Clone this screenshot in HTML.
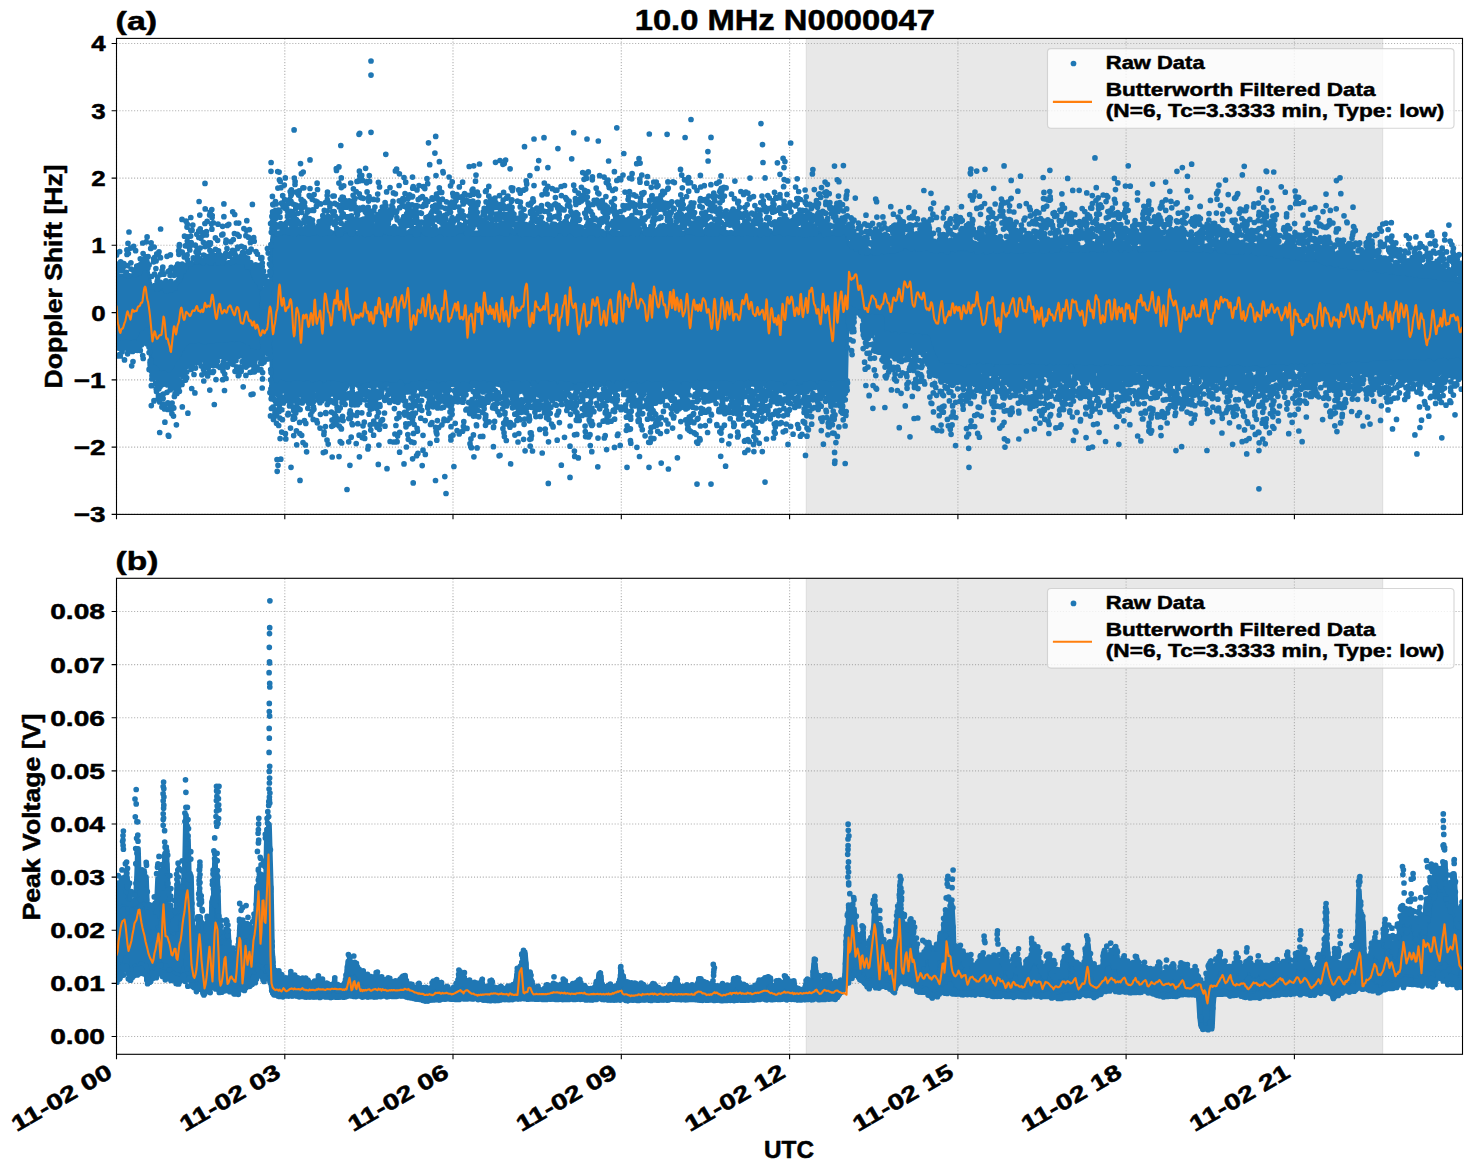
<!DOCTYPE html>
<html><head><meta charset="utf-8"><title>10.0 MHz N0000047</title>
<style>html,body{margin:0;padding:0;background:#fff}svg{display:block}svg text{font-family:"Liberation Sans",sans-serif;font-weight:700}</style></head>
<body>
<svg width="1472" height="1172" viewBox="0 0 1472 1172" font-weight="bold" fill="#000">
<rect width="1472" height="1172" fill="#fff"/>
<defs><clipPath id="c1"><rect x="116.5" y="38.4" width="1346" height="476"/></clipPath><clipPath id="c2"><rect x="116.5" y="578.3" width="1346" height="476"/></clipPath></defs>
<rect x="806.3" y="38.4" width="576.4" height="476" fill="#e8e8e8"/>
<path d="M806.3 38.4V514.4M1382.7 38.4V514.4" stroke="#dcdcdc" stroke-width="1" fill="none"/>
<path d="M116.5 514.4V38.4M284.8 514.4V38.4M453 514.4V38.4M621.3 514.4V38.4M789.6 514.4V38.4M957.9 514.4V38.4M1126.1 514.4V38.4M1294.4 514.4V38.4M116.5 514.4H1462.5M116.5 447.1H1462.5M116.5 379.9H1462.5M116.5 312.6H1462.5M116.5 245.3H1462.5M116.5 178.1H1462.5M116.5 110.8H1462.5M116.5 43.5H1462.5" stroke="#b0b0b0" stroke-width="1.1" stroke-dasharray="1.1 1.83" fill="none"/>
<g clip-path="url(#c1)">
<path d="M113.5 274.9L114.5 274.9L115.5 274.9L116.5 274.9L117.5 274.9L118.5 274.9L119.5 274.9L120.5 274.9L121.5 274.9L122.5 274.9L123.5 274.9L124.5 274.9L125.5 274.9L126.5 274.9L127.5 274.9L128.5 274.9L129.5 274.9L130.5 274.9L131.5 274.9L132.5 274.9L133.5 274.9L134.5 274.9L135.5 274.9L136.5 274.9L137.5 274.9L138.5 273.9L139.5 272.4L140.5 270.9L141.5 269.4L142.5 268.1L143.5 267.8L144.5 267.6L145.5 267.3L146.5 267L147.5 267.5L148.5 272.4L149.5 277.3L150.5 282.1L151.5 286L152.5 286.4L153.5 286.8L154.5 287.1L155.5 287.5L156.5 287.9L157.5 288.3L158.5 288.7L159.5 288.9L160.5 289.1L161.5 289.3L162.5 289.4L163.5 289.6L164.5 289.8L165.5 290L166.5 290.2L167.5 290.4L168.5 290.6L169.5 290.8L170.5 291L171.5 291.2L172.5 291.4L173.5 289.8L174.5 288.1L175.5 286.4L176.5 284.7L177.5 283L178.5 281.3L179.5 279.6L180.5 278L181.5 276.3L182.5 274.6L183.5 273L184.5 271.3L185.5 269.7L186.5 268L187.5 266.3L188.5 264.7L189.5 263.1L190.5 263.1L191.5 263L192.5 263L193.5 263L194.5 262.9L195.5 262.9L196.5 262.9L197.5 262.8L198.5 262.8L199.5 262.7L200.5 262.7L201.5 262.7L202.5 262.6L203.5 262.6L204.5 262.6L205.5 262.5L206.5 262.5L207.5 262.4L208.5 262.4L209.5 262.4L210.5 262.3L211.5 262.3L212.5 262.3L213.5 262.2L214.5 262.2L215.5 262.1L216.5 262.1L217.5 262.1L218.5 262L219.5 262L220.5 261.9L221.5 261.9L222.5 261.9L223.5 261.8L224.5 261.8L225.5 261.8L226.5 261.7L227.5 261.7L228.5 261.6L229.5 261.6L230.5 261.6L231.5 261.5L232.5 261.5L233.5 261.5L234.5 261.4L235.5 261.4L236.5 261.3L237.5 261.3L238.5 261.3L239.5 261.2L240.5 261.2L241.5 261.2L242.5 261.1L243.5 262L244.5 263.1L245.5 264.3L246.5 265.4L247.5 266.5L248.5 267.7L249.5 268.8L250.5 269.9L251.5 271.1L252.5 272.2L253.5 273.3L254.5 275L255.5 277.2L256.5 279.3L257.5 281.5L258.5 283.6L259.5 285.7L260.5 286.7L261.5 286.1L262.5 307.4L263.5 306.8L264.5 306.2L265.5 305.6L266.5 305L267.5 304.4L268.5 303.8L269.5 297.5L270.5 283.9L271.5 239.6L272.5 231.9L273.5 231.9L274.5 231.9L275.5 231.9L276.5 231.9L277.5 231.9L278.5 231.9L279.5 231.9L280.5 231.9L281.5 231.9L282.5 231.9L283.5 231.9L284.5 231.9L285.5 231.9L286.5 231.9L287.5 231.9L288.5 231.9L289.5 231.9L290.5 231.9L291.5 231.9L292.5 231.9L293.5 231.9L294.5 231.9L295.5 231.9L296.5 231.9L297.5 231.9L298.5 231.9L299.5 231.9L300.5 231.9L301.5 231.9L302.5 231.9L303.5 231.9L304.5 231.9L305.5 231.9L306.5 231.9L307.5 231.9L308.5 231.9L309.5 231.9L310.5 231.9L311.5 231.9L312.5 231.9L313.5 231.9L314.5 231.9L315.5 231.9L316.5 231.9L317.5 231.9L318.5 231.9L319.5 231.9L320.5 231.9L321.5 231.9L322.5 231.9L323.5 231.9L324.5 231.9L325.5 231.9L326.5 231.9L327.5 231.9L328.5 231.9L329.5 231.9L330.5 231.9L331.5 231.9L332.5 231.9L333.5 231.9L334.5 231.9L335.5 231.9L336.5 231.9L337.5 231.9L338.5 231.9L339.5 231.9L340.5 231.9L341.5 231.9L342.5 231.9L343.5 231.9L344.5 231.9L345.5 231.9L346.5 231.9L347.5 231.9L348.5 231.9L349.5 231.9L350.5 231.9L351.5 231.9L352.5 231.9L353.5 231.9L354.5 231.9L355.5 231.9L356.5 231.9L357.5 231.9L358.5 231.9L359.5 231.9L360.5 231.9L361.5 231.9L362.5 231.9L363.5 231.9L364.5 231.9L365.5 231.9L366.5 231.9L367.5 231.9L368.5 231.9L369.5 231.9L370.5 231.9L371.5 231.9L372.5 231.9L373.5 231.9L374.5 231.9L375.5 231.9L376.5 231.9L377.5 231.9L378.5 231.9L379.5 231.9L380.5 231.9L381.5 231.9L382.5 231.9L383.5 231.9L384.5 231.9L385.5 231.9L386.5 231.9L387.5 231.9L388.5 231.9L389.5 231.9L390.5 231.9L391.5 231.9L392.5 231.9L393.5 231.9L394.5 231.9L395.5 231.9L396.5 231.9L397.5 231.9L398.5 231.9L399.5 231.9L400.5 231.9L401.5 231.9L402.5 231.9L403.5 231.9L404.5 231.9L405.5 231.9L406.5 231.9L407.5 231.9L408.5 231.9L409.5 231.9L410.5 231.9L411.5 231.9L412.5 231.9L413.5 231.9L414.5 231.9L415.5 231.9L416.5 231.9L417.5 231.9L418.5 231.9L419.5 231.9L420.5 231.9L421.5 231.9L422.5 231.9L423.5 231.9L424.5 231.9L425.5 231.9L426.5 231.9L427.5 231.9L428.5 231.9L429.5 231.9L430.5 231.9L431.5 231.9L432.5 231.9L433.5 231.9L434.5 231.9L435.5 231.9L436.5 231.9L437.5 231.9L438.5 231.9L439.5 231.9L440.5 231.9L441.5 231.9L442.5 231.9L443.5 231.9L444.5 231.9L445.5 231.9L446.5 231.9L447.5 231.9L448.5 231.9L449.5 231.9L450.5 231.9L451.5 231.9L452.5 231.9L453.5 231.9L454.5 231.9L455.5 231.9L456.5 231.9L457.5 231.9L458.5 231.9L459.5 231.9L460.5 231.9L461.5 231.9L462.5 231.9L463.5 231.9L464.5 231.9L465.5 231.9L466.5 231.9L467.5 231.9L468.5 231.9L469.5 231.9L470.5 231.9L471.5 231.9L472.5 231.9L473.5 231.9L474.5 231.9L475.5 231.9L476.5 231.9L477.5 231.9L478.5 231.9L479.5 231.9L480.5 231.9L481.5 231.9L482.5 231.9L483.5 231.9L484.5 231.9L485.5 231.9L486.5 231.9L487.5 231.9L488.5 231.9L489.5 231.9L490.5 231.9L491.5 231.9L492.5 231.9L493.5 231.9L494.5 231.9L495.5 231.9L496.5 231.9L497.5 231.9L498.5 231.9L499.5 231.9L500.5 231.9L501.5 231.9L502.5 231.9L503.5 231.9L504.5 231.9L505.5 231.9L506.5 231.9L507.5 231.9L508.5 231.9L509.5 231.9L510.5 231.9L511.5 231.9L512.5 231.9L513.5 231.9L514.5 231.9L515.5 231.9L516.5 231.9L517.5 231.9L518.5 231.9L519.5 231.9L520.5 231.9L521.5 231.9L522.5 231.9L523.5 231.9L524.5 231.9L525.5 231.9L526.5 231.9L527.5 231.9L528.5 231.9L529.5 231.9L530.5 231.9L531.5 231.9L532.5 231.9L533.5 231.9L534.5 231.9L535.5 231.9L536.5 231.9L537.5 231.9L538.5 231.9L539.5 231.9L540.5 231.9L541.5 231.9L542.5 231.9L543.5 231.9L544.5 231.9L545.5 231.9L546.5 231.9L547.5 231.9L548.5 231.9L549.5 231.9L550.5 231.9L551.5 231.9L552.5 231.9L553.5 231.9L554.5 231.9L555.5 231.9L556.5 231.9L557.5 231.9L558.5 231.9L559.5 231.9L560.5 231.9L561.5 231.9L562.5 231.9L563.5 231.9L564.5 231.9L565.5 231.9L566.5 231.9L567.5 231.9L568.5 231.9L569.5 231.9L570.5 231.9L571.5 231.9L572.5 231.9L573.5 231.9L574.5 231.9L575.5 231.9L576.5 231.9L577.5 231.9L578.5 231.9L579.5 231.9L580.5 231.9L581.5 231.9L582.5 231.9L583.5 231.9L584.5 231.9L585.5 231.9L586.5 231.9L587.5 231.9L588.5 231.9L589.5 231.9L590.5 231.9L591.5 231.9L592.5 231.9L593.5 231.9L594.5 231.9L595.5 231.9L596.5 231.9L597.5 231.9L598.5 231.9L599.5 231.9L600.5 231.9L601.5 231.9L602.5 231.9L603.5 231.9L604.5 231.9L605.5 231.9L606.5 231.9L607.5 231.9L608.5 231.9L609.5 231.9L610.5 231.9L611.5 231.9L612.5 231.9L613.5 231.9L614.5 231.9L615.5 231.9L616.5 231.9L617.5 231.9L618.5 231.9L619.5 231.9L620.5 231.9L621.5 231.9L622.5 231.9L623.5 231.9L624.5 231.9L625.5 231.9L626.5 231.9L627.5 231.9L628.5 231.9L629.5 231.9L630.5 231.9L631.5 231.9L632.5 231.9L633.5 231.9L634.5 231.9L635.5 231.9L636.5 231.9L637.5 231.9L638.5 231.9L639.5 231.9L640.5 231.9L641.5 231.9L642.5 231.9L643.5 231.9L644.5 231.9L645.5 231.9L646.5 231.9L647.5 231.9L648.5 231.9L649.5 231.9L650.5 231.9L651.5 231.9L652.5 231.9L653.5 231.9L654.5 231.9L655.5 231.9L656.5 231.9L657.5 231.9L658.5 231.9L659.5 231.9L660.5 231.9L661.5 231.9L662.5 231.9L663.5 231.9L664.5 231.9L665.5 231.9L666.5 231.9L667.5 231.9L668.5 231.9L669.5 231.9L670.5 231.9L671.5 231.9L672.5 231.9L673.5 231.9L674.5 231.9L675.5 231.9L676.5 231.9L677.5 231.9L678.5 231.9L679.5 231.9L680.5 231.9L681.5 231.9L682.5 231.9L683.5 231.9L684.5 231.9L685.5 231.9L686.5 231.9L687.5 231.9L688.5 231.9L689.5 231.9L690.5 231.9L691.5 231.9L692.5 231.9L693.5 231.9L694.5 231.9L695.5 231.9L696.5 231.9L697.5 231.9L698.5 231.9L699.5 231.9L700.5 231.9L701.5 231.9L702.5 231.9L703.5 231.9L704.5 231.9L705.5 231.9L706.5 231.9L707.5 231.9L708.5 231.9L709.5 231.9L710.5 231.9L711.5 231.9L712.5 231.9L713.5 231.9L714.5 231.9L715.5 231.9L716.5 231.9L717.5 231.9L718.5 231.9L719.5 231.9L720.5 231.9L721.5 231.9L722.5 231.9L723.5 231.9L724.5 231.9L725.5 231.9L726.5 231.9L727.5 231.9L728.5 231.9L729.5 231.9L730.5 231.9L731.5 231.9L732.5 231.9L733.5 231.9L734.5 231.9L735.5 231.9L736.5 231.9L737.5 231.9L738.5 231.9L739.5 231.9L740.5 231.9L741.5 231.9L742.5 231.9L743.5 231.9L744.5 231.9L745.5 231.9L746.5 231.9L747.5 231.9L748.5 231.9L749.5 231.9L750.5 231.9L751.5 231.9L752.5 231.9L753.5 231.9L754.5 231.9L755.5 231.9L756.5 231.9L757.5 231.9L758.5 231.9L759.5 231.9L760.5 231.9L761.5 231.9L762.5 231.9L763.5 231.9L764.5 231.9L765.5 231.9L766.5 231.9L767.5 231.9L768.5 231.9L769.5 231.9L770.5 231.9L771.5 231.9L772.5 231.9L773.5 231.9L774.5 231.9L775.5 231.9L776.5 231.9L777.5 231.9L778.5 231.9L779.5 231.9L780.5 231.9L781.5 231.9L782.5 231.9L783.5 231.9L784.5 231.9L785.5 231.9L786.5 231.9L787.5 231.9L788.5 231.9L789.5 231.9L790.5 231.9L791.5 231.9L792.5 231.9L793.5 231.9L794.5 231.9L795.5 231.9L796.5 231.9L797.5 231.9L798.5 231.9L799.5 231.9L800.5 231.9L801.5 231.9L802.5 231.9L803.5 231.9L804.5 231.9L805.5 231.9L806.5 231.9L807.5 231.9L808.5 231.9L809.5 231.9L810.5 231.9L811.5 231.9L812.5 231.9L813.5 231.9L814.5 231.9L815.5 231.9L816.5 231.9L817.5 231.9L818.5 231.9L819.5 231.9L820.5 231.9L821.5 231.9L822.5 231.9L823.5 231.9L824.5 231.9L825.5 231.9L826.5 231.9L827.5 231.9L828.5 231.9L829.5 231.9L830.5 231.9L831.5 231.9L832.5 231.9L833.5 231.9L834.5 231.9L835.5 231.9L836.5 231.9L837.5 231.9L838.5 231.9L839.5 231.9L840.5 231.9L841.5 231.9L842.5 231.9L843.5 231.9L844.5 231.9L845.5 231.9L846.5 231.9L847.5 240.3L848.5 243.5L849.5 244L850.5 244.6L851.5 245.2L852.5 245.7L853.5 246.3L854.5 246.9L855.5 247.5L856.5 248L857.5 248.6L858.5 249.2L859.5 249.7L860.5 250.3L861.5 250.9L862.5 251.5L863.5 252L864.5 252.6L865.5 253L866.5 252.9L867.5 252.8L868.5 252.6L869.5 252.5L870.5 252.4L871.5 252.2L872.5 252.1L873.5 252L874.5 251.9L875.5 251.7L876.5 251.6L877.5 251.5L878.5 251.3L879.5 251.2L880.5 251.1L881.5 250.9L882.5 250.8L883.5 250.7L884.5 250.5L885.5 250.4L886.5 250.3L887.5 250.2L888.5 250L889.5 249.9L890.5 249.8L891.5 249.6L892.5 249.5L893.5 249.4L894.5 249.2L895.5 249.1L896.5 249L897.5 248.9L898.5 248.9L899.5 248.8L900.5 248.7L901.5 248.7L902.5 248.6L903.5 248.5L904.5 248.5L905.5 248.4L906.5 248.3L907.5 248.3L908.5 248.2L909.5 248.1L910.5 248.1L911.5 248L912.5 248L913.5 247.9L914.5 247.8L915.5 247.8L916.5 247.7L917.5 247.6L918.5 247.6L919.5 247.5L920.5 247.4L921.5 247.4L922.5 247.3L923.5 247.2L924.5 247.2L925.5 247.1L926.5 247L927.5 247.1L928.5 247.4L929.5 247.7L930.5 247.9L931.5 248.2L932.5 248.5L933.5 248.8L934.5 249L935.5 249.3L936.5 249.6L937.5 249.8L938.5 250L939.5 250L940.5 250L941.5 250L942.5 250L943.5 250L944.5 250L945.5 249.9L946.5 249.9L947.5 249.9L948.5 249.9L949.5 249.9L950.5 249.9L951.5 249.9L952.5 249.9L953.5 249.8L954.5 249.8L955.5 249.8L956.5 249.8L957.5 249.8L958.5 249.8L959.5 249.8L960.5 249.8L961.5 249.7L962.5 249.7L963.5 249.7L964.5 249.7L965.5 249.7L966.5 249.7L967.5 249.7L968.5 249.7L969.5 249.6L970.5 249.6L971.5 249.6L972.5 249.6L973.5 249.6L974.5 249.6L975.5 249.6L976.5 249.6L977.5 249.5L978.5 249.5L979.5 249.5L980.5 249.5L981.5 249.5L982.5 249.5L983.5 249.5L984.5 249.5L985.5 249.4L986.5 249.4L987.5 249.4L988.5 249.4L989.5 249.4L990.5 249.4L991.5 249.4L992.5 249.4L993.5 249.3L994.5 249.3L995.5 249.3L996.5 249.3L997.5 249.3L998.5 249.3L999.5 249.3L1000.5 249.3L1001.5 249.2L1002.5 249.2L1003.5 249.2L1004.5 249.2L1005.5 249.2L1006.5 249.2L1007.5 249.2L1008.5 249.2L1009.5 249.1L1010.5 249.1L1011.5 249.1L1012.5 249.1L1013.5 249.1L1014.5 249.1L1015.5 249.1L1016.5 249.1L1017.5 249L1018.5 249L1019.5 249L1020.5 249L1021.5 249L1022.5 249L1023.5 249L1024.5 249L1025.5 248.9L1026.5 248.9L1027.5 248.9L1028.5 248.9L1029.5 248.9L1030.5 248.9L1031.5 248.9L1032.5 248.9L1033.5 248.8L1034.5 248.8L1035.5 248.8L1036.5 248.8L1037.5 248.8L1038.5 248.8L1039.5 248.8L1040.5 248.8L1041.5 248.7L1042.5 248.7L1043.5 248.7L1044.5 248.7L1045.5 248.7L1046.5 248.7L1047.5 248.7L1048.5 248.7L1049.5 248.6L1050.5 248.6L1051.5 248.6L1052.5 248.6L1053.5 248.6L1054.5 248.6L1055.5 248.6L1056.5 248.6L1057.5 248.5L1058.5 248.5L1059.5 248.5L1060.5 248.5L1061.5 248.5L1062.5 248.5L1063.5 248.5L1064.5 248.5L1065.5 248.4L1066.5 248.4L1067.5 248.4L1068.5 248.4L1069.5 248.4L1070.5 248.4L1071.5 248.4L1072.5 248.4L1073.5 248.4L1074.5 248.3L1075.5 248.3L1076.5 248.3L1077.5 248.3L1078.5 248.3L1079.5 248.3L1080.5 248.3L1081.5 248.3L1082.5 248.2L1083.5 248.2L1084.5 248.2L1085.5 248.2L1086.5 248.2L1087.5 248.2L1088.5 248.2L1089.5 248.2L1090.5 248.1L1091.5 248.1L1092.5 248.1L1093.5 248.1L1094.5 248.1L1095.5 248.1L1096.5 248.1L1097.5 248.1L1098.5 248L1099.5 248L1100.5 248L1101.5 248L1102.5 248L1103.5 248L1104.5 248L1105.5 248L1106.5 247.9L1107.5 247.9L1108.5 247.9L1109.5 247.9L1110.5 247.9L1111.5 247.9L1112.5 247.9L1113.5 247.9L1114.5 247.8L1115.5 247.8L1116.5 247.8L1117.5 247.8L1118.5 247.8L1119.5 247.8L1120.5 247.8L1121.5 247.8L1122.5 247.7L1123.5 247.7L1124.5 247.7L1125.5 247.7L1126.5 247.7L1127.5 247.7L1128.5 247.7L1129.5 247.7L1130.5 247.6L1131.5 247.6L1132.5 247.6L1133.5 247.6L1134.5 247.6L1135.5 247.6L1136.5 247.6L1137.5 247.6L1138.5 247.5L1139.5 247.5L1140.5 247.5L1141.5 247.5L1142.5 247.5L1143.5 247.5L1144.5 247.5L1145.5 247.5L1146.5 247.4L1147.5 247.4L1148.5 247.4L1149.5 247.4L1150.5 247.4L1151.5 247.4L1152.5 247.4L1153.5 247.4L1154.5 247.3L1155.5 247.3L1156.5 247.3L1157.5 247.3L1158.5 247.3L1159.5 247.3L1160.5 247.3L1161.5 247.3L1162.5 247.2L1163.5 247.2L1164.5 247.2L1165.5 247.2L1166.5 247.2L1167.5 247.2L1168.5 247.2L1169.5 247.2L1170.5 247.1L1171.5 247.1L1172.5 247.1L1173.5 247.1L1174.5 247.1L1175.5 247.1L1176.5 247.1L1177.5 247.1L1178.5 247L1179.5 247L1180.5 247L1181.5 247L1182.5 247L1183.5 247.1L1184.5 247.1L1185.5 247.2L1186.5 247.3L1187.5 247.3L1188.5 247.4L1189.5 247.4L1190.5 247.5L1191.5 247.6L1192.5 247.6L1193.5 247.7L1194.5 247.7L1195.5 247.8L1196.5 247.9L1197.5 247.9L1198.5 248L1199.5 248L1200.5 248.1L1201.5 248.2L1202.5 248.2L1203.5 248.3L1204.5 248.3L1205.5 248.4L1206.5 248.5L1207.5 248.5L1208.5 248.6L1209.5 248.6L1210.5 248.7L1211.5 248.8L1212.5 248.8L1213.5 248.9L1214.5 248.9L1215.5 249L1216.5 249.1L1217.5 249.1L1218.5 249.2L1219.5 249.2L1220.5 249.3L1221.5 249.4L1222.5 249.4L1223.5 249.5L1224.5 249.5L1225.5 249.6L1226.5 249.7L1227.5 249.7L1228.5 249.8L1229.5 249.8L1230.5 249.9L1231.5 250L1232.5 250L1233.5 250.1L1234.5 250.1L1235.5 250.2L1236.5 250.3L1237.5 250.3L1238.5 250.4L1239.5 250.4L1240.5 250.5L1241.5 250.6L1242.5 250.6L1243.5 250.7L1244.5 250.7L1245.5 250.8L1246.5 250.9L1247.5 250.9L1248.5 251L1249.5 251L1250.5 251.1L1251.5 251.2L1252.5 251.2L1253.5 251.3L1254.5 251.3L1255.5 251.4L1256.5 251.5L1257.5 251.5L1258.5 251.6L1259.5 251.6L1260.5 251.7L1261.5 251.8L1262.5 251.8L1263.5 251.9L1264.5 251.9L1265.5 252L1266.5 252.1L1267.5 252.2L1268.5 252.4L1269.5 252.6L1270.5 252.7L1271.5 252.9L1272.5 253L1273.5 253.2L1274.5 253.4L1275.5 253.5L1276.5 253.7L1277.5 253.8L1278.5 254L1279.5 254.2L1280.5 254.3L1281.5 254.5L1282.5 254.6L1283.5 254.8L1284.5 255L1285.5 255.1L1286.5 255.3L1287.5 255.4L1288.5 255.6L1289.5 255.7L1290.5 255.9L1291.5 256.1L1292.5 256.2L1293.5 256.4L1294.5 256.5L1295.5 256.7L1296.5 256.9L1297.5 257L1298.5 257.2L1299.5 257.3L1300.5 257.5L1301.5 257.7L1302.5 257.8L1303.5 258L1304.5 258.1L1305.5 258.3L1306.5 258.5L1307.5 258.6L1308.5 258.8L1309.5 258.9L1310.5 259.1L1311.5 259.3L1312.5 259.4L1313.5 259.6L1314.5 259.7L1315.5 259.9L1316.5 260.1L1317.5 260.2L1318.5 260.4L1319.5 260.5L1320.5 260.7L1321.5 260.9L1322.5 261L1323.5 261.2L1324.5 261.3L1325.5 261.5L1326.5 261.7L1327.5 261.8L1328.5 262L1329.5 262.1L1330.5 262.3L1331.5 262.5L1332.5 262.6L1333.5 262.8L1334.5 262.9L1335.5 263.1L1336.5 263.3L1337.5 263.4L1338.5 263.6L1339.5 263.7L1340.5 263.9L1341.5 264.1L1342.5 264.2L1343.5 264.4L1344.5 264.5L1345.5 264.7L1346.5 264.9L1347.5 265L1348.5 265.2L1349.5 265.3L1350.5 265.5L1351.5 265.6L1352.5 265.8L1353.5 265.9L1354.5 266L1355.5 266.1L1356.5 266.3L1357.5 266.4L1358.5 266.5L1359.5 266.6L1360.5 266.8L1361.5 266.9L1362.5 267L1363.5 267.1L1364.5 267.3L1365.5 267.4L1366.5 267.5L1367.5 267.6L1368.5 267.8L1369.5 267.9L1370.5 268L1371.5 268.1L1372.5 268.3L1373.5 268.4L1374.5 268.5L1375.5 268.7L1376.5 268.8L1377.5 268.9L1378.5 269L1379.5 269.2L1380.5 269.3L1381.5 269.4L1382.5 269.5L1383.5 269.7L1384.5 269.8L1385.5 269.9L1386.5 270L1387.5 270.2L1388.5 270.3L1389.5 270.4L1390.5 270.5L1391.5 270.7L1392.5 270.8L1393.5 270.9L1394.5 271L1395.5 271.2L1396.5 271.3L1397.5 271.4L1398.5 271.5L1399.5 271.7L1400.5 271.8L1401.5 271.9L1402.5 272.1L1403.5 272.2L1404.5 272.3L1405.5 272.4L1406.5 272.6L1407.5 272.7L1408.5 272.8L1409.5 273L1410.5 273.1L1411.5 273.2L1412.5 273.4L1413.5 273.5L1414.5 273.7L1415.5 273.8L1416.5 273.9L1417.5 274.1L1418.5 274.2L1419.5 274.3L1420.5 274.5L1421.5 274.6L1422.5 274.8L1423.5 274.9L1424.5 275L1425.5 275.2L1426.5 275.3L1427.5 275.5L1428.5 275.6L1429.5 275.7L1430.5 275.9L1431.5 276L1432.5 276.1L1433.5 276.3L1434.5 276.4L1435.5 276.6L1436.5 276.7L1437.5 276.8L1438.5 277L1439.5 277.1L1440.5 277.2L1441.5 277.4L1442.5 277.5L1443.5 277.7L1444.5 277.8L1445.5 277.9L1446.5 278.1L1447.5 278.2L1448.5 278.3L1449.5 278.5L1450.5 278.6L1451.5 278.8L1452.5 278.9L1453.5 279L1454.5 279.2L1455.5 279.3L1456.5 279.5L1457.5 279.6L1458.5 279.7L1459.5 279.9L1460.5 280L1461.5 280.1L1462.5 280.3L1463.5 280.3L1464.5 280.3L1465.5 280.3L1465.5 361L1464.5 361L1463.5 361L1462.5 361L1461.5 361.1L1460.5 361.1L1459.5 361.2L1458.5 361.2L1457.5 361.2L1456.5 361.3L1455.5 361.3L1454.5 361.4L1453.5 361.4L1452.5 361.5L1451.5 361.5L1450.5 361.5L1449.5 361.6L1448.5 361.6L1447.5 361.7L1446.5 361.7L1445.5 361.7L1444.5 361.8L1443.5 361.8L1442.5 361.9L1441.5 361.9L1440.5 362L1439.5 362L1438.5 362L1437.5 362.1L1436.5 362.1L1435.5 362.2L1434.5 362.2L1433.5 362.2L1432.5 362.3L1431.5 362.3L1430.5 362.4L1429.5 362.4L1428.5 362.5L1427.5 362.5L1426.5 362.5L1425.5 362.6L1424.5 362.6L1423.5 362.7L1422.5 362.7L1421.5 362.8L1420.5 362.8L1419.5 362.8L1418.5 362.9L1417.5 362.9L1416.5 363L1415.5 363L1414.5 363L1413.5 363.1L1412.5 363.1L1411.5 363.2L1410.5 363.2L1409.5 363.3L1408.5 363.3L1407.5 363.3L1406.5 363.4L1405.5 363.4L1404.5 363.5L1403.5 363.5L1402.5 363.6L1401.5 363.7L1400.5 363.7L1399.5 363.8L1398.5 363.8L1397.5 363.9L1396.5 363.9L1395.5 364L1394.5 364L1393.5 364.1L1392.5 364.1L1391.5 364.2L1390.5 364.2L1389.5 364.3L1388.5 364.4L1387.5 364.4L1386.5 364.5L1385.5 364.5L1384.5 364.6L1383.5 364.6L1382.5 364.7L1381.5 364.7L1380.5 364.8L1379.5 364.8L1378.5 364.9L1377.5 364.9L1376.5 365L1375.5 365.1L1374.5 365.1L1373.5 365.2L1372.5 365.2L1371.5 365.3L1370.5 365.3L1369.5 365.4L1368.5 365.4L1367.5 365.5L1366.5 365.5L1365.5 365.6L1364.5 365.6L1363.5 365.7L1362.5 365.8L1361.5 365.8L1360.5 365.9L1359.5 365.9L1358.5 366L1357.5 366L1356.5 366.1L1355.5 366.1L1354.5 366.2L1353.5 366.2L1352.5 366.3L1351.5 366.4L1350.5 366.4L1349.5 366.4L1348.5 366.5L1347.5 366.5L1346.5 366.5L1345.5 366.6L1344.5 366.6L1343.5 366.6L1342.5 366.7L1341.5 366.7L1340.5 366.7L1339.5 366.8L1338.5 366.8L1337.5 366.8L1336.5 366.9L1335.5 366.9L1334.5 366.9L1333.5 366.9L1332.5 367L1331.5 367L1330.5 367L1329.5 367.1L1328.5 367.1L1327.5 367.1L1326.5 367.2L1325.5 367.2L1324.5 367.2L1323.5 367.3L1322.5 367.3L1321.5 367.3L1320.5 367.4L1319.5 367.4L1318.5 367.4L1317.5 367.5L1316.5 367.5L1315.5 367.5L1314.5 367.6L1313.5 367.6L1312.5 367.6L1311.5 367.7L1310.5 367.7L1309.5 367.7L1308.5 367.7L1307.5 367.8L1306.5 367.8L1305.5 367.8L1304.5 367.9L1303.5 367.9L1302.5 367.9L1301.5 368L1300.5 368L1299.5 368L1298.5 368.1L1297.5 368.1L1296.5 368.1L1295.5 368.2L1294.5 368.2L1293.5 368.2L1292.5 368.3L1291.5 368.3L1290.5 368.3L1289.5 368.4L1288.5 368.4L1287.5 368.4L1286.5 368.5L1285.5 368.5L1284.5 368.5L1283.5 368.5L1282.5 368.6L1281.5 368.6L1280.5 368.6L1279.5 368.7L1278.5 368.7L1277.5 368.7L1276.5 368.8L1275.5 368.8L1274.5 368.8L1273.5 368.9L1272.5 368.9L1271.5 368.9L1270.5 369L1269.5 369L1268.5 369L1267.5 369.1L1266.5 369.1L1265.5 369.1L1264.5 369.1L1263.5 369.1L1262.5 369.1L1261.5 369.2L1260.5 369.2L1259.5 369.2L1258.5 369.2L1257.5 369.2L1256.5 369.2L1255.5 369.2L1254.5 369.2L1253.5 369.3L1252.5 369.3L1251.5 369.3L1250.5 369.3L1249.5 369.3L1248.5 369.3L1247.5 369.3L1246.5 369.3L1245.5 369.3L1244.5 369.4L1243.5 369.4L1242.5 369.4L1241.5 369.4L1240.5 369.4L1239.5 369.4L1238.5 369.4L1237.5 369.4L1236.5 369.5L1235.5 369.5L1234.5 369.5L1233.5 369.5L1232.5 369.5L1231.5 369.5L1230.5 369.5L1229.5 369.5L1228.5 369.6L1227.5 369.6L1226.5 369.6L1225.5 369.6L1224.5 369.6L1223.5 369.6L1222.5 369.6L1221.5 369.6L1220.5 369.6L1219.5 369.7L1218.5 369.7L1217.5 369.7L1216.5 369.7L1215.5 369.7L1214.5 369.7L1213.5 369.7L1212.5 369.7L1211.5 369.8L1210.5 369.8L1209.5 369.8L1208.5 369.8L1207.5 369.8L1206.5 369.8L1205.5 369.8L1204.5 369.8L1203.5 369.9L1202.5 369.9L1201.5 369.9L1200.5 369.9L1199.5 369.9L1198.5 369.9L1197.5 369.9L1196.5 369.9L1195.5 369.9L1194.5 370L1193.5 370L1192.5 370L1191.5 370L1190.5 370L1189.5 370L1188.5 370L1187.5 370L1186.5 370.1L1185.5 370.1L1184.5 370.1L1183.5 370.1L1182.5 370.1L1181.5 370.1L1180.5 370.1L1179.5 370.1L1178.5 370.1L1177.5 370L1176.5 370L1175.5 370L1174.5 370L1173.5 370L1172.5 370L1171.5 370L1170.5 370L1169.5 369.9L1168.5 369.9L1167.5 369.9L1166.5 369.9L1165.5 369.9L1164.5 369.9L1163.5 369.9L1162.5 369.9L1161.5 369.8L1160.5 369.8L1159.5 369.8L1158.5 369.8L1157.5 369.8L1156.5 369.8L1155.5 369.8L1154.5 369.8L1153.5 369.7L1152.5 369.7L1151.5 369.7L1150.5 369.7L1149.5 369.7L1148.5 369.7L1147.5 369.7L1146.5 369.7L1145.5 369.7L1144.5 369.6L1143.5 369.6L1142.5 369.6L1141.5 369.6L1140.5 369.6L1139.5 369.6L1138.5 369.6L1137.5 369.6L1136.5 369.5L1135.5 369.5L1134.5 369.5L1133.5 369.5L1132.5 369.5L1131.5 369.5L1130.5 369.5L1129.5 369.5L1128.5 369.4L1127.5 369.4L1126.5 369.4L1125.5 369.4L1124.5 369.4L1123.5 369.4L1122.5 369.4L1121.5 369.4L1120.5 369.3L1119.5 369.3L1118.5 369.3L1117.5 369.3L1116.5 369.3L1115.5 369.3L1114.5 369.3L1113.5 369.3L1112.5 369.2L1111.5 369.2L1110.5 369.2L1109.5 369.2L1108.5 369.2L1107.5 369.2L1106.5 369.2L1105.5 369.2L1104.5 369.1L1103.5 369.1L1102.5 369.1L1101.5 369.1L1100.5 369.1L1099.5 369.1L1098.5 369.1L1097.5 369.1L1096.5 369L1095.5 369L1094.5 369L1093.5 369L1092.5 369L1091.5 369L1090.5 369L1089.5 369L1088.5 368.9L1087.5 368.9L1086.5 368.9L1085.5 368.9L1084.5 368.9L1083.5 368.9L1082.5 368.9L1081.5 368.9L1080.5 368.8L1079.5 368.8L1078.5 368.8L1077.5 368.8L1076.5 368.8L1075.5 368.8L1074.5 368.8L1073.5 368.8L1072.5 368.7L1071.5 368.7L1070.5 368.7L1069.5 368.7L1068.5 368.7L1067.5 368.7L1066.5 368.7L1065.5 368.7L1064.5 368.6L1063.5 368.6L1062.5 368.6L1061.5 368.6L1060.5 368.6L1059.5 368.6L1058.5 368.6L1057.5 368.6L1056.5 368.5L1055.5 368.5L1054.5 368.5L1053.5 368.5L1052.5 368.5L1051.5 368.5L1050.5 368.5L1049.5 368.5L1048.5 368.4L1047.5 368.4L1046.5 368.4L1045.5 368.4L1044.5 368.4L1043.5 368.4L1042.5 368.4L1041.5 368.4L1040.5 368.3L1039.5 368.3L1038.5 368.3L1037.5 368.3L1036.5 368.3L1035.5 368.3L1034.5 368.3L1033.5 368.3L1032.5 368.2L1031.5 368.2L1030.5 368.2L1029.5 368.2L1028.5 368.2L1027.5 368.2L1026.5 368.2L1025.5 368.2L1024.5 368.1L1023.5 368.1L1022.5 368.1L1021.5 368.1L1020.5 368.1L1019.5 368.1L1018.5 368.1L1017.5 368.1L1016.5 368L1015.5 368L1014.5 368L1013.5 368L1012.5 368L1011.5 368L1010.5 368L1009.5 368L1008.5 368L1007.5 367.9L1006.5 367.9L1005.5 367.9L1004.5 367.9L1003.5 367.9L1002.5 367.9L1001.5 367.9L1000.5 367.9L999.5 367.8L998.5 367.8L997.5 367.8L996.5 367.8L995.5 367.8L994.5 367.8L993.5 367.8L992.5 367.8L991.5 367.7L990.5 367.7L989.5 367.7L988.5 367.7L987.5 367.7L986.5 367.7L985.5 367.7L984.5 367.7L983.5 367.6L982.5 367.6L981.5 367.6L980.5 367.6L979.5 367.6L978.5 367.6L977.5 367.6L976.5 367.6L975.5 367.5L974.5 367.5L973.5 367.5L972.5 367.5L971.5 367.5L970.5 367.5L969.5 367.5L968.5 367.5L967.5 367.4L966.5 367.4L965.5 367.4L964.5 367.4L963.5 367.4L962.5 367.4L961.5 367.4L960.5 367.4L959.5 367.3L958.5 367.3L957.5 367.3L956.5 367.3L955.5 367.3L954.5 367.3L953.5 367.3L952.5 367.3L951.5 367.2L950.5 367.2L949.5 367.2L948.5 367.2L947.5 367.2L946.5 367.2L945.5 367.2L944.5 367.2L943.5 367.1L942.5 367.1L941.5 367.1L940.5 367.1L939.5 367.1L938.5 367.1L937.5 365.2L936.5 362.6L935.5 360L934.5 357.4L933.5 354.8L932.5 352.2L931.5 349.6L930.5 346.9L929.5 344.3L928.5 341.7L927.5 339.1L926.5 337.8L925.5 337.7L924.5 337.7L923.5 337.6L922.5 337.5L921.5 337.5L920.5 337.4L919.5 337.3L918.5 337.3L917.5 337.2L916.5 337.1L915.5 337.1L914.5 337L913.5 336.9L912.5 336.9L911.5 336.8L910.5 336.7L909.5 336.7L908.5 336.6L907.5 336.5L906.5 336.5L905.5 336.4L904.5 336.3L903.5 336.3L902.5 336.2L901.5 336.1L900.5 336.1L899.5 336L898.5 336L897.5 335.9L896.5 335.8L895.5 335.7L894.5 335.6L893.5 335.5L892.5 335.3L891.5 335.2L890.5 335.1L889.5 334.9L888.5 334.8L887.5 334.7L886.5 334.5L885.5 334.4L884.5 334.3L883.5 334.1L882.5 334L881.5 318.7L880.5 318.6L879.5 318.5L878.5 318.4L877.5 318.3L876.5 318.3L875.5 318.2L874.5 318.1L873.5 318L872.5 317.9L871.5 317.8L870.5 317.8L869.5 317.7L868.5 317.6L867.5 317.5L866.5 317.4L865.5 317.3L864.5 316.9L863.5 316.3L862.5 315.7L861.5 315.2L860.5 314.6L859.5 314L858.5 313.4L857.5 312.9L856.5 312.3L855.5 311.7L854.5 311.2L853.5 310.6L852.5 310L851.5 309.5L850.5 308.9L849.5 308.3L848.5 307.7L847.5 336.8L846.5 385.2L845.5 385.2L844.5 385.2L843.5 385.2L842.5 385.2L841.5 385.2L840.5 385.2L839.5 385.2L838.5 385.2L837.5 385.2L836.5 385.2L835.5 385.2L834.5 385.2L833.5 385.2L832.5 385.2L831.5 385.2L830.5 385.2L829.5 385.2L828.5 385.2L827.5 385.2L826.5 385.2L825.5 385.2L824.5 385.2L823.5 385.2L822.5 385.2L821.5 385.2L820.5 385.2L819.5 385.2L818.5 385.2L817.5 385.2L816.5 385.2L815.5 385.2L814.5 385.2L813.5 385.2L812.5 385.2L811.5 385.2L810.5 385.2L809.5 385.2L808.5 385.2L807.5 385.2L806.5 385.2L805.5 385.2L804.5 385.2L803.5 385.2L802.5 385.2L801.5 385.2L800.5 385.2L799.5 385.2L798.5 385.2L797.5 385.2L796.5 385.2L795.5 385.2L794.5 385.2L793.5 385.2L792.5 385.2L791.5 385.2L790.5 385.2L789.5 385.2L788.5 385.2L787.5 385.2L786.5 385.2L785.5 385.2L784.5 385.2L783.5 385.2L782.5 385.2L781.5 385.2L780.5 385.2L779.5 385.2L778.5 385.2L777.5 385.2L776.5 385.2L775.5 385.2L774.5 385.2L773.5 385.2L772.5 385.2L771.5 385.2L770.5 385.2L769.5 385.2L768.5 385.2L767.5 385.2L766.5 385.2L765.5 385.2L764.5 385.2L763.5 385.2L762.5 385.2L761.5 385.2L760.5 385.2L759.5 385.2L758.5 385.2L757.5 385.2L756.5 385.2L755.5 385.2L754.5 385.2L753.5 385.2L752.5 385.2L751.5 385.2L750.5 385.2L749.5 385.2L748.5 385.2L747.5 385.2L746.5 385.2L745.5 385.2L744.5 385.2L743.5 385.2L742.5 385.2L741.5 385.2L740.5 385.2L739.5 385.2L738.5 385.2L737.5 385.2L736.5 385.2L735.5 385.2L734.5 385.2L733.5 385.2L732.5 385.2L731.5 385.2L730.5 385.2L729.5 385.2L728.5 385.2L727.5 385.2L726.5 385.2L725.5 385.2L724.5 385.2L723.5 385.2L722.5 385.2L721.5 385.2L720.5 385.2L719.5 385.2L718.5 385.2L717.5 385.2L716.5 385.2L715.5 385.2L714.5 385.2L713.5 385.2L712.5 385.2L711.5 385.2L710.5 385.2L709.5 385.2L708.5 385.2L707.5 385.2L706.5 385.2L705.5 385.2L704.5 385.2L703.5 385.2L702.5 385.2L701.5 385.2L700.5 385.2L699.5 385.2L698.5 385.2L697.5 385.2L696.5 385.2L695.5 385.2L694.5 385.2L693.5 385.2L692.5 385.2L691.5 385.2L690.5 385.2L689.5 385.2L688.5 385.2L687.5 385.2L686.5 385.2L685.5 385.2L684.5 385.2L683.5 385.2L682.5 385.2L681.5 385.2L680.5 385.2L679.5 385.2L678.5 385.2L677.5 385.2L676.5 385.2L675.5 385.2L674.5 385.2L673.5 385.2L672.5 385.2L671.5 385.2L670.5 385.2L669.5 385.2L668.5 385.2L667.5 385.2L666.5 385.2L665.5 385.2L664.5 385.2L663.5 385.2L662.5 385.2L661.5 385.2L660.5 385.2L659.5 385.2L658.5 385.2L657.5 385.2L656.5 385.2L655.5 385.2L654.5 385.2L653.5 385.2L652.5 385.2L651.5 385.2L650.5 385.2L649.5 385.2L648.5 385.2L647.5 385.2L646.5 385.2L645.5 385.2L644.5 385.2L643.5 385.2L642.5 385.2L641.5 385.2L640.5 385.2L639.5 385.2L638.5 385.2L637.5 385.2L636.5 385.2L635.5 385.2L634.5 385.2L633.5 385.2L632.5 385.2L631.5 385.2L630.5 385.2L629.5 385.2L628.5 385.2L627.5 385.2L626.5 385.2L625.5 385.2L624.5 385.2L623.5 385.2L622.5 385.2L621.5 385.2L620.5 385.2L619.5 385.2L618.5 385.2L617.5 385.2L616.5 385.2L615.5 385.2L614.5 385.2L613.5 385.2L612.5 385.2L611.5 385.2L610.5 385.2L609.5 385.2L608.5 385.2L607.5 385.2L606.5 385.2L605.5 385.2L604.5 385.2L603.5 385.2L602.5 385.2L601.5 385.2L600.5 385.2L599.5 385.2L598.5 385.2L597.5 385.2L596.5 385.2L595.5 385.2L594.5 385.2L593.5 385.2L592.5 385.2L591.5 385.2L590.5 385.2L589.5 385.2L588.5 385.2L587.5 385.2L586.5 385.2L585.5 385.2L584.5 385.2L583.5 385.2L582.5 385.2L581.5 385.2L580.5 385.2L579.5 385.2L578.5 385.2L577.5 385.2L576.5 385.2L575.5 385.2L574.5 385.2L573.5 385.2L572.5 385.2L571.5 385.2L570.5 385.2L569.5 385.2L568.5 385.2L567.5 385.2L566.5 385.2L565.5 385.2L564.5 385.2L563.5 385.2L562.5 385.2L561.5 385.2L560.5 385.2L559.5 385.2L558.5 385.2L557.5 385.2L556.5 385.2L555.5 385.2L554.5 385.2L553.5 385.2L552.5 385.2L551.5 385.2L550.5 385.2L549.5 385.2L548.5 385.2L547.5 385.2L546.5 385.2L545.5 385.2L544.5 385.2L543.5 385.2L542.5 385.2L541.5 385.2L540.5 385.2L539.5 385.2L538.5 385.2L537.5 385.2L536.5 385.2L535.5 385.2L534.5 385.2L533.5 385.2L532.5 385.2L531.5 385.2L530.5 385.2L529.5 385.2L528.5 385.2L527.5 385.2L526.5 385.2L525.5 385.2L524.5 385.2L523.5 385.2L522.5 385.2L521.5 385.2L520.5 385.2L519.5 385.2L518.5 385.2L517.5 385.2L516.5 385.2L515.5 385.2L514.5 385.2L513.5 385.2L512.5 385.2L511.5 385.2L510.5 385.2L509.5 385.2L508.5 385.2L507.5 385.2L506.5 385.2L505.5 385.2L504.5 385.2L503.5 385.2L502.5 385.2L501.5 385.2L500.5 385.2L499.5 385.2L498.5 385.2L497.5 385.2L496.5 385.2L495.5 385.2L494.5 385.2L493.5 385.2L492.5 385.2L491.5 385.2L490.5 385.2L489.5 385.2L488.5 385.2L487.5 385.2L486.5 385.2L485.5 385.2L484.5 385.2L483.5 385.2L482.5 385.2L481.5 385.2L480.5 385.2L479.5 385.2L478.5 385.2L477.5 385.2L476.5 385.2L475.5 385.2L474.5 385.2L473.5 385.2L472.5 385.2L471.5 385.2L470.5 385.2L469.5 385.2L468.5 385.2L467.5 385.2L466.5 385.2L465.5 385.2L464.5 385.2L463.5 385.2L462.5 385.2L461.5 385.2L460.5 385.2L459.5 385.2L458.5 385.2L457.5 385.2L456.5 385.2L455.5 385.2L454.5 385.2L453.5 385.2L452.5 385.2L451.5 385.2L450.5 385.2L449.5 385.2L448.5 385.2L447.5 385.2L446.5 385.2L445.5 385.2L444.5 385.2L443.5 385.2L442.5 385.2L441.5 385.2L440.5 385.2L439.5 385.2L438.5 385.2L437.5 385.2L436.5 385.2L435.5 385.2L434.5 385.2L433.5 385.2L432.5 385.2L431.5 385.2L430.5 385.2L429.5 385.2L428.5 385.2L427.5 385.2L426.5 385.2L425.5 385.2L424.5 385.2L423.5 385.2L422.5 385.2L421.5 385.2L420.5 385.2L419.5 385.2L418.5 385.2L417.5 385.2L416.5 385.2L415.5 385.2L414.5 385.2L413.5 385.2L412.5 385.2L411.5 385.2L410.5 385.2L409.5 385.2L408.5 385.2L407.5 385.2L406.5 385.2L405.5 385.2L404.5 385.2L403.5 385.2L402.5 385.2L401.5 385.2L400.5 385.2L399.5 385.2L398.5 385.2L397.5 385.2L396.5 385.2L395.5 385.2L394.5 385.2L393.5 385.2L392.5 385.2L391.5 385.2L390.5 385.2L389.5 385.2L388.5 385.2L387.5 385.2L386.5 385.2L385.5 385.2L384.5 385.2L383.5 385.2L382.5 385.2L381.5 385.2L380.5 385.2L379.5 385.2L378.5 385.2L377.5 385.2L376.5 385.2L375.5 385.2L374.5 385.2L373.5 385.2L372.5 385.2L371.5 385.2L370.5 385.2L369.5 385.2L368.5 385.2L367.5 385.2L366.5 385.2L365.5 385.2L364.5 385.2L363.5 385.2L362.5 385.2L361.5 385.2L360.5 385.2L359.5 385.2L358.5 385.2L357.5 385.2L356.5 385.2L355.5 385.2L354.5 385.2L353.5 385.2L352.5 385.2L351.5 385.2L350.5 385.2L349.5 385.2L348.5 385.2L347.5 385.2L346.5 385.2L345.5 385.2L344.5 385.2L343.5 385.2L342.5 385.2L341.5 385.2L340.5 385.2L339.5 385.2L338.5 385.2L337.5 385.2L336.5 385.2L335.5 385.2L334.5 385.2L333.5 385.2L332.5 385.2L331.5 385.2L330.5 385.2L329.5 385.2L328.5 385.2L327.5 385.2L326.5 385.2L325.5 385.2L324.5 385.2L323.5 385.2L322.5 385.2L321.5 385.2L320.5 385.2L319.5 385.2L318.5 385.2L317.5 385.2L316.5 385.2L315.5 385.2L314.5 385.2L313.5 385.2L312.5 385.2L311.5 385.2L310.5 385.2L309.5 385.2L308.5 385.2L307.5 385.2L306.5 385.2L305.5 385.2L304.5 385.2L303.5 385.2L302.5 385.2L301.5 385.2L300.5 385.2L299.5 385.2L298.5 385.2L297.5 385.2L296.5 385.2L295.5 385.2L294.5 385.2L293.5 385.2L292.5 385.2L291.5 385.2L290.5 385.2L289.5 385.2L288.5 385.2L287.5 385.2L286.5 385.2L285.5 385.2L284.5 385.2L283.5 385.2L282.5 385.2L281.5 385.2L280.5 385.2L279.5 385.2L278.5 385.2L277.5 385.2L276.5 385.2L275.5 385.2L274.5 385.2L273.5 385.2L272.5 385.2L271.5 380.7L270.5 345.1L269.5 340L268.5 338.2L267.5 338.8L266.5 339.4L265.5 340L264.5 340.6L263.5 341.2L262.5 341.8L261.5 352.5L260.5 353.1L259.5 353.4L258.5 353.4L257.5 353.4L256.5 353.4L255.5 353.5L254.5 353.5L253.5 353.2L252.5 352.4L251.5 351.7L250.5 351L249.5 350.2L248.5 349.5L247.5 348.7L246.5 348L245.5 347.3L244.5 346.5L243.5 345.8L242.5 345.2L241.5 345.3L240.5 345.3L239.5 345.3L238.5 345.4L237.5 345.4L236.5 345.4L235.5 345.5L234.5 345.5L233.5 345.6L232.5 345.6L231.5 345.6L230.5 345.7L229.5 345.7L228.5 345.7L227.5 345.8L226.5 345.8L225.5 345.9L224.5 345.9L223.5 345.9L222.5 346L221.5 346L220.5 346.1L219.5 346.1L218.5 346.1L217.5 346.2L216.5 346.2L215.5 346.2L214.5 346.3L213.5 346.3L212.5 346.4L211.5 346.4L210.5 346.4L209.5 346.5L208.5 346.5L207.5 346.5L206.5 346.6L205.5 346.6L204.5 346.7L203.5 346.7L202.5 346.7L201.5 346.8L200.5 346.8L199.5 346.8L198.5 346.9L197.5 346.9L196.5 347L195.5 347L194.5 347L193.5 347.1L192.5 347.1L191.5 347.1L190.5 347.2L189.5 347.2L188.5 348.8L187.5 350.4L186.5 352.1L185.5 353.8L184.5 355.4L183.5 357.1L182.5 358.7L181.5 360.4L180.5 362.1L179.5 363.7L178.5 365.4L177.5 367.1L176.5 368.8L175.5 370.5L174.5 372.2L173.5 373.9L172.5 375.5L171.5 375.3L170.5 375.1L169.5 374.9L168.5 374.7L167.5 374.5L166.5 374.3L165.5 374.1L164.5 373.9L163.5 373.7L162.5 373.5L161.5 373.4L160.5 373.2L159.5 373L158.5 372.7L157.5 371.7L156.5 370.7L155.5 369.8L154.5 368.8L153.5 367.8L152.5 366.8L151.5 365.8L150.5 358.7L149.5 349.9L148.5 341.1L147.5 332.3L146.5 331.6L145.5 332.3L144.5 333L143.5 333.7L142.5 334.4L141.5 336.2L140.5 338.2L139.5 340.2L138.5 342.2L137.5 343.5L136.5 343.5L135.5 343.5L134.5 343.5L133.5 343.5L132.5 343.5L131.5 343.5L130.5 343.5L129.5 343.5L128.5 343.5L127.5 343.5L126.5 343.5L125.5 343.5L124.5 343.5L123.5 343.5L122.5 343.5L121.5 343.5L120.5 343.5L119.5 343.5L118.5 343.5L117.5 343.5L116.5 343.5L115.5 343.5L114.5 343.5L113.5 343.5Z" fill="#1f77b4" stroke="#1f77b4" stroke-width="3" stroke-linejoin="round"/>
<path d="M116.6 254.9h0m0 18.4h0m0.1 70.1h0m0.2-68.8h0m1 81.3h0m0.1-8.8h0m0.1-3.4h0m0-74.3h0m0.2 73.6h0m0.4-75.5h0m0.5 80.7h0m0.3-77.9h0m0 84.2h0m0.1-91.1h0m0.1-11.8h0m0.1 91.2h0m0.3 2.7h0m0.2-0.8h0m0 3.9h0m0 7.3h0m0.1-10.2h0m0.3-83.8h0m0 81.6h0m0.1-0.2h0m0.5 1.8h0m0.1 1.1h0m0-3.2h0m0.3 6.9h0m0-4.4h0m0.3-0.4h0m0-74.6h0m0.1 75h0m0 6.3h0m0.1-6h0m0.4-2.8h0m0 3.7h0m0.5-79.2h0m0 76h0m0.5 0.9h0m0.3-80.9h0m0 79.4h0m0.3 3.4h0m0.3 13.6h0m0.9-17.3h0m0.3-67.6h0m0.5 72.4h0m0.1 0.7h0m0-75.7h0m0.3 70.1h0m0.1 2.2h0m0.2-94.8h0m0.1 92.8h0m0-88.2h0m0.2 93.9h0m0.2-82.8h0m0.1 79.7h0m0.1-1.8h0m0 10.3h0m0.3-5.1h0m0.1-4.7h0m0-100.7h0m0 107.8h0m0.2-8.2h0m0.1 0.8h0m0.1-90.2h0m0.2 22.2h0m0.1 67.4h0m0.1 1h0m0.2-112.1h0m0 111.2h0m0.1-0.3h0m0.2 1h0m0.1 7h0m0.5-7.2h0m0 4h0m0-2.9h0m0.5 3.5h0m0-3.4h0m0-1.2h0m0.3-95.6h0m0 97.2h0m0.1-1.2h0m0.1-81.3h0m0 83.9h0m0.2-77.6h0m0.2 77.2h0m0.1-2.2h0m0 2.1h0m0.2-0.9h0m0.1-1.8h0m0 22.3h0m0.2-22h0m0.1 2.6h0m0.2 2.4h0m0.1-5.4h0m0.1-0.1h0m0.2 8.1h0m0.1-7.3h0m0.3 17.5h0m0-13.4h0m0.1 0.5h0m0.2-6.2h0m0 2.5h0m0.4-98.7h0m0.1 97.6h0m0.1 2.7h0m0.1-3.4h0m0 6.3h0m0.1-76.3h0m0.1 75.6h0m0.1 1.4h0m0.1-6.5h0m0.2 3.2h0m0.1-1.4h0m0.2-75.6h0m0.1 72.7h0m0.2-67.8h0m0.2-4.2h0m0.1 73.5h0m0-74h0m0 3.8h0m0.1-23.2h0m0.2 95.8h0m0.3-3.5h0m0 5.2h0m0.2-1.2h0m0.3-1.2h0m0.2-79.7h0m0.3 3.6h0m0.1 80.6h0m0.1-6.9h0m0 5.7h0m0.4-83.3h0m0.1 82.6h0m0.2-2h0m0.1-1.7h0m0.1 1.2h0m0.5 2.5h0m0 0.5h0m0-78.6h0m0.3 78.1h0m0.4-75.3h0m0.1-7.7h0m0.1 74.3h0m0.3 6h0m0.3-76h0m0.1 80.7h0m0-91.6h0m0.4 5.5h0m0.2 72.7h0m0 0.5h0m0.1 4.5h0m0.2-77.9h0m0.1 4.5h0m0.2 76.1h0m0.1-6.8h0m0-0.1h0m0 0.3h0m0.4-3.8h0m0 6.2h0m0.2-2h0m0 0.6h0m0.1-2.7h0m0-2.8h0m0.1-70.2h0m0.1 3.1h0m0 73.9h0m0.1-2.3h0m0.1-75.7h0m0-19.4h0m0 112.5h0m0.1-17.5h0m0.1-78.2h0m0 78h0m0-1.7h0m0.2-82.6h0m0.1 105h0m0.1-22.9h0m0.3 0.7h0m0.1-2h0m0.2 1.2h0m0 1.1h0m0.1-69.1h0m0.3 65.5h0m0.2-0.1h0m0.1 2.7h0m0.1-76.2h0m0.4-2.9h0m0.3 79.4h0m0-2.5h0m0.3 0.6h0m0-68.1h0m0.2 65.9h0m0.3-90h0m0 94.9h0m0 6.3h0m0.2-11.9h0m0.1 0.6h0m0.1 1.1h0m0.1 8.8h0m0-81.2h0m0.1 83.3h0m0.1-12.2h0m0.2-94.6h0m0 93.4h0m0.2-66.4h0m0 67.7h0m0.1-1.1h0m0.1 2.1h0m0.2-65h0m0.1-3.9h0m0.1 4.3h0m0.1 68.7h0m0.1-80.2h0m0.1 86.2h0m0.6 0.2h0m0.2 4.2h0m0.1-82.1h0m0 87.6h0m0 16.8h0m0.7-17.5h0m0.2 10.6h0m0.1 1.5h0m0.1-3.2h0m0 4.7h0m0.1 2.5h0m0-7h0m0 2.8h0m0.4-115.3h0m0.1 111.9h0m0.2-112.2h0m0.1-5.4h0m0.2 128.3h0m0 14.6h0m0 19.9h0m0.3-39.6h0m0.1-79h0m0.1-10.7h0m0.1 102.7h0m0.1-3.3h0m0.1-6.2h0m0.5 1.2h0m0 3.8h0m0.3 4.4h0m0-3.1h0m0.1-7.5h0m0.2-1.5h0m0.3 0.8h0m0.1-108.8h0m0 109.3h0m0.1-106.3h0m0 24.5h0m0.2 83.3h0m0.1 31.4h0m0-0.5h0m0.1-31.4h0m0.1-122.1h0m0.1 120.6h0m0.2 4.4h0m0-97.8h0m0.1 11.3h0m0.1-28.2h0m0.1 117.4h0m0.5 0h0m0.2-1.5h0m0.1 10.2h0m0.3-114.9h0m0.1 101.7h0m0.1-1.1h0m0-108.2h0m0.1 128h0m0.2-4.6h0m0.1 7.1h0m0-13.9h0m0.1-90.3h0m0.2-33.3h0m0.3 28h0m0 92h0m0-84.7h0m0 80.9h0m0.1 2.2h0m0-87.4h0m0.1 91.4h0m0.1 13.1h0m0-1.8h0m0.1-99.5h0m0 85.7h0m0-93.5h0m0.1 91.7h0m0.1 6.3h0m0.1-101.3h0m0 96.3h0m0.3 11.5h0m0-98.2h0m0.2 96.2h0m0.1-128.5h0m0 143.6h0m0.1-110h0m0 107.8h0m0.1-10.1h0m0.3 3.1h0m0.1-136.9h0m0 147.1h0m0.3-114.4h0m0 95.7h0m0.1-1.2h0m0-6h0m0.1 9.7h0m0.2 19.3h0m0 30.5h0m0.3-35.1h0m0-10.6h0m0.1 12.4h0m0.1-3.5h0m0.3-138h0m0 16.7h0m0 7.9h0m0.1-53.3h0m0.1 155.5h0m0-8.4h0m0.7 8.8h0m0.3-9.2h0m0.2 31.4h0m0.2-136.4h0m0 104.7h0m0.2 0.3h0m0.3-1.2h0m0.2-107.3h0m0.3 131.4h0m0-112.9h0m0.1 98.6h0m0.1 9.8h0m0.6-119.9h0m0.1 99.1h0m0.2 31h0m0.3 4.6h0m0.2-27.9h0m0-1h0m0.2-91.5h0m0 133.7h0m0.1-45.6h0m0.1 28h0m0.2-117.3h0m0.3 87.4h0m0-92.3h0m0.2 98.4h0m0.1-100h0m0 98.2h0m0.1-3.8h0m0.2-84.1h0m0.1 85h0m0.3 6h0m0.1-4.2h0m0-91.6h0m0.1 0.1h0m0.2 105.9h0m0-136h0m0.2 119.6h0m0.3 9h0m0-8.1h0m0.1 2.5h0m0.1 30.1h0m0-24.8h0m0.1-101.9h0m0 97.8h0m0.1 22.3h0m0-114.6h0m0.2-16.6h0m0.2 163.8h0m0.2-52.3h0m0.1-7.4h0m0.2 60.5h0m0.3-60.1h0m0.2 2.8h0m0.1-94.2h0m0.1-13.9h0m0-0.2h0m0.4 15.9h0m0.1-3.1h0m0.1-8.2h0m0.2 114.6h0m0.1 16.4h0m0-151.3h0m0.1 120.3h0m0.4 6.7h0m0-100.6h0m0.1 0.6h0m0 7.8h0m0.1 119.6h0m0-33.1h0m0 3.3h0m0-92.1h0m0.1-20h0m0 120.4h0m0.2-11.5h0m0.1-0.9h0m0 5.7h0m0.1 3.3h0m0.1-8.4h0m0.2 37.7h0m0.1-31.9h0m0-0.1h0m0.1 21.4h0m0-23.8h0m0.3 6.2h0m0 2.3h0m0.1-99.2h0m0 94.9h0m0.2-3.3h0m0 1.3h0m0-97.6h0m0.3 91.6h0m0 0.2h0m0.1-89.1h0m0.2 87h0m0.2 42.5h0m0-8.4h0m0.1-25.3h0m0.2 25.7h0m0.2-132.8h0m0 108.3h0m0-4.1h0m0.1-110.3h0m0.2 107.1h0m0-102h0m0.1 122.1h0m0.2-19.5h0m0.1-5.6h0m0.1 14.7h0m0.1-13.9h0m0.1 14.7h0m0-13.1h0m0.1-0.5h0m0 20.5h0m0.1-105.8h0m0.1-2.9h0m0 88.8h0m0 10.8h0m0.1-111.5h0m0.1 99.2h0m0.3 6.2h0m0 0.7h0m0.1-9.3h0m0.3-86.9h0m0 104.3h0m0.1-6.8h0m0 9.5h0m0-121.6h0m0.1 156.4h0m0.2-158.1h0m0 15.5h0m0.2 94h0m0.1 17.2h0m0.2-19.6h0m0 9.3h0m0-5.2h0m0.1 6.3h0m0.1-17.3h0m0.3 4.8h0m0.1-102.4h0m0 3h0m0.1-8.1h0m0.1 110.5h0m0.2-9.8h0m0.3 20.5h0m0-4.9h0m0 8.6h0m0.1-109h0m0.1 107.1h0m0-136.3h0m0.3-0.6h0m0 4h0m0.1 113.6h0m0.1-4.3h0m0.1-87.1h0m0-30.3h0m0 127.3h0m0.1-93.3h0m0 91h0m0.1-126.5h0m0 146.6h0m0.2-17h0m0.3-12.1h0m0.5-88.7h0m0.2 88.5h0m0-88h0m0 90.9h0m0.2 3.4h0m0.1-98.9h0m0.1 99.1h0m0-92.2h0m0.1-10.6h0m0.2 100.1h0m0 16.8h0m0.1-15.7h0m0 0.9h0m0.1-5.3h0m0.1 12.6h0m0.4-155.7h0m0 165h0m0.1-16h0m0-8.3h0m0.1-96.1h0m0 103h0m0-114.8h0m0.1 154.7h0m0.2-46.8h0m0-1.3h0m0.4 18.2h0m0-11.3h0m0.7-6.4h0m0.2 4.8h0m0.1-1.2h0m0.1-92.1h0m0.2 91.2h0m0.1 10.9h0m0-116h0m0.1 111h0m0-11.9h0m0.1-119.8h0m0.1 128.2h0m0.2 2.7h0m0.2-13.3h0m0.1 2.7h0m0 18.5h0m0-16.4h0m0.2-112.8h0m0 107.3h0m0.1 25h0m0.2 2h0m0.1-8.3h0m0.1-5h0m0-100.3h0m0.1 91.8h0m0-112.7h0m0.1 21.5h0m0.1-45.9h0m0.1 144h0m0.1-11h0m0.1-0.5h0m0.3 24.1h0m0-5.7h0m0.3-21.1h0m0-123.9h0m0.1 27.8h0m0.1-18.1h0m0.1 4.3h0m0 116.9h0m0.1-133.7h0m0 35.3h0m0 101.5h0m0-4.3h0m0.2-7.2h0m0.1 0.3h0m0.1-0.7h0m0-85.2h0m0.1 149.2h0m0-62.3h0m0.1-105.3h0m0.5 109.9h0m0.2-7.7h0m0.3 2.5h0m0.2-102.9h0m0.6 2.6h0m0.1 97h0m0.2 9.2h0m0.3-1h0m0.1-7.6h0m0 0.5h0m0.1 18.8h0m0.1-130.8h0m0.1-18.6h0m0 12.8h0m0.1 33h0m0-18.1h0m0.1 113.3h0m0.1-95.1h0m0 99.3h0m0.1 6.8h0m0-126.8h0m0.3 103.2h0m0.1 5.1h0m0.1 37.5h0m0.1-39.9h0m0.2 3.5h0m0.1-121.8h0m0.1 133.8h0m0.3-11.3h0m0-5.9h0m0-0.1h0m0.3-121.8h0m0.1 124.7h0m0-3.2h0m0.2 9.8h0m0-3h0m0.2-95.4h0m0 93.1h0m0.2 12h0m0.2-15.4h0m0.1 0.9h0m0.1-90.1h0m0.1 116.1h0m0.1-18.7h0m0.1 1.7h0m0.1-11.6h0m0.2 6.7h0m0-4.9h0m0.3 0.7h0m0.1 44.5h0m0.2-31h0m0.1-7.5h0m0.1-109.2h0m0.1 101.3h0m0.1 21.6h0m0.2-5.8h0m0.3-14.5h0m0.1-95.8h0m0.1 102.3h0m0-8.1h0m0.1 3.4h0m0.2-87.5h0m0-2.8h0m0.1 91.1h0m0.2-116.1h0m0.2 15.9h0m0.1 107.4h0m0.1-11.3h0m0.3 16.4h0m0.1-106.9h0m0.1 91.9h0m0.1 5.9h0m0.1-6.3h0m0.2-96.4h0m0.1 102.5h0m0.1-0.4h0m0.1-100.8h0m0 93.4h0m0 8.1h0m0.1-100.5h0m0.1 105.9h0m0.2-128.2h0m0 6.6h0m0.3 113.7h0m0-149.7h0m0 152.2h0m0 0.6h0m0.1-95.7h0m0.2 1.1h0m0 89h0m0.1 13.7h0m0.2-16.6h0m0 0.1h0m0.1 0.9h0m0-131.7h0m0.3 33h0m0.1 12.7h0m0-31.9h0m0.1 123.4h0m0.3-6.3h0m0.2 4.6h0m0.1-112.3h0m0 109.7h0m0.4 2.5h0m0 15.5h0m0.2-12.6h0m0.3-5.5h0m0.1 26.9h0m0.3-142.2h0m0 114.7h0m0.1 3.7h0m0.2-2.1h0m0.2 0.8h0m0.3 6.5h0m0-120.9h0m0.3 27.3h0m0.1-20.3h0m0.1 106.9h0m0-0.6h0m0 20.8h0m0.2-114.4h0m0.1 97.3h0m0 28.7h0m0.1-21.1h0m0-8.9h0m0-89.4h0m0.3 91.4h0m0.2 19.8h0m0.1-18h0m0.1-7.1h0m0.1-88h0m0.2-36.2h0m0.1-40.1h0m0 181.8h0m0.1-118.6h0m0.1-37.7h0m0.2 47.2h0m0 93.2h0m0.7 2.9h0m0.3-94.3h0m0-22.9h0m0-3.5h0m0.2 27.8h0m0.2 102.3h0m0.2 4.5h0m0.1-4.7h0m0-140.1h0m0.1 126.1h0m0.1 2.2h0m0.2 1.5h0m0.1 1.7h0m0.1 23.1h0m0.1-28.8h0m0.1 8.8h0m0 10.2h0m0.3 2h0m0.3-10.8h0m0-6h0m0 1.7h0m0.1-1.8h0m0-105.6h0m0.2-2.8h0m0 18.8h0m0 88.6h0m0.1-4.2h0m0.1-88.2h0m0.3 98.9h0m0.2 7.3h0m0.1-149h0m0 157.1h0m0-115.9h0m0.1 90.7h0m0.1 43.2h0m0.1-139.8h0m0 113.6h0m0.3-119.6h0m0-32.3h0m0.3 30.9h0m0.1 103.2h0m0.2 15h0m0.1-109.7h0m0.1 11.5h0m0.1 98.1h0m0-98.3h0m0.2 84.5h0m0.2-123.3h0m0 123.3h0m0.2-87.8h0m0 1.8h0m0.1-51.7h0m0.1 19.7h0m0.1 22.7h0m0.1-34.4h0m0.1 130.3h0m0-132.3h0m0.1 149.7h0m0-109.9h0m0.1 110h0m0.3 7.1h0m0.1-149.3h0m0 127.2h0m0-4.3h0m0.2 5.2h0m0 0.1h0m0-4.5h0m0.3-124h0m0.2 148.6h0m0.1-22.3h0m0 0.4h0m0 7.5h0m0.1-2h0m0.1 10.3h0m0.2-2.2h0m0.1-14.7h0m0.2 56.1h0m0.1-40h0m0.3-0.3h0m0-12h0m0.4 5h0m0.1-7h0m0.1-2.2h0m0.1-110.1h0m0.1 116.8h0m0-3.2h0m0-102.2h0m0.1 98.1h0m0.3 11.2h0m0.1 21h0m0.2-124.1h0m0.1 99.8h0m0-95.5h0m0.1 87.2h0m0.1 13.7h0m0.1-9.3h0m0.2-6.4h0m0.5 16.4h0m0 4.4h0m0.3-125.5h0m0 105.5h0m0.1 11.8h0m0.3-133.4h0m0 130.2h0m0.1-91.3h0m0.2-7.2h0m0.2-5.1h0m0.3 99h0m0-90.6h0m0.2 95.2h0m0.1-4.2h0m0 3.2h0m0.1-7.3h0m0.1-88h0m0.1-3.7h0m0 96.5h0m0.6-6h0m0 22.6h0m0-20.6h0m0.5 5.3h0m0.5-2.9h0m0 0.1h0m0.2-1.4h0m0.2-90.7h0m0.2 99.2h0m0.1-1h0m0.1-120.6h0m0.1 117.9h0m0.2 3.3h0m0.2 11.7h0m0.3-141.5h0m0 119.6h0m0.1-83.5h0m0 117.3h0m0.1-15h0m0.1-103.9h0m0-26.6h0m0.1 136.8h0m0.1-15h0m0-10.3h0m0.1-84.2h0m0.1 100.3h0m0.2-102.5h0m0.1 93.6h0m0 10h0m0.1-11.7h0m0.2-147.3h0m0 12.8h0m0.1 128.4h0m0.1-89.6h0m0.2 89.3h0m0.2 45.7h0m0-33.1h0m0.1-5.2h0m0.1 21.8h0m0.1-23.4h0m0.1-93.1h0m0 92.4h0m0.2-4.2h0m0.2 13h0m0.4-11.2h0m0.1-104.9h0m0 10.8h0m0.2 125.1h0m0.1-138.3h0m0 107.1h0m0.1-91.9h0m0 109h0m0.3-12.1h0m0.1 4.8h0m0.1-0.9h0m0.2-9.9h0m0-0.9h0m0.1-96.9h0m0.1 98h0m0.3-121.1h0m0 141.7h0m0.1-0.6h0m0.4-19.5h0m0 6.4h0m0.2-97.7h0m0 91.3h0m0.3-1.8h0m0 2.9h0m0.1 4.9h0m0.1-6.6h0m0.2 2.4h0m0-124.5h0m0.2 122.9h0m0.1 6.9h0m0.3-97.9h0m0 100.7h0m0-8.2h0m0.2 4.9h0m0.1-3.4h0m0-0.6h0m0 13.8h0m0.3-17.7h0m0.1 14.7h0m0.2-15.6h0m0 17.7h0m0.3-14.9h0m0.1 0.2h0m0.1-3.4h0m0.1-82.1h0m0 83.4h0m0.1-104h0m0 11.6h0m0.4 0.5h0m0.4 94.7h0m0-0.3h0m0.1-3.8h0m0 3.6h0m0 2.6h0m0.1 8h0m0.3-9h0m0 11.6h0m0.1-8.5h0m0.1-92.9h0m0.1-9.5h0m0.1-38.5h0m0 143.5h0m0.2 7.9h0m0.1 1.1h0m0.1-18.2h0m0.1 11.3h0m0.1-117.8h0m0.1 109.6h0m0.1-87.6h0m0.3 90.3h0m0-92.5h0m0.1 85.9h0m0.3-86.1h0m0.1 0.1h0m0.1-25.8h0m0.1 19.7h0m0.1-0.3h0m0.1 6.2h0m0-44.6h0m0 130.6h0m0.1 9.4h0m0.2 16.8h0m0-21.6h0m0.1-4.4h0m0.3-85.5h0m0.1 85.7h0m0.3 3h0m0-92.9h0m0.2 105h0m0.1-103.3h0m0.2 98.8h0m0.1-97.8h0m0 86.5h0m0-121.8h0m0.1 121.7h0m0.1 9.6h0m0.1 2.1h0m0 10.8h0m0.1 4.4h0m0.2-4.4h0m0.2-109.6h0m0.1-23.3h0m0 23.4h0m0 89h0m0.2-98.2h0m0 108.6h0m0.1-5.1h0m0-105h0m0.1 11.3h0m0.2-0.9h0m0.1 0.6h0m0 0h0m0.3 117.7h0m0.1-29.5h0m0 5.8h0m0.2-90.5h0m0-1.6h0m0.1-36.8h0m0.1 127.7h0m0.1-92.9h0m0.1 116.8h0m0.1-138.5h0m0.3 119.4h0m0.1-11.3h0m0.1 11.5h0m0.2-6.3h0m0.1 17.7h0m0.3-19.2h0m0.2-2.2h0m0.4 2.9h0m0.1-3.3h0m0.1-86.6h0m0.2 112.4h0m0.2-24.1h0m0 0.4h0m0-101.1h0m0.2 9.3h0m0.1 91.7h0m0.2-86.9h0m0 84.9h0m0.1 0.4h0m0.2-83.6h0m0 99.5h0m0.1-15.9h0m0.1 3.4h0m0.1-96.6h0m0 98.2h0m0.1 0.2h0m0.2-90.6h0m0.2-7.4h0m0 95.1h0m0 7.1h0m0.2 31.6h0m0.2-40.6h0m0.2 10.2h0m0.1-103.2h0m0.2 96.2h0m0-120.9h0m0.4 19.1h0m0 119.1h0m0.2-12.5h0m0.4 6.6h0m0.1-12h0m0.1 2h0m0.3 0.2h0m0-3.4h0m0.1-90.1h0m0.1 99.8h0m0.2 2.8h0m0-11h0m0.1 26.3h0m0-139.7h0m0 126.8h0m0.1 4.6h0m0.1-15h0m0-90.4h0m0.1 88.2h0m0.1-119.6h0m0 119.9h0m0.1-1.1h0m0.1 7.9h0m0.1-7.2h0m0 16.1h0m0-11.6h0m0.1-0.6h0m0.1-5.7h0m0-127.3h0m0.1 45.9h0m0.1 85.2h0m0 5.1h0m0.1-8.8h0m0.1 0.1h0m0.1 10.3h0m0.3-10.3h0m0-90.2h0m0.3 95.4h0m0-3.3h0m0-98h0m0.3 104.8h0m0.2-119.7h0m0.2 127.8h0m0.1-113.7h0m0.1 100.5h0m0.3-85.3h0m0.1 90h0m0.1-89.8h0m0 85.5h0m0.1-122.6h0m0.1 22.5h0m0 101.9h0m0.1-0.2h0m0.4-88.4h0m0.1 89.3h0m0.1 17.6h0m0-17.4h0m0.1 6.8h0m0.1-119.3h0m0.1 121.1h0m0-1.7h0m0-1.2h0m0.2-9.2h0m0-88.7h0m0.1 89.6h0m0.2 6.1h0m0.1-2.9h0m0-106.3h0m0 145.4h0m0.2-31.1h0m0.1 8.5h0m0.1-20.3h0m0.1 20.4h0m0.2-18h0m0.1-113.3h0m0 110.3h0m0.3 1.2h0m0-84.2h0m0.2-63.7h0m0.5 154.9h0m0.1-6.3h0m0-80.3h0m0.1 121.4h0m0.1-41.6h0m0.2 11.1h0m0 6.9h0m0.2-17.9h0m0 3.6h0m0.1-0.4h0m0-118.1h0m0.1 128.3h0m0-92.9h0m0.1-2.4h0m0.1 84.4h0m0 11.9h0m0.2-125.8h0m0.1 34.4h0m0 89.6h0m0.1-9.3h0m0.1 15.9h0m0.1-17.5h0m0.1 0h0m0.1 7.3h0m0.1 3.6h0m0-8.8h0m0-3.6h0m0.2 2.1h0m0.1-77.5h0m0.2-12.3h0m0 92.1h0m0.3-92.3h0m0 8.1h0m0.1 94.2h0m0-10.1h0m0.2-105.6h0m0.1 101.2h0m0.5 0.6h0m0-76.6h0m0.1 4.1h0m0.4 86.4h0m0.3-113.1h0m0.3 98.9h0m0.1 0.1h0m0.2 0.1h0m0.1-84.6h0m0.1 101.4h0m0.3-87.4h0m0-17h0m0.1 87.2h0m0.2 5.1h0m0.1-2.3h0m0 2h0m0.1-4.2h0m0.1-75.7h0m0 74.8h0m0.2 1.4h0m0.1 1.7h0m0 1h0m0-0.3h0m0.1-77h0m0.3 75.1h0m0.3-67.5h0m0-13.5h0m0.2 79.9h0m0.1 1.7h0m0.2-76.3h0m0.1 77.4h0m0-84.7h0m0.1 10.1h0m0 81.4h0m0-104.3h0m0.1 111h0m0.2-102.8h0m0.2 89.7h0m0.2-83h0m0.1 78.7h0m0-73h0m0.1 77.5h0m0-87.4h0m0.1-11.1h0m0-0.6h0m0.1 105.8h0m0.3-80.8h0m0 105.4h0m0-121.5h0m0.1 84.9h0m0-88.4h0m0.1 43.3h0m0-22.8h0m0 73.6h0m0-53.1h0m0.1 37.6h0m0-48.4h0m0 85.7h0m0-75.5h0m0.1 69.2h0m0-30.3h0m0.1-47.3h0m0 59.7h0m0-11.6h0m0.1 2.6h0m0 13.9h0m0.1-10.1h0m0 4.1h0m0.2-56.5h0m0.1 43.4h0m0.1 1.8h0m0.2-71.1h0m0.1 78.7h0m0.1-50.4h0m0.1 43.4h0m0.2-66.9h0m0 67.1h0m0 2.6h0m0.1 16.4h0m0.2-57.6h0m0 2.5h0m0-25.3h0m0.1 9.2h0m0.1 6.1h0m0.1 51.6h0m0.3-9.1h0m0.1-36.3h0m0-11.7h0m0.1 15h0m0 42.9h0m0.1-45.3h0m0.1-2.6h0m0 38.6h0m0 0.8h0m0 9.3h0m0.2-73.9h0m0.1 70.3h0m0-42.5h0m0.2-16.2h0m0.2 71.3h0m0.1-16h0m0.1 7.2h0m0.1-54.7h0m0.1 4.1h0m0.1-2.3h0m0-5.8h0m0 13h0m0.1-0.5h0m0.1 44.5h0m0-3.1h0m0.1-47.6h0m0.1 47h0m0-39.3h0m0.1-22.5h0m0.1 62.6h0m0.1 0.8h0m0.2-98h0m0 91.3h0m0 7.3h0m0-65.8h0m0.2 8h0m0.1-0.7h0m0.2 52.7h0m0 17.6h0m0-5.4h0m0.1-10.8h0m0.2-89.6h0m0.1 40.1h0m0.2 4.5h0m0.1 45.6h0m0.1 0.8h0m0-41.9h0m0 40.3h0m0.1-40.7h0m0.1 42.3h0m0.2-40.5h0m0-15.4h0m0 60.5h0m0.1-2.6h0m0.1-7.2h0m0.1-50.1h0m0 7.7h0m0.1 44.5h0m0-77.1h0m0.1 76h0m0.1 12.6h0m0-64.9h0m0 62.3h0m0.1 6.9h0m0-81.8h0m0 77.5h0m0.1-81.3h0m0 121.3h0m0.1-109.2h0m0.2 68.3h0m0-93.2h0m0 97.2h0m0.1-67.4h0m0-14.3h0m0.1 83.2h0m0-74h0m0.1 132.7h0m0-150.5h0m0.1-41.9h0m0 156.3h0m0-96.5h0m0.1-11h0m0 97.4h0m0.2-125.1h0m0 144.2h0m0.1-217.5h0m0 201.3h0m0.1-210.1h0m0.1 83.5h0m0 152.8h0m0.1-166.5h0m0.1 176.2h0m0.2-18.3h0m0.1 5.1h0m0.1-9.3h0m0.1-3.1h0m0-166.5h0m0.1 12.2h0m0.1 0.6h0m0.1 161.4h0m0.1 6.5h0m0.1-181.4h0m0-19.3h0m0.1 24.7h0m0.1-9.2h0m0 180.9h0m0.1-161.2h0m0-4.7h0m0 0.2h0m0.1-22.7h0m0.1 202.7h0m0.1-202.3h0m0.4 214.6h0m0.2-199.8h0m0 188.9h0m0-179h0m0.2 160.9h0m0.1-186.5h0m0 188.3h0m0.2 25.4h0m0-18h0m0.2-169.4h0m0.3-18.9h0m0 14.4h0m0.3 2.6h0m0.1 184.3h0m0.1-27.5h0m0.2 16h0m0.1-177h0m0.1-5.6h0m0-16.9h0m0.1 8.7h0m0.1 176h0m0-173.6h0m0.2 198.4h0m0.2-184.1h0m0-23.1h0m0.1 199.5h0m0-3.2h0m0.3 23.1h0m0-8.4h0m0.2-27.6h0m0.1-175.3h0m0.2 247.5h0m0-225.8h0m0.1 0.1h0m0 160.5h0m0.1 77h0m0.1-60.5h0m0-196.6h0m0.2-3.9h0m0 0.5h0m0.2-39.3h0m0.1 220.2h0m0.1 19h0m0-222.6h0m0.1 277.2h0m0.1-238.3h0m0.1 159h0m0 15.3h0m0.5 24.2h0m0.1-215.4h0m0 189.5h0m0.3-227.5h0m0 239.5h0m0.1-3.1h0m0.2-228.7h0m0.1 225.3h0m0.1-193.6h0m0.2-0.1h0m0.1 206.7h0m0.1-191.4h0m0-9.5h0m0 176.6h0m0.1 44.8h0m0.1-257.3h0m0.1 51.8h0m0 156.9h0m0.4-6.1h0m0.1 75.3h0m0-235.6h0m0.1-35.9h0m0.1 210.5h0m0-9.3h0m0.2-165h0m0.1 158.8h0m0.2-179.5h0m0.2 228.9h0m0.1-22.3h0m0.1-182.5h0m0.3 156.1h0m0.2-153.1h0m0 189.4h0m0.3-224h0m0.4 10.5h0m0.2 25.6h0m0 171.1h0m0-19.5h0m0.1-157.5h0m0.1 172.3h0m0.1-9.6h0m0.1-183.7h0m0.1 183.7h0m0-4.9h0m0.5 13.3h0m0-211.9h0m0.2 22.3h0m0.1 20.5h0m0.1-28.2h0m0.1 191.4h0m0.3-160h0m0.1-22.9h0m0.1-30.3h0m0.1 255.8h0m0.1-210.2h0m0.2 0.5h0m0.1 214.9h0m0-54.4h0m0.2-156h0m0.2 155.3h0m0-159.5h0m0.1 168.1h0m0.3 6h0m0-1.9h0m0.1-7.5h0m0.1-180.1h0m0.1 189.3h0m0.7-176.7h0m0-5.1h0m0-5.3h0m0.1 189h0m0.1 14.7h0m0-192.2h0m0.1 178.1h0m0-7.8h0m0.1-178.5h0m0.1 179.5h0m0.2 19.4h0m0-29.2h0m0.1 15h0m0.1-195.5h0m0.2 26.7h0m0.2 2.3h0m0.5 155.4h0m0.1 17.9h0m0-174.6h0m0.1-31.8h0m0.2 21.9h0m0.1 181.5h0m0.1-189.4h0m0.1 174.7h0m0.1 16.1h0m0-212.7h0m0 209.5h0m0.2-9.8h0m0.1 1.8h0m0 35h0m0.2-23.6h0m0-211.4h0m0.1 18.3h0m0 11.6h0m0 6.7h0m0.1-34.2h0m0 34.7h0m0.1 237.1h0m0-266h0m0.2 195.5h0m0.1-175.7h0m0.1-26.7h0m0-4.5h0m0 197.6h0m0.1-159.1h0m0.1 3.7h0m0.2-6.9h0m0 6.7h0m0.3-15.7h0m0.1 170.6h0m0.1-153.8h0m0.2 154.8h0m0-3h0m0.1-151.6h0m0-10.7h0m0.1-10.7h0m0 175h0m0-171.3h0m0.3 191.4h0m0-187.5h0m0 166.1h0m0.1 8.3h0m0 25.4h0m0.1-215.1h0m0 29.2h0m0.1 182.8h0m0.3-5.5h0m0.1 25h0m0-42.7h0m0.4-263h0m0.1 253h0m0.1-151.3h0m0-53.5h0m0.2 45.1h0m0.1-4.8h0m0.1 15.8h0m0 184h0m0.1-17.3h0m0 8h0m0-176.6h0m0.1 153h0m0.1-200.8h0m0.1-2.8h0m0.1 214.5h0m0.3 10.8h0m0.3-198.9h0m0 204.9h0m0.1-207.8h0m0.1 17.9h0m0.2-31.1h0m0.2 238.9h0m0-202.5h0m0.1-8.7h0m0-12.1h0m0.1 176.3h0m0.1 60.9h0m0-52.1h0m0.3-160.5h0m0.1 164.1h0m0-172.2h0m0.1 170.2h0m0-6.5h0m0.1-4.8h0m0.1 7.2h0m0-158.4h0m0 171.8h0m0.2-190.2h0m0.1 172.4h0m0.1-192.4h0m0 12.5h0m0.1 187.4h0m0.3-171.7h0m0.4 187h0m0-213.5h0m0.1 189.3h0m0 10.7h0m0-164h0m0.1 158.3h0m0.4 2.9h0m0-201.4h0m0.1 39h0m0.2 155.6h0m0.1 36.9h0m0.2-21.5h0m0 32.7h0m0.2 46.8h0m0.1-97.4h0m0 26.6h0m0.3-23.6h0m0.1-222.4h0m0.1 60.3h0m0.2 169h0m0.1-163.8h0m0.1 2.6h0m0.1-32.3h0m0.1 8.7h0m0 186.7h0m0.2-221.1h0m0.1 38.6h0m0.1 178.9h0m0.1-158.4h0m0 160.9h0m0 41.6h0m0.4-231.4h0m0.1 199.1h0m0.1-170.3h0m0-25.1h0m0.1 186.3h0m0.1-9.8h0m0.4-196.3h0m0.1 254.7h0m0.2-270.4h0m0.1 216.3h0m0-187.2h0m0.1 28h0m0.3 155.3h0m0 14.6h0m0-176.4h0m0.2-34.9h0m0.1 32.1h0m0.2 177.9h0m0.2-167.2h0m0 190h0m0.1-34.9h0m0.1-183.1h0m0.2 4.3h0m0.3 182.6h0m0.1 1.6h0m0.2-174h0m0 227.8h0m0.1-227.8h0m0.1 174.3h0m0.1-175.5h0m0.1 207.5h0m0.1-34.6h0m0.2-168.9h0m0.1 1.9h0m0 172.2h0m0.1-161.3h0m0-14.1h0m0.1 182.2h0m0-173.2h0m0.2 157.3h0m0 66.9h0m0.3-57.5h0m0.4 5.2h0m0.1-11h0m0-176.6h0m0.3 170.9h0m0.1 25.5h0m0.4-174.4h0m0.1 161.3h0m0-185h0m0.2 175.2h0m0.2-157.5h0m0.1 175.6h0m0.1-172.9h0m0.2 164.3h0m0.1-199.4h0m0.2 193.4h0m0.1 3.9h0m0-174.1h0m0.4 6.7h0m0.1-36.9h0m0-28.6h0m0 36.5h0m0.2 14.1h0m0.2 14.3h0m0.2-3.2h0m0.1 193.1h0m0.1-11.6h0m0.1-13.4h0m0-163h0m0.1 161.1h0m0-1.6h0m1-1.1h0m0.2 6.6h0m0-192.4h0m0 212h0m0-178.9h0m0.2-12.3h0m0.1 178.9h0m0-172.3h0m0.2-2.4h0m0.1-14.4h0m0 178.1h0m0.2 6.8h0m0.2 24.6h0m0-188.3h0m0.1 157.6h0m0.1-160.3h0m0 178.4h0m0-5.1h0m0.3-191.2h0m0.1 177.1h0m0.1 21.6h0m0.1-181.6h0m0 4.3h0m0.1-37.4h0m0.3 38.3h0m0.1-4h0m0.3 3.6h0m0.8-31.3h0m0.1 188.9h0m0.4-5.8h0m0 2.3h0m0.3-180.3h0m0.2 214.5h0m0-23.8h0m0.5-213.7h0m0 18.7h0m0.2 220.9h0m0.1-34.6h0m0.1-198.7h0m0.2 206.6h0m0-5.4h0m0 4.2h0m0.3-8.3h0m0.4-160.8h0m0.3 174.8h0m0.1-1.6h0m0.2-167.5h0m0-1.6h0m0 160h0m0.2-168.2h0m0.1 162h0m0 16.3h0m0.1-8.5h0m0 8.3h0m0.2-12.7h0m0.4 41h0m0-25.4h0m0-14.5h0m0-4.5h0m0.4 30.6h0m0.2-210.4h0m0 186h0m0.1-156.5h0m0.3-4.6h0m0.1 0h0m0 4.1h0m0.4-11.5h0m0 174.2h0m0.4 5.2h0m0.1-4.1h0m0.1-165.4h0m0.4 154.9h0m0 6.3h0m0.1-172.5h0m0.2-4.3h0m0.1 17.9h0m0 158.1h0m0-158.2h0m0.3-7.1h0m0.1 226.2h0m0.1-58.3h0m0.1-161h0m0.1-15.4h0m0 5.4h0m0.3 211.1h0m0.1-45.4h0m0.1 43h0m0.1-36.3h0m0.1-185.3h0m0.4 188.1h0m0.1-174.3h0m0.5 170.8h0m0 56.8h0m0.1-249.3h0m0 224.1h0m0.3-13.9h0m0.1-16.9h0m0.1 17.6h0m0-25.1h0m0.1-1.6h0m0-1.9h0m0-163h0m0.6 163.3h0m0-154.5h0m0-3.9h0m0.4 213.4h0m0.1-48.5h0m0.1-165.9h0m0-30.1h0m0 208.9h0m0-193.5h0m0.1-11.2h0m0 20.9h0m0.1 11.9h0m0.1-40.6h0m0.1 198.9h0m0.2 0.5h0m0-164.2h0m0.2 161.8h0m0.1 9.7h0m0 4h0m0-186.4h0m0.1 14.6h0m0 213.2h0m0-219.6h0m0.4 158.6h0m0-150.8h0m0.7 162.2h0m0.1-191.3h0m0.1 18.6h0m0.1 170.5h0m0.1-1.1h0m0.2 9.8h0m0-194.4h0m0.1 25.2h0m0.1 156.5h0m0.2 4.1h0m0.1-159.9h0m0.1-12.9h0m0.4 171.1h0m0.2 9.8h0m0.1-177.8h0m0.2 189.4h0m0.3 14.2h0m0.3-6.3h0m0.2 37h0m0.1-55.2h0m0.2-190.1h0m0.3 182.3h0m0.1 31.4h0m0-229.3h0m0.3 19.8h0m0.1 169.6h0m0.2-2.5h0m0.3 19.6h0m0 16.6h0m0.3-29.8h0m0.1-177.7h0m0-15.7h0m0 193.3h0m0.2 24.9h0m0-189.7h0m0.2 158.9h0m0.1 19.7h0m0-199.7h0m0.2 189.3h0m0.3-176.6h0m0 5.6h0m0.3 172.6h0m0.2 21.7h0m0 8.5h0m0-27.8h0m0 5.7h0m0.1-179.4h0m0.1 174.2h0m0.1 27h0m0.2-39.8h0m0.1-215.7h0m0.2 249.3h0m0-247.6h0m0.2 57.9h0m0.1 159.8h0m0.1-183.5h0m0.1 25.5h0m0.1 177.1h0m0.1-9.5h0m0.1 12.3h0m0.5-18.1h0m0.1-173.6h0m0 11.7h0m0 3.3h0m0.3 163h0m0.1-3.5h0m0-3.3h0m0.1-5h0m0.2 25.9h0m0.1 9.6h0m0.1-185.6h0m0.1-67.5h0m0 16.2h0m0.1 273.5h0m0.1-68.7h0m0.1 38.2h0m0.1-219h0m0.3 183.3h0m0.2 4.3h0m0.3-6.5h0m0.1 19.9h0m0 33.4h0m0.3-22.4h0m0.1-24h0m0.1-195.6h0m0.1 228.6h0m0-282.6h0m0.2 249.9h0m0-163.7h0m0 1.8h0m0.1-10.3h0m0 174.7h0m0-187.1h0m0.1 18.7h0m0-11.8h0m0.1-30.1h0m0-9.7h0m0.1 251h0m0.3-40.6h0m0 54.7h0m0.1-238h0m0.1 214h0m0.1-16.3h0m0.2-173.3h0m0-32.4h0m0 17.9h0m0.2 14.2h0m0.1 187.3h0m0-31h0m0.2 15.8h0m0.1-13.7h0m0.2-180h0m0.1 213.1h0m0-217.9h0m0.1 11.2h0m0.1-16.5h0m0.4 194.1h0m0-205.7h0m0.1 216.6h0m0.1-9.2h0m0.4-4.7h0m0.2-1.1h0m0.2-182h0m0.3 23.6h0m0.1 175.4h0m0.1-203.8h0m0 196.2h0m0-171.5h0m0.2 162.9h0m0.1-3.5h0m0.1-158.2h0m0.2 171.4h0m0.1-181.2h0m0 168.4h0m0.4-157.1h0m0.1 158.2h0m0.1-179h0m0.3 10.1h0m0.1 12h0m0.1 260.2h0m0-266.3h0m0.1 3h0m0.3 167.8h0m0.3 3.7h0m0.2-180.8h0m0.2-15h0m0 25.7h0m0.4-9.8h0m0 177.1h0m0.2 46.9h0m0.1-23.2h0m0.3-217.7h0m0.1 17.8h0m0.1 174.8h0m0.2 2.5h0m0.1 17.4h0m0.2-209.9h0m0.1 261.8h0m0.3-54.4h0m0 4.7h0m0.1-4.5h0m0-191h0m0.1 198.1h0m0.1-21.2h0m0.1-173.5h0m0 10.1h0m0.1-50.6h0m0 33.1h0m0.3-7.4h0m0.2 228.5h0m0.1-205.2h0m0-4.9h0m0.2-11.2h0m0.1 188.9h0m0.1-2.7h0m0.1-175.8h0m0.1 172h0m0-190.8h0m0.1 216.1h0m0.1-8.7h0m0.1-22.4h0m0-4.8h0m0.1 3.6h0m0.1-158h0m0 191.4h0m0.2-205.1h0m0.2 174.7h0m0-191.6h0m0.2 27.2h0m0.1-34.6h0m0.3 34.1h0m0-40.6h0m0.1 213.5h0m0.2-7.9h0m0.1-166.7h0m0.1-26.3h0m0 17.7h0m0.1-15h0m0 22.9h0m0.3-28.2h0m0.2 22.6h0m0 180.9h0m0.2 2h0m0.1 0.5h0m0.1-182.7h0m0.1-23.6h0m0 203.4h0m0.1-192.9h0m0.1 15.3h0m0.4 174.1h0m0.3-189.6h0m0-1.4h0m0.1 13.4h0m0.2 222.8h0m0-251.9h0m0.1 28.1h0m0 181.9h0m0.1-189.3h0m0.1 203.1h0m0.5-234.1h0m0.2 42.4h0m0.1 177.5h0m0.1-1h0m0.1-185.7h0m0 13h0m0.1 177.1h0m0 7.8h0m0.2 11.2h0m0-38.6h0m0.1 8.8h0m0.7-183.4h0m0.2 22.8h0m0.2-52.3h0m0-46.7h0m0.1 85.7h0m0 215.2h0m0.2-241.3h0m0.1-22.7h0m0 285.6h0m0.2-223.8h0m0.1 162.6h0m0 6.9h0m0-269.2h0m0.1 42.8h0m0 32.1h0m0.3-30.2h0m0 210.4h0m0.2 11.7h0m0-171.4h0m0.1-31.5h0m0.2 194.2h0m0.1 4.9h0m0.5-164.4h0m0.1 1.2h0m0-2.5h0m0.2 162.2h0m0-160h0m0.2-57.4h0m0 54.8h0m0.1 182.6h0m0.1-188.7h0m0.1-26.2h0m0 11.6h0m0.2 10.1h0m0 218h0m0.2-208.8h0m0.1-2.8h0m0.1-45.6h0m0.3 47.5h0m0.1 197.9h0m0.1-199.7h0m0-18.8h0m0.1 181.6h0m0.1-190.6h0m0.2 33.7h0m0.4 161.4h0m0.1-174.3h0m0.1 9.1h0m0.2 194h0m0.1 10.6h0m0-46.6h0m0.2 2.2h0m0 5.8h0m0.1-1.3h0m0 45.5h0m0.2-38.6h0m0.1-175.1h0m0.1 9.6h0m0.2-22.3h0m0 22h0m0-23.8h0m0.3 177h0m0-218.9h0m0.2 59.6h0m0.3-6.9h0m0.2 8.1h0m0.1-16.1h0m0.2-30.2h0m0.1 211.5h0m0.2-9h0m0.2-193.4h0m0.1 26.1h0m0-36.4h0m0.1 49.7h0m0-15.9h0m0 189.7h0m0.1-12.5h0m0.1-179.1h0m0.1 181.8h0m0-171.9h0m0.1 7h0m0.1-20.4h0m0.1 239h0m0.3-241.6h0m0.1 22.1h0m0-1.1h0m0 218h0m0.1-225.9h0m0.2-19.4h0m0-3.3h0m0.1 194h0m0.1-161.1h0m0.3-34.2h0m0 217.7h0m0.1-180.5h0m0.1-58.1h0m0.1 220.9h0m0.2-215.1h0m0.1 33.8h0m0.3 186.4h0m0.2 7.7h0m0 15.6h0m0.1-196.7h0m0.1 167.7h0m0.1-167.4h0m0 157.3h0m0.2-158.8h0m0.1 203.1h0m0.1-212.8h0m0 7.9h0m0.1-2.9h0m0-161.3h0m0 14.1h0m0 57.2h0m0.2 262.8h0m0.1 3.3h0m0.3 8.7h0m0-23.3h0m0.2 14.6h0m0-185h0m0.2 1.9h0m0.2 193.3h0m0.1-176.8h0m0.1 173h0m0.1-179.8h0m0.2 160.5h0m0-167.4h0m0.2 0h0m0.1 10.8h0m0.1-18.1h0m0 180.2h0m0.1-5.8h0m0.3-185.8h0m0.1 188.1h0m0 47.7h0m0.1-14h0m0.1-210.1h0m0.3 171.7h0m0-153.5h0m0.1 163.2h0m0.1 11.3h0m0.1-13h0m0.2-161.2h0m0.1-9.6h0m0 180.9h0m0.1 23h0m0.1-216.9h0m0.2 12.4h0m0.1 179.6h0m0.4 2.2h0m0.1-184.3h0m0.1 177.2h0m0.1-10.3h0m0 1.1h0m0.3 13.8h0m0-181.8h0m0.3 16.8h0m0.2 149.8h0m0.1 24.9h0m0-17.1h0m0.2 36h0m0-200.7h0m0.1 190h0m0.3-216.8h0m0 224.8h0m0.2-202.4h0m0.1-28.1h0m0.2 24.9h0m0.1-4.5h0m0 13.8h0m0.3 236.1h0m0.1-282.1h0m0 47h0m0.1 183.3h0m0.2-15.8h0m0.2 48.3h0m0.4-47.8h0m0.1 8.8h0m0 23.2h0m0.1-242.4h0m0.1 38.9h0m0.1 198.8h0m0.1-209.1h0m0 189.1h0m0.1-171.7h0m0.1 150.9h0m0 22.5h0m0.3-172.2h0m0 161.4h0m0-163.1h0m0.1-6.5h0m0.1-14.3h0m0 174.9h0m0.4-165.8h0m0.1 200.4h0m0.2-201.7h0m0.2 172.8h0m0-174.6h0m0.2 177.1h0m0-167.8h0m0.2 162.4h0m0.2 0.7h0m0.1-3.7h0m0.2 0.2h0m0-179.5h0m0 180h0m0.2 32.7h0m0.9-197.9h0m0.3 4.8h0m0 160.9h0m0.3 10h0m0-168.5h0m0.2 156.8h0m0-166.8h0m0.3 194h0m0.1-197.5h0m0.1 184.8h0m0.3 25.9h0m0.1-215.5h0m0-8.2h0m0.1 182.7h0m0-153.9h0m0.3-5.3h0m0.2 1.5h0m0.1-73.2h0m0.1 51.2h0m0.1 191.9h0m0.3-13.6h0m0.1-165.2h0m0.2-26.7h0m0.3 30.6h0m0.1 246.2h0m0.8-74h0m0.1-4.6h0m0-177.1h0m0.4 10.4h0m0.5-5h0m0.2 1.1h0m0.6 181.2h0m0 1.7h0m0.1-169.6h0m0.2-22.9h0m0.1-22.3h0m0.1 253.9h0m0.1-225.6h0m0.2 12.5h0m0 164.9h0m0.1-175.5h0m0.3-2.2h0m0.2 178h0m0.1-8.4h0m0.1 2.9h0m0 5.2h0m0.1-161.2h0m0.1-16.7h0m0.1 174.8h0m0-179.7h0m0.1 174.7h0m0.1 7.8h0m0.2-187.4h0m0.3 23.2h0m0.1 159.2h0m0.1 4.3h0m0.1-162.5h0m0.3-22h0m0.1 5.2h0m0.1-11.6h0m0.2 198.6h0m0.2-207.1h0m0 249.1h0m0.1-45.5h0m0.1-7.2h0m0.2-155.6h0m0.2 164.3h0m0.1-5.3h0m0.1-166.2h0m0 1.1h0m0.1 161.2h0m0.1 19.8h0m0.1-178.3h0m0.1-2.6h0m0.1 169.1h0m0.2 4.5h0m0 32.7h0m0.1-36.9h0m0-164.1h0m0.2 155.2h0m0.2-217.3h0m0 22.9h0m0.2 37.5h0m0.1 210.6h0m0.1-228.8h0m0 18.8h0m0.1 0h0m0-2.2h0m0 195.8h0m0.1-40.7h0m0.1 10.8h0m0.3-4.7h0m0.1-178.9h0m0 184.8h0m0.1-227.6h0m0.1 272.5h0m0.1-230.7h0m0.1 207.6h0m0-201.1h0m0.1 14.3h0m0 158.7h0m0.1 51.2h0m0-49.6h0m0.1-172.3h0m0.3 13.2h0m0.1 202.9h0m0.1-47.1h0m0.3 13.5h0m0-10.4h0m0.1-162.8h0m0.1 172.4h0m0-13.1h0m0.3 4.5h0m0.3-4.2h0m0.2 28.4h0m0.1-231.6h0m0.1 45.3h0m0-30h0m0 212.9h0m0.2-239.9h0m0.2 278.4h0m0.1-19.8h0m0-224.7h0m0.1 178.3h0m0.1 13.7h0m0.1-177.8h0m0.3 169.9h0m0-162h0m0.1-6.7h0m0.2 159.6h0m0 14h0m0.4-172.6h0m0.3 161h0m0.1 13.6h0m0-166h0m0 155.9h0m0.2-3.7h0m0.3 4.4h0m0.1-185.7h0m0.3 30.2h0m0.2 154.3h0m0.4-169h0m0-20.4h0m0.5 198.4h0m0.3-170.8h0m0.1-9.7h0m0 14.7h0m0-2h0m0.1 171.5h0m0.1-200.8h0m0 263.9h0m0-286.3h0m0.2 214.8h0m0.1-170.9h0m0.1-15.3h0m0 15.1h0m0.2 1.6h0m0 189.4h0m0.2 2.8h0m0.2-221.5h0m0.2 208.4h0m0.1 3.6h0m0.1-180.1h0m0 162.8h0m0.2 12.8h0m0.1-168h0m0-50.9h0m0.1 241.6h0m0.2 3h0m0-22.1h0m0.2-185.8h0m0.2 228.1h0m0-229.6h0m0.1 170.9h0m0.1-162.7h0m0-11.8h0m0.1-6.2h0m0 14.2h0m0.3 191.9h0m0.2-21.8h0m0.4-0.1h0m0.1-5.4h0m0.1-175.1h0m0 223.2h0m0.1-235.8h0m0.4 189.4h0m0 51.2h0m0-31.2h0m0-203.8h0m0.1 10.2h0m0.2 209.3h0m0.4-6.9h0m0-209h0m0.2 10h0m0.2 187.4h0m0-188.3h0m0.1-22.1h0m0.4 19.9h0m0 16.7h0m0.5-11h0m0.2 196.7h0m0-220.7h0m0.1 195.4h0m0.3 6h0m0.1-171.9h0m0 5.9h0m0.1 173.4h0m0.2-191.4h0m0 228h0m0-211h0m0.1-6.7h0m0 167.9h0m0.1-169.2h0m0.2-7.4h0m0.1-18.6h0m0.1 33.2h0m0 177.3h0m0.1-202.6h0m0.1 208.9h0m0.1-29.3h0m0.2 35.8h0m0-243.1h0m0.1 19.2h0m0 262.5h0m0-253.8h0m0.1-16.8h0m0 22.6h0m0 19.4h0m0.1-16.5h0m0.2 171.2h0m0.1 15.7h0m0-13.9h0m0.1 26.3h0m0 69.9h0m0-296.4h0m0.1 229.8h0m0.2 17.1h0m0-203.7h0m0.1-1h0m0.1 167.2h0m0.1-180.4h0m0.2 227.1h0m0-40.3h0m0.1 22h0m0.1-33h0m0.2-177.8h0m0.1 171.1h0m0.1 4.5h0m0.1-156.3h0m0.1 156.1h0m0.1-154.9h0m0.1 152.9h0m0.1-179.6h0m0.1 7.6h0m0.2 3.7h0m0 12.2h0m0 182.3h0m0.1-183.9h0m0.3 0.7h0m0 4.5h0m0.1-0.7h0m0.2-22.6h0m0.1 11.5h0m0.1 182.9h0m0-189.1h0m0.2-10.7h0m0.1 250h0m0-237.6h0m0.1-5.8h0m0.3 8.2h0m0-30.6h0m0.1 238.4h0m0.2-199.4h0m0.1 167.2h0m0.1 35h0m0-47.2h0m0.3-177.8h0m0.1 247.3h0m0.2-219.3h0m0.1-34.5h0m0.1 200.9h0m0-173.8h0m0.2-1.4h0m0.5-39.8h0m0 38.9h0m0.1 161.4h0m0.2 20.9h0m0.1-23.3h0m0.2-156.6h0m0 182.3h0m0.2-179.3h0m0.2 158.4h0m0.1 17.8h0m0.1-176.4h0m0.1 154.4h0m0.1-186.1h0m0 15h0m0.3 205.3h0m0.5-33.4h0m0.2-171.5h0m0.1 8.7h0m0 170.9h0m0.1 7.7h0m0.1-15h0m0.1 24.7h0m0.4 55.3h0m0.1-243.3h0m0.1-25.7h0m0 33h0m0.1-23.1h0m0 187.5h0m0.2-9.4h0m0.2 6.5h0m0.1 44.2h0m0 14.9h0m0.4-263.5h0m0.3 206.1h0m0.2-5.5h0m0.1 0h0m0-158.7h0m0.2-23.7h0m0.1 27.3h0m0.1-28h0m0.4-15.6h0m0 196.8h0m0-153h0m0.2 154.3h0m0.1-162.5h0m0.1 196.4h0m0.1 33.8h0m0.1-70h0m0-161.3h0m0.3-23.6h0m0.2 5.8h0m0.1 12.4h0m0-15.9h0m0.1 180.9h0m0.1-154.6h0m0.1-3.5h0m0.3-1.8h0m0.2 11.2h0m0 161.4h0m0.2-216.7h0m0.1 45.2h0m0.4 169.6h0m0.1-9.9h0m0 22.7h0m0.1-222.6h0m0.1 224.3h0m0.1-206.6h0m0.3 27.9h0m0-7.7h0m0.1 174.5h0m0.1-177.5h0m0.1-2h0m0-73.8h0m0.1 260.6h0m0.1-171h0m0.1 180.8h0m0-30.3h0m0.2 19.6h0m0-5.7h0m0-171.5h0m0.1 161.3h0m0.1-163.5h0m0.1 168.6h0m0 6.7h0m0.2-1.2h0m0.1-163h0m0.1-69.5h0m0.2 236.6h0m0.2 42.1h0m0.1-211.5h0m0.1 163.1h0m0-8.8h0m0.1 1.7h0m0.1 36.6h0m0-210h0m0.2 14.8h0m0.1-5.9h0m0.3-0.8h0m0.1 177.1h0m0.1-165.5h0m0.3-21.6h0m0 180.2h0m0.3 29.9h0m0-205.6h0m0.1 174.8h0m0.1-169.2h0m0-24.9h0m0.1 189.5h0m0.2 11.5h0m0.1-15.6h0m0.1-148.9h0m0 149.9h0m0.1-177.7h0m0-7.3h0m0.1 11.3h0m0.1 182.3h0m0.2 14h0m0.2-172.9h0m0.4 169.9h0m0.9-18.1h0m0-175.3h0m0.1 173.9h0m0.2-157.7h0m0-73.5h0m0.2 80.5h0m0.2-28.4h0m0.1-6.7h0m0.1 30.9h0m0 251.1h0m0.1-260.8h0m0-12.7h0m0 220.4h0m0.1-216.5h0m0-74.5h0m0 266.8h0m0.1-172h0m0.1 158.7h0m0.1-214.3h0m0.1 255.7h0m0-42h0m0.2 7.1h0m0 8.7h0m0.1 27.4h0m0 0.2h0m0.1-26.6h0m0-211.9h0m0 197.6h0m0.1-173.9h0m0.2 185.2h0m0 37.1h0m0.1-6.1h0m0.1-222.7h0m0.1 20.9h0m0.2 174.4h0m0-199.1h0m0.1 213h0m0.1-222.3h0m0.1 209.7h0m0.1-10.6h0m0-178h0m0.6 172.5h0m0.1 6h0m0.3 29.7h0m0.1-195.9h0m0.2-30.9h0m0 14.2h0m0 187.2h0m0.1-15.9h0m0-165.1h0m0.1-8.4h0m0.1-25h0m0.1-26.1h0m0.1 40.7h0m0 190.1h0m0.1-200h0m0 196h0m0.3-173.5h0m0.4 185.8h0m0.4-4.2h0m0.2-165.2h0m0-9.5h0m0.2 7.1h0m0.1-22h0m0 12.2h0m0.1 188.7h0m0.2-22.9h0m0.1 1.7h0m0.1-194.3h0m0.1 30.6h0m0.1 201.8h0m0.1-36.6h0m0.1-3.6h0m0.3-185.4h0m0.4 186.8h0m0.1-214.4h0m0 212.5h0m0.2-154.1h0m0.1-57.2h0m0.1 223.4h0m0 4.7h0m0-174h0m0-2.2h0m0.1 161.9h0m0.1 14.3h0m0.1 6.3h0m0.3 13.5h0m0.2-203h0m0 201.5h0m0.2-22h0m0.3-164.7h0m0-1.5h0m0.1-7.7h0m0.1 167.4h0m0-156.5h0m0-18.9h0m0 261.3h0m0-75h0m0.1-176.7h0m0.3 2h0m0-18.6h0m0 8.8h0m0.4 15.2h0m0.3 158.3h0m0.1-171.3h0m0 274.2h0m0.2-89.1h0m0.2-202.6h0m0.1 188.6h0m0.5-5.8h0m0.2-156.1h0m0 5.1h0m0-19.8h0m0.1 180.1h0m0.3 26.4h0m0-20.1h0m0-10.7h0m0 15.4h0m0.2-177.2h0m0.1 1.1h0m0.4 157.9h0m0 13.4h0m0-175.4h0m0.6 8.4h0m0.1 149.9h0m0.1-206h0m0.1 52h0m0.1-0.4h0m0-18.5h0m0.1 179.8h0m0.2-165.7h0m0.2 181.8h0m0.1-9h0m0.1 20.9h0m0-6h0m0.1-14.4h0m0-191.5h0m0 5.9h0m0.2 22.3h0m0.1-22h0m0 191.3h0m0-5.4h0m0 4.6h0m0.1-216.9h0m0.1 17.3h0m0 18.9h0m0.3 214.7h0m0-25.8h0m0 29h0m0-57h0m0.1-151.6h0m0 195.4h0m0-19.2h0m0-23.3h0m0.4 13.8h0m0.2 6.8h0m0-202h0m0.2-0.7h0m0 17.2h0m0.2 190.4h0m0.1-192.1h0m0 196.7h0m0.1-232.4h0m0.6 11.5h0m0.2 241.6h0m0.1-212.6h0m0 4.3h0m0.1 1.8h0m0.1-32.4h0m0.5 37.7h0m0.1 232.7h0m0.2-259.3h0m0.1 194.3h0m0.1-205h0m0 23h0m0.1 171.2h0m0.1-187.2h0m0.7 219.8h0m0.1-25.6h0m0.2-165.8h0m0.3 161.3h0m0 0.5h0m0.1-161.9h0m0 153.5h0m0.1-184.7h0m0.8 195.7h0m0.1-201.8h0m0 189.3h0m0-152.2h0m0.1 165.6h0m0.1 33.4h0m0-33h0m0.1-168.6h0m0.1 161.6h0m0.2-170.6h0m0.1 163.7h0m0.1-155.2h0m0-10.6h0m0 175.3h0m0.1 8.6h0m0.1-16.1h0m0.3-157.5h0m0.1 157.4h0m0.1-158.5h0m0.2-11h0m0 14.8h0m0.1-1.9h0m0 1.8h0m0.1-23.8h0m0.3 184.2h0m0.1 42.8h0m0.1-247.1h0m0.1 40.9h0m0-30.7h0m0.2 27.5h0m0.3-13.7h0m0.1 18.9h0m0.2 0.8h0m0.5 163h0m0.2-6.7h0m0.1 12.9h0m0.1-182.4h0m0.1 173.6h0m0-160.7h0m0.2 155h0m0.1-157.8h0m0.5-16.4h0m0.2 179.7h0m0 11.2h0m0.1-186.9h0m0.2-18.8h0m0.1 234.9h0m0-249h0m0.2 19.3h0m0 24.1h0m0.1 158.7h0m0.1 17.9h0m0.2-198.2h0m0.1-0.1h0m0.1 14.3h0m0 208.1h0m0.1-31h0m0.1 3.2h0m0.1 0.6h0m0.1-183.4h0m0 206h0m0-33.4h0m0.1-2.4h0m0.3-1.3h0m0.1-156.8h0m0.2 167.3h0m0.1-166.5h0m0-35.1h0m0.1 199h0m0.4-164.1h0m0.4-1h0m0.2-26.9h0m0.1 21.4h0m0 168.4h0m0.1 19.7h0m0.1-15.2h0m0.3-199.7h0m0.1 189.9h0m0.1-151.4h0m0.2 175.4h0m0.2-208.5h0m0.1 227.9h0m0.1-39h0m0-3.6h0m0.1 3.3h0m0.2-154.9h0m0.1 153.5h0m0.4-185.9h0m0.8 200.6h0m0.3-186.3h0m0 6.1h0m0.1 8.8h0m0.1-64.5h0m0.1 34.8h0m0.4 212.3h0m0.3 30.1h0m0.1-248.5h0m0.3 8.4h0m0 20.5h0m0-3.2h0m0 168.1h0m0.1 22.9h0m0-186.5h0m0 4.2h0m0.2 216.9h0m0.1-234.3h0m0-3.2h0m0.1 229.9h0m0.2-220.1h0m0.1 12h0m0 175.7h0m0-196.5h0m0.1 195h0m0-174.4h0m0.1 217.1h0m0.3-231.3h0m0.1 6.4h0m0-16.3h0m0.3 193h0m0-209.2h0m0.2 217.8h0m0-22.8h0m0.1-2.2h0m0.1-149.5h0m0 168.3h0m0-18.1h0m0.1-177.8h0m0.1 26.9h0m0.1 177.3h0m0.1-209.2h0m0-12h0m0.1 38.4h0m0-6.2h0m0.2-8.9h0m0 195.4h0m0.1-16.3h0m0.1-8.4h0m0 51.9h0m0-240.7h0m0.1 221.9h0m0-212.1h0m0 18h0m0.2-56.2h0m0.1 217.6h0m0 21h0m0.1 52.4h0m0-239h0m0.3 6h0m0 188.3h0m0.2-19.9h0m0.1 22.8h0m0.3-9.3h0m0.6 10.2h0m0.1-19.3h0m0-215.4h0m0.1 204.2h0m0-0.1h0m0.3-175.1h0m0-1.7h0m0.1 199h0m0-232.4h0m0.2 41h0m0.1 186.9h0m0.1 21.9h0m0-204.9h0m0.1 173.8h0m0-8.6h0m0.1 40.5h0m0.2-31.2h0m0-11.1h0m0.1-170.3h0m0.1 20.8h0m0.1 214h0m0.1-235.5h0m0.1-20.3h0m0.2 197.9h0m0.1-185.3h0m0 197.2h0m0.2-177.1h0m0.2 170.7h0m0-176h0m0.1-17.2h0m0.1 208.2h0m0.2-187.3h0m0 168.4h0m0.2-4.9h0m0.1-191.1h0m0.1 221.2h0m0.1-199h0m0.1 166.9h0m0.3-162.4h0m0.1 4.6h0m0.1-4.4h0m0-58.5h0m0 223.9h0m0.1 0.3h0m0.2-162.7h0m0.1 1h0m0.1 161.3h0m0.1 10.4h0m0.3 38.3h0m0.1-205.6h0m0 156.8h0m0 1.8h0m0.2 15.7h0m0-172.3h0m0.1-3.1h0m0.1 154.4h0m0.1-151.8h0m0.2-12h0m0.2 165.6h0m0.2-1.9h0m0.3 14.3h0m0-9.1h0m0.1-4.4h0m0.4 17.5h0m0.1 9.9h0m0.2-27.6h0m0.1 51.7h0m0.2-212.4h0m0.1 9.9h0m0.1-18.9h0m0-3.2h0m0 180.1h0m0.3-163.8h0m0 159.3h0m0.2 3h0m0.1-169.7h0m0.1 162.5h0m0.2 25.5h0m0-177.7h0m0.1 173.8h0m0-196.4h0m0 17.6h0m0 162.3h0m0.1 2.7h0m0.1 11.7h0m0.4-189.3h0m0.1 11.9h0m0.4 193.6h0m0.2-227.4h0m0 199.4h0m0 34.4h0m0-10.2h0m0.2-29.2h0m0 31.2h0m0.1-2h0m0.3-181.6h0m0-31.6h0m0.1 7.2h0m0 23.5h0m0.1-41.9h0m0.1 197.3h0m0 35h0m0.1-22.8h0m0-12h0m0.2 10.8h0m0.3-181.1h0m0.2 178.8h0m0.2-0.2h0m0-172.9h0m0.1 1.6h0m0-0.2h0m0.2 176.6h0m0.1-11.9h0m0.2 12.5h0m0.1-5h0m0 4.9h0m0.2-10.5h0m0.3-161.5h0m0.1-23.9h0m0.1-19.8h0m0 9.6h0m0.2 190.2h0m0 13.4h0m0.1 22.3h0m0-33.3h0m0.2 3.8h0m0.1-181.1h0m0 187.9h0m0.1-15h0m0.2 9.8h0m0.3-2.5h0m0.2-158h0m0 158h0m0.1-179.2h0m0-8.6h0m0.1 14.9h0m0.2-10.4h0m0.1 2.5h0m0-11.5h0m0 32.3h0m0.1-15.8h0m0.2 18.1h0m0.1-28.6h0m0.2 24.6h0m0-5.2h0m0.2 7.8h0m0.1-5.9h0m0-14.8h0m0.1 187.3h0m0.4-0.4h0m0.2-2.9h0m0-175.6h0m0.1 168.7h0m0.1-3.5h0m0.1-154.8h0m0 177.3h0m0.2-22.4h0m0.1-178.9h0m0.1 199.7h0m0.3-178.1h0m0.1 218.6h0m0.1-57.7h0m0 38.4h0m0-195.1h0m0.1 164.1h0m0 30.5h0m0.2-22h0m0-202.6h0m0.1 193.2h0m0.1-162h0m0.1-30.2h0m0 28.7h0m0.2-12.5h0m0.1-15.3h0m0.1 27.5h0m0.1 189.7h0m0.3-215.3h0m0 23.2h0m0.1-31.2h0m0.2 20.6h0m0.1-11.2h0m0.2 200.9h0m0-17.9h0m0-165.5h0m0-62.7h0m0.1 232.7h0m0.2-192.3h0m0.4 11.4h0m0.2 17.4h0m0.1 160.8h0m0-166.1h0m0 172h0m0.3-4.3h0m0.2 6.5h0m0.1-174.4h0m0.1 177.4h0m0.2-170.4h0m0.2-13.3h0m0.3 192h0m0.2-183.6h0m0.1 2.7h0m0.1-5.1h0m0.1 167.1h0m0.3 5.9h0m0.1-3.1h0m0.3 60.2h0m0.4-260.2h0m0.1 202.8h0m0 16.4h0m0.1-201.6h0m0.1 171.4h0m0.1-153.6h0m0-22.4h0m0.1-48.1h0m0 294.8h0m0.1-249.7h0m0.1 13h0m0-11.1h0m0-3h0m0.5 10.4h0m0.3 9.7h0m0.2 159h0m0.9-154.8h0m0.1-5.7h0m0.1 9.7h0m0.1 153.3h0m0 17.5h0m0.3 5.2h0m0.2-22.8h0m0 42.6h0m0-264.3h0m0.1 224.4h0m0.1-183.6h0m0.1 183.3h0m0-188.2h0m0.4-7.8h0m0.1 230.8h0m0.2-214.6h0m0.1 5.8h0m0 218.3h0m0.1-27.8h0m0.1-178.5h0m0 6.9h0m0 162.2h0m0-231.9h0m0.2 234.9h0m0 38h0m0.1-46.8h0m0.1 3.3h0m0.2 11.9h0m0.1 9.1h0m0-21.6h0m0.1 20.1h0m0.1-178.8h0m0.1-2.2h0m0.1-13.6h0m0.1 203.4h0m0.2-261.3h0m0.1 229.3h0m0.2 9h0m0-190h0m0.1 211.1h0m0-21.6h0m0-167.5h0m0.1 193.6h0m0.1-34h0m0.1-182.8h0m0 233.4h0m0.1-55.9h0m0.1-170h0m0 171.5h0m0-187.9h0m0.1 207.8h0m0-184h0m0.1 166.8h0m0.2 16.6h0m0.1-171.9h0m0.1-6.5h0m0 174h0m0.2 0.9h0m0-12.4h0m0.2 12.4h0m0-15.5h0m0 3.6h0m0 4.5h0m0.4-198.4h0m0.2 28.6h0m0.3 178.2h0m0.1-182.3h0m0.1 2h0m0.4-15.7h0m0 22.7h0m0.1-23.4h0m0 10.2h0m0.1 1h0m0.1-0.6h0m0 173.6h0m0.2 0h0m0.1-4.3h0m0 3h0m0.3 38.1h0m0.2-215h0m0 177.2h0m0-220.6h0m0.2 253.7h0m0-209.3h0m0 179.7h0m0.1-185.3h0m0.1 15.8h0m0-16.9h0m0.1 257.4h0m0.1-80.2h0m0.1-163.4h0m0.2 162.7h0m0.2-195.1h0m0.2 13.3h0m0.2 194.5h0m0.1-170.6h0m0-6h0m0.1 176.6h0m0-165h0m0.1-30.9h0m0 202.9h0m0.1-195.3h0m0 181.4h0m0.1-176.7h0m0.1 7.3h0m0.1 178.3h0m0.1-207.1h0m0.1 217.2h0m0.2-183.4h0m0.1-36.3h0m0.3 210.6h0m0.1-166.5h0m0.4 151.3h0m0.1 41.5h0m0-192.6h0m0.1 174.6h0m0.1-22.2h0m0-159.8h0m0-10.9h0m0.1 18.3h0m0.2 161.4h0m0-0.2h0m0.4 11.6h0m0.2 9h0m0-21.5h0m0-168.5h0m0.1 210.9h0m0.2-51.6h0m0.1 3.1h0m0.2 5h0m0.3-6.8h0m0.1 0.1h0m0-153.9h0m0 160.9h0m0.1 11.5h0m0.1-184.9h0m0.3 169.5h0m0.2 10.5h0m0-171.3h0m0.2 167.5h0m0.1-11.7h0m0.1-164.4h0m0 201.8h0m0.3-202h0m0.2-17.2h0m0.3 211.5h0m0.1-182.7h0m0-3.9h0m0.1 164.5h0m0-7.1h0m0.1-164.4h0m0 222.9h0m0.1-33.8h0m0-4.2h0m0.4 14.2h0m0.1-194.2h0m0.1-34.1h0m0.1 243.6h0m0.3-204.1h0m0-1.8h0m0.1 173.5h0m0.3-9.7h0m0.1 12.8h0m0.2-180.2h0m0.1 161h0m0.2-161h0m0.1 180.2h0m0-197.3h0m0 212.8h0m0-212.8h0m0.1-13.7h0m0 32.8h0m0.1-23.8h0m0 186.4h0m0.1-154.6h0m0.6-21.1h0m0 2h0m0.1 197.4h0m0-187.7h0m0.3 2.7h0m0.1 0.2h0m0-6.5h0m0 178.9h0m0.3 10.1h0m0.2-195.2h0m0.1 176.2h0m0-156.7h0m0.1 168.3h0m0.1 5.4h0m0-189.7h0m0.4 169.7h0m0-160.3h0m0.1 157.2h0m0.2-161.3h0m0.1-5.1h0m0.1 10.6h0m0.2-38.9h0m0.1 249.1h0m0-211.8h0m0.1 184.4h0m0.2-178.7h0m0-23.9h0m0.2 215h0m0.4-277.6h0m0.2 272.3h0m0.2-11.5h0m0.2-191.4h0m0 234.7h0m0-57.5h0m0.1-3.7h0m0-5.5h0m0.3-150.2h0m0.1 151.1h0m0.1-195.9h0m0 39.2h0m0.3-3.6h0m0.1 164.1h0m0 8.9h0m0.1-5.1h0m0-211.7h0m0.3 205h0m0.1 26.6h0m0.1-228.6h0m0.3 216.5h0m0-16.7h0m0.3 3.6h0m0.2 20.2h0m0.3-2.7h0m0.1-19.2h0m0.4-181.2h0m0 28.8h0m0.1 0.5h0m0.2-2.2h0m0.1 161.8h0m0.2 11.7h0m0-7.2h0m0.1-164.6h0m0.1 182.6h0m0.1 5h0m0-3.5h0m0.1-192.5h0m0.1 176.1h0m0-167.7h0m0-28.3h0m0.2 214.6h0m0-28.6h0m0 7.5h0m0.2 40.9h0m0.1-263.7h0m0 56.1h0m0.3 214.4h0m0.1-13.2h0m0-206.8h0m0.1 163.2h0m0.1-184.9h0m0 8.9h0m0.1-1.8h0m0.3 181.9h0m0-162.5h0m0.1 207.9h0m0-42.2h0m0.1-2.6h0m0 38.9h0m0.2-210.2h0m0.1 184.6h0m0.1 28.5h0m0.1-233.1h0m0.1 27.3h0m0.1 161.8h0m0.1-178.4h0m0.4 11.9h0m0-7h0m0.2 232.7h0m0.1-241.1h0m0.1 17.2h0m0.2-28.3h0m0.1 196.3h0m0.3 4.6h0m0-165.4h0m0.1-33h0m0.2 181.7h0m0-151.9h0m0.1 165.2h0m0.2-9h0m0.1-201.7h0m0-46.6h0m0 253.5h0m0.1 13h0m0.4-20h0m0.1-151.2h0m0.3-18.9h0m0 196.8h0m0.1-7.1h0m0-189.5h0m0.1 187.9h0m0-18.3h0m0.2 4.7h0m0.1 18.5h0m0.2-6.5h0m0.1-183h0m0.1 11.3h0m0.1 186.4h0m0.1-25h0m0-164.1h0m0 3.5h0m0.5-10h0m0.2 11.8h0m0.1-24.6h0m0 193.2h0m0.1-187.9h0m0.1 17.2h0m0-9.2h0m0.1-53.1h0m0 234.2h0m0.2-175.3h0m0.4-6.3h0m0.1 184.6h0m0-173.5h0m0.2 156.6h0m0.1-2.6h0m0.6-225.5h0m0.1 233.8h0m0.2 0.7h0m0.1-165.1h0m0 179.3h0m0-7.9h0m0.1-170.1h0m0.2-5.9h0m0.1 169.6h0m0.2-3.6h0m0-1h0m0.1 39h0m0-217.8h0m0.1 193.3h0m0.1-11.5h0m0.1-174.6h0m0.2 197.6h0m0.8-16.3h0m0.2-173.6h0m0-17.4h0m0.1 8.2h0m0-8.7h0m0.1-3.1h0m0 191.4h0m0-13.3h0m0.2 4.3h0m0.2-153.6h0m0.1-3.3h0m0-36.2h0m0.1 196.7h0m0.1 61.5h0m0-59.9h0m0.1 3h0m0 1.6h0m0.4-163.7h0m0-5.7h0m0 167.5h0m0.1-172.7h0m0.1 3.8h0m0.3 170.3h0m0.1-168.7h0m0.1 4.2h0m0.1 0.8h0m0 159.3h0m0.2-168.5h0m0 183.4h0m0.2-13.4h0m0.1-256.6h0m0.1 248.7h0m0.2-203.4h0m0 205.6h0m0.1-177.3h0m0 17.3h0m0.1 184.2h0m0.1-7.7h0m0.1 6.4h0m0.2-28.1h0m0.3 45.7h0m0.1-44.2h0m0.1-151h0m0.1-43.2h0m0.1 242.7h0m0.1-34h0m0.1-167.9h0m0.3-6.9h0m0.2 178.4h0m0-214h0m0.1 213h0m0-177h0m0.1 192.8h0m0-9.7h0m0.1-25.1h0m0.3-152.2h0m0 163.6h0m0.2-200.5h0m0 37.3h0m0.2 155.7h0m0.2 2h0m0.1-184.6h0m0 202h0m0.1 9.8h0m0.1-204.4h0m0 180.2h0m0.1-205.6h0m0-18.7h0m0.2 61.9h0m0.1 0.2h0m0.1 180.4h0m0 73.3h0m0.2-41.6h0m0.1-37.5h0m0.1-176.3h0m0 179h0m0.1 12.5h0m0-7.9h0m0.1-192.3h0m0.1 9.1h0m0.1 5.2h0m0.2 153.4h0m0.1-181h0m0.2 9.1h0m0.4 4.1h0m0.1 8.2h0m0.1 185.9h0m0.2-207.2h0m0 24.1h0m0.1 161.2h0m0 4.9h0m0.1-11.9h0m0-155.3h0m0.2 161.2h0m0.1 16.9h0m0.1-198.2h0m0.1 24h0m0.1 0.2h0m0 155.2h0m0-170.3h0m0.1 180.5h0m0.3 25.4h0m0.1-194.5h0m0.1 1.4h0m0.1-3.1h0m0.2-3.1h0m0.1 175.7h0m0.1-211.7h0m0.2 205.3h0m0.3-169.8h0m0.2 202.2h0m0-29.8h0m0-4.4h0m0 3.5h0m0-9h0m0.1 40.3h0m0.1-33h0m0.3-169.4h0m0 173.2h0m0.2-171h0m0.3 167h0m0-10.2h0m0-154.1h0m0.2 3.2h0m0 1.6h0m0.1-2.5h0m0.2-27.1h0m0 181h0m0.2-152.5h0m0.1 0.6h0m0-9.5h0m0.1-7.6h0m0.1 187.6h0m0.3-214h0m0.1 7.3h0m0 31.2h0m0-24.9h0m0.1 183.2h0m0.5 6h0m0.1 4.5h0m0.2-0.5h0m0 8.1h0m0.2-189h0m0.3 172.5h0m0.1-198.5h0m0.1 224.8h0m0-189.4h0m0.2 214.6h0m0-41.8h0m0.3-9.4h0m0.2-180.9h0m0.2-59.5h0m0.1 244.7h0m0-6.2h0m0.1-161.1h0m0.1-0.2h0m0-20.4h0m0 25.2h0m0-25.3h0m0.1 207.2h0m0.4-1.4h0m0.1-180.7h0m0-14.8h0m0.2-3.7h0m0.1 6.5h0m0.1-3.8h0m0.2 208h0m0.1-35.7h0m0.2 9.3h0m0.1-3.2h0m0.1 6.3h0m0.1-172.9h0m0-1.6h0m0.1 1.6h0m0.1-18.8h0m0 182.9h0m0.2-160.5h0m0.3 170.1h0m0.2-176.4h0m0.1 159.2h0m0.1-196.4h0m0.2 278.7h0m0.1-269.6h0m0 188.4h0m0.1 10.6h0m0.2 9.9h0m0-17.5h0m0-0.9h0m0 1.2h0m0.4-159.5h0m0.1 3.3h0m0.1-22.1h0m0.1 18.9h0m0.8 157.1h0m0.3 8.1h0m0.1 0.6h0m0.2-163.4h0m0-1.6h0m0.1-3.4h0m0-2.2h0m0.1 161.6h0m0.1-174.8h0m0 174.4h0m0.3 14.2h0m0.1 38.8h0m0-251.8h0m0.5 47.9h0m0-11.8h0m0.4 164.6h0m0-154.4h0m0.1 156.5h0m0 6.4h0m0-197.2h0m0.4 192.8h0m0.2-162.3h0m0.1-6.2h0m0 179.5h0m0.2-202.4h0m0.3 33.2h0m0-32.3h0m0 189.2h0m0 2.1h0m0.1 19.3h0m0-193.1h0m0-17.9h0m0.3 30.1h0m0 175.9h0m0.2-2.7h0m0-186.2h0m0.2-11.2h0m0.1 187.1h0m0-2.9h0m0.3-163.8h0m0.2-1.4h0m0-19.1h0m0.1 179.1h0m0 4.9h0m0.4-158.1h0m0.1-27.1h0m0.4-2.9h0m0 4.5h0m0 188.8h0m0.3 9h0m0.3 3.7h0m0.2-200.4h0m0.1 19.8h0m0 219.7h0m0 31.2h0m0.1-51.4h0m0-30.1h0m0.3 0.3h0m0-11.4h0m0.1 2.7h0m0.1 26.8h0m0-12.3h0m0.3-190.4h0m0.1 184.5h0m0.6 1.5h0m0.1-238.8h0m0 229.2h0m0.5-173.1h0m0.3 14h0m0.1-6.7h0m0.1 10.1h0m0.1-11.1h0m0.3 182.2h0m0.1-183.6h0m0.1 12.8h0m0.1-6.2h0m0.2 182.5h0m0.1-223.7h0m0-52.5h0m0.3 96h0m0.4 222.4h0m0.1-16.3h0m0.2-39.8h0m0-164h0m0 225.4h0m0.1-50.3h0m0 50.4h0m0.1-266.2h0m0.1 213.8h0m0.2 2.6h0m0.2-208.1h0m0 35.7h0m0.1-32.8h0m0.2 201.6h0m0-175.8h0m0 171h0m0.1-198.6h0m0 212h0m0-184.8h0m0.1-13.9h0m0-8.5h0m0 188.2h0m0.1-170.9h0m0.2-9.2h0m0.1 177.2h0m0 30h0m0 0.5h0m0.1-15.1h0m0-187.7h0m0.1 169.3h0m0-157.1h0m0-3.6h0m0.3 171.8h0m0 36.5h0m0.2-21.5h0m0.1-23.1h0m0.3-159.3h0m0.2 156.5h0m0 4h0m0.1-2h0m0 27.2h0m0.2-201.9h0m0.4 243.6h0m0.1-264.7h0m0.2 27.3h0m0.3 164.6h0m0.3-182.8h0m0 218.1h0m0.3-201.1h0m0.2 7.6h0m0.1 6.6h0m0 151.9h0m0.4 15.9h0m0.3-172.8h0m0.3-30.6h0m0.5 197h0m0.1-207.6h0m0 13.7h0m0.3 187.1h0m0.1-160.5h0m0.3 180.9h0m0.1-208.4h0m0 186.1h0m0.1 29.3h0m0.3-17.5h0m0.1-225.4h0m0.1 228.2h0m0.1-15.4h0m0.7 4h0m0.1-194.5h0m0.3 214.7h0m0-230.3h0m0.3 51.9h0m0.3-40.8h0m0.1 22.6h0m0.1 180.2h0m0.1-5.6h0m0 18.3h0m0.1 5.2h0m0-177h0m0.1 191.9h0m0.2 5.5h0m0.2-217.4h0m0 16.9h0m0.1 155.2h0m0 50.4h0m0.1-202.2h0m0.2-61.1h0m0 1.5h0m0.1 24.2h0m0.1 214.9h0m0.2-196.2h0m0.3-39.4h0m0 236.3h0m0.1-188.8h0m0.1-16.3h0m0.2-70.5h0m0 256.4h0m0.3 9.1h0m0-207.5h0m0.1 211.8h0m0.3-217.3h0m0.3 11.4h0m0 180.7h0m0-160.5h0m0.1 169.9h0m0.2-221.1h0m0.3 34.6h0m0 230.5h0m0.1-210.8h0m0-17h0m0.1 175.3h0m0.1-164h0m0.1 2.5h0m0 188.8h0m0.1-20.3h0m0-7.4h0m0.1 35.8h0m0-190.7h0m0.1 1.6h0m0 160.9h0m0.3 14.7h0m0 3.3h0m0.1-186.7h0m0.2 6.4h0m0.1 192.5h0m0 12.8h0m0.1-19.8h0m0.1-19.6h0m0.1 50.3h0m0.2-212.5h0m0.2 169.3h0m0-17h0m0.1-173.8h0m0.2 12.4h0m0.1 173.6h0m0.1 27h0m0.3-194h0m0.1 1.4h0m0 189.3h0m0.2-190.5h0m0 220.9h0m0-26.2h0m0.2-35.3h0m0 17.8h0m0.1-176.1h0m0.2-52.1h0m0.1 34.9h0m0-37.8h0m0.2 247.5h0m0.2-205h0m0.1 9.1h0m0.1 0.5h0m0.1 2.9h0m0-27.5h0m0.6 28.1h0m0.2 179.2h0m0.1-186.1h0m0.2 170h0m0-195.2h0m0.2 191.1h0m0.4-173.3h0m0.2 9.3h0m0.5 167h0m0.3-163.9h0m0.1-11h0m0.3-31.4h0m0.4 215.1h0m0.2-203.2h0m0 187.4h0m0.1-1.3h0m0.2-159.5h0m0.2 7.7h0m0-1.2h0m0.1 161.6h0m0 10.6h0m0.1-179.4h0m0.3 7.9h0m0-41.1h0m0 274h0m0.2-28.7h0m0.3-297.1h0m0.1 91.3h0m0.1-11.7h0m0-16.3h0m0 25.2h0m0.2-0.3h0m0.2-35.4h0m0.2 11.6h0m0.2 179.1h0m0-158.9h0m0.1 172.7h0m0 26.7h0m0.2-193h0m0 175.2h0m0-231.5h0m0.1 233.1h0m0.1-184.8h0m0.2-16.3h0m0 15.8h0m0.5-19.7h0m0.5 15.4h0m0.7 180.3h0m0-5.1h0m0.2-172.2h0m0.1-15.1h0m0 24.6h0m0.1-10.7h0m0.1-20.3h0m0.3 204h0m0.1-201.7h0m0.5 8.4h0m0 209.8h0m0-202.5h0m0.4 170.4h0m0.2 16.3h0m0-1.9h0m0.2-169.2h0m0.2 157.3h0m0-214.5h0m0.2 260.9h0m0.2-17.1h0m0.1-32.4h0m0.1-178.2h0m0 187.2h0m0.3-183.5h0m0.1-8.8h0m0.1 207.7h0m0 22.8h0m0.2-219.7h0m0 196.2h0m0.2-15h0m0-186.6h0m0.2 195.4h0m0.1-209.4h0m0.4 195.4h0m0-209.5h0m0.2 228.2h0m0.1 38.9h0m0.3-227.7h0m0.2 195.5h0m0.2-207.7h0m0-2.9h0m0 10.9h0m0 10.5h0m0.2 163.2h0m0.2 30.6h0m0-21.7h0m0.3-220.3h0m0.1 32.8h0m0 11.2h0m0.5 159.2h0m0-222.2h0m0 24.1h0m0.2 229.3h0m0.1 0.9h0m0.3-227.7h0m0 207.1h0m0.1-9.5h0m0.2 13.5h0m0-1.4h0m0.3-12.6h0m0.1-159.7h0m0.1 165.8h0m0.2 1.7h0m0-5.6h0m0.1 1.5h0m0.1-178.9h0m0.8 211.7h0m0.3-219.2h0m0.5 22.8h0m0.1 7.4h0m0.3 168.6h0m0-177.2h0m0.2-33.1h0m0 195h0m0.1-163h0m0 166.3h0m0.3-158h0m0 168h0m0-11.3h0m0.1-166.1h0m0 189.5h0m0.2-177.6h0m0 177.7h0m0.2-205.4h0m0 204.4h0m0.1-9.9h0m0-188.3h0m0.1 19.8h0m0.1-10.2h0m0-9.9h0m0.2 16.2h0m0 4h0m0.1-23.1h0m0.2 183.2h0m0-185.7h0m0.1-34.4h0m0.1 275.7h0m0-248.8h0m0.1 188.4h0m0 24.6h0m0 7.6h0m0.1-190.3h0m0 158.6h0m0.1-173h0m0.3-3.1h0m0 20.8h0m0.1 158.9h0m0.2 12.4h0m0-214.5h0m0.1 197h0m0.2-168h0m0.1 176.8h0m0-172.4h0m0.1 164.6h0m0.4 19.3h0m0.1-17.3h0m0.1-155.3h0m0.1-18.7h0m0.1 8.5h0m0.1-43h0m0-52.7h0m0.2 273.1h0m0.1-173.2h0m0.1 168h0m0-7.3h0m0.1-5h0m0 16.1h0m0.1 36h0m0.1-218.7h0m0.3 3.5h0m0.2 213.7h0m0.2-208.8h0m0 2.4h0m0.4-3.9h0m0.2 183.5h0m0-181.9h0m0.1 163.5h0m0.3-210.2h0m0.8 46.9h0m0.2 219.9h0m0.1-226.5h0m0.1 15h0m0-10.7h0m0-11.7h0m0 175.5h0m0.4-207.3h0m0.2 230h0m0.3-2.6h0m0.9-189.7h0m0.3 167.2h0m0.1 3.3h0m0.1-158.4h0m0-5.9h0m0.1 7.7h0m0-10.5h0m0.1 163.2h0m0.1-209h0m0.1 30.7h0m0.2 23.2h0m0.1-2.6h0m0.2 163.1h0m0 4.6h0m0.1-174h0m0 174.5h0m0.1-241h0m0.1 76.8h0m0.2-20.7h0m0.9-17.5h0m0.1 28.1h0m0.1 0.6h0m0 187.5h0m0-25.6h0m0.5 22.1h0m0-171.1h0m0.4 159.2h0m0 17.4h0m0-27.5h0m0.1-177h0m0.1 224.5h0m0.1-13.1h0m0.1-197.1h0m0.2 10.3h0m0 154.9h0m0.3 82h0m0.1-41.5h0m0.1-39.8h0m0.1-163.5h0m0 172.3h0m0.2-161.6h0m0.1 161.1h0m0.2-160.8h0m0 195.9h0m0.3-229.8h0m0.1 201h0m0.2-6h0m0-168h0m0.2 157.9h0m0-176.5h0m0.1 220.5h0m0-231.9h0m0.3 195.3h0m0 22.4h0m0.3-17h0m0.2-205.6h0m0.1-13.7h0m0.1 40.6h0m0.1 210.7h0m0-30h0m0 0.8h0m0.3-168.9h0m0-28.5h0m0.3 226.2h0m0 11.8h0m0.1-23.7h0m0.1-0.4h0m0-190.2h0m0.1 192.8h0m0.1-186.6h0m0 210.6h0m0.2-57.9h0m0.2 4.6h0m0.1 21.3h0m0.1-26h0m0.1-179.5h0m0 14.7h0m0.2-1.4h0m0 3.8h0m0.1-44h0m0.1 36.8h0m0.1 190.1h0m0-184.3h0m0-0.4h0m0.1-47.3h0m0 54.7h0m0 173h0m0.1-195.6h0m0.1 181.6h0m0.4 7.1h0m0.1-172.1h0m0.1-19.2h0m0.4 30h0m0 164.9h0m0.5-0.5h0m0.1-6.1h0m0.1-196.7h0m0 189.1h0m0-151.5h0m0.1-37.4h0m0.1 206.7h0m0.2 1.2h0m0.2-183.8h0m0.1 6.3h0m0-18.7h0m0.1 24.5h0m0 174.8h0m0.1-181.6h0m0.1 180.4h0m0-199.5h0m0.1-0.8h0m0.2 181.8h0m0.2-175.7h0m0 1.1h0m0.3 19.9h0m0.1-11.2h0m0 10.3h0m0.1-34.6h0m0 24.9h0m0.5 169h0m0.2-226.3h0m0.1 48.7h0m0.1 234.9h0m0.4-213.1h0m0.3-6.7h0m0.3 4.4h0m0.1 182.8h0m0.1 6h0m0-33.7h0m0.1 34.4h0m0.1-193.2h0m0.2 0.5h0m0 173.6h0m0.1-16.3h0m0.2-0.3h0m0.1-164.2h0m0 167.9h0m0 10.7h0m0.1-241.6h0m0 64.9h0m0.2 195.9h0m0.1-6.4h0m0 8.9h0m0.2-199.3h0m0 234h0m0-47.2h0m0.1-179.7h0m0 163.4h0m0.1-170.9h0m0 1.3h0m0.1-44.3h0m0.1 227h0m0.1-4h0m0-219.9h0m0.1-19.1h0m0.2 39.1h0m0.1 4.2h0m0 6.5h0m0.1-9.1h0m0-5.5h0m0.5 199.2h0m0-4h0m0.1 32.1h0m0.3-38.2h0m0.2 6.3h0m0.2-218.7h0m0 18.3h0m0.1 198.2h0m0.2 6.4h0m0.1-179.9h0m0 195.8h0m0.1-219.3h0m0 191.9h0m0 43.3h0m0.2-38.8h0m0-168.5h0m0 168.5h0m0.2 22.6h0m0.3-6.9h0m0.6-14.3h0m0-2.2h0m0 4.2h0m0.4-168.8h0m0-32.8h0m0.1 194.2h0m0 19.1h0m0.1-179.4h0m0 158.7h0m0.1-165.6h0m0.4-0.1h0m0.1-13.9h0m0 183.9h0m0.1-156.8h0m0.2 203h0m0.2-205.6h0m0.2 156h0m0.2-1.7h0m0.2-167h0m0.2 170.8h0m0.2-157.9h0m0.2 169.7h0m0-16.1h0m0.3-200.8h0m0.2 219h0m0.5-225.7h0m0 207.2h0m0 35.5h0m0.1-185.4h0m0.1-3.9h0m0.2 159.9h0m0.1 18.8h0m0.1-192.7h0m0.1 182.5h0m0.1-14.6h0m0.3-172.2h0m0.1 230.7h0m0-53.2h0m0.2 17.6h0m0.1 60.6h0m0.1-78.5h0m0.1 5.9h0m0.1-260.7h0m0 71.5h0m0.1 187.5h0m0 16h0m0.2-10.4h0m0 15.7h0m0-208h0m0-5.9h0m0.6 241.9h0m0-57.8h0m0.3 47.5h0m0.1-219.3h0m0.2 190.2h0m0.1-176.6h0m0.1 211.9h0m0-38.2h0m0.1 27.6h0m0-194.8h0m0.1 159.3h0m0.1-204.8h0m0 220.5h0m0-174.4h0m0.1 151.7h0m0-174.6h0m0.1 15.5h0m0.1 165.9h0m0.2 6.6h0m0-171.4h0m0-31h0m0.1 37.8h0m0.1 176.1h0m0.1-214.5h0m0 13.9h0m0.3-3h0m0 24.7h0m0 171.3h0m0.1 16.3h0m0-197.2h0m0.1 174.3h0m0.2-161.5h0m0.1 152.8h0m0.1-158h0m0 174.2h0m0.1 7.3h0m0-180.2h0m0 182.2h0m0.2-20.5h0m0-172.8h0m0.1-11.4h0m0.1 16.7h0m0.2-42.6h0m0 208.8h0m0.1-172.7h0m0-12.7h0m0.1 233.2h0m0.1-12.1h0m0.1-211.3h0m0.1 197.6h0m0.1-212.6h0m0.2 197.6h0m0.2-167h0m0.1 2.5h0m0-19.8h0m0 6.5h0m0.2-7.1h0m0.2 202.1h0m0.2-27.1h0m0.3 26.4h0m0.1-11.2h0m0 20.6h0m0.1-39.5h0m0-171.5h0m0.2 211.3h0m0.2-225h0m0-17h0m0 205.2h0m0.1 13.3h0m0.3 24.7h0m0-238.4h0m0.2 205.6h0m0.1-5.6h0m0.3-181.8h0m0 196h0m0.3 19.2h0m0.1 11.1h0m0.1-228.4h0m0.1-2.7h0m0.1-14.7h0m0.1 21.6h0m0.1 187.1h0m0.2-4.7h0m0.2-160.7h0m0.2 163.4h0m0.1-2.3h0m0-155.8h0m0 150.6h0m0.1 5.2h0m0 2.9h0m0-174.4h0m0.2 177.7h0m0-186.9h0m0.2 179.7h0m0 29.3h0m0.2-184.2h0m0.2 161.9h0m0-197.7h0m0.1 28.7h0m0 0.8h0m0.4 4.1h0m0 164.4h0m0-196.9h0m0.1 224.7h0m0 9.5h0m0.1-31.9h0m0.1-198.4h0m0.1 14h0m0.1 9h0m0.2-30.8h0m0 22h0m0.2 245.7h0m0-45.7h0m0.1-215.8h0m0.2 30.9h0m0.4 167.4h0m0-169.5h0m0.1 154.4h0m0.3-190h0m0.1 206h0m0.2-6.2h0m0.1-203.3h0m0.1 14.6h0m0.2 21.9h0m0.2 5.9h0m0.2 177.7h0m0.2-185.8h0m0.1-15.8h0m0.1-4.2h0m0.2 178.4h0m0.1 9.1h0m0.1-166.1h0m0.1 1.1h0m0.2-35.4h0m0.1 41.3h0m0.2-6.1h0m0.1 157.5h0m0-182.3h0m0.2 193.3h0m0.4 9.2h0m0-192.3h0m0 173.6h0m0.4 33.1h0m0.1-190.2h0m0.1 163.7h0m0.2-5.1h0m0.3-0.3h0m0.3 43.2h0m0.1-223.6h0m0.1-73.4h0m0.2 95.7h0m0-16.4h0m0 191.7h0m0.1-184.9h0m0.1-3h0m0.2-28.3h0m0.1 14.4h0m0.1-21.6h0m0.1 242h0m0.1-34.1h0m0-169.1h0m0-14.1h0m0.1-18.4h0m0.1 196.4h0m0.1 84.4h0m0.1-74.7h0m0.1-163.5h0m0.1 155.9h0m0-173h0m0.1 11.8h0m0.2 2h0m0.6-13.9h0m0.2 12.9h0m0.1 7.1h0m0-12.4h0m0-5.8h0m0.1 4.1h0m0.1 172.4h0m0 6.2h0m0.1-8.6h0m0.1-6.3h0m0-154.4h0m0-16.4h0m0.2 12.9h0m0.2-19.6h0m0.1 189.1h0m0-174.4h0m0.2 187.7h0m0-183.8h0m0.1 159.5h0m0.1 0.9h0m0-172.2h0m0.2 170.6h0m0.1 7.3h0m0 23.6h0m0.1-13.8h0m0.2-198.3h0m0.1 188.4h0m0.1 3.5h0m0 2.8h0m0-162.9h0m0.1 175.2h0m0-15.9h0m0.5 35.1h0m0-199.7h0m0 159.9h0m0.1-4.1h0m0.2 8.3h0m0-0.1h0m0.1-210.6h0m0.2 201.2h0m0.1 33.7h0m0.1-31.8h0m0.2-176.5h0m0 209.6h0m0.1-12.4h0m0.1-171.4h0m0.1 182.4h0m0.1-191.4h0m0.1 2.5h0m0.1-18.7h0m0.1 189.9h0m0.1-216.3h0m0.1 207.9h0m0-157.9h0m0 173.4h0m0.1-15.9h0m0.5-6.1h0m0.1 19.8h0m0.1-176.6h0m0.4 160.6h0m0.3-170.6h0m0.5 13.7h0m0-9.1h0m0.1-6.8h0m0.2 196.1h0m0.4-179.5h0m0.1 0.4h0m0.1 225.8h0m0.1-255.6h0m0.1 12.5h0m0 176.9h0m0.2 14.4h0m0.2-171.9h0m0-3.1h0m0-3.6h0m0.1 162.3h0m0.1-5.1h0m0 7.7h0m0.3 9.8h0m0-197.6h0m0.4 184.7h0m0-2.8h0m0.3 22.4h0m0.2-175.1h0m0.2-21.8h0m0.1 18.6h0m0.2-12.7h0m0.1-12.7h0m0 231.7h0m0.1-218h0m0 171.2h0m0.1 17h0m0.3-237.6h0m0.1 57.8h0m0.2-18.3h0m0-14.1h0m0 226.8h0m0.2-26.8h0m0.5-180.3h0m0.2 186.5h0m0-225.9h0m0 228.3h0m0-187.9h0m0.3 177.4h0m0-171.1h0m0.2-15.9h0m0.1 28.1h0m0 170.3h0m0-204.6h0m0-11.9h0m0.1 15.6h0m0 193.3h0m0-173h0m0.3-0.4h0m0.3 174.8h0m0.1-189.5h0m0.1-3.8h0m0.1 182.1h0m0.4 20.4h0m0.6-23.3h0m0.2-204.2h0m0 47.8h0m0.2 173.7h0m0-7h0m0.3-1.9h0m0.1-3h0m0-251.9h0m0.1 86.1h0m0.1-3.6h0m0.2 171.6h0m0.1 0h0m0.1 0.5h0m0.1 16.8h0m0 11h0m0-22.8h0m0.3-176.7h0m0.2 182.5h0m0.2-186.9h0m0.1-19.5h0m0.2 189.3h0m0-2h0m0.1 22.8h0m0.1-15.2h0m0-160.7h0m0.3-15.7h0m0 209.1h0m0-31.9h0m0.1-1.5h0m0.1 17.1h0m0 0.1h0m0.1-17.2h0m0.1 9.9h0m0 28.5h0m0.1-197.4h0m0.1 163.2h0m0-173.7h0m0.1 206.1h0m0.1-244.4h0m0.2 25.7h0m0.1 211.2h0m0-32.3h0m0.1-169h0m0.1-40.8h0m0.1 13.5h0m0.1 214.4h0m0.3-10.6h0m0 35.2h0m0.2-13.2h0m0.3-205.8h0m0 211.1h0m0.2-37.2h0m0-161h0m0.1-17.6h0m0.4 8.5h0m0.2-32.3h0m0.3 233.6h0m0.1-184.6h0m0 199.8h0m0.1-202.5h0m0-109.5h0m0.1 96.6h0m0.1-13.3h0m0 203h0m0.1 15.6h0m0-16.7h0m0-181.6h0m0.1 161.7h0m0-160.4h0m0.2-19.8h0m0.6 25.5h0m0.4 172.2h0m0.1 4.9h0m0.1-195.3h0m0.1-4.9h0m0 20h0m0.3 187.4h0m0.4-197.5h0m0 196.8h0m0.3-210.6h0m0 219.6h0m0.1-37h0m0.2 10.7h0m0.1-209.6h0m0 246.1h0m0.1-203.6h0m0.2-16.7h0m0.2 174.3h0m0.1-154h0m0.1 154.3h0m0.2 7.2h0m0.1-166.4h0m0.3-1.4h0m0.1 3.5h0m0.1 1.6h0m0.1 176.3h0m0.1-187.5h0m0.1 213.8h0m0-48.4h0m0 11.1h0m0.5-173.6h0m0.1 218.7h0m0-209.7h0m0.1 150.3h0m0 14.8h0m0.2 86.6h0m0-293.7h0m0.1 211.2h0m0-168.1h0m0.1 185.8h0m0.2-26.9h0m0.2-167.9h0m0 159.1h0m0.2 59.6h0m0.2-24.8h0m0-196h0m0.1 174.4h0m0-166.3h0m0.2 156.3h0m0 12.5h0m0.1-180.3h0m0.1 10.3h0m0 154.6h0m0 15.9h0m0.2-171.8h0m0-9.5h0m0.6 3.7h0m0.1 170.9h0m0.2-3.1h0m0.1 48.5h0m0.2-232.3h0m0.2 233.7h0m0-239.3h0m0 190.8h0m0.2-167h0m0.1-49h0m0 250.6h0m0-192.4h0m0.1-0.4h0m0-9.5h0m0-25.1h0m0.1 32.1h0m0.1-43.7h0m0 202.2h0m0.1-162.4h0m0 161.6h0m0 24.8h0m0.2-212.9h0m0.1 208h0m0.7-195.1h0m0 172.4h0m0.3-151.7h0m0.1-26.6h0m0.2-7.8h0m0.1 194.9h0m0.1-193.9h0m0.2 22.5h0m0.1 189.2h0m0-2.9h0m0.3-184.7h0m0.1 158.4h0m0.2-165.7h0m0 4.3h0m0 1.7h0m0.3 174.7h0m0.1-3.5h0m0.2-172h0m0.1 179.4h0m0.1-216.2h0m0.2 29.5h0m0.6 4.5h0m0.1 1.5h0m0.1 204.4h0m0.1-194.1h0m0.1-19.2h0m0.1 183h0m0-8.8h0m0.1 25.7h0m0.2-11.9h0m0.2-180.4h0m0.1 10.5h0m0.3-31.2h0m0.2 186.9h0m0.2-183.5h0m0.2 16h0m0.2 12.3h0m0.3-12.6h0m0 9.2h0m0 205h0m0-49.6h0m0.1-154.6h0m0 170.6h0m0.1-173h0m0.1-74.3h0m0.1 51.9h0m0.1-42.5h0m0 55.5h0m0.1 184.4h0m0.1 9.3h0m0.1-208.4h0m0.3 31.8h0m0 149.6h0m0.2 26.2h0m0-213.4h0m0.2 203.8h0m0-168.6h0m0.3 152.6h0m0.1 4h0m0.1-178.2h0m0 211.1h0m0-36.2h0m0.1-155.4h0m0 1.9h0m0.1 2.2h0m0 167.4h0m0.1-196.2h0m0.2 183h0m0.2-170.5h0m0.1 176.6h0m0.3 1.5h0m0.1-10.8h0m0.1-199.5h0m0.1 299.4h0m0-346.7h0m0.1 276.6h0m0-185.3h0m0.1 169.4h0m0.2-2.6h0m0.1 19.5h0m0.2-190.7h0m0.1 158.9h0m0.2-154.6h0m0 0h0m0.2 171.2h0m0-189.1h0m0-7.4h0m0.3 186.6h0m0.2-161.7h0m0.1-19.2h0m0.1 22.4h0m0.1-6.5h0m0.1 3.8h0m0.1 4.7h0m0.2 153.1h0m0 6.7h0m0.2-195.8h0m0.1 31.3h0m0.1-35.7h0m0.1 190.9h0m0.4 15.5h0m0.2-9.1h0m0.1-171.1h0m0.1-12.4h0m0.1 186.9h0m0 2.8h0m0-195.6h0m0.5-4.8h0m0 186.8h0m0.2-151.5h0m0.3-1.8h0m0.2-19.4h0m0.1 193.3h0m0-171.1h0m0.2-20.8h0m0.2 17.1h0m0.2 4.9h0m0 159.2h0m0-209.5h0m0 49.1h0m0.1 192.2h0m0.2-194h0m0 194.9h0m0.3-203.9h0m0.1 164.2h0m0 11.1h0m0.3-11.3h0m0.1-155.5h0m0-1.3h0m0.2-4.7h0m0-10.1h0m0.1 16.8h0m0.1-10h0m0.2 3.9h0m0.3 172.2h0m0.1 14.7h0m0.1-1.4h0m0.3-228.4h0m0 227.5h0m0.2-190.9h0m0.1 174.9h0m0-9.4h0m0.1 3.2h0m0.2-195.5h0m0 240.2h0m0.1-229h0m0.1 5.9h0m0.1-11.9h0m0.1 16.8h0m0.1-23.3h0m0.2 201.2h0m0 0.5h0m0.1-3.3h0m0.1 67.6h0m0.1-24.1h0m0.1-239.5h0m0.1-16.8h0m0 257.2h0m0.1-205.1h0m0.2-39.6h0m0.1 34.1h0m0.2 167.3h0m0 21.9h0m0.1-28.7h0m0.1 57.3h0m0-12.2h0m0-23.3h0m0.1-213.9h0m0.2 41.2h0m0.2-31.8h0m0 200h0m0.1-4.4h0m0.1 7.3h0m0-17.9h0m0.2 18.4h0m0.2-12.4h0m0.3 18.7h0m0.4-26.2h0m0.1 5.6h0m0-161.9h0m0.2-40.2h0m0.1 205.1h0m0-159.3h0m0.3 150.9h0m0-168h0m0.1-19.9h0m0 28.8h0m0 200.3h0m0.2-18h0m0.2 6.5h0m0.1-201.8h0m0.1 20.2h0m0.1 1.4h0m0 155.5h0m0.5 77.2h0m0.1-83h0m0.4-195.3h0m0.1 22.9h0m0.1 175.3h0m0.1-168.5h0m0 181.4h0m0.2-5.7h0m0.2-169.2h0m0.3-4.7h0m0.4 169.7h0m0.1 19.6h0m0-19.7h0m0.3-156h0m0.1 152.4h0m0.4-164.8h0m0.4 223.2h0m0.1-31.4h0m0.2-21.3h0m0.5-176.6h0m0.1 192.6h0m0.1-22.9h0m0-168.2h0m0.1 9.1h0m0.1 186.9h0m0.2 6.7h0m0.1-22h0m0.1 39.3h0m0-30.6h0m0.4-172.9h0m0.4-14.3h0m0.1 6.7h0m0.1 171.4h0m0.1-202.1h0m0.3 17.1h0m0 177.4h0m0 12.9h0m0.1-188.2h0m0 182.3h0m0.1-9.5h0m0.2 18.7h0m0-192.9h0m0.6 182.4h0m0.1-173.8h0m0 175h0m0-171.3h0m0.2-15.1h0m0.1 9.7h0m0.2 194.2h0m0.2-6.4h0m0 16.3h0m0.2 3.5h0m0.3-18.5h0m0.2 16.9h0m0.1-226.2h0m0 193.9h0m0.1 4.4h0m0.4-215.9h0m0.1 46.2h0m0.3 162.1h0m0.1-178h0m0.2 193.4h0m0-192.3h0m0 20.8h0m0.3-5.7h0m0.2-10.8h0m0 15.3h0m0.1-1.1h0m0.1-19.3h0m0.2 173.9h0m0.2 12.2h0m0.1-13.7h0m0.2 1.8h0m0.1-169.4h0m0 184.9h0m0.4-179.2h0m0 191.9h0m0.1 22.8h0m0-39.9h0m0 35h0m0.1-208.7h0m0.1 186h0m0-206.4h0m0.2 187.4h0m0.2-160.5h0m0 205.6h0m0.1-52.4h0m0.1 29.1h0m0.1-210.7h0m0.1 15.8h0m0 189.4h0m0.1 12.4h0m0.1-193h0m0-13.4h0m0 17.4h0m0.1-2.1h0m0.1 167.8h0m0.1 3.9h0m0.2-10h0m0.1-5.4h0m0-152h0m0.1-24.9h0m0.2 201.1h0m0.1-17.7h0m0.1 8.5h0m0.2 18.5h0m0.3-8.4h0m0.3-176h0m0 180.7h0m0.1-185.7h0m0.1 166.9h0m0-203.7h0m0.1 217.5h0m0.1-192.6h0m0.1 173.1h0m0 19.7h0m0.1-25.8h0m0.1-156h0m0.1 175.6h0m0.2 6.2h0m0.1-9.9h0m0.1-4.7h0m0-178.6h0m0.1 177.2h0m0.2-175.9h0m0.5 201.7h0m0.2-204.8h0m0.1 172.8h0m0.2 0.2h0m0.1-153.9h0m0.1-8.3h0m0.1 2.6h0m0.1-33.1h0m0.2 199.8h0m0.1 31.4h0m0-17.4h0m0.1-15h0m0.2-163.3h0m0.3 211.2h0m0.1-215.9h0m0 182.2h0m0.1-181.4h0m0.1 226.4h0m0.1-245.2h0m0 14.4h0m0.1 218.9h0m0-209h0m0.1 1.6h0m0.1-0.6h0m0 163.9h0m0.2-168.1h0m0.1 163.9h0m0.4-180h0m0-20.2h0m0.2 31.7h0m0.1 9.3h0m0.1-8.4h0m0.2 158.8h0m0.3-160.7h0m0.1 200.5h0m0.3-218.7h0m0.2 203.3h0m0.1-180.5h0m0.2 187.2h0m0.1-197.5h0m0 165.6h0m0.1 56.8h0m0-246.4h0m0 31.2h0m0.1-9.4h0m0 235.1h0m0.1-225.5h0m0.2 162.3h0m0-157.3h0m0.1 179.6h0m0.1-184.2h0m0 171.9h0m0-6.6h0m0.3 32.1h0m0.1-203.4h0m0 0h0m0.2 7.4h0m0.2-27.4h0m0.1 242.6h0m0.1-214h0m0 181.5h0m0.2 1.9h0m0.2-2.7h0m0-8.1h0m0.1 0.8h0m0-222.8h0m0.1 244.6h0m0.1-30.9h0m0.1-194h0m0.1 34.6h0m0.5 158.2h0m0.2-157.2h0m0.1-5.6h0m0.5-2.7h0m0.1-12.1h0m0 19.2h0m0.2 174.9h0m0.2 8.3h0m0-187.1h0m0.3 175.6h0m0.2-20.8h0m0-154.2h0m0.1-1.4h0m0 188.9h0m0.1 8.6h0m0.1-28.3h0m0.1-163.9h0m0.4-0.3h0m0 212h0m0-247.9h0m0.1 25h0m0-7h0m0.2 221.9h0m0.1 15.1h0m0.1-218.1h0m0.3 157.9h0m0.1 8.8h0m0 7.9h0m0.2-2.6h0m0 25.6h0m0.3-225.6h0m0.1 188.4h0m0-159.7h0m0.1-14.3h0m0-6.1h0m0 188.6h0m0.1-171.3h0m0-9.6h0m0.1 8.3h0m0 198.3h0m0.5-44.6h0m0 18.2h0m0 38.1h0m0.4-34.7h0m0.1-19.6h0m0.2-168.2h0m0.1 202.2h0m0.1 1.7h0m0.1-197.7h0m0.2 165.1h0m0.3-178.9h0m0.2 206h0m0-196.1h0m0.3 12.5h0m0.3 200.5h0m0-212.6h0m0-3.3h0m0.3 182.2h0m0.5-15.9h0m0 13.5h0m0.1-9.3h0m0-156.5h0m0.2 157.6h0m0 22.4h0m0.1 32.6h0m0.4-52.8h0m0.2-166h0m0.1-9.6h0m0.1 170.6h0m0 2.3h0m0.2-153.4h0m0 161.4h0m0.1-8.8h0m0.1 18.2h0m0.1-176.7h0m0.2-26h0m0.1 17.4h0m0 170.7h0m0-160.1h0m0.1-106.9h0m0.2 86.5h0m0.6 202.2h0m0.1-18h0m0.1 26.8h0m0-225h0m0.2 193.7h0m0.1 61.8h0m0.2-307h0m0.1 255.4h0m0.1 6.8h0m0.1-174h0m0 168.6h0m0.1 16.4h0m0.1-255.3h0m0.2 65.4h0m0.1-27.1h0m0 3.7h0m0.1 25.7h0m0.4 152.9h0m0.1 26.7h0m0.2-179h0m0.1 166.2h0m0.1-4.9h0m0-165.8h0m0.1-1.4h0m0 166.8h0m0.1-159.3h0m0.1 186.3h0m0.2-211.7h0m0.2 275.1h0m0-304.2h0m0 218.6h0m0.2 3.7h0m0.3 6.3h0m0.4-195.8h0m0.1 0.9h0m0 16.9h0m0 168.7h0m0.1-4.2h0m0.2-7h0m0.1 24.4h0m0.1 28.6h0m0-227.6h0m0.1 15.7h0m0.1-8.6h0m0.2 188h0m0.5-189.2h0m0 16.8h0m0.2-1.5h0m0.2 152.2h0m0-189.2h0m0.2 215.1h0m0.2-202h0m0.2 181.6h0m0 4.5h0m0.2 19.7h0m0.2-27.1h0m0.5-189.6h0m0 186.4h0m0.1-166.3h0m0.1 5.2h0m0.2 8h0m0.1 174.6h0m0.1-14.7h0m0.1 0.1h0m0.1-7.7h0m0 5.7h0m0.2 29.7h0m0-23.2h0m0.1-9.2h0m0.8 14.4h0m0.4-193.1h0m0.2 179.3h0m0.6-162.3h0m0.2-1h0m0-11.5h0m0.1 189.5h0m0-17.5h0m0 15.4h0m0.3-196.7h0m0.1-2.4h0m0.1 213.9h0m0.3 23.6h0m0.2-44.9h0m0-9.8h0m0.3-178.8h0m0.1 195.6h0m0-190.7h0m0.2 214.4h0m0-201.6h0m0 209.7h0m0.2-239.6h0m0 19.2h0m0 176h0m0.2-1.5h0m0.1 15.5h0m0.2-6.1h0m0-173.2h0m0 10.6h0m0.1 161.8h0m0.1 38.7h0m0.1-6.3h0m0.2-197.7h0m0.2 159.7h0m0.1 22.2h0m0-213.6h0m0 199h0m0.1-0.6h0m0-4.1h0m0.1-167.6h0m0.1 169h0m0.1-171.2h0m0.1 200.8h0m0.1-26h0m0-164.9h0m0 181.1h0m0.1-21.6h0m0.1-193.3h0m0 27.1h0m0.1 159h0m0.2-162.3h0m0 177.6h0m0.1 3.1h0m0.1-16.5h0m0.2-155.8h0m0.1-67.6h0m0.1 240.6h0m0.3-171.4h0m0.4-21.9h0m0.1 173.7h0m0.1 31.8h0m0.5-190.1h0m0.5-17.7h0m0.1 202.5h0m0.1 13.4h0m0.1-26h0m0-178h0m0-22.8h0m0.1 189.5h0m0.1-177.3h0m0.1-14.5h0m0 3.1h0m0-23.4h0m0.3 50.4h0m0.1 165.9h0m0.1-165.7h0m0.2 159.7h0m0-153.5h0m0.1-17.5h0m0.2 186.4h0m0.1-172.8h0m0.1 195.5h0m0.6-196.7h0m0.3 177.5h0m0.3-181.1h0m0.2 7.6h0m0.1 3.2h0m0.4-74.9h0m0.1 273.5h0m0.3-16h0m0.1-25.7h0m0-203.4h0m0.1 39.4h0m0-39.5h0m0.2 221.8h0m0.1-240.8h0m0 50.7h0m0.1-17h0m0 3.6h0m0.1-25.3h0m0.1 53.9h0m0.1-13.4h0m0.2-11.6h0m0.2 23.7h0m0.1-70.6h0m0 57.1h0m0.1 180.5h0m0-177.1h0m0.1-6.4h0m0.2 176.6h0m0-4.1h0m0.3 42.5h0m0-206.4h0m0.1 164h0m0-156.7h0m0.5 192.4h0m0-203.9h0m0.1-14.2h0m0.1 25.7h0m0-12.3h0m0.3 181.5h0m0.2-13.5h0m0.1-163.8h0m0-29.1h0m0 217.3h0m0.4 2.8h0m0.3-233.6h0m0.1 210.4h0m0-162.4h0m0-6h0m0 169.5h0m0.2 52h0m0.1-41.9h0m0.2-181h0m0.2 170.7h0m0 3.5h0m0.1-163.4h0m0.2 161.9h0m0 16.2h0m0.1-11.7h0m0.4-191.1h0m0 181.4h0m0.1-3.8h0m0 1.2h0m0.1 23.3h0m0-186.1h0m0.1 4.4h0m0 155.2h0m0.3-151.4h0m0-29.3h0m0.1 19.8h0m0.1-0.9h0m0.1 9.5h0m0.1-7.3h0m0-1.2h0m0.1 181.3h0m0.1-18.7h0m0.2 41.4h0m0-283.4h0m0.3 68.8h0m0.1 9.3h0m0.2-16.6h0m0 182.2h0m0.1 11h0m0.2-13.9h0m0.2-155.1h0m0.4 3h0m0.3-3.5h0m0.1 164.2h0m0.2-172h0m0.2 13.5h0m0.1 200.3h0m0-46.6h0m0.2 2.4h0m0.3 8h0m0.2-12.9h0m0.1 6h0m0-165.3h0m0 156.9h0m0.2-148.9h0m0.2 158.3h0m0.2-175.3h0m0 166.8h0m0.3 22.3h0m0.1 1.5h0m0.1-17.9h0m0.3 0.2h0m0-159.8h0m0.1 170.8h0m0.2-179.6h0m0-34.1h0m0.1 30.9h0m0-12h0m0.2-1h0m0.2 25.9h0m0-3.1h0m0.2 160.5h0m0.2-154.4h0m0.3-35.3h0m0.3 35.7h0m0.1-55.4h0m0 25h0m0.4 220.7h0m0.1-25.8h0m0.4-1.7h0m0-182.4h0m0.2 8.6h0m0.1 179.2h0m0.2 25.8h0m0-196.1h0m0-33.4h0m0.1-7.2h0m0.1 38h0m0.1 176.5h0m0-185.1h0m0.1 168.6h0m0.4-173.9h0m0.1 177.2h0m0 8.1h0m0.1-171.1h0m0.1-8.8h0m0.2-11h0m0.5 226.2h0m0.1-236.7h0m0 20.4h0m0.1-0.8h0m0 168.7h0m0-166.9h0m0.1-1.9h0m0.3 0.5h0m0.1 183h0m0.1-15h0m0.5-153.7h0m0-3.4h0m0.3-13.6h0m0 217.5h0m0.2-223.6h0m0.3-0.3h0m0.2 5.7h0m0.1 176h0m0.3-157.8h0m0.1 187.1h0m0.1-193.8h0m0-3h0m0.7 173.7h0m0.1 14.2h0m0.1-192.1h0m0 188.7h0m0.1-178.3h0m0.2 170.8h0m0.1 20.8h0m0.1 0.7h0m0-26.4h0m0.1-8.8h0m0.1-161h0m0 157.5h0m0.1 23.9h0m0.1-218.3h0m0 31.8h0m0-19.9h0m0.1 202.5h0m0.2-201.7h0m0.1 252.7h0m0.1-43.4h0m0.1-201.3h0m0.3 7.8h0m0 0.6h0m0.2 187h0m0-209.3h0m0.1 21.9h0m0 15.7h0m0 179.2h0m0.1-26.4h0m0.3-182.6h0m0.1 192.7h0m0.1 18.5h0m0.1 12.3h0m0 8.1h0m0.2-44.8h0m0 11.4h0m0.1-190.7h0m0 185.3h0m0.2-13.2h0m0.1-169.2h0m0 9.9h0m0.1 7.2h0m0-18.3h0m0.1-1h0m0.1 15.1h0m0.1-0.1h0m0.2 177.2h0m0-176.1h0m0.2 200.8h0m0.1-28.9h0m0.1-175.5h0m0.1-1.3h0m0.1 162.4h0m0.4-152.3h0m0 171.1h0m0.4-178.6h0m0-22.3h0m0.3 206.5h0m0.1-206.4h0m0.1 19.6h0m0-9.6h0m0.1 169h0m0.2 4.4h0m0.7 9.7h0m0 19.1h0m0-19.4h0m0.1-8.4h0m0.1-155h0m0.1 151h0m0-165.1h0m0-11.1h0m0.1 10.2h0m0.1 197.9h0m0.1 7.5h0m0.1-203.5h0m0.3 7.2h0m0.1 2.2h0m0.1-4.5h0m0.1 172.3h0m0-224h0m0.1 54h0m0 180.6h0m0.4-14.8h0m0-224.1h0m0.1 230.2h0m0.2-184h0m0 13.4h0m0.2 155h0m0-152.1h0m0.1 154.9h0m0-181.3h0m0.5 201.9h0m0.1-188.9h0m0.2 8.2h0m0-37.3h0m0.1 30.1h0m0.2-14.5h0m0.4 182.1h0m0.5-154.2h0m0-0.5h0m0 0.8h0m0.7 164.5h0m0.2-2h0m0.1-195.2h0m0.8 22.7h0m0.2-16.2h0m0.1 194.5h0m0-172.6h0m0 157.7h0m0.3-173.1h0m0.2 190.9h0m0.1 4.8h0m0-193.6h0m0.2 4h0m0.1-16.1h0m0.1 12.5h0m0.1-21.9h0m0.1 18.1h0m0.2 5.6h0m0.1 186h0m0.1-189.5h0m0.2 180.2h0m0.1-200.8h0m0.3 34.6h0m0.1 161.6h0m0-165.2h0m0.2 161.6h0m0.3 12h0m0-7.2h0m0-176.4h0m0.1 14h0m0-1.9h0m0 163.9h0m0.1 1.8h0m0.1-6.6h0m0.1-188.8h0m0 185.4h0m0 35.7h0m0.1 0.1h0m0-28.2h0m0.2-176h0m0 181.9h0m0.1 10h0m0-188.3h0m0 177.1h0m0.1 35.6h0m0.1-205.1h0m0.1-37.9h0m0.2 37.4h0m0.1 158.1h0m0.3 38.2h0m0.2-191.4h0m0.1-2.7h0m0.2 161.1h0m0.1 5.3h0m0.1-182.2h0m0.3 206.4h0m0.1-25.3h0m0.1-170.5h0m0 165.7h0m0.1 56.5h0m0-216.2h0m0.1 2.7h0m0.1 156.6h0m0.5-164.7h0m0.2 11.7h0m0.3 157.2h0m0.3-199h0m0.1 195.3h0m0.1-205.7h0m0.1 204.2h0m0.1-3h0m0-162h0m0.2 179.9h0m0.1-188h0m0.2 18.4h0m0-27.2h0m0.1-2.3h0m0.1 208.2h0m0.1-12h0m0.2-206.5h0m0 3.9h0m0.1 216h0m0.4 6h0m0.2-34h0m0 0.8h0m0.3-165.5h0m0.1-34.7h0m0 208.1h0m0.1-167.6h0m0.1-5.1h0m0.1 9.9h0m0-11.3h0m0.2 216.5h0m0-201.4h0m0.3-3.6h0m0 193.4h0m0.1-28h0m0.1 4.1h0m0.2 27.2h0m0.2-194.9h0m0.1 155.4h0m0.1-160.7h0m0.1 159.9h0m0.1-192.5h0m0.1 233.3h0m0.1-7.1h0m0.2-194.7h0m0 8.4h0m0.1-26.3h0m0.1 177.3h0m0.1-176.3h0m0-5.8h0m0.1 186.5h0m0.4 12.1h0m0.2-3h0m0-165.1h0m0.2 165.7h0m0-172.3h0m0 177h0m0.1-5.4h0m0.1-189.4h0m0 197.6h0m0.1-192.7h0m0.1-6h0m0.6 189.8h0m0.4 6.6h0m0.1-11.9h0m0.1 32.7h0m0.2-8.3h0m0.1-27.5h0m0 44.2h0m0.1-219.3h0m0.1 12.2h0m0.3 185.1h0m0.3-200.4h0m0.1 6.2h0m0 199.4h0m0.2-16.5h0m0.3 18.1h0m0 15.4h0m0.1-14.1h0m0.1-26.3h0m0.2-226.8h0m0 217.7h0m0.1 68.6h0m0.1 10.9h0m0.1-237.3h0m0.1 235h0m0-73h0m0.1 26.9h0m0.1-183.7h0m0.1 152.8h0m0 14.3h0m0-165.3h0m0.3-12.5h0m0.2-4h0m0.1 188.4h0m0.1 37.7h0m0.2-211h0m0.1 156.4h0m0.1 6.1h0m0-187.3h0m0.2 179.9h0m0.2-167.1h0m0.2-16.2h0m0 30.3h0m0.2 163h0m0.1-171h0m0-1h0m0.1-44.9h0m0 219.4h0m0-14.7h0m0.1 51.9h0m0.2-210.6h0m0.1 161.1h0m0.2-160.2h0m0.1 165.6h0m0.1-180.9h0m0 19.6h0m0.1 152.7h0m0.1-153.1h0m0 164.1h0m0.2-198.6h0m0.1 197.2h0m0.1-7.3h0m0.1-160.1h0m0.1 201h0m0-222.1h0m0-23.1h0m0.1 210.9h0m0.3-7h0m0.4 16.5h0m0.1-18.7h0m0-180.8h0m0 5.4h0m0.1 25.7h0m0-8.2h0m0.1 180.3h0m0-182.2h0m0.5 6.3h0m0.5 181.7h0m0.1-191.5h0m0 170.3h0m0.1 2.7h0m0-161.3h0m0.3 162.2h0m0.1 14.4h0m0.3-177h0m0.3-13.2h0m0 183.9h0m0.1-4.2h0m0.1 15.2h0m0.1-208.6h0m0.1 18.7h0m0.1 183h0m0-14.9h0m0.1-159.4h0m0.1 178.7h0m0.1-184.3h0m0.1 5.6h0m0.1 187.9h0m0.1-24.7h0m0.1-9.1h0m0-220.4h0m0 217.6h0m0.1-172.2h0m0 185.2h0m0.2 0.2h0m0.2-12.6h0m0.2-162.3h0m0.2 162.6h0m0.2 6.3h0m0-160.2h0m0.1 156.3h0m0.3 0.4h0m0.1-166.7h0m0.1 205.7h0m0.1 37.6h0m0.1-63.7h0m0.1-6.5h0m0.2-176.5h0m0.3 198.6h0m0.2-216.8h0m0.1 188.4h0m0 24.5h0m0.1-215.4h0m0.3-1.1h0m0.1 13.9h0m0.1 178.8h0m0.3-6.8h0m0-189.6h0m0.1 199h0m0.1-174.4h0m0.2 167h0m0-149h0m0 113.8h0m0.1-118.5h0m0.4 89.5h0m0-10.6h0m0 1.2h0m0.2 9.4h0m0-5.3h0m0.1-87.9h0m0 4.1h0m0.1 92.1h0m0.3-3.2h0m0.1-3.3h0m0.1 0.9h0m0-1.6h0m0 4.3h0m0.1-6.8h0m0 1.8h0m0.1-5.6h0m0-71h0m0.1-6.1h0m0.2 84.5h0m0.1-91.3h0m0 93.7h0m0.1-82.8h0m0 85.1h0m0 5h0m0.1-7.2h0m0.1-9h0m0 12.4h0m0.1-13.4h0m0 4.4h0m0-82.1h0m0.1 82.4h0m0 0.7h0m0 26.1h0m0.1-15h0m0 4.2h0m0-99.1h0m0.2 89.5h0m0-75.5h0m0.1 72.2h0m0-0.5h0m0-4.4h0m0.1 2h0m0-4.2h0m0 8.9h0m0-3.6h0m0.2 3.6h0m0.1 5.8h0m0.1-11h0m0.1 4.5h0m0 2.7h0m0.1-101.8h0m0.1 27.2h0m0-1.6h0m0.1 70.5h0m0.1 2.1h0m0-2.9h0m0.1-67.5h0m0.1 105h0m0.1-29.4h0m0.1-88.4h0m0.1 76.9h0m0.1 21.9h0m0-16.6h0m0-76h0m0.1 7.4h0m0 108.1h0m0.1-33.8h0m0-98.1h0m0.1 4.5h0m0.1 16.6h0m0 81.9h0m0.1-86.4h0m0 6.3h0m0.1 69.4h0m0 1.3h0m0-81.1h0m0.1 95.8h0m0-6.8h0m0-0.2h0m0-13.6h0m0.1-67.6h0m0.1 86h0m0.2-86.3h0m0 98.5h0m0.1-95h0m0 65.1h0m0.1-0.8h0m0 4.4h0m0.1 1.7h0m0.2 12.5h0m0.1-8.2h0m0.1-5.6h0m0-83.6h0m0.1 100h0m0.1-18.1h0m0 4.4h0m0-97.8h0m0.1 102h0m0.1-76h0m0.3-10.8h0m0 6h0m0.1-2.4h0m0.1 8.2h0m0.4 64.4h0m0.2-73.9h0m0-39.4h0m0.1 40.2h0m0 72.4h0m0.1-74.5h0m0.1 8.9h0m0.1 67.5h0m0.1-64.1h0m0.1-2h0m0.2-11.2h0m0.1 76.4h0m0 0.9h0m0.1-64.8h0m0.1 64.3h0m0.2-73.7h0m0.2 2.2h0m0.2 71.9h0m0.2-65.4h0m0.1 64.8h0m0.3 0.3h0m0.2 0h0m0.4-83.9h0m0.1 84.5h0m0-76.9h0m0.1-12.8h0m0.2 12.2h0m0.2 77.5h0m0.2-65.3h0m0.8-3.6h0m0.2-1.2h0m0.1-14.1h0m0.3 8.8h0m0.2-11h0m0.1 88.6h0m0.3-1.4h0m0-64.3h0m0.1-6.9h0m0.1-3.8h0m0 13.1h0m0.1 63.8h0m0.1-82.9h0m0.1 15.5h0m0.2 67.8h0m0.8-63.7h0m0.2 75.9h0m0-2.9h0m0.1 5.1h0m0.4 18.3h0m0.1-33.6h0m0 20.1h0m0.2-2.7h0m0-1.5h0m0.1-11.2h0m0 0.3h0m0.1-2.3h0m0-71.4h0m0.1 81.9h0m0.1-83.7h0m0.2 83.8h0m0.1-5.5h0m0-1.9h0m0.1-5.4h0m0 22h0m0-16.4h0m0.1 9.7h0m0 3.8h0m0.1-83h0m0.1 64.1h0m0 46.5h0m0.1-45.6h0m0.1-92.7h0m0.1 106.3h0m0.2 0.7h0m0.1-90.4h0m0 93.6h0m0 35.1h0m0-131.9h0m0.2 14.3h0m0.1 91.2h0m0.3-103.9h0m0-1.1h0m0.1 9.9h0m0 137.8h0m0.1-170.3h0m0 115.1h0m0.1-79.4h0m0.1-19.5h0m0.1 114.8h0m0-14h0m0.1-81.4h0m0.1 69.3h0m0 4.4h0m0-1.3h0m0.1-79.1h0m0.1 77.5h0m0 13.1h0m0-12.2h0m0.1 4.3h0m0-6.2h0m0.1 23.1h0m0.1-91.8h0m0 1.3h0m0.1 100.1h0m0-114.6h0m0.1-13.5h0m0.2 111.5h0m0.2-86.6h0m0.3 83.9h0m0-14.5h0m0.1 47.6h0m0-33.8h0m0-16.1h0m0.1 27.5h0m0-27.9h0m0 4.2h0m0-70.3h0m0.1 87.5h0m0.1-18.4h0m0 12.6h0m0.3-12h0m0.1 6.9h0m0.1-93.5h0m0 92.6h0m0.2-7.9h0m0 16.2h0m0.1 61h0m0-72h0m0.1 2.6h0m0 69.1h0m0.2-64.5h0m0.1-4.4h0m0-0.1h0m0 26.8h0m0.1-24h0m0-98.2h0m0 93.8h0m0.1 1.6h0m0 1h0m0-4.6h0m0.2-5.3h0m0.1 8.4h0m0-83.1h0m0.1 86.3h0m0.2-7.5h0m0-95.9h0m0.1 132.7h0m0.3-37.6h0m0.1-1h0m0-76.8h0m0.1-10.3h0m0 97.8h0m0.2-86.4h0m0.1 80.4h0m0-7.2h0m0 11.2h0m0.1 6.9h0m0.1-10.1h0m0.1-3.9h0m0 1.7h0m0.1 0h0m0.1 21.5h0m0-15h0m0 2.6h0m0.1-9.7h0m0.1 3.3h0m0-6.1h0m0.1-3.1h0m0 14.9h0m0.2 0.3h0m0.1-80.3h0m0.1 68.8h0m0.1-96.9h0m0.1 93.4h0m0 15.6h0m0.1-80.6h0m0.1 68.3h0m0.1 6.2h0m0 82h0m0.1-80.6h0m0.1 57.8h0m0-62.4h0m0-3.4h0m0 9.8h0m0.2-3.6h0m0.1-90.7h0m0 2h0m0 11.9h0m0-3.3h0m0 2.5h0m0.1 80.4h0m0.1-76.6h0m0-19.4h0m0 98.5h0m0.1 19.1h0m0-22.9h0m0-76.8h0m0 76.1h0m0-84.7h0m0.1 80.2h0m0-75.7h0m0-2.6h0m0.2 76.9h0m0.1 23h0m0.1 5.6h0m0-99.4h0m0.1 71.5h0m0 8.5h0m0 39.9h0m0.2-11.8h0m0-105.2h0m0 77.9h0m0.1 1.6h0m0.1-82.2h0m0.1 1.4h0m0 68.7h0m0.1-84h0m0 92.6h0m0.1 22.2h0m0.2-18.3h0m0.2-85.3h0m0-6.6h0m0 97.9h0m0-109.8h0m0.1 19.9h0m0.1-17.4h0m0 98.3h0m0-88.4h0m0.1 82.4h0m0-124.7h0m0.1 131.4h0m0 14h0m0-97.8h0m0 128.9h0m0.1 12.5h0m0.1-135.1h0m0.1 65.4h0m0.1 14.8h0m0.1-85.1h0m0.1 74.2h0m0.1-72.6h0m0-10.9h0m0.1-6.1h0m0 156.4h0m0-187.4h0m0 37.6h0m0.1 100.2h0m0-98.3h0m0 3.7h0m0.1 74.3h0m0 0.2h0m0-79.2h0m0.1 79.6h0m0-102.7h0m0 105.7h0m0.1-5.8h0m0 12.7h0m0.1-93.3h0m0 9.7h0m0.1 92.6h0m0-4.6h0m0-96.2h0m0.1 95.8h0m0.1-10.8h0m0.1-81.7h0m0.2 100.4h0m0.1 7h0m0.1-101.6h0m0.2 78.3h0m0.1 1.3h0m0-0.2h0m0.1 0.6h0m0 25.1h0m0-21.2h0m0 18h0m0.1-27.9h0m0 19.6h0m0.1-4.4h0m0.1-83.6h0m0.3 72.8h0m0 9.1h0m0.1-15.5h0m0-87.3h0m0.1 103.7h0m0-6h0m0 1h0m0-79.2h0m0.1-6.9h0m0 4.2h0m0-23.7h0m0.1 100.9h0m0-80.2h0m0-7.7h0m0 79.4h0m0.2 13.5h0m0-8.1h0m0-82h0m0.1 8.4h0m0 72.2h0m0.1-84.5h0m0 87.4h0m0.1-5.9h0m0.2 3.8h0m0-72.7h0m0 85.2h0m0.1 8.4h0m0 8.3h0m0-15.8h0m0.1-87.3h0m0.2 96.1h0m0-26.2h0m0 11.2h0m0.1-4.9h0m0-3.6h0m0-76.6h0m0.1 103.4h0m0-11h0m0.1-101.6h0m0.1 82.4h0m0 34.3h0m0.1-0.4h0m0.1 0h0m0-6.8h0m0.1-25.1h0m0 33h0m0-18.3h0m0-8h0m0.2-97h0m0 122.9h0m0.1-26.3h0m0 7.2h0m0.1-2.7h0m0 0.9h0m0-80.2h0m0.1-21.9h0m0 89.2h0m0.1-74h0m0 80.4h0m0-6.2h0m0 4h0m0.2 6.6h0m0.1-6h0m0-1.4h0m0 38.3h0m0.1-38.2h0m0.1 18.3h0m0.1 6.8h0m0-13.7h0m0 2.3h0m0-85.6h0m0.1 1h0m0-2.2h0m0.1 97.5h0m0.1-95.9h0m0.2 85.9h0m0.1-99h0m0-20.1h0m0.1 118.9h0m0 12.6h0m0.2 12.7h0m0.1-3.5h0m0.1-17.7h0m0.1-98.2h0m0-1.2h0m0.1 116.9h0m0.4-134.2h0m0.5 28.1h0m0.1 104.2h0m0.1-108.1h0m0 114.4h0m0.1-134.1h0m0.1 179.8h0m0.1-64.2h0m0 4.3h0m0-5.1h0m0.1 8.2h0m0 16.4h0m0.1 9.2h0m0-135.6h0m0.2 105.3h0m0.1-111.6h0m0.1 16.2h0m0.3 94.5h0m0.1-97.9h0m0 97.5h0m0.1 33.1h0m0.2-34.4h0m0.2-108.3h0m0 6.6h0m0.1 95.4h0m0.1-89.2h0m0 103.3h0m0.1 3.4h0m0.1 20.8h0m0-124.5h0m0.1 115.8h0m0.1-17.9h0m0-9.3h0m0.1-94.3h0m0.1-6.2h0m0.3 99.3h0m0 19.6h0m0.1-121.9h0m0 97.4h0m0.1 0.5h0m0-90.2h0m0.1 106.3h0m0-1.3h0m0.2-7.9h0m0.1-111.6h0m0.1 120.6h0m0-3.8h0m0.1-100.7h0m0.2 89.5h0m0.1 37.3h0m0.1-127.6h0m0.1 97.7h0m0.4-1.2h0m0.1 21.5h0m0.1-16.6h0m0 19.5h0m0.1-123.7h0m0.1 7.8h0m0 99.3h0m0.2-98h0m0 104.5h0m0.2-111.4h0m0.3 109.5h0m0.2-12.8h0m0.1-0.3h0m0.1 27h0m0-160.6h0m0.1 35.4h0m0.1 127.1h0m0-118.8h0m0.4 139.5h0m0.2-162.2h0m0 110.5h0m0.2-99h0m0 96.2h0m0.1-85.8h0m0-11.3h0m0.4 105.4h0m0.1-113h0m0.2 106.3h0m0 12.1h0m0.2 0.3h0m0.1 20h0m0-25.3h0m0-111h0m0.3 107.9h0m0.2-126.8h0m0 128.5h0m0.1-114.6h0m0 139.2h0m0-125.8h0m0.1 114.9h0m0.1-130.6h0m0.1 23.7h0m0-5.3h0m0-3.3h0m0.1 6.9h0m0.1 94.5h0m0-91.7h0m0-3.5h0m0.4-2.2h0m0 92.1h0m0 41.7h0m0-137h0m0 96.5h0m0.1-94.8h0m0.1-7.8h0m0 116.8h0m0.3 27.2h0m0-30.8h0m0.1-123.7h0m0 121.1h0m0.1 27.7h0m0-15.2h0m0.1-24.3h0m0.4 1.3h0m0.1 7.5h0m0.3 11.6h0m0.1-118.9h0m0.1 14.1h0m0.1-0.7h0m0.1 131.7h0m0.1-148.6h0m0.3 12.6h0m0 111.6h0m0.1-12.4h0m0 6.5h0m0.2-102h0m0.2 103.6h0m0.1 38.2h0m0-154.2h0m0.1 101.7h0m0.1 29h0m0.2-119.9h0m0.1 89.4h0m0.1-102h0m0-5.8h0m0.1 115.4h0m0-95.5h0m0.1-18.1h0m0-13.4h0m0.1 152.3h0m0.2-21.2h0m0-0.9h0m0.1-108.8h0m0.2 101.1h0m0.4 20.8h0m0.1 67.3h0m0-204.2h0m0.1 11.1h0m0.1 102.9h0m0.1-96.1h0m0.3-1.7h0m0 0.5h0m0-20.5h0m0.1 136.8h0m0-114.9h0m0.1 98.6h0m0.1-115.7h0m0.1 21.2h0m0-11.2h0m0.1 4.3h0m0 136.7h0m0.1-141.6h0m0-22.3h0m0 131.4h0m0-116.5h0m0.1 131h0m0.1-0.7h0m0.1-7.4h0m0-101.1h0m0.1-10.9h0m0.1 101.2h0m0-111.6h0m0 0.8h0m0.1 165.5h0m0.1-145.3h0m0.1 105.7h0m0.2 7.8h0m0.3-121.5h0m0 102.6h0m0.1 1.5h0m0.1-4.8h0m0.1 20.7h0m0-116.2h0m0.1 110.3h0m0.2 18.7h0m0-37.2h0m0.3-102.7h0m0 0.7h0m0.1 102.7h0m0.3 4.4h0m0 11.7h0m0.1-107.1h0m0 102h0m0-0.3h0m0.1-125.2h0m0 23.6h0m0.1 94.5h0m0-102.1h0m0.1 5.3h0m0.3-6h0m0.2 98.3h0m0.1-106.1h0m0.3 14.3h0m0.1 1.5h0m0.1-5.9h0m0 100.1h0m0.2 4.3h0m0-117.4h0m0.1 117.7h0m0.1-104.2h0m0.1 1.3h0m0 101.6h0m0.1 6.6h0m0 4.7h0m0.1 52h0m0.1-46.1h0m0.1-16.8h0m0.1-5.8h0m0 3.7h0m0.2-5.8h0m0-90.8h0m0.1 1.6h0m0.3 128h0m0-29.9h0m0.1 15.4h0m0.1-12.9h0m0.1-104.3h0m0.2 133.3h0m0-31.2h0m0.1-100.6h0m0.1 132.7h0m0.1 8h0m0-48.6h0m0.1 2h0m0 50.5h0m0.2-38h0m0.1-106.6h0m0.1 110.8h0m0.1-124.9h0m0.2 129.7h0m0.1-21.7h0m0.1 5.8h0m0 3.2h0m0.1-106.4h0m0.3 142.1h0m0-40.1h0m0.2 13.3h0m0.1-15h0m0-105h0m0.1-28h0m0.2 22.3h0m0 121.5h0m0.1-104.7h0m0.2 122.9h0m0-23.2h0m0.1-4.3h0m0-124.2h0m0.1 152.4h0m0.1-33.3h0m0.1 1.5h0m0.1-113.6h0m0.1 18.9h0m0 123.6h0m0.1 69.5h0m0.2-193.5h0m0.1-6.5h0m0-4.5h0m0.1 107.3h0m0.1-3.2h0m0.5 28.8h0m0.1-11h0m0.1 6.1h0m0-131h0m0 19.4h0m0.2-16.7h0m0.1 5.2h0m0 4.9h0m0.2 3.1h0m0 120.3h0m0.1-25.3h0m0.1 23.7h0m0.2-118h0m0.1-20.4h0m0 112.8h0m0.1 58.1h0m0.1-180.3h0m0.1 125.5h0m0-123.8h0m0.3 127h0m0.1-1.1h0m0.1 24.1h0m0.2-133.1h0m0-18.4h0m0 150.9h0m0.1-15h0m0.1-114.3h0m0.4 132.6h0m0-136.2h0m0.1 130.9h0m0.1-25h0m0 43.3h0m0.1-43.6h0m0 78.6h0m0.1-71.1h0m0.2-135.2h0m0 125.3h0m0.1 23h0m0 26.9h0m0.2-41.6h0m0.1 11.8h0m0.1-9.9h0m0.1 16.3h0m0.2-23.3h0m0.1-102.2h0m0 103.7h0m0.1-0.3h0m0 11.3h0m0.2-12.2h0m0-4.5h0m0.1 47.2h0m0-4.3h0m0-132.1h0m0.2 98.6h0m0.1 11h0m0 1.5h0m0.1-119.2h0m0.1 97.5h0m0.1-90.2h0m0.1-21.9h0m0.1 20h0m0-10.7h0m0 7.8h0m0.1 2.8h0m0 95.5h0m0.1-93.9h0m0.2 91.9h0m0.1-102.1h0m0.1 110.8h0m0.2 4.8h0m0.2-132.6h0m0 133.4h0m0-103.4h0m0.1 124.1h0m0.1-24h0m0.1 69h0m0.2-29.4h0m0.1-21.6h0m0.1 7.6h0m0.1-126h0m0.4-0.5h0m0.1-13h0m0.1 4.4h0m0.4 6.5h0m0.1-8h0m0.2 98.7h0m0 8.8h0m0.2-104.3h0m0 119.3h0m0.2-13.8h0m0-117.3h0m0 151.9h0m0.1-140.8h0m0.2 99.8h0m0-95.5h0m0.1 96.5h0m0-2.9h0m0.2-113.2h0m0.2 23.4h0m0 125.9h0m0.1-22.3h0m0.3-1.1h0m0-105.8h0m0.1-12.4h0m0.1 134.6h0m0.1-133.5h0m0 4.1h0m0.1 139.8h0m0.1-1.5h0m0.1-131.2h0m0 116.6h0m0.2-120.7h0m0.1 124.9h0m0.1-125.1h0m0-6.4h0m0 115.6h0m0-8.5h0m0.1-113.8h0m0.3 113.2h0m0 3.4h0m0.1 0.7h0m0-112.5h0m0 108.5h0m0.1-98.3h0m0 4.3h0m0.1 99.8h0m0.1 4.6h0m0-105.2h0m0.1-12.4h0m0.1 120.7h0m0-6.9h0m0.3-3h0m0-97.6h0m0-19.3h0m0.1 114.1h0m0-2.9h0m0.2-118.9h0m0 127.6h0m0.1 6.1h0m0 27.9h0m0-191.2h0m0.1 47.5h0m0 106.4h0m0-120.8h0m0 24.6h0m0.2-16.8h0m0.2 112.1h0m0.3 16.3h0m0-15.7h0m0 39.8h0m0.2-46.9h0m0.2-0.1h0m0.2-108.6h0m0.1 129.9h0m0.1-122.7h0m0.3 9.8h0m0 115.9h0m0.3-21.3h0m0-92.2h0m0.1-7.4h0m0.1 98.4h0m0-98.2h0m0.1-0.7h0m0.1 102.8h0m0.3-2h0m0 16.9h0m0.1-112.5h0m0-4.2h0m0.3 108.7h0m0.1-2.5h0m0 0.2h0m0-106.9h0m0 7.6h0m0.1 90h0m0.1-90.3h0m0.1-3.6h0m0.1 95.9h0m0 0h0m0 24.2h0m0.3-121.9h0m0.2 0.7h0m0.1-9.6h0m0.1-11.5h0m0.2 133h0m0.1-120.4h0m0.1-8.5h0m0.1 117.3h0m0 16h0m0.1-115h0m0.2 104.2h0m0 23.6h0m0.1-141h0m0 12.3h0m0.1-15.3h0m0.1 20.5h0m0-1.1h0m0 100.7h0m0.1-104.9h0m0 105.4h0m0.1 27.6h0m0.1-29.1h0m0-108.3h0m0 128.9h0m0-8.6h0m0.1 38h0m0-37.2h0m0.2 13.4h0m0.1-17.1h0m0-107.3h0m0.1 123.2h0m0.1-130.9h0m0-21.8h0m0.3 131.1h0m0.1-1.9h0m0-139.8h0m0.1 27.9h0m0 120.8h0m0.1-164.2h0m0 51.8h0m0.1 158h0m0-163.4h0m0 119.3h0m0-109.3h0m0.1 103.1h0m0.1 19.5h0m0.1-21.2h0m0.2 4.5h0m0-106.9h0m0-29h0m0.1 139.6h0m0.1 44.2h0m0.2-38.7h0m0.1-10.5h0m0-106.4h0m0.1 2.1h0m0.1-4.8h0m0 107.7h0m0.2 31.8h0m0.1-141.7h0m0.1 118h0m0.2-146.8h0m0 140h0m0.2 16.5h0m0.2 22.2h0m0 35h0m0.1-180.9h0m0.1 164.9h0m0-178.6h0m0.1-30.2h0m0 44.8h0m0.3-3.2h0m0.1 4.5h0m0.2-5.9h0m0.2 131.8h0m0.1-14.6h0m0-119.1h0m0.1 116.2h0m0.1 25.7h0m0.1-25.2h0m0.1-109.4h0m0.1-4.5h0m0.1 6.4h0m0.2 108.6h0m0.1-114.6h0m0 118.8h0m0.2 2.6h0m0.1-4.5h0m0.1 25.9h0m0.4-15.3h0m0.1-123.8h0m0 118.6h0m0.2-149.5h0m0.1 151.6h0m0 26.3h0m0.2-24.1h0m0.1-8.6h0m0.1 6.7h0m0 61.1h0m0.1-184.9h0m0 119.9h0m0.4 5.9h0m0-120.9h0m0.1 125.6h0m0.3-11.4h0m0.5-119.1h0m0.1-15.6h0m0 14.4h0m0.1 129.3h0m0.1-129.7h0m0.1 124.3h0m0.4 47.5h0m0.1-7.3h0m0.2-36.5h0m0.1-132.2h0m0.3 131.2h0m0-0.5h0m0.1-135.7h0m0 131.8h0m0.1-121.2h0m0.2 3.2h0m0 142.8h0m0.2 17.3h0m0.4-28.6h0m0-12.8h0m0 14h0m0.1-14h0m0.1 57.9h0m0-57.8h0m0.3 14.7h0m0-14.8h0m0.1 24.5h0m0 18.6h0m0.1 20.5h0m0.1-65.6h0m0.1-115.6h0m0.1 128.9h0m0-135.9h0m0.5 130.9h0m0.1-131.7h0m0 165.1h0m0.1-12.3h0m0.7-176.7h0m0 16.7h0m0.1 177.6h0m0.1-16.6h0m0-17.1h0m0.3-166.1h0m0 26.4h0m0.2 167.4h0m0.1-33.7h0m0-129.2h0m0.1 3.7h0m0.2-5.7h0m0 134.6h0m0-7.3h0m0.1-129.6h0m0.6 147.6h0m0.1-19.7h0m0 13.5h0m0-141.3h0m0.1 0.7h0m0.2-2.9h0m0 130.3h0m0.1 20.5h0m0.2-14.8h0m0.1 7.6h0m0-129.4h0m0.2-25h0m0 141.1h0m0-124.4h0m0.2-7.9h0m0 7.8h0m0.1 0.1h0m0.2 8.7h0m0 115.8h0m0.1 3.4h0m0.1-147.1h0m0.3 151.8h0m0-167.2h0m0 157.7h0m0.1-119h0m0.1 2.3h0m0.1 170.2h0m0.1-38.8h0m0-137.7h0m0 145.9h0m0.1-137.2h0m0.2 129.6h0m0-6.9h0m0-146h0m0.3 22.7h0m0.1 115.3h0m0.1-0.3h0m0 59.8h0m0.1-195.7h0m0 16.5h0m0-1.3h0m0.1 134.3h0m0-134.8h0m0.3 125.8h0m0.1-126.1h0m0 129.5h0m0.1-6.2h0m0 24.5h0m0.4 8.6h0m0-160.1h0m0.2 128.7h0m0.2 8.8h0m0-129.5h0m0.2 123.8h0m0.1-149.1h0m0 6.9h0m0-10.2h0m0.2 209h0m0.1-58.6h0m0-4.6h0m0.1 13.2h0m0-136.6h0m0 141.8h0m0.1-144.1h0m0.1-21.5h0m0 147.2h0m0.2 25.8h0m0.1-19.8h0m0.1 62.3h0m0.1-68.4h0m0 9.1h0m0.1 41.9h0m0.3-47.5h0m0.1-135.3h0m0 143.2h0m0-0.4h0m0.1 1.6h0m0.1 0.1h0m0.2 46.3h0m0.3-40.6h0m0.1-138.3h0m0.1 139.2h0m0 20.7h0m0.1-37.3h0m0.1 7.7h0m0.2-141.3h0m0 131.1h0m0.1 48h0m0.1-29.6h0m0 27.4h0m0.1-16.1h0m0-28.4h0m0.1 15.1h0m0.4-7.9h0m0.3 6.1h0m0.2-136.6h0m0.4 4h0m0.1-3.7h0m0.2 126.8h0m0-135.7h0m0.1-8.3h0m0.3 22.1h0m0-10h0m0.1 137.4h0m0.1 25.6h0m0 43.3h0m0.1-201.2h0m0.1 124.7h0m0 48.4h0m0.1-50.7h0m0-145.8h0m0.1-4.6h0m0.1 157.1h0m0-146.7h0m0.3 142h0m0.2-123.7h0m0.1 126.3h0m0 1.3h0m0.2-124.6h0m0 134.4h0m0.1-145.3h0m0.1 129.9h0m0 1.9h0m0.1-126.1h0m0.1-19h0m0 17.1h0m0.4 131.3h0m0 16.5h0m0.1-21.8h0m0-129.3h0m0.7 133.7h0m0.5-131h0m0.3 135.4h0m0-132.5h0m0.1 133.9h0m0 4.7h0m0-7.9h0m0-133h0m0.1 131h0m0.1 29.5h0m0.2-166.9h0m0.4 11.9h0m0.1-3.4h0m0.1 4.1h0m0-12.8h0m0-16.7h0m0.4 178.9h0m0.1-175.2h0m0 18.1h0m0.1 161.6h0m0-32.5h0m0-138.3h0m0.3 17.4h0m0.2-41h0m0.1 167.5h0m0-128.5h0m0.3 132.9h0m0.1-149.9h0m0-8.6h0m0.3 161.9h0m0-141.8h0m0-19.6h0m0.2 155h0m0.1-133.9h0m0.1-4.5h0m0 142.8h0m0.1-9.4h0m0 24.5h0m0-22h0m0.1 32h0m0-17h0m0-146.5h0m0.1 2.9h0m0.1 0.4h0m0.1 164.3h0m0.1-38.4h0m0 13.9h0m0.1 4.5h0m0.2-154.9h0m0.3 149.2h0m0-141.6h0m0.3-0.6h0m0.1 143.1h0m0.2-0.5h0m0.1-13.5h0m0.2-140.3h0m0 141.4h0m0.4-135.5h0m0.3 10h0m0.2-7.8h0m0 137.8h0m0.3 23.8h0m0-168.4h0m0 12.8h0m0.1 3.4h0m0-18h0m0.3 141.4h0m0.1 57.6h0m0-203.1h0m0.1 175.4h0m0.1-5h0m0.1 40.9h0m0-42.2h0m0-17.1h0m0.2-142.3h0m0 7.9h0m0.1 132h0m0.1 0.4h0m0.2 3.8h0m0.1 4.6h0m0-139.7h0m0.1 135.6h0m0.2-1.1h0m0.1-7.7h0m0.2-1.4h0m0 10.8h0m0.3 13.2h0m0.1-9.6h0m0.1-138.9h0m0 189h0m0-209.5h0m0.1-0.8h0m0 224.5h0m0-202.4h0m0.1 144.9h0m0.1-11.2h0m0 18.2h0m0.1-31h0m0 100.5h0m0.1-240.2h0m0.1 162.3h0m0.2-141.2h0m0.1-6.9h0m0 136.5h0m0.1 4.3h0m0.1-12.8h0m0-154.8h0m0 173.6h0m0.1-11.6h0m0.1-144.2h0m0.3 7.8h0m0-3.4h0m0.1-63.7h0m0.1 22.7h0m0.1 176.5h0m0 6h0m0.1 25.2h0m0-229.6h0m0.1 252.6h0m0-43.6h0m0.2-132.9h0m0-80.7h0m0.1 62.1h0m0.1 11.7h0m0 177.9h0m0.1-172.9h0m0.1-5.1h0m0.1-17.1h0m0.1 16.4h0m0.1 129.7h0m0.2 11.3h0m0.1 8.6h0m0.1-18.3h0m0.2-1.9h0m0-147.3h0m0.1-5h0m0.1 24.1h0m0.1-43.5h0m0.1 180h0m0.1 15.1h0m0.1-28.7h0m0.1-145.9h0m0.2 13.7h0m0.2-4.9h0m0.4-32.6h0m0.3 171h0m0.1 11.9h0m0.1 17.2h0m0.1-25.2h0m0.1 24h0m0.2-17.1h0m0-135.1h0m0 122.7h0m0.1 49.5h0m0 11.1h0m0.1-181.7h0m0.2 139.7h0m0-192.6h0m0.2 56.3h0m0.2 123.9h0m0.2-139h0m0.4 140.4h0m0 11h0m0-139.3h0m0.2 127.9h0m0-136.1h0m0.2 153.1h0m0.1-141.1h0m0.2-78h0m0.1 37.3h0m0 169.5h0m0.1 3.9h0m0.1-130.4h0m0.1 118.5h0m0-137h0m0.1 181.5h0m0.1-46.4h0m0-0.3h0m0 2h0m0.4 12.5h0m0 51.2h0m0.1-48.3h0m0.2-14.3h0m0 13.9h0m0-11.9h0m0.2 34.2h0m0.1-173.5h0m0.2 14.3h0m0.2-3.6h0m0-7h0m0.2 144.1h0m0.1-9.9h0m0-2h0m0.1-123.8h0m0 124.7h0m0.1-131.8h0m0.2 137.4h0m0 61.3h0m0.1-241h0m0 211.3h0m0.1-156.3h0m0.1 114.5h0m0.1-127.9h0m0-9.4h0m0.5-20.9h0m0.2 6.8h0m0.1 36.5h0m0.1 119.6h0m0 20.6h0m0.3-147.8h0m0 127h0m0.1 17h0m0.1-151.8h0m0.1 180.7h0m0.1-209.2h0m0.1 21.9h0m0.1 11.8h0m0.2 145.5h0m0.1-6.2h0m0.2-146.5h0m0.3 136.7h0m0-2.7h0m0.2 21h0m0.2-3.5h0m0.1-139.9h0m0 4.2h0m0.1 132.9h0m0-11.4h0m0.2-124.3h0m0.1 143.8h0m0.1-12.5h0m0.2-131.1h0m0.1-2.5h0m0.1 142h0m0-156h0m0 167.3h0m0.1-26.7h0m0.2 31h0m0-153.9h0m0.1 0.7h0m0-7.2h0m0.1 127.5h0m0-1.9h0m0.1 5.8h0m0 20h0m0.1-23h0m0 5.9h0m0.1-172.1h0m0.2 33.3h0m0 139h0m0.2-206.5h0m0.1 212.8h0m0-3.1h0m0.2 4.1h0m0.1-143.2h0m0 128.2h0m0.1 9.4h0m0.1-3.4h0m0-1.4h0m0.2-131.4h0m0.2 138.8h0m0.2-129h0m0.1 0.3h0m0.2-9.7h0m0 130.3h0m0.2-127.7h0m0-3.3h0m0.1 136.5h0m0-128h0m0.2 134h0m0.2-139.4h0m0-2.2h0m0 127.9h0m0.2-146.7h0m0 5h0m0.2 141.4h0m0.1 23.6h0m0-27.3h0m0.1-114.5h0m0.1 142.1h0m0-160.6h0m0.2 153.7h0m0.4-147.7h0m0 2.1h0m0.2-23.2h0m0.1 10.2h0m0 145.3h0m0.2-163.2h0m0.2 37.9h0m0.1 117.9h0m0.3-128.7h0m0.1 149.5h0m0.1-177.2h0m0 179.2h0m0.1-158.1h0m0 20.2h0m0-10.7h0m0.3 143.3h0m0.1-153.4h0m0.1 143.6h0m0.2-5.4h0m0.1 4.1h0m0.2-137.1h0m0.1-23.1h0m0 158.9h0m0.1 9.7h0m0-130.7h0m0.2 132h0m0.1-13.5h0m0-121.1h0m0.1 154.1h0m0-166h0m0.1 3.4h0m0.2 132.1h0m0.1-126.8h0m0.3 142.1h0m0-170h0m0.1 24.8h0m0 163.1h0m0.2-158.6h0m0 139.5h0m0.2-171.9h0m0 168.1h0m0.3-7.4h0m0-149.9h0m0.1 2.4h0m0.1 144h0m0 49.4h0m0-175.5h0m0.2 153h0m0.1 15.2h0m0-187.3h0m0.2-36.8h0m0.2 44h0m0.1 145h0m0 29.1h0m0.1-4.9h0m0-154.4h0m0.2 130.3h0m0.1-147.6h0m0.4 16.5h0m0.2-14.7h0m0 151.1h0m0.1 14.5h0m0.1-24.3h0m0-3.1h0m0-165.8h0m0.4 44.9h0m0-11.3h0m0.3 12h0m0.1 125h0m0.2-156h0m0.1 160.5h0m0.2-128.1h0m0.1 136.9h0m0.2-7.7h0m0.1-13.4h0m0.1-124.7h0m0 7.9h0m0.1 128.9h0m0.2 27.2h0m0.1-164.8h0m0.1 4.3h0m0.1 145.9h0m0-21.2h0m0.1 12.6h0m0-1.7h0m0.2-137.7h0m0.1 125.4h0m0.3-118.5h0m0.2 121.7h0m0-3.1h0m0.1 2h0m0.1-0.6h0m0.6-1.8h0m0-123h0m0.2 145.7h0m0.3 36.8h0m0.2-212.1h0m0.3-5.5h0m0 26.2h0m0 153.6h0m0.1 16.4h0m0.1-33.3h0m0.1-127.5h0m0.1-1.4h0m0.2-3.7h0m0 6.4h0m0-5.5h0m0.1 149.4h0m0.1-184.2h0m0.1 37.9h0m0.1-2.9h0m0.1-42.8h0m0 44.4h0m0.2-39.1h0m0 179.6h0m0-134.7h0m0.2 123.7h0m0-123.6h0m0.1 127.2h0m0.2-3.8h0m0-149.9h0m0.1 202.7h0m0-31.2h0m0.2-27.5h0m0-124.5h0m0.1 147.3h0m0.2-187.9h0m0 185.2h0m0.2-171.2h0m0 181.4h0m0.1-185.9h0m0.3 193.9h0m0.1-23.3h0m0.1-152.8h0m0 141.2h0m0.5 10.5h0m0.1 41.5h0m0-256.4h0m0.1 216.7h0m0 15.3h0m0-9.3h0m0.1 22.5h0m0.1-43.1h0m0 8.5h0m0 62.3h0m0.1-69.3h0m0.1-126h0m0 137.8h0m0.1-178.5h0m0 187.8h0m0.2-146.4h0m0.1 202.9h0m0-228.3h0m0.5 6.5h0m0 146.4h0m0.1 8.5h0m0 0.9h0m0.4 1.2h0m0.1-133.6h0m0.1-28.1h0m0.1 15.7h0m0 131.5h0m0.2 10.1h0m0.1-129.7h0m0 132.9h0m0.1-12h0m0 25.9h0m0.1-172.7h0m0 155.5h0m0.1 32.9h0m0.2-43.8h0m0.2-116.1h0m0 131.1h0m0.1-10.5h0m0.2 69.5h0m0-198.7h0m0 132.8h0m0.1-129.3h0m0-43.7h0m1 189.2h0m0.1-168.7h0m0 5.7h0m0.2 145.2h0m0.1-126.9h0m0 129.5h0m0.1-2.6h0m0.1 10.4h0m0-172.8h0m0.1 173.5h0m0-165h0m0.2 25.1h0m0-38.8h0m0.1 42.8h0m0.2-10.2h0m0 145h0m0-6.3h0m0.1 20h0m0 13h0m0.1-27.8h0m0.1-139.3h0m0.1 3.2h0m0-5.2h0m0 136.9h0m0.1-157.7h0m0 194.2h0m0.1-164.6h0m0.2 125.2h0m0.1-129.4h0m0.1-47h0m0 174.5h0m0-142.3h0m0.2 5.1h0m0.1-37.6h0m0 50.2h0m0-68.1h0m0.1 208.2h0m0.2-155.4h0m0 151.8h0m0-138.6h0m0.2-22.4h0m0.1 144.5h0m0.1 39.7h0m0-41.8h0m0.2-118.7h0m0.1 134.5h0m0 29.8h0m0.1-175.8h0m0.2 159.2h0m0.1-151.5h0m0.1-15.1h0m0.1 11.9h0m0-12.5h0m0.5 139.2h0m0.3 18.9h0m0.1-146.8h0m0 132.9h0m0.2-160.4h0m0.1 171.7h0m0 3.7h0m0.1-142.3h0m0 126.9h0m0-121.7h0m0.1-24.7h0m0.1 152.4h0m0-1.8h0m0.1 9.6h0m0-0.6h0m0.3-143.8h0m0.1 136.5h0m0 17.1h0m0.1-163.2h0m0.2 135h0m0.1 10.8h0m0.1-132.2h0m0.1-10.1h0m0.2 145.3h0m0-137.2h0m0.1 147h0m0.1 5h0m0.2-153.6h0m0 0.5h0m0.1 129.6h0m0.1-149.8h0m0 22.1h0m0.1 1.7h0m0.1 122.9h0m0.1-118.5h0m0 137.2h0m0-157h0m0.2 20.3h0m0.1 118.5h0m0.1 15.8h0m0.1-134.5h0m0.1-6.2h0m0.4-5.5h0m0.1 0.4h0m0 150.7h0m0.2-145h0m0.1-53.8h0m0.1 179.1h0m0.1-1.8h0m0 11.7h0m0-2.6h0m0.1 5h0m0.1 20.6h0m0-33.5h0m0.1 1.9h0m0-122.8h0m0.1-13.8h0m0.2 176.1h0m0.1-33.5h0m0 13.4h0m0 48h0m0.1-26h0m0.1-43.3h0m0.1-0.7h0m0-130.5h0m0.1 130.8h0m0.1 10.8h0m0.1-7.1h0m0.1-167.1h0m0.2 161h0m0.1 2.6h0m0.2 11.4h0m0.1-147.1h0m0.1 16.7h0m0.2 126h0m0.1-200.3h0m0 54.7h0m0 158.7h0m0.1-21h0m0.1 28.1h0m0 5.4h0m0-30h0m0.1 8.1h0m0.1 20.7h0m0.1-169.5h0m0.2 141h0m0.1-124.4h0m0 2.5h0m0.1-25.5h0m0 161.8h0m0.1-156.4h0m0 137.1h0m0.2-137.8h0m0 142.2h0m0.1-121.3h0m0.1 125.9h0m0 0.9h0m0.1-136.2h0m0.1-11.8h0m0 13.8h0m0.1 145.9h0m0.1-5.2h0m0.1 1.6h0m0.1 3.8h0m0.1-141.1h0m0.1-11h0m0 137.8h0m0.1-134.5h0m0 128.7h0m0.5-120.9h0m0.4 1.6h0m0-3.1h0m0.2 126.8h0m0 2.3h0m0.1-155.9h0m0 10h0m0.1 152.5h0m0.2 16.8h0m0.1-27.7h0m0.2 25.8h0m0-148.5h0m0.2-5.7h0m0.2-25.2h0m0.2 23h0m0.2 161.7h0m0.1-166.2h0m0 13.4h0m0.1 142.2h0m0-18.2h0m0.1-135.9h0m0.1 137h0m0.2-6.2h0m0.1 14.9h0m0.2-15.8h0m0-164.3h0m0.1 227.4h0m0.1-54.1h0m0.5-142.9h0m0.1 152.3h0m0.3-145.5h0m0.1 125.9h0m0.1 5.7h0m0 27.7h0m0-150.5h0m0.1-6.7h0m0.3 126h0m0.5 0.3h0m0.2-133h0m0.1 13.1h0m0 148h0m0.2-25.1h0m0-138.7h0m0.1 12.7h0m0.4-38.8h0m0 16.6h0m0.1 150.8h0m0 13.8h0m0.1-3.2h0m0.1-3.2h0m0.1-145.9h0m0.1 168.7h0m0.1 3.7h0m0.2-198.9h0m0.1 6.1h0m0 23.7h0m0.1 142.1h0m0.1-140.2h0m0.1 9h0m0-16.1h0m0 140.4h0m0.1 9.6h0m0.1-141.1h0m0.1 136.4h0m0-138h0m0.1 125.6h0m0.3 4.3h0m0 11.3h0m0 19.3h0m0.1-156.4h0m0.1 2.8h0m0.1 125.2h0m0.3-129.3h0m0.1 152.4h0m0.1-14.6h0m0.1 0h0m0-2.3h0m0.1-6.4h0m0 6h0m0.1 8.5h0m0.1-166.4h0m0 25.2h0m0 137.7h0m0.1-139.6h0m0.1 121.3h0m0 13.2h0m0.2-134.6h0m0.2 4.7h0m0 156.6h0m0.1-161.8h0m0.2-22h0m0.2-1h0m0.1 156.2h0m0-6.8h0m0.1-123.8h0m0.1-15.9h0m0.1 152.3h0m0.2-159.7h0m0 177.2h0m0.1 28h0m0-46.9h0m0.1-168.1h0m0 24.6h0m0 164.3h0m0.3-31.6h0m0.2 5.1h0m0.1-162.7h0m0.2 30h0m0 148.8h0m0-155.5h0m0 133h0m0.3 1.4h0m0.1 47.2h0m0.2-186.9h0m0 16.2h0m0.1 136h0m0.1 21.8h0m0-38.3h0m0 33.1h0m0.1-181h0m0.2 13.1h0m0.1 142.1h0m0.1-150.6h0m0.1 26.2h0m0 145.8h0m0-184.5h0m0.1 171.1h0m0.2-140.4h0m0.1 139.9h0m0.1-8.4h0m0.7-3.2h0m0.2-124h0m0.2 148.8h0m0.6-25.9h0m0 2h0m0.1-158.6h0m0 154.3h0m0.1-121.7h0m0.1-2.1h0m0 145.5h0m0-142h0m0.2 0h0m0.1 164.3h0m0.1-164.5h0m0 145h0m0.1-4.9h0m0.2-9.7h0m0-7.9h0m0.1 54h0m0-188.4h0m0 1.8h0m0.1 166.7h0m0.2-10.9h0m0.1-22.8h0m0.2 15.3h0m0-159.5h0m0.1-6.7h0m0.2 150.5h0m0 8.9h0m0 18.8h0m0.1-8.6h0m0.1-141.5h0m0-9.1h0m0.1-7.2h0m0 11.9h0m0.1-10.4h0m0 2.8h0m0 143.5h0m0.1 0.5h0m0.1 3.6h0m0.1 33.2h0m0-33.6h0m0.1 3.7h0m0.4-13.6h0m0 8.6h0m0 33.2h0m0.2-178.3h0m0-0.1h0m0.1 137h0m0.2-1.3h0m0.1-4.1h0m0-116.6h0m0-1.6h0m0.1-12.4h0m0.1 134h0m0.1-135.1h0m0.1 175.6h0m0-29.9h0m0.1-203.5h0m0.3 196.9h0m0-175.8h0m0 211.1h0m0.1-182.3h0m0 13.5h0m0-33.2h0m0.1 1.3h0m0.1 164.4h0m0-152.4h0m0.2-28.6h0m0 56.7h0m0.1 139h0m0.1-145.6h0m0.2 160.8h0m0-167.7h0m0 174.6h0m0-41.7h0m0.1-134.9h0m0 139.4h0m0.2-122.5h0m0.1 168.8h0m0.1-174.4h0m0.1 143.3h0m0.1-137.6h0m0.1-25.4h0m0.3 166.2h0m0.1-144.7h0m0.1-47.7h0m0.1 168.8h0m0.1 20.7h0m0.1-18.4h0m0.1-142.3h0m0 162h0m0.2 8.2h0m0-26h0m0.2 22h0m0-152.4h0m0 129.8h0m0.2-1.5h0m0-121.3h0m0.1-42.5h0m0.3 43.4h0m0-29h0m0.2 28.2h0m0 120.2h0m0.3 38.5h0m0.1-10.2h0m0.1-21.9h0m0-136.2h0m0.1-19.2h0m0.1 28.9h0m0 143h0m0-22.2h0m0 3.3h0m0.1-172.9h0m0 221.2h0m0.2-27.3h0m0-148.4h0m0.2 123.6h0m0.2-120.8h0m0.1-2.3h0m0.1 122.9h0m0 64.6h0m0.2-63.8h0m0 54.7h0m0.1-177.5h0m0.1 122.1h0m0 7.9h0m0.1 2.8h0m0-9.7h0m0.1-169.8h0m0 24.2h0m0.2 169.6h0m0-24.4h0m0.1 35.5h0m0-30.2h0m0-183.4h0m0.1 213.1h0m0-234.3h0m0.1 216.7h0m0-13.2h0m0 42.2h0m0-169.8h0m0.2-49.4h0m0.1 36.3h0m0 133.4h0m0.1-166.9h0m0.1 175.2h0m0.1 19.3h0m0.1-17.1h0m0 37.6h0m0.2-169.3h0m0.3 138.7h0m0-142.3h0m0 154.4h0m0.1-174.6h0m0.1 146.5h0m0 17.5h0m0.1-137.4h0m0 119.8h0m0.1-127.5h0m0 134.1h0m0.1-128.9h0m0 2h0m0.1-3.2h0m0.2-2.8h0m0 8.8h0m0-4h0m0.1 0h0m0.2 159.7h0m0.2-181.1h0m0.5 3h0m0.1-14.6h0m0.1 155.6h0m0.4 9.7h0m0.1 12.3h0m0.3-141h0m0-3.8h0m0.1 133.1h0m0.3-166.8h0m0 20.8h0m0.1 141h0m0.2-157.9h0m0.1 26.5h0m0 4.5h0m0.3 136h0m0 1.9h0m0.3-2.7h0m0.1-144.6h0m0.1-2.4h0m0.1 132.6h0m0-0.5h0m0.1 0.8h0m0-129.3h0m0.1 142.8h0m0 45.9h0m0.1-28.9h0m0.1-161.5h0m0.1 131.7h0m0.1-0.5h0m0.5-153.2h0m0.3 15.8h0m0.3 165.9h0m0-18h0m0.2-139.7h0m0 128.3h0m0.1 15.6h0m0.1-152.7h0m0 18.9h0m0.1 125.8h0m0.1-127.3h0m0.2 144.3h0m0-22.5h0m0-130.7h0m0.2 140.7h0m0.2-136.8h0m0.1 129.6h0m0.1 24.7h0m0.2-165.4h0m0.1 137.7h0m0.1 45.4h0m0.1-194.4h0m0 178.5h0m0.1-156.4h0m0.2 142h0m0.1 25.5h0m0-184.8h0m0 201.7h0m0.1-48.4h0m0 15.6h0m0.1-4.2h0m0-5.3h0m0-174.9h0m0.1 12.8h0m0.1 147h0m0.1 2.8h0m0-127.5h0m0.1 122.4h0m0 6.2h0m0-1.8h0m0.2 1h0m0 36.3h0m0.3-170h0m0.3 185.6h0m0-213.4h0m0.1 13.5h0m0.1 150.7h0m0.1-136.6h0m0.3-2h0m0.1 141.9h0m0.1-185.1h0m0.2 183.7h0m0 25h0m0.1-15.6h0m0-177.9h0m0-4.4h0m0.6 165h0m0 26.7h0m0.1-8.2h0m0.1 17.2h0m0.2-17.2h0m0 3.4h0m0.1-16.5h0m0.1-0.5h0m0.2 15h0m0-168.1h0m0.1 188.2h0m0.2-161.2h0m0.1 123.7h0m0.2 22.4h0m0.2-14.1h0m0-13.5h0m0.1-123.5h0m0-35.3h0m0.2 164.8h0m0.1-4.2h0m0-130h0m0.1 131.6h0m0.1 4.3h0m0.2-144.3h0m0.1 10.3h0m0.1 8.8h0m0.1 141.9h0m0 7.7h0m0.1 5h0m0.6-185.7h0m0 12.6h0m0.1 161.1h0m0.1-153.5h0m0 148.9h0m0.2-157h0m0 153.9h0m0.2-12.2h0m0-155.1h0m0 163.7h0m0.1-144.8h0m0.4 0.4h0m0-21.8h0m0.1 164.5h0m0-4.6h0m0.3-196h0m0.3 69.9h0m0 126.8h0m0.3 3.4h0m0.1 1h0m0.1-143.1h0m0.1 11.8h0m0.1 129h0m0 19.5h0m0.1-27.5h0m0.2-126.2h0m0 140.5h0m0.1 14.4h0m0.1-159.4h0m0.1-15.2h0m0.1-2.2h0m0.3 148.3h0m0.1 42.9h0m0.1-1.5h0m0.1-170.1h0m0.2 150.9h0m0-143.7h0m0.2 137.2h0m0.2-4h0m0 3.5h0m0.1 19.8h0m0-190.5h0m0 27.8h0m0.3 125h0m0 5.1h0m0.1-147.6h0m0-11h0m0.2 34.1h0m0.1-29.3h0m0.1 32h0m0.1-0.8h0m0-12.3h0m0.1 3.1h0m0 7.7h0m0.1 121.3h0m0.4 1.7h0m0.1 24.2h0m0.1-148.5h0m0-9h0m0.1 7.8h0m0 171.8h0m0.3-226.6h0m0.1 32.6h0m0 157.8h0m0-141.3h0m0.2 150h0m0-139.5h0m0.1 146.1h0m0.1-6h0m0.1-4.8h0m0 55.1h0m0.1-39.4h0m0.3-161.5h0m0 9.8h0m0.5-9.8h0m0.1 139.7h0m0-157.2h0m0.1 160.9h0m0.1-142.6h0m0.2-25.6h0m0.1 161.7h0m0.1-127.8h0m0 125.1h0m0.1 1.7h0m0.1 55.4h0m0.1-47.2h0m0.6-148.6h0m0-3.2h0m0.1 200.2h0m0.2-188.5h0m0.3 2.5h0m0.1-8.1h0m0.1 153.4h0m0.4-160.4h0m0 181.5h0m0.1-163h0m0.4 119.4h0m0 0.9h0m0.1-2.8h0m0-122.5h0m0.2-21.8h0m0 9.8h0m0.3 137.2h0m0.1 2.3h0m0-136.9h0m0 160.8h0m0.1-20.7h0m0.7-136.6h0m0.1-48.2h0m0 41.6h0m0.1 146h0m0-129h0m0.1 139.8h0m0.2-18.5h0m0-148.5h0m0 3.5h0m0.1 168.4h0m0-168.8h0m0.5 146.1h0m0.2 50.1h0m0-173.1h0m0 119.7h0m0.1 30.3h0m0-9.9h0m0.1 31.7h0m0.2-51.6h0m0.3-138h0m0.1-4.7h0m0.2 148.4h0m0.1 5.5h0m0.1-130.1h0m0.1-26.4h0m0.2 154.5h0m0.1-153h0m0.1 172.1h0m0.1-187.8h0m0 169.8h0m0.1-142.4h0m0.1 139.6h0m0-142.8h0m0.1 159.2h0m0.1-9.8h0m0.1-0.4h0m0.1-144h0m0.1 149.7h0m0.1-165h0m0.2 146.2h0m0 18.6h0m0-7.8h0m0.2-131.7h0m0.2-12.4h0m0.2 135.1h0m0.6 7.6h0m0.1-158.6h0m0.3-8h0m0.1 182.9h0m0-158.4h0m0.2 0.8h0m0 13.2h0m0.1 122.9h0m0-153.7h0m0.2 169.4h0m0 7.7h0m0.1-28.1h0m0.1 9.6h0m0.1 36.2h0m0-178.2h0m0.1 13.5h0m0 157.7h0m0.1-185.7h0m0.1 11.6h0m0 139.1h0m0.1 65.6h0m0.1-42.4h0m0.1-169.4h0m0.1 182.1h0m0.2-161.7h0m0 136.6h0m0.1-146.4h0m0.1-43.5h0m0.2 36.6h0m0.1-6h0m0 16.8h0m0.1 140.2h0m0.2-134.1h0m0.1-31.7h0m0.3 154.2h0m0.1 22.7h0m0-19.3h0m0-122.9h0m0.1-5.6h0m0.1 134.3h0m0.3-2.6h0m0.2 18.3h0m0 54.4h0m0.4-206.1h0m0.1 135.4h0m0-10h0m0.3-151.5h0m0.1 179.7h0m0.1 2.4h0m0-29.1h0m0.2 23.8h0m0-158.8h0m0.1 172.3h0m0-3.8h0m0.2-163.8h0m0-7.3h0m0 6.2h0m0-19.5h0m0.3 198h0m0.1-46.6h0m0 2.8h0m0.1-126.2h0m0.1 126.7h0m0 0.3h0m0.1-165.2h0m0.3 40.3h0m0.1 131.8h0m0.5 26.9h0m0.1-198.7h0m0.1 35.5h0m0 150.8h0m0 8.7h0m0-35.9h0m0.1-130.5h0m0.1 174.5h0m0.1-182.8h0m0.1 147.4h0m0-180.3h0m0.1 53.2h0m0-45.3h0m0 30.5h0m0.1 213h0m0-72.5h0m0.1-131h0m0.1 139.6h0m0-148.4h0m0.1 10.4h0m0-22.6h0m0.2 12.9h0m0.1 145.4h0m0.1 4.7h0m0.1-8.4h0m0.1-4.5h0m0.1 52h0m0.1-49.6h0m0.3 4.6h0m0.2 3.5h0m0-134.1h0m0.1 128.5h0m0.1-6h0m0.4-2.8h0m0.3-210.8h0m0.1 89.9h0m0.1 120.6h0m0.1-124.3h0m0 147.7h0m0-11.7h0m0.1 14.1h0m0 14.8h0m0.1-172.7h0m0.1 151.4h0m0 5.6h0m0.1-22.8h0m0.1-123.3h0m0-26.5h0m0.2-20.2h0m0.1 167.6h0m0-119h0m0.1-5h0m0-14.5h0m0.1-41.9h0m0.1 59.1h0m0.1 137.7h0m0.2-160.3h0m0-5.2h0m0-4.8h0m0.1 186.1h0m0.5 23.5h0m0.2-54h0m0.1-128.2h0m0 157h0m0.1-168h0m0.1 7.7h0m0.2 10.8h0m0 133.4h0m0.1-1.8h0m0.1-182.8h0m0.1 7.2h0m0 163.3h0m0-118.4h0m0 140.4h0m0.1 15h0m0.2-196.6h0m0.1 38.2h0m0-4.2h0m0.1 139.2h0m0.2-141h0m0.1 191.3h0m0.2-193.7h0m0 142h0m0 1.2h0m0 5h0m0.1-10.4h0m0-6.5h0m0.1-161.9h0m0 6.1h0m0 160.8h0m0.1 5.2h0m0.2-130.3h0m0 142.6h0m0.1-152.1h0m0 129.7h0m0.1 32h0m0.1 10.4h0m0.1-35.1h0m0.1-131.3h0m0.1-0.9h0m0-40.3h0m0 21.4h0m0.3 5.8h0m0.1 15.8h0m0 135.3h0m0-6.5h0m0.2 5.2h0m0.1-133.8h0m0-16.5h0m0.2 17.3h0m0.1-0.8h0m0.3-40.8h0m0 168.1h0m0-4.3h0m0.1-129.9h0m0.3-6.8h0m0-8.5h0m0.1 12.5h0m0 138.2h0m0.1 5.4h0m0-155h0m0 142.8h0m0.1-128.6h0m0.2 133.4h0m0.4-5.5h0m0 23.9h0m0.2-197.9h0m0.1 196.6h0m0.2-8.6h0m0-3.8h0m0.3-145.6h0m0 136.1h0m0.1-135.3h0m0.1 2.5h0m0.4 149h0m0.1-17.5h0m0.1 10.8h0m0.1-10h0m0.1 37h0m0-166.5h0m0-4.1h0m0.2 12.1h0m0.2 120.4h0m0-118.7h0m0.3 135.4h0m0-151.1h0m0.1 207.8h0m0-214.1h0m0 13.1h0m0.1 132h0m0 3.6h0m0.4-174.5h0m0.1 184.2h0m0-3.5h0m0.1-14.9h0m0.1-149.5h0m0 27h0m0.1-6.5h0m0 137.6h0m0.2-180.4h0m0.2 210.4h0m0.1-38.7h0m0.2-138.4h0m0.4 158.5h0m0.1-160.4h0m0 18.2h0m0.1-48.2h0m0.1 14.6h0m0.1 35.5h0m0.3 138.7h0m0 14.4h0m0.1 3.5h0m0-179.1h0m0.1 149.4h0m0.1-157.2h0m0.3 17.8h0m0.1 133.6h0m0-0.4h0m0.2-122h0m0.1-6.1h0m0.2 137.1h0m0.1 32.7h0m0.1-166.5h0m0.1 136.9h0m0-146.6h0m0.2 10.2h0m0 142h0m0.1 22.2h0m0.1-169.3h0m0.1-27.6h0m0.2 27.6h0m0 132.9h0m0.1 12.7h0m0-153.5h0m0.1 5.9h0m0.3 162.8h0m0-166.7h0m0 139h0m0-147h0m0.1-9.7h0m0.1 153.3h0m0.2 22.8h0m0.1 4.4h0m0-21.7h0m0.1 5h0m0-130.7h0m0.3-4.9h0m0.1 141.1h0m0.1-137.9h0m0.1-10.8h0m0 170.8h0m0.2-20.6h0m0-177.4h0m0 162h0m0.1-0.1h0m0 38.5h0m0.1-164.4h0m0.1 131.8h0m0.6 31h0m0-36.1h0m0.1-155.9h0m0-0.9h0m0.1 9.5h0m0.3 5h0m0.1 146.3h0m0 13.6h0m0.2-166.2h0m0 163.9h0m0-140.9h0m0.2 163.8h0m0.1-159.7h0m0-71.1h0m0.1 21.1h0m0.1 188.6h0m0.2-10.6h0m0.2 34.3h0m0-32.3h0m0.1-1.8h0m0.1-4.1h0m0.1-6h0m0.1 13.2h0m0-177.8h0m0.1-13.3h0m0 24.1h0m0.1 170.7h0m0.3 5h0m0-146.8h0m0.1 160.9h0m0-27.9h0m0.1 1.9h0m0.1 5.5h0m0.1-8.4h0m0.1-126.6h0m0.1-6.9h0m0.1 185.7h0m0.4-58.4h0m0.1-138h0m0 140.2h0m0.2 26.4h0m0.1-15.6h0m0.1-156.6h0m0 189.6h0m0.1-8.8h0m0-36.8h0m0.1-156.2h0m0 19.8h0m0.1 153.5h0m0-139h0m0.1-64h0m0 232.2h0m0.1-187.8h0m0.2 17.4h0m0-2.6h0m0 126.9h0m0-133.7h0m0.2-17.6h0m0 14h0m0.2 170.2h0m0.3 42.4h0m0-45.8h0m0.1-161h0m0 141.4h0m0-136.7h0m0.1 174h0m0.1-169.8h0m0.1-28.2h0m0 26.1h0m0.2 136.8h0m0-136.5h0m0.1 129.7h0m0.1 0.7h0m0.1-129.9h0m0-0.2h0m0.2 144.1h0m0-150.4h0m0.2 8.3h0m0.2-5.8h0m0.1 2.9h0m0 1.2h0m0.2-19.6h0m0 151.1h0m0.1-152.1h0m0.1 24.9h0m0.1-18.9h0m0.1 15h0m0.1 154.9h0m0-185.6h0m0.1 162.2h0m0.1 20.2h0m0-29.1h0m0.1 8.6h0m0-133.9h0m0 147.8h0m0.1-142.4h0m0.2 137.2h0m0.2-155.2h0m0.3 140.8h0m0.2-0.8h0m0 40.7h0m0.1-164.8h0m0.1-2.1h0m0 146.1h0m0.1-16.7h0m0.1-129.2h0m0.1 125.7h0m0-134.8h0m0.1 150.5h0m0 6h0m0.1-2.6h0m0.4-152h0m0.2 132h0m0-131.1h0m0.1 182.8h0m0-183.8h0m0.1 147.3h0m0.1-151.2h0m0.1 145.2h0m0 17.8h0m0.1-24.7h0m0.3-127.8h0m0.1 136.1h0m0-144.5h0m0.1 143.6h0m0 21.2h0m0.1-162.7h0m0-25.5h0m0.1 163.7h0m0-0.9h0m0.1 5.8h0m0-176.4h0m0.2 24.3h0m0 19.7h0m0.1-30.8h0m0.1-31.2h0m0.1 190.1h0m0-139.3h0m0 154.4h0m0.2-181.9h0m0 19.6h0m0.1 14.9h0m0 134.9h0m0.3-7.4h0m0-162.8h0m0.5 162.2h0m0-166h0m0.1 37.7h0m0 138h0m0.2 15.1h0m0.1-23.6h0m0.1 6.9h0m0.1-147h0m0-9.9h0m0 25.7h0m0.1 161.7h0m0.3-168h0m0 136.5h0m0-147.5h0m0.1 11.3h0m0.2 3.2h0m0 126.8h0m0.1 13h0m0.1-174.3h0m0 36.8h0m0.1-81.3h0m0 80.6h0m0.1-6.7h0m0.1 128.1h0m0.2-118.2h0m0 131.6h0m0.1-139.2h0m0.2-0.4h0m0.1 168.5h0m0.1-34.1h0m0.1 8.1h0m0 14.6h0m0.3-8.3h0m0 2.6h0m0.1-14.5h0m0.1-2.2h0m0.1-136.5h0m0 131.2h0m0 53.7h0m0.2-48.9h0m0.1-138.6h0m0.1-51h0m0.3 44.7h0m0.1 2.5h0m0.1 150.7h0m0-135.9h0m0.2-8.5h0m0.1-0.9h0m0.2 130.1h0m0.2 4.2h0m0.7 18h0m0.2-10.4h0m0.1-148.8h0m0.1 136.5h0m0.1-132.5h0m0-9.7h0m0.2 177.4h0m0.1-163h0m0.1 1.9h0m0.1 133.4h0m0.2-136.9h0m0 139.3h0m0-145.8h0m0.4 158.4h0m0-11h0m0.1-132.8h0m0.1-0.4h0m0.1 120.9h0m0.1 10.5h0m0.1-147.6h0m0.1 140.5h0m0.2-125.4h0m0.1-19.6h0m0 15.7h0m0.1-17.7h0m0 11.9h0m0.3 5h0m0 141.5h0m0-138.9h0m0-22.9h0m0.3 175.2h0m0.2-152.6h0m0-12.9h0m0.2 137.5h0m0.2-125.3h0m0.1 135.8h0m0.1-146.2h0m0 145.3h0m0.3-146.3h0m0.2 162.3h0m0-12.9h0m0.1 19h0m0.2-158.1h0m0 134.6h0m0.2-139.7h0m0.3-36.3h0m0 36.5h0m0.1-43.6h0m0.1 243.1h0m0.2-67.6h0m0.1-131.4h0m0.1 133.1h0m0.5 26.4h0m0.1-172h0m0.1 179.4h0m0-28.9h0m0.1-140.1h0m0.1 3.4h0m0 143.7h0m0 9.3h0m0.6 0.8h0m0.1-22.5h0m0 20.6h0m0.5-140.8h0m0.1 141.9h0m0.1-149.5h0m0.1-3.5h0m0.2 140.5h0m0.1-136.8h0m0.1 198.9h0m0.2-192.9h0m0.1 145.7h0m0 19.6h0m0-165.2h0m0.2-12.6h0m0.3 2.6h0m0.1 10.9h0m0.1 122.2h0m0.1 6.5h0m0-149.2h0m0.2 156.3h0m0.2 4.5h0m0.1-20.9h0m0-129.5h0m0 180.1h0m0.4-22h0m0-178.7h0m0.1 25h0m0-19.6h0m0 195.2h0m0-204.8h0m0.2 32.2h0m0.3 136.4h0m0-4.3h0m0-139.9h0m0.1-7.9h0m0.1-19.1h0m0.1 158.3h0m0-122.9h0m0.1-4.7h0m0 139.8h0m0-175.7h0m0.2 170.5h0m0.1-164.3h0m0.1 191h0m0-174h0m0.1-6.5h0m0 15.4h0m0.1 1.6h0m0.1 9.5h0m0.2 129.2h0m0.1-150.9h0m0.2 140.7h0m0.2 42.5h0m0-38.4h0m0.1 21.6h0m0-156.4h0m0 152.5h0m0.1 22.6h0m0.1-165.2h0m0.1 129h0m0-141h0m0.1-26.8h0m0.2 20.5h0m0.2 144.2h0m0.1-142.5h0m0 155.9h0m0-146.2h0m0.1-7.6h0m0.2 163.3h0m0.1-161.2h0m0 140.3h0m0.2-132.1h0m0.1-7.5h0m0.4-1.6h0m0.1 6.7h0m0.1-1.1h0m0 6.3h0m0.1 137.3h0m0.2-165.3h0m0.2 26h0m0-1h0m0.2-9.2h0m0.2 2.6h0m0.1-8.4h0m0.1 140.6h0m0 4.7h0m0-169.1h0m0.1 8.9h0m0.1-11.9h0m0 168.7h0m0-169h0m0 230h0m0.1-5.3h0m0.1-177.3h0m0.1 174.4h0m0-176.7h0m0.4-10.5h0m0.1 0.8h0m0.1 131.4h0m0 40.8h0m0.1-179.9h0m0.1 148.7h0m0.2-167.4h0m0.3 197.8h0m0.3-9.5h0m0 34.6h0m0-197.3h0m0 181h0m0.3-36.4h0m0-3.6h0m0-155.4h0m0.1 196.5h0m0.1-208.2h0m0.1 172h0m0.1-147.4h0m0 140.2h0m0 9.5h0m0.1 30.4h0m0.1 16.3h0m0.1-61.1h0m0.1 3.8h0m0-125.4h0m0.2 123.3h0m0.1 9.3h0m0-145.2h0m0.1 5.4h0m0.2-5.5h0m0 144.9h0m0.1-196.1h0m0 196.2h0m0.1-11h0m0.1 23.5h0m0-148h0m0 3.8h0m0-18.3h0m0.1 180.5h0m0.1-173.5h0m0 171.9h0m0.1-35.9h0m0.1-152.7h0m0.6 154.7h0m0.1-6.5h0m0.1-120.3h0m0.1-14.9h0m0-6.1h0m0.2 3.8h0m0.1 161.6h0m0.1-17.3h0m0.1-158.8h0m0 19.5h0m0.1 160.4h0m0-158.2h0m0.1 154h0m0.2-6.8h0m0 11.9h0m0.1-15.7h0m0-137.2h0m0.1-3h0m0 136.4h0m0.1-135.6h0m0.2 150.5h0m0-21.3h0m0 20.1h0m0.2-174.5h0m0 153.9h0m0.3-149h0m0 1.9h0m0.2 23.5h0m0.3-30.1h0m0 150.3h0m0.8 5.8h0m0 23.5h0m0.1 17.4h0m0.1-168.5h0m0.1 139.9h0m0 31h0m0-40h0m0-147.3h0m0-4.4h0m0.1 11.6h0m0 137h0m0 13.3h0m0.3-13.7h0m0.1-137.8h0m0.1 11.7h0m0 126h0m0.1-132h0m0 142h0m0.1-141.8h0m0.1 127h0m0.1-152.5h0m0 33h0m0.1-10.5h0m0-23.3h0m0.1 167.9h0m0-1.1h0m0.2 3.3h0m0 0.9h0m0.2-150.3h0m0.1 13.1h0m0.2 123h0m0-2.4h0m0-137.8h0m0.1 9.9h0m0.1 151.7h0m0.1-146.8h0m0 127.2h0m0.2 8.4h0m0-146.5h0m0-18h0m0.2 153.4h0m0.1-163h0m0 165.7h0m0.1 42.6h0m0.1-192.6h0m0.2 203.7h0m0.4-206.8h0m0 214.9h0m0-213.9h0m0.1 153.2h0m0-168.2h0m0.1 171.7h0m0 7.8h0m0.1-180.5h0m0.1 180.3h0m0.1-11.6h0m0.2-126.6h0m0 124.4h0m0.2-134.2h0m0.1-31.4h0m0 176.6h0m0.1 28.4h0m0-209.3h0m0.2 42.7h0m0.1 137.3h0m0.1-13.3h0m0.1-0.2h0m0.2 5.8h0m0 14.1h0m0.1-156.2h0m0 137.8h0m0.2-124.7h0m0 123.5h0m0 6.9h0m0.1 24.1h0m0 14.1h0m0.3-33.1h0m0-142.8h0m0.1 134.7h0m0.1 40.7h0m0-166.2h0m0.1 128.4h0m0.1-134.7h0m0.1-14.4h0m0.1-1.6h0m0.2 192.2h0m0.2-40.1h0m0-133.1h0m0.2 0.5h0m0.1 133.6h0m0-146.4h0m0.1 137.1h0m0-126.1h0m0.3-4.9h0m0 139h0m0.2-152.4h0m0.1 146.7h0m0.1-189.2h0m0 197.9h0m0.1-169.6h0m0-10.5h0m0.2 40.3h0m0.1 159.4h0m0-24.9h0m0.2 15.9h0m0.3-148.5h0m0.5 136.9h0m0.1 44h0m0.3-10.2h0m0-167h0m0.1-26.2h0m0 156.2h0m0-129.2h0m0.2 122.6h0m0.4 39.2h0m0-161.2h0m0.1 138.2h0m0.2-2h0m0-148.3h0m0.1 135.2h0m0.1 0.7h0m0.1 18.6h0m0.2-2.4h0m0.1-168.9h0m0.2 150.4h0m0.1-137.2h0m0.1-7h0m0 174.6h0m0.2-181.6h0m0.1 27.8h0m0-5.8h0m0.1-48.2h0m0 30.9h0m0.1 153.7h0m0.1 14h0m0.1 15.7h0m0-11.6h0m0.1-7.1h0m0.1 3h0m0.1-11.5h0m0-159.9h0m0 157.4h0m0.1-1.7h0m0 6.6h0m0.4-139.5h0m0-4.2h0m0-35.8h0m0.1 28.2h0m0 149.2h0m0.7-170.9h0m0 36.9h0m0.1-12h0m0 158.4h0m0.3-13.4h0m0-1.1h0m0.1-3.6h0m0 9.8h0m0.2 23.3h0m0-158.6h0m0 133.9h0m0.1 9.7h0m0-20.5h0m0.1 0.9h0m0.2 11.7h0m0 9.3h0m0.1 7.3h0m0.1-7.6h0m0.3-149.7h0m0.1 3.2h0m0.1 128.2h0m0.1 1.2h0m0.2-139.7h0m0.1 6.7h0m0 159.2h0m0.3-26.1h0m0 6.5h0m0.1 14.9h0m0.1-159.9h0m0.1 160.6h0m0.1-152.8h0m0.2 162.6h0m0-165h0m0.1 127.8h0m0.1 1.7h0m0 43.9h0m0-170.8h0m0.1 162.5h0m0.2-176.9h0m0 10.1h0m0.2 141.1h0m0.1-11.8h0m0-128.9h0m0 172.1h0m0-175.4h0m0 6.3h0m0.1-1h0m0.2 207.8h0m0.1-246.8h0m0.1 172.2h0m0-129.4h0m0.1 130.2h0m0-127.7h0m0.1 123.4h0m0.1-151.7h0m0 17.7h0m0.1-10h0m0 164.8h0m0.2-160.7h0m0.2 161.5h0m0-222.8h0m0.2 31.5h0m0 46.1h0m0.1 154.2h0m0.2-168.3h0m0-12.9h0m0.1 180.8h0m0.1-16.1h0m0.1-16.9h0m0.1 18.8h0m0.2-3.2h0m0.1 3.2h0m0 9.7h0m0.1-185h0m0 32.7h0m0.3-9.5h0m0 145.7h0m0.2-9.9h0m0 28.2h0m0.4-22h0m0 4.4h0m0.4-151.4h0m0.1 150h0m0.1-6.8h0m0.3-135.5h0m0.1 134.7h0m0-4.1h0m0.6-121.8h0m0-7.3h0m0.1 3.9h0m0-22.9h0m0.3 27h0m0.1 151h0m0.2-27.2h0m0.1-138.1h0m0 5.7h0m0.1 168.7h0m0 38h0m0.1-68.9h0m0 25.7h0m0.1-182.7h0m0 8.2h0m0 142.2h0m0 2.7h0m0.1-146h0m0.1 146.5h0m0-1h0m0.1 1.2h0m0 33.4h0m0.2-162.7h0m0-77.7h0m0.1 52.4h0m0.3-7.7h0m0.1 23.6h0m0.2 6.6h0m0-20h0m0.1 168.8h0m0.1 10.6h0m0.1-32.8h0m0.1 36.8h0m0.1-159.3h0m0-11.1h0m0.1-5.7h0m0.1 148.7h0m0 3.7h0m0.1-4.2h0m0-2.6h0m0.1-136.1h0m0-17.4h0m0.1 157.8h0m0-135.2h0m0.2 126.7h0m0-129h0m0 151.9h0m0.2 1.1h0m0-150h0m0.3 132.5h0m0.2-161.1h0m0.1 15.7h0m0.1 156.6h0m0.1-143.4h0m0.1 125.7h0m0.2-148.1h0m0.1 152.4h0m0.1 6.9h0m0.2-10.4h0m0-123h0m0.1-7.1h0m0 130.9h0m0.1 5h0m0.1-3.7h0m0 24h0m0-182.8h0m0.1 184.5h0m0.1-156.5h0m0.1 4.2h0m0 128.8h0m0.1-129.4h0m0.1-4.5h0m0.1 133h0m0 1.4h0m0 22.9h0m0.1-20.2h0m0.1 32.6h0m0-38.7h0m0.2-182.7h0m0.2 56.4h0m0-38.5h0m0-32.3h0m0.2 72.7h0m0.1 140h0m0.1 2.2h0m0.4 12.6h0m0.2-34.3h0m0.1-135.2h0m0 12.3h0m0.2 147.7h0m0.1-9.7h0m0.1 6.8h0m0-18.8h0m0.4 13.6h0m0-17.1h0m0.1-121.2h0m0.2 124.2h0m0.2 0h0m0-127.3h0m0.3 127h0m0 20.1h0m0-18.6h0m0.1 12.9h0m0.3-138.8h0m0.1 2h0m0-6.6h0m0 2.9h0m0.1 168h0m0-216.5h0m0.1 24.3h0m0 17.5h0m0.3 153.4h0m0.1-160.3h0m0 140h0m0.1-136.5h0m0.1 187.5h0m0.2-258.9h0m0 225.2h0m0.1 15.3h0m0-4.9h0m0-25.6h0m0.5 29.9h0m0.1-29.4h0m0-3.2h0m0.1 2.8h0m0-150.1h0m0.1 144.7h0m0-150.4h0m0.2 20.6h0m0.1 156.2h0m0.4-7.8h0m0-9.6h0m0.5-130.9h0m0.1 122.7h0m0 11.8h0m0.1 13.7h0m0.1-151.2h0m0.1 1.5h0m0 142.6h0m0.1 31h0m0-50.8h0m0.1-126h0m0.2-16.5h0m0.2 145.5h0m0.1 34.4h0m0.1-30.6h0m0 2.8h0m0.1-136.2h0m0 173.4h0m0-21.4h0m0.1-6.8h0m0.2-166.4h0m0.1-1.5h0m0.1-2h0m0 165.5h0m0-133.8h0m0-28.3h0m0.1 155.4h0m0-131.4h0m0 5h0m0.2-27.2h0m0.1 168.9h0m0.1-148.5h0m0 4.5h0m0.1-4.7h0m0.1 126h0m0.1 17.2h0m0-7.5h0m0.1-139.3h0m0.1 142.9h0m0.1-147.4h0m0.1 156.5h0m0.1-173.4h0m0.1 158.3h0m0.4-4.8h0m0 19.7h0m0.1 4h0m0.6-156.6h0m0 141.6h0m0.4 2.5h0m0.1-132.5h0m0.2-32.4h0m0.1 16h0m0-11.9h0m0.1 18.7h0m0.1 9h0m0 132.4h0m0.4 10.3h0m0-21.5h0m0 32.6h0m0.2-32.2h0m0-146.3h0m0.1 149.3h0m0.2-167.3h0m0.1 26.1h0m0 165.7h0m0.1-149.1h0m0.1-12.4h0m0-30.2h0m0.1 36.3h0m0-24h0m0.1 170h0m0.1-149.8h0m0 135.1h0m0.1-124.2h0m0.1-8.4h0m0.1 129.7h0m0.1-121.9h0m0.3-11.9h0m0-6.6h0m0.1 173.2h0m0.1-155.9h0m0.3-10.1h0m0.1 136.8h0m0.1-132.6h0m0.3 2.9h0m0-13.2h0m0.1 2.9h0m0.2 138.3h0m0-143.7h0m0.1 147.5h0m0.1 9.8h0m0.2-13.9h0m0-124h0m0 122.5h0m0.1-144.2h0m0.2 20.8h0m0.2 121h0m0.2 25.2h0m0.3-22.6h0m0-133.3h0m0 165.1h0m0.1-27.2h0m0.4 8.3h0m0.2-7.4h0m0-129.5h0m0.1-0.5h0m0.1 126.1h0m0-3.4h0m0-122.5h0m0.2-0.2h0m0.1 123.9h0m0.1 0.5h0m0.1-124.4h0m0 1.6h0m0.1 132.1h0m0.1-10.6h0m0-120.8h0m0-21.3h0m0 157.6h0m0.1 18.7h0m0.4-156.4h0m0.2 127.9h0m0.1-129.6h0m0.2 127.5h0m0-4.2h0m0.2-120.5h0m0.1 135.9h0m0-135.2h0m0.1 136.9h0m0 64h0m0.1-73.6h0m0.1-152.9h0m0.1 185.8h0m0.1-176.8h0m0.1 12.8h0m0.1 3.8h0m0 135.1h0m0 28.8h0m0.3-175.4h0m0.1 145.6h0m0.1-0.9h0m0.1-153.9h0m0.2 153.9h0m0.2 7.3h0m0.1-17.4h0m0.2-152.6h0m0.1 19.5h0m0.1-26h0m0 25.4h0m0.1 155.4h0m0.1-147.1h0m0-10.6h0m0 159.4h0m0.1-161.7h0m0 3.1h0m0 139.4h0m0.1-128.5h0m0.2 129.5h0m0-149.1h0m0.1 183.4h0m0-185.5h0m0.2 8.9h0m0 135.3h0m0.1-127h0m0.3-3.1h0m0.1 137.1h0m0-150h0m0-27.5h0m0.1 30.3h0m0 19.7h0m0.1 142.7h0m0.1-17.9h0m0.1-0.8h0m0-146.9h0m0.3 156.4h0m0.1-158h0m0.3 1.2h0m0.1 155.6h0m0-138.9h0m0.1-8.4h0m0.4-3.1h0m0 144.7h0m0.2 0.5h0m0 21.1h0m0-29.8h0m0.1 13.4h0m0.1-5.8h0m0.1 45.4h0m0-191.3h0m0.1-5.4h0m0.1 169.1h0m0 12.9h0m0.1-36.9h0m0 16.2h0m0.1 0.9h0m0 10.1h0m0.1-173.9h0m0.3 1.2h0m0 153h0m0.1-136.5h0m0.1 138.4h0m0-134.8h0m0 134.8h0m0.2-8.3h0m0.3 0.1h0m0-130.7h0m0.3 128.4h0m0.1-136.1h0m0.1 147.8h0m0-157.5h0m0.6 4.6h0m0.1 15.1h0m0 0.7h0m0.3-1.2h0m0.2 135.7h0m0.1-138.6h0m0.1 147.6h0m0.1-0.7h0m0.1 3.6h0m0.1-148.5h0m0 4.7h0m0.1 126.7h0m0-159.9h0m0.2-19.7h0m0 217.2h0m0.2-176.6h0m0 140.7h0m0.2-146.7h0m0 4.7h0m0-33.5h0m0.2 36h0m0.3 6.9h0m0 127.9h0m0.2 10.9h0m0.1 18.3h0m0.1-208h0m0 56.2h0m0.4 131.3h0m0-151.9h0m0.2 181.4h0m0.1-32.4h0m0.1-128.9h0m0.1 164.1h0m0.1-225.9h0m0.1 191.7h0m0-127h0m0.3 0.6h0m0.1-1.9h0m0.1 130.1h0m0.3-150.1h0m0.5 19.2h0m0.1-42.4h0m0 177.3h0m0-152.5h0m0 14.5h0m0.1 5.9h0m0.1 129.6h0m0.3-10.1h0m0.1-120.4h0m0.1 120.6h0m0.2-125.8h0m0.1 144h0m0.1-11.1h0m0.1-145.5h0m0.1 15h0m0.1 124.9h0m0 8.5h0m0.1 52.8h0m0-197.7h0m0.1 144.6h0m0-131.2h0m0 165.7h0m0.1-27.1h0m0.1 31h0m0.1-182.9h0m0 139.1h0m0.2-134.7h0m0.1 137.8h0m0-133.2h0m0-24.1h0m0.1 157.3h0m0-163.7h0m0.2 36.4h0m0-19.9h0m0.1 17.9h0m0 127.5h0m0.2 13h0m0.7-5.3h0m0.1-143.2h0m0 145.2h0m0.1-150.1h0m0 137.7h0m0.1-4.3h0m0.1-128.4h0m0-1.5h0m0 9.6h0m0.2 125.6h0m0 17.9h0m0.3-17.9h0m0.3-128.2h0m0.4-65.8h0m0.2 68.9h0m0.1-13.6h0m0-2.3h0m0.1 179.4h0m0-169.2h0m0.3 130.6h0m0.3 27.9h0m0.1-31.6h0m0.1-122.1h0m0.1-17.5h0m0 152.6h0m0.1 26.9h0m0.5-13.1h0m0.3-186.7h0m0.3 172.3h0m0-131.7h0m0-41.6h0m0.1 198.1h0m0-36.6h0m0 37.7h0m0.1-164.2h0m0-49.7h0m0.1 187.4h0m0.1-130.5h0m0.1 118.1h0m0.1 20.3h0m0.1 11.2h0m0.4-28.8h0m0.2-2.7h0m0.1 22.6h0m0.1 30.6h0m0-45.1h0m0-166.1h0m0.1 179.9h0m0.1-22h0m0.1-135.1h0m0.1 144.1h0m0-135.3h0m0.1 124.4h0m0 28h0m0.1-11h0m0.1-143.7h0m0.1 138h0m0-137.3h0m0.2-6.5h0m0.2 142.3h0m0.1 29.9h0m0.1-158.8h0m0.2-6.5h0m0.2 1h0m0.2 137.3h0m0.1-11.5h0m0.1-117.1h0m0.1 122h0m0.1-122.9h0m0 136.5h0m0.1-18.2h0m0.1 8.2h0m0-156.9h0m0.1 24.6h0m0.1 136.8h0m0 2.1h0m0.1-133.4h0m0 124.6h0m0 1.3h0m0-133.3h0m0.1 6.1h0m0.1 195.1h0m0-70.3h0m0.1-136.9h0m0.1 141.7h0m0-131.7h0m0.1 1.8h0m0.1 3h0m0 160.8h0m0.2-43h0m0-133.9h0m0.2 14.3h0m0.2 123.5h0m0.1-0.9h0m0 7.6h0m0.1-11.3h0m0 47.3h0m0.1-193.7h0m0.2 148.6h0m0 37.2h0m0.1-164.7h0m0.1 2.6h0m0-8.4h0m0 136.4h0m0.1 2.8h0m0.1 5.1h0m0.1-183.8h0m0.1 179.8h0m0.1 28.6h0m0-156.4h0m0.2-5h0m0.1-25.4h0m0 149.3h0m0.1-1.1h0m0.1-129.5h0m0.1 2.5h0m0.1 141.1h0m0.1-12h0m0 29.5h0m0-152.2h0m0.1 4.3h0m0.1 123.2h0m0.1-147.1h0m0-30.8h0m0 43.7h0m0.1 165.1h0m0.2 8.9h0m0.1-171.6h0m0 130.2h0m0.2 4h0m0-127.3h0m0.1-7h0m0 125h0m0.1-127.2h0m0.1-15h0m0 162h0m0.1-144.1h0m0.2-11.8h0m0-4h0m0.2 7.6h0m0.1 146.9h0m0-188.3h0m0 214.5h0m0.1-41.2h0m0.1 0.2h0m0.1-119.1h0m0-55.2h0m0.1 49.7h0m0.2 2.3h0m0.1-12.8h0m0.3 11h0m0.1 156.1h0m0-157.4h0m0.2 157.1h0m0.2 27.3h0m0-45.3h0m0.1 1h0m0.1-155.1h0m0 3.5h0m0-17.6h0m0.2 157.4h0m0.2-127.6h0m0 136.2h0m0.5-130h0m0.1 122.5h0m0.1 6h0m0 12h0m0-16h0m0-164.7h0m0.1 177.1h0m0-8.4h0m0-130.7h0m0.1 137.4h0m0-16.1h0m0.2-116.3h0m0.6 124.4h0m0-128.4h0m0.1-0.2h0m0 134.8h0m0.2-172.9h0m0 42.1h0m0.2 123.6h0m0.1-157h0m0.1 16.6h0m0.1 146.1h0m0.1-133.9h0m0 194.4h0m0.1-216.9h0m0.1-49.9h0m0.2 208.2h0m0.2 28.2h0m0-169h0m0.1 169.1h0m0.1-39.2h0m0 14.5h0m0-6.6h0m0.2 0.7h0m0.1-4.9h0m0 7.5h0m0.4 32.4h0m0.2-205.1h0m0.1 39.6h0m0.1 129.2h0m0.2-213.2h0m0 80.8h0m0.1 143.8h0m0.1 25.5h0m0-169h0m0.1 182.5h0m0.2-208.5h0m0.1 7.5h0m0 169.3h0m0.1-19.1h0m0.3-134.1h0m0 142.8h0m0.2-157.6h0m0.1 161.3h0m0-21.9h0m0.2-159h0m0.2 40.6h0m0-15h0m0.1 2.4h0m0-10.4h0m0.1 157.6h0m0 54.8h0m0-62.7h0m0.2 17.4h0m0-26.4h0m0.1 10.5h0m0-143.4h0m0.1 9.2h0m0.1-38.3h0m0 173.7h0m0.1-10.1h0m0 31.2h0m0 52.2h0m0.1-69h0m0.2-160.1h0m0-1.9h0m0.1 198.6h0m0-36.2h0m0.3-150.6h0m0 135.1h0m0.2-0.9h0m0.1 9.2h0m0.2-129.7h0m0 174.9h0m0.2-34.4h0m0.1-139.6h0m0.1-18.1h0m0 158.3h0m0.2-11h0m0 26.9h0m0.3-154.1h0m0 123.2h0m0.1-138.1h0m0.1 157.2h0m0.1 44.9h0m0-66.5h0m0 1h0m0.1 21.7h0m0.1-24.7h0m0.1-123.8h0m0.1 123.7h0m0-130.5h0m0.1 141.9h0m0 5.5h0m0.1 4.5h0m0.1-141h0m0 128.3h0m0-159.2h0m0.2 158.8h0m0.1 7.9h0m0.2-16.9h0m0.2 5.3h0m0.1-126.4h0m0.1-1.4h0m0.1 129.3h0m0-0.6h0m0.4-132.4h0m0.1 149h0m0.2-161.7h0m0.1 149.4h0m0.1-0.1h0m0.3 23.3h0m0.2 1h0m0.2-0.2h0m0-168.6h0m0.1 192h0m0.1-40.4h0m0.1-156h0m0 3.6h0m0.3 14.6h0m0 134.3h0m0.1 18.5h0m0.2-33.2h0m0.1-129.1h0m0 8.9h0m0-3h0m0.2-38.4h0m0.1 193.7h0m0-1.7h0m0-29.8h0m0.1 22.9h0m0-23.6h0m0.1-164.5h0m0 195h0m0.1-15.3h0m0-4.7h0m0.1-132.6h0m0.2-23.8h0m0 23.4h0m0 132.2h0m0.2-125.5h0m0.3 159.6h0m0.1 3.2h0m0.2-184.6h0m0.1 203.6h0m0.1-66.5h0m0 11.5h0m0.1 13.8h0m0.1-155.4h0m0 154.9h0m0.2 3.7h0m0.1-13h0m0-5.3h0m0.2 0.1h0m0.3-1.4h0m0.1 42.5h0m0.3-180.7h0m0.1-6.9h0m0.2 21.4h0m0.2 126.8h0m0.4-10.7h0m0.2 7.1h0m0-125.8h0m0.2 2.9h0m0 135.3h0m0.1-159.2h0m0-8.9h0m0.1 152.3h0m0-123.7h0m0-9.9h0m0.2 192.9h0m0.1-229.1h0m0.1 185h0m0-2.6h0m0.1 21h0m0-29.2h0m0.1-162.1h0m0 180.9h0m0.1 36.5h0m0 56.2h0m0-38.2h0m0.1-222.1h0m0 176.8h0m0-160.7h0m0.1 198.2h0m0-230.4h0m0.1-23.5h0m0 1.1h0m0.1 196.1h0m0.2 2.8h0m0.1-146.1h0m0 6.9h0m0.1-2.3h0m0.1 129h0m0.2-140.3h0m0.2 12.6h0m0.1 1.9h0m0.2 1.5h0m0.3-14.9h0m0.1 146.2h0m0.1-140.4h0m0-2.7h0m0.1-26.1h0m0 168h0m0-139.4h0m0.4 129.6h0m0 5.5h0m0-1.5h0m0.2-155.4h0m0 153.9h0m0.2-128.4h0m0.1-9.6h0m0.1 15.3h0m0 171h0m0-38.7h0m0 10.2h0m0.1-180.5h0m0.2 187.9h0m0-10.4h0m0.1-9.8h0m0-184.1h0m0.1 206.7h0m0-14.7h0m0.1 22.5h0m0 26.7h0m0.1-52.2h0m0 6.6h0m0.1-23.5h0m0.1-142.7h0m0.1 192.5h0m0.1-30.2h0m0-16.4h0m0.1 5.1h0m0.3-170.8h0m0.1 179.6h0m0.1-141.6h0m0 176.3h0m0.1-192.6h0m0 178.9h0m0.1-25.1h0m0.2 13.8h0m0-145.8h0m0.2-33.8h0m0 164h0m0.1-1.2h0m0.2-136.6h0m0.1 153.7h0m0.4 46.8h0m0-202.2h0m0.1-19.6h0m0.1 165.6h0m0.1-134.9h0m0.1 170.1h0m0.3-189.1h0m0 192.9h0m0.1-43h0m0.1-212.5h0m0.1 228.7h0m0.1-184.7h0m0 203.8h0m0.2-208.4h0m0 6.1h0m0 161.3h0m0.1-154.9h0m0 166.1h0m0-141.2h0m0-76.3h0m0.1 218.9h0m0-198.4h0m0.1 60.4h0m0 137.2h0m0-7.1h0m0.1-130.1h0m0.2-1.7h0m0-26.4h0m0.1 144.9h0m0.4-124h0m0.1-1.7h0m0.1 125.8h0m0-135h0m0.1 152.1h0m0-134.7h0m0.1-3h0m0.1 2h0m0 126.4h0m0.1 11.3h0m0.6-137.9h0m0.1 130.7h0m0-127.9h0m0.2 124.1h0m0.1-144.7h0m0.1 13.9h0m0-7.3h0m0 131.3h0m0.1-122.7h0m0.1 124.7h0m0 60.2h0m0.1-183.9h0m0.2 119.4h0m0.1 26.6h0m0.1-144.1h0m0 1.9h0m0.1-27.3h0m0.1 143h0m0.1 5.9h0m0 39.2h0m0.1-20.8h0m0.1-140.3h0m0.1-10.5h0m0.1 155.7h0m0.3-176.3h0m0 29.3h0m0.1 116.6h0m0 6.9h0m0.1-173.7h0m0.2 24h0m0.1 180.5h0m0-151.3h0m0.1-7.1h0m0 148.1h0m0-3.4h0m0.1-138.2h0m0-23.4h0m0.1 158.5h0m0-162.2h0m0.2 153.4h0m0 9.4h0m0.1-2h0m0 26.4h0m0.1-186h0m0.1 149.6h0m0.2 0.7h0m0.1 32h0m0 17.1h0m0.1-210.4h0m0.1 200.6h0m0-43.4h0m0.1-123.6h0m0 154.5h0m0.1-168.3h0m0-28.2h0m0.1 32.3h0m0.1 161.1h0m0.1-34.1h0m0.1 4.8h0m0.2 7.2h0m0-136.4h0m0.1-17.7h0m0-53h0m0 239.2h0m0.2 17.1h0m0-57.1h0m0 29.9h0m0.2-12.7h0m0-18.7h0m0 19h0m0-140.3h0m0.1-11.7h0m0-6.8h0m0.1 2.9h0m0.1 138.4h0m0.1-140.6h0m0 3.3h0m0 139h0m0 3.7h0m0.2-2.8h0m0-5.2h0m0.1-113.3h0m0-3.6h0m0-31.9h0m0.2-4.2h0m0.1 28h0m0 125.9h0m0.1 5.8h0m0.2-139.4h0m0.1 6.5h0m0.2 3.9h0m0.1 147h0m0-22.4h0m0-118.9h0m0-10.6h0m0.2 13.4h0m0 130.2h0m0.1-17h0m0.2-133.2h0m0 13.9h0m0.1-34h0m0.1 172.2h0m0.1-141.7h0m0 121.8h0m0.1-122.9h0m0 6.9h0m0 123.7h0m0.1 18.6h0m0-22.3h0m0-118h0m0.1 1.8h0m0-16.3h0m0.1 128.4h0m0.8 0h0m0 29.4h0m0 16.9h0m0.1-161.4h0m0.1 3.6h0m0.4 122h0m0 43.5h0m0.1-50.6h0m0.2-129h0m0 129.5h0m0.1-129.5h0m0.1 130.1h0m0.1 2.3h0m0-121.5h0m0.1 135.4h0m0-11.3h0m0.1 11.9h0m0-19.8h0m0.1-113.5h0m0.2 151.1h0m0.1-156.2h0m0.1 118h0m0.2 12.6h0m0-144.8h0m0 134.3h0m0.1 7.8h0m0-130.3h0m0 124h0m0.1 7.3h0m0.3-124.4h0m0.7 129.1h0m0.1-130.8h0m0 3.6h0m0-69.4h0m0.2 193.6h0m0.2 1.1h0m0.2-127.7h0m0.2-5h0m0 136.8h0m0-17.4h0m0.2-1h0m0.5-114.6h0m0.3 114.8h0m0.2-114.2h0m0.4 129.4h0m0-153.2h0m0 18.1h0m0.2 127.7h0m0-125.7h0m0.1 142.3h0m0-24h0m0.1-140.1h0m0.1 18.1h0m0-8.8h0m0.3 147h0m0.1-155.1h0m0 149.5h0m0.2 3.1h0m0.1 15.7h0m0.2-28.7h0m0.2-176.3h0m0 182.1h0m0.1 4.9h0m0.1 8.1h0m0.1-6.5h0m0-148.6h0m0.1 4.6h0m0 10.6h0m0.1 140.4h0m0.2-133.1h0m0.1 114.5h0m0.2-0.2h0m0.2-132.3h0m0.1-20h0m0.1 166.8h0m0-169.6h0m0.1 30.5h0m0.1 139.6h0m0-140.6h0m0 165.7h0m0.1-5.7h0m0.1-147.9h0m0.1-10.2h0m0.2 140.6h0m0.2 17.9h0m0-153h0m0 1.4h0m0.1 116.1h0m0.1-142.8h0m0.1 177.2h0m0.1-161.5h0m0.1 8.5h0m0.1 121.1h0m0.2-116.3h0m0.4 179.2h0m0-46.7h0m0-136.9h0m0-3.3h0m0.1 7.3h0m0-18.2h0m0.2 12.1h0m0.2 137.1h0m0.1-143.1h0m0.2 13.8h0m0.1-3.9h0m0.1-23.3h0m0 158.9h0m0.1-11h0m0.1 38.5h0m0.2-174.1h0m0.1 133.4h0m0-166.6h0m0.2 37.4h0m0-3.5h0m0.3 143.8h0m0.1-14.9h0m0.1 5.7h0m0.2-133.4h0m0.2 126.8h0m0 1h0m0.1-3.9h0m0.2-115.2h0m0.1 131.6h0m0.1-12.7h0m0 4.3h0m0.1-7.9h0m0.1-111.4h0m0.1-5.3h0m0 7.4h0m0 164.8h0m0.1-49.8h0m0.1-130.1h0m0.2 134.7h0m0-139.7h0m0 19.7h0m0.3 141.2h0m0-149.1h0m0.2 124.9h0m0.2-6.6h0m0-126.8h0m0 13.6h0m0.1 113h0m0 7.9h0m0.3-125.8h0m0 7.8h0m0.3 120.4h0m0.2-131.7h0m0 9.1h0m0.1 126.2h0m0.1-130.5h0m0 125.9h0m0.2 1.2h0m0.1-1.7h0m0-127.5h0m0-25.1h0m0 191.1h0m0.3-181.9h0m0.2-41.7h0m0 62.7h0m0.1 141.9h0m0.1 7.3h0m0-166.3h0m0.3-33.1h0m0.1 33.5h0m0 147.6h0m0.2-187.7h0m0 169.6h0m0.2-117.3h0m0 117.5h0m0.2 24.1h0m0.1-188.7h0m0.2 180.5h0m0.7-132.1h0m0-0.3h0m0.1 134h0m0.6-126.3h0m0.2 151.2h0m0-26.9h0m0.1-5.8h0m0.1-134.2h0m0.1 7.4h0m0 118.7h0m0-133.2h0m0.1 159.7h0m0-197.5h0m0.1 38.6h0m0.1 195.1h0m0-30.4h0m0.1-197.1h0m0.1 38.9h0m0.1 11.2h0m0.1 141.2h0m0.1 8.2h0m0.3-146.6h0m0.2-13.4h0m0.1 6.5h0m0.1 124.4h0m0.1-134h0m0.2 160.8h0m0.1-12.9h0m0.1-135.1h0m0.1-2.9h0m0 130.5h0m0.5-14h0m0 22.9h0m0.5-146.1h0m0.1-7.8h0m0.1 23.2h0m0.1-8.5h0m0 116.9h0m0.2 74.8h0m0-71.2h0m0.6-118.5h0m0 3.8h0m0.1 3.4h0m0.1-15.8h0m0 137.9h0m0.1-166.3h0m0.2 29.3h0m0 141.8h0m0-11h0m0.2-118.5h0m0-17.2h0m0.1 140.3h0m0.1-0.5h0m0.1-177h0m0.1 185.5h0m0.1-4.6h0m0-135.1h0m0.1 121h0m0 0.8h0m0.2 15.7h0m0.4-4.8h0m0 20.3h0m0.2-22h0m0.3-143.7h0m0 148.9h0m0.3-3.8h0m0-152.1h0m0.3 165.6h0m0.1 1.1h0m0.1-161h0m0.1 135.6h0m0.1 6.5h0m0.1-117.2h0m0.1 158.1h0m0.1-160.6h0m0 146.8h0m0.2-27.6h0m0 1.1h0m0.2 6.2h0m0.1-133.6h0m0.3-16.3h0m0 144.6h0m0.4 10h0m0-135.6h0m0.1-17.9h0m0.1 8.6h0m0.1-10.1h0m0-9.2h0m0.2 150.5h0m0.1 8.8h0m0.4-12.6h0m0.1 1.1h0m0.1-131.2h0m0.3 126.7h0m0.1 3.9h0m0-123.6h0m0.1 9h0m0.1 110.6h0m0.1-108.2h0m0.1 117.9h0m0-141.1h0m0.3 140.8h0m0.2-145.6h0m0.1 166h0m0.3-19.5h0m0 5.6h0m0.1-173.3h0m0.2 163.1h0m0.2 6.1h0m0.1 8.8h0m0-10.2h0m0.1 15.9h0m0.2-154.2h0m0.1 16.7h0m0 141h0m0.3-141.8h0m0.2 3.8h0m0-7.7h0m0 126h0m0.2-122.1h0m0.2-8.1h0m0 123.2h0m0.2 5.5h0m0.1-135.4h0m0 7.5h0m0.1 128.9h0m0-2.6h0m0 5.9h0m0.1-8.9h0m0.1 3.7h0m0 1.2h0m0 17h0m0.1 1.2h0m0.1-138.5h0m0.2 115.8h0m0 5.6h0m0.2-120.6h0m0.1-25.2h0m0.2 158.6h0m0.1-132.1h0m0.1 123.5h0m0-2.7h0m0.2-5.7h0m0-133.9h0m0.1 0.3h0m0.3 9.3h0m0 6.6h0m0.1 116.5h0m0.1-163.5h0m0 158.1h0m0.1 16.9h0m0 6h0m0.1-4.2h0m0.5-142.8h0m0.1 149.9h0m0.1-136h0m0.1 113.9h0m0.1-137.3h0m0 8.5h0m0.1 4h0m0.1 134.7h0m0-134.2h0m0.1-23.4h0m0.3 145.6h0m0.1-127.5h0m0.2 125.9h0m0.1 28h0m0-15.5h0m0 17.3h0m0-18.6h0m0.4-11.1h0m0.2 13.6h0m0-127.2h0m0.2 125.8h0m0 0.1h0m0.2-160.5h0m0 38.6h0m0.4-4.7h0m0.1-9.1h0m0 11.1h0m0.1-11.8h0m0 155h0m0.1-142.8h0m0.2 4.6h0m0.2-18.6h0m0 135.4h0m0.1 3.9h0m0.1-119.3h0m0.1-35.9h0m0 23.5h0m0.1-21.9h0m0.2 32.6h0m0.1 114.6h0m0.3-6.5h0m0.1-127.6h0m0 10h0m0.1-11h0m0.1 133.6h0m0-113.5h0m0.1-4.7h0m0.1 117.2h0m0.1-2.3h0m0 19.6h0m0.1-12.7h0m0.1-149.9h0m0.1 27.4h0m0.2 1.9h0m0 5.2h0m0.2-1.5h0m0 118.7h0m0.1-123.2h0m0.1 116.9h0m0-120.8h0m0.1 11.6h0m0.1-13.2h0m0.5 117.4h0m0.3 54.1h0m0-178.3h0m0.1 8.8h0m0.2-1.8h0m0.1-36.7h0m0 46.4h0m0.1 110.5h0m0 5.8h0m0 4.3h0m0.1-151.8h0m0.1 146.1h0m0.3-117h0m0 142.3h0m0.1-139.4h0m0 115.4h0m0.1-112.8h0m0.1-19.3h0m0.1 20.1h0m0.2-17h0m0.2 14.1h0m0.1 115.5h0m0.1-122.6h0m0 5.8h0m0.3-20.6h0m0.1 160.1h0m0.1-18.4h0m0-7h0m0.1 12.8h0m0 12h0m0.1-135.2h0m0.1 122.5h0m0.1-7.6h0m0.1-124.7h0m0.2-24.4h0m0 35.6h0m0.1-9.2h0m0-5.2h0m0 144.1h0m0.1-130h0m0-68.7h0m0.1 11.5h0m0 199.7h0m0.1-158.6h0m0.3 148.7h0m0.2-154h0m0 21.9h0m0.2-11.8h0m0.1-6.4h0m0 133.7h0m0.1-121.9h0m0.1-30.3h0m0.1 146.7h0m0.1-115.6h0m0 124.3h0m0.2 2.1h0m0.2-128.6h0m0.1 111h0m0.1-0.4h0m0.1-109.1h0m0.1 124.9h0m0.1-14.2h0m0.2-130.7h0m0.1 3.1h0m0 158.5h0m0.2-20.3h0m0 4.7h0m0.1-132.3h0m0 115.4h0m0.2-141.3h0m0.1 142.4h0m0 3.4h0m0.2 0.2h0m0.1-110.8h0m0-39.3h0m0.1 168.5h0m0-13.2h0m0 7.4h0m0-121.6h0m0 128.3h0m0.1 21.9h0m0-29.1h0m0.2-4.7h0m0-123.1h0m0.1-12.3h0m0.1 124.6h0m0.1-111.2h0m0.1 113.3h0m0-159.1h0m0.1 162.8h0m0.1 43.3h0m0-5.3h0m0.1-157.7h0m0.2 9.1h0m0 108.9h0m0 0h0m0.1 16h0m0.2-132.8h0m0.1-6h0m0.3 121.5h0m0.1-113.5h0m0.2-2.5h0m0 128.7h0m0.1-8.4h0m0.1-2.5h0m0-123.3h0m0.1 122.2h0m0 17h0m0.1-13.3h0m0-125.2h0m0.2 127.2h0m0 0.4h0m0.1 7.1h0m0-129h0m0.1 112.3h0m0.1 16.3h0m0.2-160.7h0m0.1 162.7h0m0.3-122.7h0m0-4.7h0m0.2 155.5h0m0.1-157.4h0m0.1 125.1h0m0.1-117.6h0m0.3 123.4h0m0-123.1h0m0 126.2h0m0.2-131h0m0.1-14.3h0m0.1 1.3h0m0.2 13.6h0m0.1-5.9h0m0 171.7h0m0.1-25.5h0m0 6.9h0m0.1-142.8h0m0.1 0.3h0m0.2 148.1h0m0.3-29.2h0m0.1-6.6h0m0.1-1.5h0m0 15.2h0m0.1-19.7h0m0.2-139h0m0 31.7h0m0 131.3h0m0.1-186.2h0m0.2-28.2h0m0.2 48.6h0m0.2 137.3h0m0.1 65.1h0m0.1-176h0m0.3 0.1h0m0 118.2h0m0.3-133.7h0m0.1 158.3h0m0-141.2h0m0.1 6.2h0m0.1-5.9h0m0 129.3h0m0.1-124h0m0-18.6h0m0.1 145.1h0m0-134.5h0m0 7.5h0m0.2 144.5h0m0-21.5h0m0.1-156.6h0m0.2 24.1h0m0 3.7h0m0.2-2.5h0m0.1 122h0m0.1 27.4h0m0.1-16.1h0m0.1-9h0m0.1-10.2h0m0 16.2h0m0.1-11.9h0m0.1-115.7h0m0.2 4.1h0m0.1 129.7h0m0.2-22.7h0m0-190.1h0m0.1 84.5h0m0-5.3h0m0.1 4.2h0m0-20.6h0m0.1 13.9h0m0.1 139.8h0m0.1-129.2h0m0 157.9h0m0-179.8h0m0.1 19.8h0m0 1.8h0m0.1 157.8h0m0.1-228.9h0m0 71.9h0m0.1-17h0m0.1 126.6h0m0.3 3h0m0-7.2h0m0-112.6h0m0.1 109.5h0m0.2 36.5h0m0-147.8h0m0 112.5h0m0.4-116.2h0m0.1 163.8h0m0-8.9h0m0-23.5h0m0.2-140.1h0m0 170.2h0m0.2-34.4h0m0-6.5h0m0.1 12.7h0m0-19.2h0m0.1 18.1h0m0-131.4h0m0.2 12.2h0m0-15.4h0m0.2 114.7h0m0.1 5.8h0m0 9h0m0.1-117.5h0m0 109.7h0m0.2-3.1h0m0-129h0m0.2 13h0m0 12.6h0m0.1-9.5h0m0.2-40.4h0m0.1 163.2h0m0.1-122.5h0m0.1 146h0m0.1 4.6h0m0-32.7h0m0.1 4.2h0m0 9h0m0.3-2.5h0m0-13.7h0m0.1 8.4h0m0.2-133.3h0m0.1 15.2h0m0.1 137.9h0m0-29.2h0m0.1 8.6h0m0-10h0m0.1-104.8h0m0.3 138.6h0m0-141.3h0m0.1 105.9h0m0.1-113.5h0m0.1-1.9h0m0.5 11.7h0m0.2-13.5h0m0 4.7h0m0-2h0m0-30.8h0m0.1 165.9h0m0.1-138.6h0m0.1-26.7h0m0.1 163.1h0m0.2-130.8h0m0.1-3h0m0.1 125h0m0-8h0m0.3 0.5h0m0 4.6h0m0.1 15.3h0m0.1-13.3h0m0.1-131h0m0.1 16.3h0m0.1 103.9h0m0 27.8h0m0.1-26.4h0m0.1-113.8h0m0 9.7h0m0.4-3.2h0m0 126.3h0m0-142.2h0m0.1 125.3h0m0.1 11.8h0m0.1-1.7h0m0.1-13.3h0m0.2 5.7h0m0-4.2h0m0.1-105.4h0m0 5h0m0.1-9.7h0m0.1-0.4h0m0 116.6h0m0.4-3.8h0m0.2-113.8h0m0 0.7h0m0 111.6h0m0.1-118.6h0m0.1 121.5h0m0 22.6h0m0.1-25.9h0m0 19.4h0m0.3-139.6h0m0-3.5h0m0.1 122.4h0m0.2 20.6h0m0-122.1h0m0.1 107.8h0m0.1 39h0m0.1-144.6h0m0.1 99.7h0m0.1-1.5h0m0.1-126.9h0m0.1 126.9h0m0.1-0.4h0m0.1 34.4h0m0.1-18.4h0m0.1-14.4h0m0.1-113.3h0m0-18h0m0.1 151.3h0m0-17h0m0 25.3h0m0.2-130.2h0m0-9.1h0m0 117.8h0m0.1-165.9h0m0.1 25.5h0m0.4-6.2h0m0 20.1h0m0 12h0m0.1 113.1h0m0.3-144.4h0m0.1 166.4h0m0.1-19.1h0m0-9.7h0m0.1-107.1h0m0.2 133.1h0m0-125.3h0m0.3 103h0m0.1 18.3h0m0.1-16.6h0m0-5.7h0m0.1-101.6h0m0.1-4.1h0m0.2 117.3h0m0-145.8h0m0.2 33h0m0.1-6.1h0m0.1-14.1h0m0.1 138.7h0m0.3-114.2h0m0.4 118.8h0m0.2-124.3h0m0.2 4.6h0m0.1 107.7h0m0.1-2.3h0m0.3 2.1h0m0-113.5h0m0-2.7h0m0.1-0.2h0m0 109.1h0m0 2.7h0m0.1 45.7h0m0-16.1h0m0.1-28.5h0m0.1 0.6h0m0 9h0m0.3-129.7h0m0 6.8h0m0.2-12.6h0m0.1 145.6h0m0.1-12h0m0.1-13.8h0m0-98h0m0.1 116.7h0m0 3.7h0m0.1-128.2h0m0.1 8.2h0m0.3 0.5h0m0.1 0.6h0m0.2 144.4h0m0-146.5h0m0.1-1.9h0m0.1-21.3h0m0.1 138.6h0m0.1-14.6h0m0-101.4h0m0.2-0.6h0m0.4-6.5h0m0 130.6h0m0.1-22.8h0m0.4 5.4h0m0.1-105.4h0m0 99.7h0m0.2-116.1h0m0.1 12.9h0m0.1 119.2h0m0.2-114.6h0m0.4 110.4h0m0.1-123.2h0m0.2 123.9h0m0-123.5h0m0.2 6.9h0m0.1 4.2h0m0.1 117.6h0m0-16.4h0m0-109.8h0m0 108.8h0m0.2-101.1h0m0 160.9h0m0.1-170h0m0.1 108.8h0m0.4 14.9h0m0.1-116.1h0m0.2-0.1h0m0.1 109h0m0.5-108.9h0m0.2-3.4h0m0.1 0.1h0m0 106.3h0m0.3-113.3h0m0.1 6.9h0m0 104.7h0m0.3-112.9h0m0.1 10h0m0 106.6h0m0.1-1.5h0m0.1 23.3h0m0.1-1.1h0m0.1-17.7h0m0.1-128.5h0m0.1 146h0m0-143h0m0 17.6h0m0.1-4.6h0m0 130.9h0m0.1-15.5h0m0.1 20h0m0-126.3h0m0 130.9h0m0.1-155.3h0m0.2 23.1h0m0.1-3.6h0m0.2 130.2h0m0.1-3.8h0m0-139.6h0m0 123.1h0m0.1-131.1h0m0 23.5h0m0-7.5h0m0.3 3.7h0m0-9.1h0m0 164.4h0m0.2-160.2h0m0.1-9.1h0m0 123.1h0m0.1-113.6h0m0.1 115.8h0m0.1-104.5h0m0.1-14.9h0m0.1 134.1h0m0.1-149.8h0m0.1 8.7h0m0.1 12.5h0m0 106.1h0m0 5h0m0.2-1.6h0m0.2-1.7h0m0 1.4h0m0.1-110.5h0m0.1 106.9h0m0.3-107.7h0m0.2-21.8h0m0.1 24.5h0m0.1 164.3h0m0.1-33.7h0m0.1-122h0m0.1 96.1h0m0.1 12.8h0m0.1-109.8h0m0 112h0m0.1-11.2h0m0-110.3h0m0 106.7h0m0.1-95.5h0m0.1-5.7h0m0.2-9.6h0m0.1 128.4h0m0-17.9h0m0 3.8h0m0.2-109.2h0m0.1 118.9h0m0-5.1h0m0.1-111.1h0m0 118h0m0.1-130.2h0m0.2 145.1h0m0.1-153.6h0m0.1 133.5h0m0.1-127.1h0m0.1-3.6h0m0.1 21.7h0m0 1h0m0 119.8h0m0.2-129.7h0m0 4.4h0m0 119.6h0m0.1-0.6h0m0-115h0m0.1 107.2h0m0.1 12.6h0m0.2-21.1h0m0.2 5.3h0m0-1.1h0m0.1-112.5h0m0 12.5h0m0.2-15.8h0m0 11.5h0m0.1 125.9h0m0.1 11.7h0m0-35.1h0m0.1 2.8h0m0.2-117.8h0m0.1 16h0m0-15.9h0m0.1 136.5h0m0.1-134.1h0m0.2 8.6h0m0.7 1.1h0m0-27.9h0m0.2 27.8h0m0 107.1h0m0.1-5.4h0m0.3 14.2h0m0.2-7.5h0m0 1h0m0.1-8.1h0m0.1-103.2h0m0.3 5.9h0m0-1.2h0m0.1 99.3h0m0 2.5h0m0.3-133.4h0m0.1 146.5h0m0-17.5h0m0.1 21.4h0m0.2-21.1h0m0.2-107.6h0m0 0.5h0m0.1 11.3h0m0.3 119.4h0m0-120.7h0m0.1 100.1h0m0.2 14.6h0m0.2-15.1h0m0-115.9h0m0 129.6h0m0.1-128h0m0.3 17.3h0m0.1 0.9h0m0-19h0m0.2 113.4h0m0 1.5h0m0-102.1h0m0.1 100.3h0m0-99.1h0m0.1-2.6h0m0 125.7h0m0.1-12.6h0m0.1 15.9h0m0.2-134.4h0m0.2-28.6h0m0.2 165.6h0m0.1-25.1h0m0 2.8h0m0 4.7h0m0.1-2.8h0m0.1-128.6h0m0 118.1h0m0-121.2h0m0.1 2h0m0 176.4h0m0.1-40.2h0m0.1-13.1h0m0.2 12.5h0m0.3-9.3h0m0.1 35.5h0m0.1-32.6h0m0-142.1h0m0.1 151.6h0m0-17.9h0m0.2-106h0m0.1 113.6h0m0.2-101.9h0m0.1 97.4h0m0.2 10.7h0m0.1-0.7h0m0.1-4h0m0.1-10.3h0m0 1.2h0m0-0.1h0m0.2-140.7h0m0 142.5h0m0.2-120.1h0m0 14.3h0m0.3 131.5h0m0.1-27h0m0-2.1h0m0.3-105.1h0m0.2 7.9h0m0 102.9h0m0.1 19.2h0m0.1-121.9h0m0 109.4h0m0-109.3h0m0.1 103.8h0m0.2-125.7h0m0 134.1h0m0.1-109.3h0m0.2-1.3h0m0.1 109.8h0m0.2-14h0m0.2-105.6h0m0.1 134h0m0-27.4h0m0.2-102.1h0m0.2 101.4h0m0 8.3h0m0-7.2h0m0.2 9.3h0m0.1-151.1h0m0 143.2h0m0.1-3h0m0.1 4.1h0m0 30.3h0m0.2-6.7h0m0.1-9.8h0m0 5.9h0m0-118.5h0m0 103.1h0m0-4.6h0m0.1-1.6h0m0.1-95.5h0m0.1 97.8h0m0 0.7h0m0.1-107.1h0m0.2 101.8h0m0-100.8h0m0.1 6.2h0m0 133.2h0m0.1-163.6h0m0.2 1.4h0m0.1 23.7h0m0.3 113h0m0.1 33.5h0m0.1-29.1h0m0-151.3h0m0 145.3h0m0.2-7.7h0m0.2-119.1h0m0.1 21.8h0m0 124.3h0m0.1-143.8h0m0.2 130.9h0m0 7.2h0m0.2-25h0m0.1-92.1h0m0.2-2.4h0m0.1-10.2h0m0 106.2h0m0.1 2.6h0m0.1 3.6h0m0-2.2h0m0-2.6h0m0-114.3h0m0.1 19.6h0m0 94.7h0m0.3-2.3h0m0.1 7.4h0m0.1-6h0m0-99.1h0m0.1 116.5h0m0.1-20.1h0m0.1 38.7h0m0-34.9h0m0.1-0.1h0m0-100.8h0m0.1 113.2h0m0 20.8h0m0.1-36.7h0m0.1-102.9h0m0 9.4h0m0-21.5h0m0.1 142.5h0m0-0.8h0m0.1-140.2h0m0.1-26.7h0m0.1 32.6h0m0.1-13.7h0m0.3-5.4h0m0.4 33.7h0m0 113.1h0m0.2-15.9h0m0.1 61.8h0m0.1-49.2h0m0.1-6.9h0m0.1-7.8h0m0.2-120.1h0m0.3 125.8h0m0.2 9.6h0m0.2-134.7h0m0 117.2h0m0 10h0m0.1 3.2h0m0.1-9.1h0m0-114.1h0m0.1 2.9h0m0 142.5h0m0-30.1h0m0.1-116.9h0m0.2 111.9h0m0.2 1.3h0m0.1-98.5h0m0.1 105.9h0m0.1 16.2h0m0-24.6h0m0.1 11.1h0m0.1-102.5h0m0.3 93.6h0m0 1.9h0m0.1-100.6h0m0.4 97h0m0-101.4h0m0-19.7h0m0.1 130.1h0m0-10.3h0m0.1-91.7h0m0.3-21.4h0m0.2 169.9h0m0.2-148h0m0-2.7h0m0 3.7h0m0.1 90.7h0m0-92.5h0m0-6h0m0.1 6h0m0 116.8h0m0.1-132.5h0m0.1 121.2h0m0.3 21.7h0m0.1-129.2h0m0.2-0.9h0m0.1 5.1h0m0.1 91.4h0m0.2 9.2h0m0.1 11.5h0m0.2-113.4h0m0.3-14.6h0m0-2h0m0.1 14.7h0m0 92.7h0m0.1 2.9h0m0 19.1h0m0-22h0m0.1-112.1h0m0.4 142.7h0m0-139.7h0m0.1 116.6h0m0 2.4h0m0.1 2.4h0m0.1-108.2h0m0 4.9h0m0.2 106.3h0m0.1-127.7h0m0.2 118.3h0m0.1-2.7h0m0.1-105h0m0 124.6h0m0.1-115.1h0m0.1 100h0m0-102.2h0m0.1 108.7h0m0 5.5h0m0-4.7h0m0.1-108.7h0m0.3 1h0m0.2 1.2h0m0.1-14.6h0m0.2 12.3h0m0.2 102.7h0m0.1 13.3h0m0-111.4h0m0-0.2h0m0.1-0.9h0m0.3 0h0m0 108.6h0m0.2-110.5h0m0.1 3.1h0m0-1.2h0m0.2-6.2h0m0 98.4h0m0.1-92.4h0m0.2-16h0m0.1 6.2h0m0.1 10.2h0m0.1 101.7h0m0.1 6.8h0m0-18.5h0m0.1 6.6h0m0.1-96.8h0m0.2 91.5h0m0-106.3h0m0.1 10.8h0m0.1 2.3h0m0 109.8h0m0.1-107.2h0m0.1-10.9h0m0.2 9.2h0m0.2 128.3h0m0.1-131.1h0m0.2-17.4h0m0 123.9h0m0.1-7h0m0.2-5.2h0m0.1-96.8h0m0.1 4h0m0.1-5.4h0m0.1-0.7h0m0.1 0.9h0m0.2 129.8h0m0-29.6h0m0 22.8h0m0.3-152.2h0m0.1 26.6h0m0 112.6h0m0.2-2h0m0.1-106.9h0m0.3 100h0m0.1 6.4h0m0-4.7h0m0.2 12.3h0m0.3 6.8h0m0-15.7h0m0-103.4h0m0.2 101.6h0m0 27.3h0m0-3.5h0m0.1-23.4h0m0.2-108.6h0m0.1-8h0m0.1 17.2h0m0.1 97.8h0m0.1-94h0m0.1-10.9h0m0.1-18.4h0m0 117.7h0m0.1-95.7h0m0.1-28h0m0 138.1h0m0.2-7.8h0m0.2-105.9h0m0.1-24.9h0m0.4 25.1h0m0.1 119.3h0m0.1-112.9h0m0 106.4h0m0.1-13.6h0m0.1-114.7h0m0.1 130.5h0m0.3 10.5h0m0.1-121.8h0m0.1 98.1h0m0 8.2h0m0.4-7h0m0.1 11.1h0m0.1-12.7h0m0.3-97.4h0m0.1 3.6h0m0 99.7h0m0.4-112.9h0m0 112.8h0m0-96.3h0m0.1 114.6h0m0.1-128.2h0m0.1 10.7h0m0.1 92.7h0m0.2 5.6h0m0.1-3.2h0m0.1 1.1h0m0.1-98.5h0m0 100.5h0m0.1 0.4h0m0.1-106.3h0m0 124.8h0m0.1-115.1h0m0.1 111.5h0m0.1-12.5h0m0.3 0.3h0m0.1 6.4h0m0-113.4h0m0.1 103.1h0m0.1 8.2h0m0.1-124.4h0m0.1 116.4h0m0.2-94.5h0m0.2 88h0m0 7.6h0m0.1 65h0m0.2-166.1h0m0.1 94.2h0m0-99.8h0m0.2 103.7h0m0.1-104.4h0m0 8h0m0-16.6h0m0-5.2h0m0.1 130h0m0.1-111.5h0m0.1 100h0m0 5.5h0m0.1-135.8h0m0 129.7h0m0-108.1h0m0.1 105.3h0m0.7 9.9h0m0-113.6h0m0 111.2h0m0.2-104h0m0 186.6h0m0-61.8h0m0.2-29h0m0.2-107.9h0m0.2 109.3h0m0.2 5.4h0m0.1 14.4h0m0.5-110.4h0m0.1 87.9h0m0.1 1.8h0m0.1 4.7h0m0.1-99.6h0m0.2 96h0m0-117h0m0.1 121.6h0m0-7h0m0.2-94.6h0m0-3.6h0m0.1 7.7h0m0.2 135.1h0m0-29.4h0m0.1-124h0m0.1 120.2h0m0-0.6h0m0.1 15.2h0m0.1-112.8h0m0 152h0m0-52.5h0m0.1 6.2h0m0.1 3.9h0m0-115.6h0m0 104.4h0m0.1-130.2h0m0.1 23.3h0m0.1 103.6h0m0-101.8h0m0 100.9h0m0.1 6.1h0m0-116.9h0m0.1 110.5h0m0-0.9h0m0.1 0.4h0m0.1-109.8h0m0.1 120.7h0m0.1 13.9h0m0-119h0m0.3-8.2h0m0.1-8.9h0m0 115.9h0m0.1 46.7h0m0.1-147.6h0m0-15.4h0m0 112.4h0m0-3h0m0.1-1.2h0m0 0.1h0m0 1.3h0m0.1-99.1h0m0.3-21.3h0m0.1 125.8h0m0.1-100.3h0m0.1 94.9h0m0 10.4h0m0-0.9h0m0.1-108.9h0m0.1 111.6h0m0.1-119.2h0m0.2 12.6h0m0.2 107.2h0m0-106.5h0m0.2 98.2h0m0.1-2.7h0m0.1-97.6h0m0.1 4.5h0m0.1 89.4h0m0.1 13.4h0m0.2-15.4h0m0.2 11.9h0m0 7h0m0.3 19.7h0m0-133h0m0.2 103.3h0m0.4 0h0m0 32.4h0m0.1-30h0m0.2-118.1h0m0.1 112.5h0m0.1 11.2h0m0.1-131.4h0m0 124.9h0m0.1 1h0m0.1-100.7h0m0.1 98.6h0m0.1-100.1h0m0.3 112.2h0m0.1-13.8h0m0-104.8h0m0.1 100.2h0m0.4-91.8h0m0 1.1h0m0 0.4h0m0.2-7.7h0m0.1-14.8h0m0.2 1.1h0m0 153.7h0m0-22.8h0m0.1-13.4h0m0.1-7.2h0m0.1-2.8h0m0 22.7h0m0.1-119.5h0m0 102.4h0m0.1-94h0m0-38.1h0m0 19.1h0m0.2 114.2h0m0-100h0m0.1-3.3h0m0-2.1h0m0 98.5h0m0 8.7h0m0.1-116.4h0m0 124.3h0m0.1-111.6h0m0 5.7h0m0 94.6h0m0 13.1h0m0.1-104.1h0m0-15.4h0m0.1 107.8h0m0.1 47.9h0m0.2-41.4h0m0.3-103.3h0m0.1 94.1h0m0.1-4.1h0m0 12.1h0m0 1.5h0m0.1 10.1h0m0-127.6h0m0 7.5h0m0.1 97.5h0m0.1-95.2h0m0.1 120h0m0.1-23.5h0m0.1-92.6h0m0.1-27.6h0m0 118.3h0m0.1 35.6h0m0.2-32.8h0m0.1-106.8h0m0.1 109.8h0m0.1-114.7h0m0.3 110.8h0m0-110.3h0m0.1 142.8h0m0.1-121.4h0m0.1 90.7h0m0.1-101h0m0 104.5h0m0.1-94.7h0m0-42.1h0m0.2 33.1h0m0.2-29.9h0m0.1 39.1h0m0.1 0.6h0m0.1 91.5h0m0.3 7.5h0m0.2-4h0m0.1 3.3h0m0.2-5.5h0m0 9.5h0m0-114.1h0m0 8.2h0m0.1 108.5h0m0-7.6h0m0.1-107.6h0m0.2-13.9h0m0.1 25.8h0m0-6.2h0m0.3-1.8h0m0.3 99.5h0m0.5 19.5h0m0.1-13.5h0m0.1-99.2h0m0.1-34.2h0m0 151.4h0m0.3-16.8h0m0.1-108h0m0 129.2h0m0.1-151.5h0m0 121.2h0m0-96.4h0m0.1 120.6h0m0 12.7h0m0.1-150.1h0m0.1 20.8h0m0.4 90h0m0-0.4h0m0.2 11h0m0 4.6h0m0.1-115.7h0m0.1 6.4h0m0 6.8h0m0.2-0.6h0m0 93.9h0m0.1-102.4h0m0.2-6.5h0m0 7h0m0.3-3.2h0m0-0.2h0m0 108.9h0m0.1 10.5h0m0 2.7h0m0.1-13.3h0m0.1-107.6h0m0 129.2h0m0.3-130.5h0m0.1 97.4h0m0.2 5.9h0m0-106.8h0m0.1 112h0m0-97.7h0m0.1 87h0m0 28h0m0.1-120h0m0.2-7.9h0m0.1 8h0m0.5 7.6h0m0-25.6h0m0.1 145.8h0m0-25.8h0m0.2-9.9h0m0.1-103.5h0m0.1 7.7h0m0 116.9h0m0.1-23h0m0-83.5h0m0.4 101.9h0m0-13.1h0m0-93h0m0.2-6.9h0m0-5.4h0m0.5 107.4h0m0.1 13h0m0.1-125.3h0m0 11.6h0m0.1 134.9h0m0.1-38.3h0m0.2 7.7h0m0 13.2h0m0-17.8h0m0.1 70.6h0m0.1-166.9h0m0 119.4h0m0-19.9h0m0.2 0.8h0m0.1-123h0m0 129.7h0m0.2 9.8h0m0.1-120.4h0m0.1 2.6h0m0-16h0m0.2 115h0m0.2 8.4h0m0-13.5h0m0.1 31.7h0m0-17.7h0m0.1-109.6h0m0.1 99.6h0m0-92.3h0m0.2 96.6h0m0.1-7.1h0m0.2-98.1h0m0.1-8.1h0m0.1 103.1h0m0.1 0.4h0m0 5.2h0m0.1-6.9h0m0.2-82.2h0m0.1-1h0m0 110.7h0m0-116.6h0m0.2-31.5h0m0.1-5.6h0m0 147.7h0m0.1-10.2h0m0.1 2.1h0m0-110h0m0.1 97h0m0.1 3.4h0m0.1-99.1h0m0 99.3h0m0.3 14.3h0m0-6.2h0m0.1-95.6h0m0 96.3h0m0.1 6.9h0m0.2 24.9h0m0.1-133.3h0m0 93.5h0m0.1-93.1h0m0.1 94.2h0m0.2-114.6h0m0.2 116.7h0m0-91.2h0m0.2-12.2h0m0 108.3h0m0.5-8.4h0m0.2 2.5h0m0.1 3.7h0m0.6-93h0m0 85h0m0.2-92.7h0m0 97.3h0m0.2-3.4h0m0.2-139.4h0m0.2 150.2h0m0-8.5h0m0.1-106.5h0m0.1 9.6h0m0.1 97.3h0m0.2-109.4h0m0 111h0m0.1-93.5h0m0 88.8h0m0-103.7h0m0 9.8h0m0.2 130.7h0m0.2-32.9h0m0.1-5.6h0m0-121.2h0m0.1 122.6h0m0-92.8h0m0.2 101.5h0m0.1-93.4h0m0.1 112.2h0m0-3.4h0m0.1 14.6h0m0-36.3h0m0.1 15.7h0m0-20.9h0m0.1 8h0m0.2-111.7h0m0.3 105h0m0 1h0m0.1 5.8h0m0.1-6.4h0m0.2-117.9h0m0.2 30.2h0m0 2.7h0m0.2-16.2h0m0 114.7h0m0.1-1.4h0m0-13.8h0m0 3.6h0m0-3.3h0m0 14.4h0m0.3 1.4h0m0.1-107.4h0m0-0.2h0m0.1-7.5h0m0-10.1h0m0 18.9h0m0.1 1.8h0m0.1-12.3h0m0.1-2.8h0m0 115.5h0m0.2-111.2h0m0 133.3h0m0-146.8h0m0.2 123.2h0m0-116.7h0m0.1 116.7h0m0-107.7h0m0.1 3.4h0m0.1 96.8h0m0.3-85.8h0m0 105.9h0m0.2-7.8h0m0-5.8h0m0.2-9.3h0m0.3 24.1h0m0-110.6h0m0 101.8h0m0.1-104.6h0m0 142.9h0m0-28.8h0m0.2-117.1h0m0.5 99.2h0m0.1 15.8h0m0-128.2h0m0.1 9.2h0m0 14.7h0m0.2 83.9h0m0.1-0.5h0m0.1-2h0m0.4-81.3h0m0.1 105h0m0.1-21.4h0m0 11.6h0m0-2.2h0m0.2-12.6h0m0 13.8h0m0.1-114.3h0m0 109.3h0m0.2-5.1h0m0.3-1.2h0m0-106.5h0m0 107.5h0m0.1 1.2h0m0-100.7h0m0.1 100h0m0 11.4h0m0.2-9.8h0m0.1-0.5h0m0-92.1h0m0.1 91.1h0m0-98.9h0m0.1 15.1h0m0.1 99.1h0m0.1-8.6h0m0.3-0.2h0m0-90h0m0.3 84h0m0 7.3h0m0-117.3h0m0.2 109.5h0m0.2-84.3h0m0.4-9.9h0m0.1 7.9h0m0.2 89.2h0m0.3-2.7h0m0-97h0m0.3 97.5h0m0 1.6h0m0.1-3.8h0m0-99.3h0m0 13.4h0m0.1 87.5h0m0.1-2.6h0m0.1 27.5h0m0-27h0m0.1 3.6h0m0.1-4.2h0m0.1 9.3h0m0-105.9h0m0.1 14.4h0m0.2 82.7h0m0.1 11.8h0m0.3-98.8h0m0.1 102.4h0" fill="none" stroke="#1f77b4" stroke-width="5.7" stroke-linecap="round"/>
<path d="M116.5 305.5L117 312.9L117.5 320.8L118 323.7L118.5 325.3L119 327.9L119.5 330.7L120 332.5L120.5 332.8L121 330.5L121.5 329L122 328.7L122.5 328.6L123 327.9L123.5 326.4L124 324.6L124.5 323L125 321.8L125.5 320.3L126 317.8L126.5 315L127 312.6L127.5 311.3L128 312.3L128.5 314.3L129 315.5L129.5 316.7L130 318.2L130.5 319.6L131 317.3L131.5 314L132 311.1L132.5 309.7L133 309.9L133.5 310.8L134 311.8L134.5 311.6L135 311L135.5 310.7L136 310.9L136.5 311L137 309.8L137.5 308L138 306.8L138.5 306.3L139 306.3L139.5 306.1L140 305.6L140.5 304L141 302.8L141.5 302.6L142 302.6L142.5 301L143 297.4L143.5 293.5L144 289.9L144.5 287.5L145 286.7L145.5 287.2L146 289.9L146.5 293.9L147 297.8L147.5 300.3L148 301.6L148.5 304.7L149 308L149.5 311.9L150 316.1L150.5 320.8L151 326L151.5 331.5L152 337.3L152.5 341.4L153 338.8L153.5 336.3L154 333.8L154.5 331.3L155 331.8L155.5 333.8L156 336L156.5 337.9L157 338.9L157.5 338.6L158 338L158.5 336.9L159 335.8L159.5 335.2L160 335.1L160.5 335.1L161 335.2L161.5 334.5L162 331L162.5 326.5L163 321.5L163.5 316.6L164 317.3L164.5 320.5L165 325.3L165.5 331.5L166 336.8L166.5 339L167 338.9L167.5 338.5L168 339.9L168.5 342.6L169 344.3L169.5 345.9L170 348.4L170.5 351.1L171 351.9L171.5 347.9L172 343.4L172.5 338.9L173 334.1L173.5 328.9L174 326.2L174.5 326.6L175 329.2L175.5 332.6L176 334.4L176.5 332.8L177 329.1L177.5 325.8L178 324.3L178.5 323.3L179 321.1L179.5 317.4L180 313.3L180.5 310.1L181 308L181.5 307.7L182 309.8L182.5 313.4L183 316.7L183.5 318.8L184 319.9L184.5 319.6L185 317.5L185.5 314.4L186 312.2L186.5 311.9L187 312.7L187.5 313.3L188 313.5L188.5 313.9L189 314.9L189.5 315.8L190 316.1L190.5 315.5L191 314.5L191.5 313.2L192 311.8L192.5 310.8L193 310.4L193.5 310.6L194 311L194.5 311L195 310.1L195.5 308.9L196 307.5L196.5 306.3L197 306L197.5 307.5L198 309.8L198.5 311L199 310.8L199.5 310.6L200 311.3L200.5 312.1L201 311.6L201.5 310.1L202 309.6L202.5 310.8L203 312.1L203.5 311.1L204 307.9L204.5 304.3L205 302.8L205.5 304L206 306.1L206.5 307.3L207 306.9L207.5 306L208 305.5L208.5 305.8L209 306.3L209.5 306.7L210 306.2L210.5 304.2L211 300.8L211.5 297.2L212 294.9L212.5 294.8L213 296.7L213.5 300.2L214 304.2L214.5 308.2L215 311.9L215.5 315.4L216 318.1L216.5 319L217 317.5L217.5 314.3L218 310.8L218.5 307.6L219 305.1L219.5 303.8L220 304.3L220.5 306.6L221 309.7L221.5 312.3L222 313.5L222.5 313.3L223 312.5L223.5 311.3L224 310.2L224.5 309.9L225 310.6L225.5 311.6L226 312.4L226.5 312.7L227 311.9L227.5 309.9L228 307.8L228.5 306.8L229 306.6L229.5 306L230 305.3L230.5 305.6L231 306.9L231.5 308.3L232 309.6L232.5 311L233 312.4L233.5 313.6L234 314.7L234.5 315.3L235 314.3L235.5 312L236 309.6L236.5 308L237 307.1L237.5 307.1L238 307.5L238.5 308.7L239 310.8L239.5 314L240 317.7L240.5 321L241 322.9L241.5 323.2L242 323.2L242.5 323.5L243 323.7L243.5 322.8L244 320.7L244.5 318L245 315.7L245.5 313.6L246 312.1L246.5 311.6L247 312.3L247.5 314.2L248 316.7L248.5 319.1L249 320.9L249.5 321.3L250 320.7L250.5 320.3L251 321.2L251.5 323.5L252 325.4L252.5 325.7L253 324L253.5 321.9L254 321.4L254.5 323.5L255 326.9L255.5 328.8L256 328L256.5 325.8L257 324.7L257.5 325.3L258 326.9L258.5 328.8L259 330.9L259.5 333.3L260 335L260.5 335.7L261 335.3L261.5 333.8L262 331.7L262.5 330.2L263 330.2L263.5 331.6L264 332.9L264.5 333.3L265 332.6L265.5 331L266 330.1L266.5 330L267 329.3L267.5 327L268 322.9L268.5 317.5L269 311.8L269.5 307.9L270 306.6L270.5 307.6L271 310.4L271.5 315.4L272 322.7L272.5 330.3L273 334.3L273.5 332.6L274 328.1L274.5 325L275 323.2L275.5 319.9L276 315L276.5 311.5L277 310.3L277.5 308.2L278 302.2L278.5 293.9L279 287.1L279.5 284.5L280 286.6L280.5 292.6L281 299.7L281.5 304.6L282 305.7L282.5 303.3L283 299.6L283.5 298L284 300.3L284.5 305L285 309.2L285.5 311.2L286 310.9L286.5 309.3L287 307.7L287.5 307.1L288 307.6L288.5 307.5L289 305.6L289.5 302.4L290 300L290.5 299.2L291 300L291.5 303.2L292 309.4L292.5 317.8L293 326.5L293.5 333.2L294 336.4L294.5 335.3L295 329.9L295.5 321.7L296 313.5L296.5 308.5L297 307.7L297.5 309.3L298 311.1L298.5 313.2L299 317.2L299.5 323.9L300 332.4L300.5 340.1L301 342.8L301.5 338.6L302 329.6L302.5 320.8L303 315.7L303.5 314.9L304 316.7L304.5 318.5L305 318.2L305.5 316.2L306 314.5L306.5 314.6L307 316.8L307.5 320.8L308 324.8L308.5 326.9L309 326.3L309.5 323.1L310 318.6L310.5 314.7L311 313.1L311.5 314.2L312 317.7L312.5 322.6L313 325L313.5 320.3L314 309.6L314.5 300.4L315 299.6L315.5 306.9L316 316.5L316.5 322.8L317 323.8L317.5 321.6L318 319.2L318.5 317.7L319 315.5L319.5 312.3L320 310.5L320.5 312.6L321 318.3L321.5 325.7L322 331.8L322.5 333.7L323 329.4L323.5 319.5L324 307.3L324.5 297.6L325 293.5L325.5 294.2L326 296.8L326.5 299.6L327 302.9L327.5 307.1L328 310.9L328.5 312.4L329 312.5L329.5 314L330 318L330.5 322.6L331 325.5L331.5 324.7L332 320.6L332.5 315.4L333 310.7L333.5 306.2L334 302L334.5 299.7L335 300.8L335.5 303.5L336 303.7L336.5 298.8L337 292.2L337.5 290.4L338 295.8L338.5 304.4L339 310L339.5 309.7L340 305.3L340.5 301.6L341 301.1L341.5 302.9L342 304.4L342.5 305.2L343 307.6L343.5 312.6L344 318.2L344.5 320.6L345 317.3L345.5 308.7L346 297.7L346.5 289.6L347 288.3L347.5 293.5L348 300.4L348.5 305.1L349 307.2L349.5 308.9L350 311.3L350.5 313.8L351 315.8L351.5 317.8L352 320.3L352.5 322.8L353 324.7L353.5 324.7L354 321.9L354.5 317.3L355 314.3L355.5 314.8L356 317.3L356.5 318.3L357 316.9L357.5 315.4L358 315.7L358.5 317.2L359 317.8L359.5 316.7L360 314.8L360.5 313.5L361 313.4L361.5 314.4L362 315.9L362.5 316.6L363 315.1L363.5 311.1L364 306.5L364.5 303.4L365 302.4L365.5 303.8L366 307.5L366.5 311.5L367 313L367.5 311.8L368 311.4L368.5 314.2L369 318.8L369.5 321.1L370 318.8L370.5 314.3L371 312L371.5 313.9L372 318.3L372.5 322.1L373 323.6L373.5 323.1L374 320.3L374.5 314.9L375 308.9L375.5 306.7L376 309.7L376.5 313.5L377 313.3L377.5 309.1L378 303.9L378.5 299.9L379 297.8L379.5 298.4L380 302.3L380.5 308.1L381 312.6L381.5 313.6L382 312.3L382.5 311.7L383 313.1L383.5 316L384 319.6L384.5 323.5L385 326.3L385.5 325.3L386 319.2L386.5 310.3L387 304L387.5 303.9L388 308.3L388.5 313L389 315.8L389.5 317L390 317.1L390.5 315.5L391 312.3L391.5 308.9L392 307.3L392.5 307.6L393 307.2L393.5 304.7L394 301L394.5 298.4L395 297.2L395.5 297.1L396 299.5L396.5 306L397 315.1L397.5 321.5L398 321.1L398.5 314.9L399 307.4L399.5 302.8L400 301.6L400.5 300.8L401 298.6L401.5 296L402 295.2L402.5 297.1L403 301.2L403.5 305.4L404 307.7L404.5 307.5L405 305.6L405.5 303.3L406 300.9L406.5 298L407 293.7L407.5 289.4L408 287.9L408.5 291.5L409 300L409.5 310.7L410 320.6L410.5 327.5L411 329.8L411.5 327.5L412 322.9L412.5 318.9L413 316.5L413.5 315.2L414 315.4L414.5 318L415 322.1L415.5 324.8L416 324.3L416.5 320.7L417 315.5L417.5 311.3L418 309.7L418.5 310.2L419 310.8L419.5 311.1L420 311.9L420.5 312.9L421 312.3L421.5 309L422 303.7L422.5 299.3L423 298.2L423.5 300.8L424 306.4L424.5 312.6L425 316.3L425.5 316.1L426 312.9L426.5 308.7L427 304.9L427.5 301.1L428 297.2L428.5 294.3L429 294.8L429.5 300.1L430 307.7L430.5 313.7L431 317.3L431.5 318.9L432 318.6L432.5 316.5L433 313.6L433.5 310.7L434 307.9L434.5 305.7L435 305.5L435.5 307.8L436 311.1L436.5 313.3L437 313.6L437.5 313.3L438 314.5L438.5 317.1L439 319.7L439.5 321.3L440 321.5L440.5 319.8L441 315.8L441.5 311L442 308L442.5 308.2L443 309.6L443.5 308.8L444 303.3L444.5 295.5L445 290.6L445.5 291.4L446 295.6L446.5 299.6L447 303.4L447.5 309.4L448 316.7L448.5 321.3L449 321.6L449.5 319.7L450 318.3L450.5 318.2L451 318L451.5 316.8L452 314.6L452.5 312.3L453 310.3L453.5 308.6L454 307L454.5 305.2L455 303.6L455.5 303.9L456 307.3L456.5 310.6L457 309.2L457.5 304.3L458 302.1L458.5 305.7L459 312.2L459.5 317.2L460 319L460.5 318.6L461 317.6L461.5 316.9L462 317.2L462.5 318.6L463 319.6L463.5 318.7L464 315L464.5 309.7L465 305.5L465.5 305.3L466 310.9L466.5 321.4L467 332.4L467.5 337.6L468 334L468.5 325.1L469 317.9L469.5 315.8L470 316.2L470.5 315.4L471 313.7L471.5 313.9L472 316.7L472.5 320.8L473 325.2L473.5 329.7L474 332.6L474.5 330.5L475 322.1L475.5 311.3L476 304L476.5 302.8L477 306L477.5 310.1L478 312.2L478.5 311.9L479 310.2L479.5 308.3L480 307.2L480.5 309.2L481 314.9L481.5 321.5L482 324.1L482.5 319.2L483 308.6L483.5 298.1L484 292.7L484.5 292.5L485 295.3L485.5 299.9L486 305.3L486.5 309.1L487 310.6L487.5 311.4L488 312.8L488.5 314.1L489 312.9L489.5 309L490 305.9L490.5 307L491 311.2L491.5 313.9L492 312.5L492.5 309.7L493 309.4L493.5 312.9L494 317.3L494.5 319.3L495 317.2L495.5 311.6L496 305.7L496.5 303.1L497 305L497.5 309.3L498 313.7L498.5 317.6L499 320.8L499.5 322L500 319.7L500.5 314L501 306.5L501.5 300L502 297.9L502.5 302.3L503 311.2L503.5 319L504 321.4L504.5 318.7L505 314.6L505.5 311.7L506 310.9L506.5 312.2L507 315.2L507.5 319.3L508 323.6L508.5 326.6L509 326.1L509.5 321.3L510 314.3L510.5 308.5L511 304.5L511.5 301L512 297.7L512.5 296.4L513 298.6L513.5 304.4L514 311.5L514.5 316.8L515 318.1L515.5 315.2L516 310.5L516.5 307.5L517 308.1L517.5 310.3L518 311.3L518.5 310.7L519 310.3L519.5 310.5L520 310.5L520.5 309.9L521 308.6L521.5 307L522 306.2L522.5 306.4L523 306.8L523.5 305.7L524 301.4L524.5 294.9L525 289.6L525.5 286.9L526 285.2L526.5 283.7L527 285.1L527.5 292.1L528 303.7L528.5 315.3L529 323L529.5 326.2L530 326.6L530.5 324.8L531 320.5L531.5 315.1L532 312.8L532.5 315.9L533 321.1L533.5 323L534 319.2L534.5 311.8L535 304.6L535.5 301.2L536 302.5L536.5 305.5L537 306.9L537.5 306.7L538 306.9L538.5 308.1L539 309.4L539.5 310.2L540 310.6L540.5 310.3L541 309.6L541.5 309.4L542 309.8L542.5 309.2L543 307.4L543.5 306.1L544 307.2L544.5 309.5L545 309.6L545.5 305.6L546 299.2L546.5 294.2L547 293.1L547.5 296L548 302.1L548.5 310.2L549 317.8L549.5 322.5L550 323.6L550.5 321.7L551 318.5L551.5 315.8L552 314.9L552.5 315.2L553 315.4L553.5 315.3L554 315.5L554.5 315.9L555 314.7L555.5 311.1L556 306.5L556.5 304L557 306.1L557.5 313.4L558 323.5L558.5 330.8L559 330.8L559.5 325L560 319.3L560.5 317.3L561 317.5L561.5 316.6L562 313.1L562.5 308.6L563 305.6L563.5 304.7L564 303.5L564.5 299.9L565 295.6L565.5 295.4L566 301.6L566.5 311.7L567 320.9L567.5 325.1L568 322.6L568.5 314.1L569 302.3L569.5 292L570 287.4L570.5 289.8L571 296.1L571.5 301.7L572 304.5L572.5 305.9L573 307.1L573.5 307.9L574 307.6L574.5 305.8L575 303.6L575.5 303.4L576 306.4L576.5 311.8L577 317.5L577.5 323.1L578 328.8L578.5 333.1L579 334.2L579.5 331.6L580 327.1L580.5 323.2L581 320.5L581.5 318L582 315.3L582.5 312.7L583 309.7L583.5 306.2L584 303.8L584.5 305L585 310.5L585.5 318.1L586 324.1L586.5 326.5L587 325.7L587.5 323.7L588 322.1L588.5 321.9L589 322.6L589.5 323.1L590 322.6L590.5 321L591 317L591.5 310.2L592 303.3L592.5 299.5L593 299.4L593.5 301.5L594 304L594.5 305.5L595 305.9L595.5 305.8L596 304.3L596.5 300.7L597 297.3L597.5 297.3L598 300.4L598.5 303.7L599 306.3L599.5 310.9L600 317.8L600.5 323.3L601 324.8L601.5 323.4L602 321.5L602.5 319.5L603 316.4L603.5 312.6L604 310.7L604.5 312.7L605 317.5L605.5 322.7L606 325.7L606.5 325.3L607 321.5L607.5 315.7L608 310L608.5 306.1L609 303.4L609.5 301.3L610 299.7L610.5 299.6L611 302.1L611.5 306.9L612 312.4L612.5 317.6L613 321.3L613.5 321.8L614 318.8L614.5 314.9L615 313.8L615.5 317.2L616 322.5L616.5 323.6L617 316.9L617.5 306L618 297.5L618.5 293.6L619 291.7L619.5 291.1L620 293.7L620.5 300.1L621 308.3L621.5 315.5L622 320.3L622.5 321.6L623 318.8L623.5 312.4L624 304.2L624.5 297.3L625 294.6L625.5 296.4L626 299.1L626.5 299.2L627 297.6L627.5 297.7L628 300.7L628.5 304.8L629 307.1L629.5 306.4L630 304L630.5 302.5L631 301.7L631.5 298.5L632 291.9L632.5 285.5L633 283.3L633.5 285L634 287.7L634.5 290L635 292.6L635.5 296L636 299.9L636.5 303.6L637 307L637.5 308.8L638 308.4L638.5 307.1L639 305.5L639.5 303.1L640 300.4L640.5 298.8L641 298.8L641.5 299.4L642 300L642.5 300.8L643 301.9L643.5 303.1L644 303.7L644.5 304.5L645 307.3L645.5 312.2L646 317.2L646.5 320.1L647 321L647.5 319.9L648 316.7L648.5 312L649 306.4L649.5 300L650 295L650.5 295.6L651 303.6L651.5 313.8L652 317.7L652.5 311.7L653 300L653.5 290.1L654 286.5L654.5 288.5L655 292.1L655.5 294.7L656 296.8L656.5 299.9L657 303.4L657.5 305.8L658 306.9L658.5 307.4L659 306.7L659.5 303.5L660 298.3L660.5 293.6L661 291.7L661.5 292.4L662 294.5L662.5 297.5L663 301.2L663.5 304.2L664 305.2L664.5 304.4L665 304.5L665.5 307.7L666 312.5L666.5 316.4L667 317.5L667.5 315.7L668 312.5L668.5 308.9L669 304.1L669.5 297.5L670 292.1L670.5 292L671 297.8L671.5 305.1L672 308L672.5 303.9L673 295.5L673.5 289.8L674 292.7L674.5 302.1L675 309.7L675.5 309.9L676 304.8L676.5 299.7L677 297.6L677.5 299.2L678 303.9L678.5 309L679 311.4L679.5 309.5L680 305.1L680.5 301.2L681 299.9L681.5 302.5L682 308.5L682.5 314.3L683 316.4L683.5 315.2L684 313.6L684.5 312.8L685 311.2L685.5 307.2L686 301.5L686.5 296.1L687 293.7L687.5 295.8L688 301.7L688.5 309.7L689 318L689.5 324.9L690 328.2L690.5 326.6L691 321.7L691.5 316.2L692 311.5L692.5 307.4L693 303.5L693.5 300.5L694 299.7L694.5 301.8L695 306.3L695.5 309.7L696 309.2L696.5 305.9L697 304.9L697.5 307.8L698 310.9L698.5 310.1L699 306.5L699.5 304.3L700 306.1L700.5 309.5L701 310.9L701.5 308.6L702 303.9L702.5 300L703 298.3L703.5 298.4L704 299.4L704.5 300.2L705 300.9L705.5 302.6L706 306.2L706.5 310.5L707 312.8L707.5 311.9L708 309.9L708.5 309.2L709 310.6L709.5 313.5L710 317.5L710.5 322.2L711 326.5L711.5 328.9L712 328.2L712.5 323.9L713 316.8L713.5 308.5L714 301.8L714.5 298.8L715 300.6L715.5 306.4L716 314.1L716.5 321.7L717 327.3L717.5 329.9L718 328.6L718.5 324.7L719 321.2L719.5 319.3L720 317.2L720.5 312L721 304.4L721.5 298.8L722 297.7L722.5 299.7L723 302.6L723.5 306.5L724 312L724.5 317.2L725 319.3L725.5 316.9L726 311.4L726.5 305.4L727 302L727.5 302.3L728 305.2L728.5 309.2L729 313L729.5 314.8L730 312.7L730.5 307.5L731 302.1L731.5 300.1L732 303.5L732.5 310.6L733 317.4L733.5 320.4L734 318.9L734.5 315.8L735 313.9L735.5 313.9L736 314.3L736.5 314.3L737 314.4L737.5 315.3L738 317.1L738.5 319L739 320.1L739.5 319.5L740 317.5L740.5 314.2L741 309.8L741.5 305.1L742 301.4L742.5 300.1L743 301.4L743.5 303.5L744 304.2L744.5 302.8L745 300.2L745.5 297L746 294.4L746.5 294.2L747 296.4L747.5 300L748 304L748.5 307.5L749 309.2L749.5 308.2L750 305.6L750.5 303.2L751 301.9L751.5 302.2L752 304.7L752.5 309.2L753 313.1L753.5 314.3L754 314.2L754.5 314.9L755 316L755.5 316L756 314.4L756.5 311.6L757 308.4L757.5 307.1L758 308.9L758.5 312.5L759 314.8L759.5 314.8L760 313.7L760.5 312.8L761 312.2L761.5 311.3L762 310.2L762.5 309.9L763 311.4L763.5 314.6L764 318L764.5 319.8L765 318.7L765.5 313.4L766 305.3L766.5 299.4L767 301.3L767.5 311.1L768 323.1L768.5 331.3L769 333.4L769.5 329.8L770 322.6L770.5 314.9L771 309.7L771.5 308.1L772 309.2L772.5 312.2L773 316.6L773.5 320.8L774 322.4L774.5 321L775 318.6L775.5 318.1L776 320.4L776.5 323.7L777 324.9L777.5 322.2L778 317.4L778.5 315.2L779 319.3L779.5 328L780 334.9L780.5 334.9L781 328.2L781.5 318L782 308.7L782.5 303.8L783 305.4L783.5 311.3L784 317L784.5 319.9L785 320L785.5 317.5L786 311.8L786.5 304.3L787 298.5L787.5 297L788 299L788.5 301.8L789 303.7L789.5 303.7L790 301.9L790.5 299.3L791 297.1L791.5 296.5L792 297.6L792.5 300L793 303.4L793.5 307.6L794 312.4L794.5 315.9L795 315.9L795.5 312.5L796 309L796.5 307.5L797 307.7L797.5 309.1L798 311.8L798.5 314.4L799 314.1L799.5 309.1L800 300.8L800.5 294.3L801 293.9L801.5 300.1L802 309L802.5 315.9L803 317.2L803.5 314L804 310.1L804.5 307.4L805 304.6L805.5 300.6L806 298L806.5 300.5L807 307.4L807.5 312.9L808 311.4L808.5 303.2L809 294.4L809.5 290.5L810 291.2L810.5 291.8L811 290.2L811.5 287.9L812 287.8L812.5 290.5L813 295.2L813.5 300.2L814 303.6L814.5 304.7L815 305.2L815.5 307.2L816 310.5L816.5 313.3L817 313.6L817.5 311.4L818 309.1L818.5 309.6L819 313.4L819.5 318.7L820 322.9L820.5 324.2L821 322L821.5 315.9L822 306.9L822.5 298L823 293.7L823.5 296.1L824 302.6L824.5 308.6L825 311.9L825.5 313L826 312.4L826.5 310.3L827 308L827.5 306.4L828 305.8L828.5 307.5L829 312.1L829.5 318L830 323L830.5 326.7L831 330.2L831.5 334.1L832 338.1L832.5 341.1L833 340.3L833.5 333.3L834 320.2L834.5 304.7L835 293.7L835.5 292.5L836 300.9L836.5 312.6L837 321L837.5 322.7L838 318.4L838.5 311.3L839 305L839.5 301.3L840 298.4L840.5 294.8L841 291.5L841.5 291.6L842 296.2L842.5 303.1L843 309.1L843.5 312L844 310.5L844.5 305L845 298.7L845.5 295.6L846 298.7L846.5 304.5L847 309.2L847.5 308.1L848 296.1L848.5 284L849 271.9L849.5 273.4L850 275.9L850.5 278.1L851 279.6L851.5 279.8L852 278.9L852.5 278.1L853 278.2L853.5 278.5L854 277.5L854.5 275.9L855 274.8L855.5 274.2L856 274.2L856.5 275.4L857 278.4L857.5 283L858 287.4L858.5 289.9L859 289.7L859.5 287.5L860 285.6L860.5 285.4L861 287L861.5 289.9L862 293L862.5 295.7L863 298.7L863.5 302.3L864 306.1L864.5 308.5L865 309.3L865.5 308.9L866 307.9L866.5 308L867 309.8L867.5 311.8L868 312L868.5 309.1L869 305.8L869.5 303.8L870 302.7L870.5 301L871 298.6L871.5 296.5L872 295.5L872.5 295.5L873 296.1L873.5 296.8L874 298L874.5 298.9L875 298.9L875.5 299.5L876 301.7L876.5 305L877 307.4L877.5 307.4L878 306.1L878.5 305.8L879 307.4L879.5 309.1L880 309.1L880.5 308.2L881 306.7L881.5 305.1L882 304.2L882.5 304.1L883 303.8L883.5 301.8L884 298.1L884.5 294.6L885 293.4L885.5 294.4L886 296.4L886.5 298.4L887 300.6L887.5 302.5L888 303.3L888.5 303.1L889 303.6L889.5 306L890 309.5L890.5 312L891 312L891.5 310.1L892 306.8L892.5 302.7L893 299.2L893.5 297.6L894 297.8L894.5 298.9L895 300.2L895.5 301L896 301L896.5 300.3L897 298.8L897.5 296.3L898 293L898.5 290.1L899 288.7L899.5 289.6L900 292.4L900.5 295.8L901 298.8L901.5 301L902 301.4L902.5 298.9L903 293.7L903.5 287.7L904 283.4L904.5 281.4L905 282L905.5 283.3L906 284.8L906.5 286.3L907 287.3L907.5 287.5L908 287.3L908.5 286.9L909 285.5L909.5 283.2L910 281.5L910.5 282.8L911 287.4L911.5 293.9L912 299.7L912.5 303.5L913 305.2L913.5 305.9L914 306.7L914.5 306.5L915 304.5L915.5 301L916 297.6L916.5 295L917 293.1L917.5 292.2L918 292.3L918.5 293.6L919 294.9L919.5 296.5L920 297.4L920.5 297.5L921 297.9L921.5 299L922 299.3L922.5 297.7L923 293.9L923.5 292.7L924 293.1L924.5 295.9L925 300.6L925.5 305.2L926 308L926.5 309L927 309.7L927.5 308.2L928 308.3L928.5 309.4L929 310.3L929.5 310L930 308.2L930.5 305.3L931 302.3L931.5 302.4L932 303.3L932.5 305.7L933 309.2L933.5 313.4L934 317.3L934.5 319.6L935 320.2L935.5 321.3L936 322.7L936.5 323.4L937 323.4L937.5 323.5L938 323.7L938.5 321.5L939 317.2L939.5 313.3L940 310.2L940.5 307L941 303.7L941.5 301.2L942 301.1L942.5 304.9L943 310.3L943.5 315.4L944 319.5L944.5 322.3L945 323.2L945.5 321.9L946 319.2L946.5 317.2L947 316.7L947.5 316.5L948 314.9L948.5 312.4L949 311.2L949.5 312.6L950 315.2L950.5 315.5L951 312.6L951.5 308.4L952 305.1L952.5 303.3L953 303.5L953.5 306.4L954 310.7L954.5 313.1L955 311.8L955.5 308.6L956 306.5L956.5 306.5L957 308.2L957.5 310.2L958 310.7L958.5 309L959 307L959.5 307.2L960 310.5L960.5 315.4L961 318.9L961.5 319.1L962 316.1L962.5 311.6L963 307.4L963.5 305.3L964 306L964.5 308.5L965 311.1L965.5 312.5L966 313.2L966.5 313.4L967 312.4L967.5 309.5L968 305.3L968.5 302.3L969 302.7L969.5 306.2L970 310.5L970.5 313.2L971 313.1L971.5 310.7L972 307.3L972.5 304.9L973 304.6L973.5 305.7L974 306.5L974.5 306L975 304.8L975.5 303.2L976 300.2L976.5 295.4L977 292L977.5 293.4L978 298.9L978.5 303.8L979 306L979.5 306.8L980 308L980.5 310.2L981 313.2L981.5 317.2L982 321.2L982.5 324L983 325.1L983.5 324.9L984 324.3L984.5 323.9L985 323L985.5 321.1L986 318.1L986.5 314L987 309.2L987.5 305.1L988 303L988.5 302.4L989 302.7L989.5 303.2L990 303.3L990.5 303.1L991 302.5L991.5 301.2L992 298.9L992.5 297.1L993 298L993.5 301.6L994 306.3L994.5 311.2L995 316.3L995.5 321.2L996 324.7L996.5 325.9L997 324.3L997.5 321L998 318.1L998.5 317.9L999 321.6L999.5 327.8L1000 332.2L1000.5 331.3L1001 325.7L1001.5 318.1L1002 310.5L1002.5 304.8L1003 303.2L1003.5 306.1L1004 310.7L1004.5 313.6L1005 314.5L1005.5 315.4L1006 316.6L1006.5 316.5L1007 314.7L1007.5 313.1L1008 313L1008.5 313.2L1009 312.1L1009.5 309.4L1010 306.6L1010.5 305L1011 304.1L1011.5 303L1012 301.1L1012.5 299.2L1013 298.1L1013.5 298.7L1014 301.6L1014.5 306.3L1015 310.9L1015.5 314L1016 315.6L1016.5 316.6L1017 316.6L1017.5 314.4L1018 309.9L1018.5 304.7L1019 300.5L1019.5 298.3L1020 298.1L1020.5 298.9L1021 299.5L1021.5 300.5L1022 303L1022.5 306.9L1023 310.1L1023.5 311.3L1024 310.7L1024.5 310L1025 310.3L1025.5 311.5L1026 312.2L1026.5 311.6L1027 308.9L1027.5 304.3L1028 299.2L1028.5 296.3L1029 296.3L1029.5 297.9L1030 299.9L1030.5 302.3L1031 305.5L1031.5 308.4L1032 309.2L1032.5 307.8L1033 306.5L1033.5 308.3L1034 313.5L1034.5 319.3L1035 322.7L1035.5 322.2L1036 318.4L1036.5 313.4L1037 310.9L1037.5 312.2L1038 315.6L1038.5 318.3L1039 319.6L1039.5 319.1L1040 316.6L1040.5 312.4L1041 308.5L1041.5 307.5L1042 311.3L1042.5 318.1L1043 324L1043.5 326.4L1044 325.4L1044.5 322.7L1045 319.9L1045.5 318.6L1046 319.4L1046.5 320.8L1047 320.5L1047.5 317.7L1048 313.5L1048.5 310L1049 308.9L1049.5 310.2L1050 312.6L1050.5 314.6L1051 315.1L1051.5 314.6L1052 314.3L1052.5 315.3L1053 317.3L1053.5 319.4L1054 320.6L1054.5 320.2L1055 318.2L1055.5 315.6L1056 313.1L1056.5 311.2L1057 310L1057.5 308.2L1058 305.2L1058.5 302.9L1059 304.6L1059.5 310.4L1060 317.1L1060.5 321L1061 321.2L1061.5 318.5L1062 314.4L1062.5 310.7L1063 308.9L1063.5 309.2L1064 310.3L1064.5 310.9L1065 309.8L1065.5 306.1L1066 301.8L1066.5 299.8L1067 301.3L1067.5 304.6L1068 308.2L1068.5 312.1L1069 316L1069.5 318.6L1070 318.6L1070.5 315.4L1071 310.1L1071.5 304.6L1072 300.8L1072.5 299.5L1073 300.4L1073.5 301.9L1074 302.5L1074.5 302.3L1075 301.7L1075.5 301.3L1076 301.8L1076.5 304.3L1077 307.9L1077.5 310.7L1078 311.4L1078.5 311.4L1079 312.4L1079.5 314.3L1080 315.6L1080.5 315.4L1081 313.8L1081.5 311.8L1082 310.7L1082.5 311.7L1083 314.8L1083.5 319.2L1084 323.3L1084.5 325.6L1085 325.5L1085.5 323.9L1086 321L1086.5 316L1087 309.2L1087.5 303.4L1088 300.6L1088.5 300.6L1089 302.1L1089.5 305L1090 308.8L1090.5 311.2L1091 311L1091.5 309.6L1092 310L1092.5 313.2L1093 317.1L1093.5 318.3L1094 315L1094.5 308.3L1095 301.3L1095.5 296.6L1096 295.2L1096.5 296.3L1097 298.2L1097.5 299.2L1098 299.2L1098.5 300.5L1099 304.9L1099.5 311.5L1100 317.9L1100.5 322.1L1101 323.3L1101.5 321.2L1102 317.5L1102.5 315.2L1103 315.9L1103.5 318.3L1104 320.7L1104.5 322L1105 320.7L1105.5 315.7L1106 308.8L1106.5 303.4L1107 301.4L1107.5 301.8L1108 302.4L1108.5 301.7L1109 300.1L1109.5 300.2L1110 303.9L1110.5 310.4L1111 316.5L1111.5 319.5L1112 319.5L1112.5 317.7L1113 314.8L1113.5 310.3L1114 304.2L1114.5 299.4L1115 299.9L1115.5 305.7L1116 313L1116.5 318L1117 319.2L1117.5 316.7L1118 312.2L1118.5 308.2L1119 307L1119.5 308.6L1120 311.3L1120.5 312.7L1121 311.6L1121.5 309.1L1122 308L1122.5 309.9L1123 313.9L1123.5 318.2L1124 321.2L1124.5 321.1L1125 316.7L1125.5 309.4L1126 303.9L1126.5 303.4L1127 306.4L1127.5 308.6L1128 308L1128.5 306L1129 305.1L1129.5 306.8L1130 310.9L1130.5 315.9L1131 318.9L1131.5 318.3L1132 315.3L1132.5 313.4L1133 314.7L1133.5 318.2L1134 321.7L1134.5 323.1L1135 322L1135.5 318.3L1136 313L1136.5 307.4L1137 303.1L1137.5 300.7L1138 300L1138.5 300.6L1139 301.8L1139.5 302.1L1140 300L1140.5 296.4L1141 294.9L1141.5 297.6L1142 302.5L1142.5 305.6L1143 305.3L1143.5 303.5L1144 302.4L1144.5 302.5L1145 303.9L1145.5 306.6L1146 309.1L1146.5 309.9L1147 309.7L1147.5 310L1148 310.7L1148.5 310.5L1149 308.6L1149.5 305.8L1150 303.5L1150.5 301.9L1151 299.5L1151.5 295.6L1152 292.2L1152.5 292L1153 295.6L1153.5 301L1154 305.4L1154.5 307.9L1155 309.4L1155.5 311.3L1156 313L1156.5 312.5L1157 308.8L1157.5 303.4L1158 298.9L1158.5 296.7L1159 298.3L1159.5 304.5L1160 313.8L1160.5 322.4L1161 326.2L1161.5 324.1L1162 318.5L1162.5 312.4L1163 307.4L1163.5 305.2L1164 306.9L1164.5 312L1165 318.4L1165.5 323.7L1166 325.9L1166.5 324L1167 319.2L1167.5 313L1168 305.4L1168.5 297L1169 290.8L1169.5 289.3L1170 291.8L1170.5 295.3L1171 298L1171.5 299.5L1172 300.6L1172.5 302L1173 304L1173.5 305.6L1174 305.5L1174.5 303.5L1175 301.2L1175.5 300.5L1176 302L1176.5 304.6L1177 307.2L1177.5 309.7L1178 312.5L1178.5 315.7L1179 319.8L1179.5 324.9L1180 329.6L1180.5 331.7L1181 330.2L1181.5 326L1182 320.8L1182.5 315.9L1183 311.7L1183.5 308.5L1184 307.5L1184.5 309.9L1185 314.5L1185.5 318.6L1186 320.1L1186.5 319.8L1187 319L1187.5 318L1188 316.6L1188.5 314.9L1189 313.8L1189.5 314.2L1190 315.9L1190.5 317.1L1191 315.8L1191.5 312.3L1192 308.3L1192.5 305.8L1193 305.1L1193.5 306.3L1194 308.6L1194.5 311.2L1195 313.5L1195.5 315.4L1196 316.5L1196.5 316.5L1197 315.7L1197.5 315L1198 314.9L1198.5 315.6L1199 316.5L1199.5 316.5L1200 315L1200.5 311.5L1201 306.6L1201.5 302.5L1202 300.9L1202.5 301.8L1203 304.5L1203.5 307.7L1204 308.7L1204.5 306.2L1205 302L1205.5 299.1L1206 299.4L1206.5 302.9L1207 307.6L1207.5 311.4L1208 314.3L1208.5 317.6L1209 320.6L1209.5 321.3L1210 320L1210.5 319.6L1211 321.7L1211.5 324L1212 323.5L1212.5 319.7L1213 315.2L1213.5 313L1214 312.9L1214.5 312.6L1215 309.7L1215.5 305L1216 301.5L1216.5 300.8L1217 302.3L1217.5 304.7L1218 307.4L1218.5 308.9L1219 308.4L1219.5 305.7L1220 301.7L1220.5 298.2L1221 296.8L1221.5 297.9L1222 300.1L1222.5 301.9L1223 302.4L1223.5 301.4L1224 299.9L1224.5 299L1225 299.4L1225.5 300.2L1226 300.4L1226.5 300L1227 299.8L1227.5 300.8L1228 303.5L1228.5 306.6L1229 307.7L1229.5 305.5L1230 302.6L1230.5 302.7L1231 306.7L1231.5 312L1232 316.2L1232.5 318.1L1233 317.4L1233.5 314L1234 309.8L1234.5 307.4L1235 307.4L1235.5 308.7L1236 309L1236.5 307.8L1237 305.5L1237.5 302.8L1238 299.9L1238.5 297.6L1239 297.5L1239.5 300.1L1240 304.5L1240.5 310.1L1241 315.5L1241.5 319.1L1242 319.2L1242.5 316.1L1243 312.3L1243.5 311.2L1244 314.4L1244.5 318.9L1245 320.9L1245.5 319.9L1246 318.2L1246.5 317.1L1247 315.7L1247.5 312.9L1248 309.8L1248.5 307.7L1249 306.6L1249.5 305.4L1250 304.1L1250.5 303.7L1251 305L1251.5 306.7L1252 307.4L1252.5 307.8L1253 309.7L1253.5 313.6L1254 318L1254.5 320.9L1255 321.8L1255.5 320.8L1256 317.9L1256.5 314.3L1257 312.2L1257.5 312.9L1258 315.3L1258.5 316.5L1259 315.7L1259.5 315.2L1260 316.9L1260.5 319.8L1261 320.2L1261.5 316L1262 309.1L1262.5 303.7L1263 301.4L1263.5 301.3L1264 302.6L1264.5 305.9L1265 310.9L1265.5 315.2L1266 316.2L1266.5 313.9L1267 310.8L1267.5 309.7L1268 311L1268.5 312.6L1269 312.7L1269.5 311L1270 308.6L1270.5 306.5L1271 305L1271.5 304.2L1272 304.5L1272.5 305.8L1273 307.6L1273.5 309.7L1274 311.7L1274.5 312.8L1275 312.4L1275.5 310.9L1276 309.8L1276.5 309.2L1277 308.4L1277.5 307.6L1278 308.1L1278.5 310.1L1279 312.6L1279.5 314.5L1280 315.7L1280.5 317.1L1281 319L1281.5 320.3L1282 320L1282.5 318L1283 315.7L1283.5 314.6L1284 313.9L1284.5 311.9L1285 308.8L1285.5 307L1286 308.3L1286.5 312L1287 316L1287.5 317.8L1288 316.1L1288.5 311.3L1289 305.7L1289.5 303.1L1290 306.3L1290.5 314.8L1291 324.6L1291.5 331.9L1292 335.1L1292.5 334L1293 328.8L1293.5 321.2L1294 314L1294.5 310L1295 309.6L1295.5 311.7L1296 314.2L1296.5 315.2L1297 314.6L1297.5 313.9L1298 315L1298.5 318.4L1299 321.5L1299.5 322L1300 320.6L1300.5 319.9L1301 320.9L1301.5 322.9L1302 324.9L1302.5 325.8L1303 325.1L1303.5 324L1304 324.1L1304.5 324.9L1305 324.7L1305.5 322.4L1306 319.6L1306.5 318.6L1307 320.3L1307.5 322.3L1308 321.5L1308.5 318L1309 314.8L1309.5 313.9L1310 314.7L1310.5 315.5L1311 315.3L1311.5 315.2L1312 316.3L1312.5 319L1313 322.6L1313.5 325.8L1314 327.9L1314.5 328.5L1315 327.5L1315.5 326.3L1316 325.9L1316.5 325.6L1317 323.2L1317.5 318.3L1318 313.1L1318.5 309.5L1319 306.9L1319.5 304.3L1320 302.9L1320.5 305L1321 311.4L1321.5 319.6L1322 325.3L1322.5 326.1L1323 322.1L1323.5 315.8L1324 310.4L1324.5 307.7L1325 307.5L1325.5 308.6L1326 310.3L1326.5 312.2L1327 313.3L1327.5 313.3L1328 313.4L1328.5 314.9L1329 317.9L1329.5 321.1L1330 323.4L1330.5 324.8L1331 325.9L1331.5 326.5L1332 325.6L1332.5 322.8L1333 319.5L1333.5 317.5L1334 317.2L1334.5 318.2L1335 319.6L1335.5 320.6L1336 320.6L1336.5 319.9L1337 319.3L1337.5 319.8L1338 321.8L1338.5 325L1339 327.4L1339.5 326.2L1340 320.8L1340.5 315L1341 312.4L1341.5 313.4L1342 315.3L1342.5 316.5L1343 316.8L1343.5 316.8L1344 316.9L1344.5 316.6L1345 315.7L1345.5 314.2L1346 312.1L1346.5 309.2L1347 306.1L1347.5 304.2L1348 304.1L1348.5 305.2L1349 307.1L1349.5 310L1350 313.2L1350.5 315.9L1351 318L1351.5 319.8L1352 321.4L1352.5 322.8L1353 323.7L1353.5 323.1L1354 320.2L1354.5 315.1L1355 310L1355.5 307.3L1356 307.7L1356.5 310.2L1357 313L1357.5 314.9L1358 316.1L1358.5 317.8L1359 320.2L1359.5 321.6L1360 321.5L1360.5 320.9L1361 321.3L1361.5 323.3L1362 326.1L1362.5 327.5L1363 325.7L1363.5 321.8L1364 318.8L1364.5 317.2L1365 314.6L1365.5 309.6L1366 304.2L1366.5 302.1L1367 303.6L1367.5 306.7L1368 309.7L1368.5 312.4L1369 314.2L1369.5 314.2L1370 311.9L1370.5 308.8L1371 307L1371.5 308.5L1372 313.2L1372.5 319.4L1373 324.6L1373.5 327.4L1374 327.8L1374.5 327L1375 326.8L1375.5 327.7L1376 328.4L1376.5 327.3L1377 325.2L1377.5 323.3L1378 321.7L1378.5 319.4L1379 316.9L1379.5 315.3L1380 315.4L1380.5 316.1L1381 317L1381.5 318.2L1382 319.6L1382.5 320L1383 318.7L1383.5 315.4L1384 310.8L1384.5 305.8L1385 302.6L1385.5 302.9L1386 306.6L1386.5 311.9L1387 316.7L1387.5 319.7L1388 320.3L1388.5 318.8L1389 316L1389.5 313L1390 311.5L1390.5 313.4L1391 319.1L1391.5 325.8L1392 329.1L1392.5 326.5L1393 320.3L1393.5 315L1394 312.6L1394.5 312L1395 310.6L1395.5 307.1L1396 303L1396.5 301.4L1397 304.4L1397.5 310.8L1398 317.6L1398.5 322L1399 321.9L1399.5 317.2L1400 310.3L1400.5 305.1L1401 303.4L1401.5 304.2L1402 306.2L1402.5 309.1L1403 312.8L1403.5 316L1404 317.3L1404.5 315.9L1405 312.1L1405.5 307.7L1406 305L1406.5 305.6L1407 308.4L1407.5 311.9L1408 316.1L1408.5 322.5L1409 330.1L1409.5 335.6L1410 337L1410.5 335.8L1411 334.1L1411.5 332.6L1412 330L1412.5 325.7L1413 320.7L1413.5 317.3L1414 315.7L1414.5 313.7L1415 309.8L1415.5 305.9L1416 305.1L1416.5 308.5L1417 314.4L1417.5 320.2L1418 324.8L1418.5 328L1419 328.8L1419.5 326L1420 320.7L1420.5 315.7L1421 313.3L1421.5 313.9L1422 316.5L1422.5 318.9L1423 319.3L1423.5 319.6L1424 323.8L1424.5 329.7L1425 335L1425.5 338.3L1426 341L1426.5 344.4L1427 345.1L1427.5 342.1L1428 339.8L1428.5 338.9L1429 338.6L1429.5 337.3L1430 334.8L1430.5 330.8L1431 326.7L1431.5 321.3L1432 315.2L1432.5 311L1433 310.2L1433.5 312.3L1434 316.1L1434.5 320.7L1435 325.7L1435.5 330.7L1436 334.1L1436.5 333.8L1437 330.2L1437.5 326.6L1438 325.5L1438.5 326.2L1439 326.2L1439.5 324L1440 320.3L1440.5 317.9L1441 319.2L1441.5 323.4L1442 326.5L1442.5 324.9L1443 318.9L1443.5 312.6L1444 309.8L1444.5 311L1445 315.1L1445.5 320.5L1446 324.3L1446.5 325.1L1447 323.9L1447.5 323.1L1448 323.4L1448.5 324.1L1449 323.9L1449.5 321.9L1450 318.7L1450.5 316.1L1451 315.1L1451.5 315.6L1452 316.3L1452.5 316.1L1453 315L1453.5 314.4L1454 315.1L1454.5 316.4L1455 317.6L1455.5 319.2L1456 320.3L1456.5 319.9L1457 318.1L1457.5 316.7L1458 317.9L1458.5 322L1459 327L1459.5 330.7L1460 332.3L1460.5 332.3L1461 331.1L1461.5 329.2L1462 327.7L1462.5 327.4" fill="none" stroke="#ff7f0e" stroke-width="2.1" stroke-linejoin="round" stroke-linecap="butt"/>
</g>
<path d="M116.5 514.4v4.9M284.8 514.4v4.9M453 514.4v4.9M621.3 514.4v4.9M789.6 514.4v4.9M957.9 514.4v4.9M1126.1 514.4v4.9M1294.4 514.4v4.9M116.5 514.4h-4.9M116.5 447.1h-4.9M116.5 379.9h-4.9M116.5 312.6h-4.9M116.5 245.3h-4.9M116.5 178.1h-4.9M116.5 110.8h-4.9M116.5 43.5h-4.9" stroke="#000" stroke-width="1.1" fill="none"/>
<rect x="116.5" y="38.4" width="1346" height="476" fill="none" stroke="#000" stroke-width="1.1"/>
<rect x="1047.5" y="48.6" width="406.5" height="79.6" rx="3.5" fill="#fff" fill-opacity="0.8" stroke="#ccc" stroke-opacity="0.8" stroke-width="1.1"/>
<circle cx="1073.5" cy="63.5" r="2.85" fill="#1f77b4"/>
<path d="M1052.9 101.9H1092" stroke="#ff7f0e" stroke-width="2.1"/>
<text x="1105.8" y="69.2" font-size="19" text-anchor="start" textLength="98.8" lengthAdjust="spacingAndGlyphs" stroke="#000" stroke-width="0.5" stroke-linejoin="round" >Raw Data</text>
<text x="1105.8" y="95.8" font-size="19" text-anchor="start" textLength="269.8" lengthAdjust="spacingAndGlyphs" stroke="#000" stroke-width="0.5" stroke-linejoin="round" >Butterworth Filtered Data</text>
<text x="1105.8" y="116.7" font-size="19" text-anchor="start" textLength="338.6" lengthAdjust="spacingAndGlyphs" stroke="#000" stroke-width="0.5" stroke-linejoin="round" >(N=6, Tc=3.3333 min, Type: low)</text>
<rect x="806.3" y="578.3" width="576.4" height="476" fill="#e8e8e8"/>
<path d="M806.3 578.3V1054.3M1382.7 578.3V1054.3" stroke="#dcdcdc" stroke-width="1" fill="none"/>
<path d="M116.5 1054.3V578.3M284.8 1054.3V578.3M453 1054.3V578.3M621.3 1054.3V578.3M789.6 1054.3V578.3M957.9 1054.3V578.3M1126.1 1054.3V578.3M1294.4 1054.3V578.3M116.5 1036.5H1462.5M116.5 983.4H1462.5M116.5 930.2H1462.5M116.5 877.1H1462.5M116.5 824H1462.5M116.5 770.9H1462.5M116.5 717.8H1462.5M116.5 664.6H1462.5M116.5 611.5H1462.5" stroke="#b0b0b0" stroke-width="1.1" stroke-dasharray="1.1 1.83" fill="none"/>
<g clip-path="url(#c2)">
<path d="M117 907.8L118 893.9L119 905.9L120 900.8L121 903.4L122 901.2L123 886L124 904L125 883.6L126 889.9L127 876.8L128 895.6L129 918.4L130 899.7L131 917.7L132 916.3L133 933.2L134 925.3L135 906.1L136 897.2L137 877.1L138 848.8L139 885.4L140 908.5L141 900.4L142 892.3L143 892.4L144 903.1L145 892.8L146 876.9L147 906.9L148 929.5L149 927.9L150 940.4L151 923.1L152 925L153 935.5L154 910.4L155 920.6L156 925.4L157 902.3L158 878.9L159 891.6L160 894.6L161 878.3L162 901.6L163 897.3L164 882L165 853.7L166 855.9L167 864L168 902.9L169 915.3L170 906.3L171 911.3L172 930.3L173 932.4L174 922.6L175 929.7L176 929.5L177 888.2L178 882.6L179 896.5L180 906L181 918.8L182 889.2L183 896.2L184 881.8L185 867.4L186 815.3L187 845.8L188 839.4L189 882.3L190 891.5L191 876.8L192 917.1L193 935.6L194 956.5L195 953L196 953L197 938.4L198 930.7L199 919.5L200 917.8L201 924.6L202 922.8L203 951.4L204 957.5L205 950.8L206 937.3L207 923.3L208 933.6L209 949.1L210 954.4L211 939.3L212 903L213 897.4L214 895.1L215 859.1L216 905.7L217 874.8L218 895.9L219 934.5L220 939L221 932.5L222 951L223 967.9L224 958L225 951.8L226 929.4L227 935.8L228 930.8L229 948.7L230 972.2L231 961.1L232 954.6L233 960L234 969.1L235 975.3L236 970.8L237 954.9L238 954.6L239 946.7L240 925.5L241 932.5L242 935.9L243 937L244 928.4L245 936.2L246 936.4L247 937.7L248 934.9L249 933L250 953.7L251 956.4L252 951.2L253 930.4L254 927.8L255 935L256 919L257 887.6L258 885.6L259 885.3L260 881.3L261 876.9L262 886.2L263 903L264 905.9L265 874.5L266 883.1L267 829.5L268 842L269 824.6L270 859.6L271 893.7L272 949.9L273 965.6L274 975.2L275 976.2L276 974.5L277 979.3L278 979.8L279 980.4L280 979.6L281 980.5L282 983.3L283 982L284 986.6L285 983.6L286 984.9L287 984L288 984.8L289 986.3L290 980.6L291 977L292 981.8L293 982.7L294 981.6L295 979.7L296 982.9L297 982.8L298 981L299 986.4L300 984.8L301 985.7L302 985.9L303 984.2L304 987.5L305 989.2L306 979.9L307 982.7L308 982L309 988.8L310 987.3L311 987.3L312 985.3L313 986L314 987.3L315 987L316 988.5L317 988.4L318 982.6L319 987.2L320 982.3L321 980.9L322 985.3L323 986.5L324 989.1L325 990.4L326 988.7L327 985.4L328 987.2L329 986.7L330 988.1L331 987.1L332 988.7L333 985.6L334 986.5L335 983.5L336 988.1L337 988.7L338 990.3L339 988.4L340 987.9L341 989.8L342 987.8L343 987.9L344 986.3L345 982.7L346 981L347 972.5L348 964.1L349 969.9L350 965L351 968.8L352 972.9L353 968.6L354 969.8L355 970.7L356 970.2L357 969.5L358 974L359 976.4L360 975.1L361 978L362 981.8L363 977.4L364 981.8L365 983.3L366 983.4L367 979.2L368 978.2L369 981.5L370 983L371 980.3L372 982.7L373 987.9L374 986.6L375 987.4L376 975.6L377 979.4L378 980.2L379 985.2L380 980.3L381 979.9L382 984.4L383 985.2L384 984.2L385 984.5L386 981.9L387 983.1L388 980.6L389 981.4L390 981.7L391 986L392 987.3L393 988.4L394 986.7L395 982.1L396 987.5L397 988L398 983.4L399 986.6L400 981.9L401 980.7L402 980.7L403 983.3L404 981.8L405 979.5L406 982.7L407 988L408 987.5L409 987.7L410 987.5L411 989.7L412 989.6L413 987.4L414 991.1L415 992.3L416 990.9L417 992.5L418 987.4L419 989L420 991.1L421 989.4L422 989.8L423 990.8L424 992.6L425 990.5L426 988.3L427 990.2L428 991.5L429 992.8L430 994.1L431 990.3L432 988.9L433 984.1L434 984.3L435 985.3L436 986.7L437 987.6L438 985.2L439 988.5L440 988L441 984L442 989.2L443 990.1L444 991.5L445 990.2L446 990.7L447 988.6L448 988.9L449 991.6L450 994.2L451 993.2L452 990.9L453 991.9L454 989.9L455 988.5L456 988.5L457 986.4L458 985.9L459 976.9L460 976.6L461 984.5L462 979.1L463 976.6L464 978.3L465 984.8L466 986.3L467 984.4L468 987.6L469 988L470 985.2L471 985.2L472 987.7L473 989.4L474 988L475 986.5L476 984.6L477 989.2L478 990.5L479 990.7L480 988.9L481 986.9L482 982.1L483 988L484 991.4L485 993.1L486 994.3L487 990.5L488 989L489 988.5L490 984.5L491 982.9L492 989.4L493 991L494 989L495 991.8L496 990.6L497 989.4L498 992.1L499 993.5L500 987.6L501 989.9L502 988.9L503 991.8L504 993.2L505 991.2L506 990.5L507 989.9L508 987.8L509 987.9L510 987.4L511 990.6L512 990.1L513 989.3L514 988.6L515 986L516 984.1L517 974.7L518 982.2L519 976.5L520 972.3L521 968.1L522 967.1L523 967.8L524 957.8L525 954.1L526 966L527 983.8L528 982.7L529 979.1L530 978.5L531 980.7L532 985.2L533 990L534 989.6L535 989.6L536 992.3L537 992L538 991.3L539 991.4L540 991.9L541 992.2L542 991.5L543 991.1L544 990.1L545 990.6L546 989.5L547 988.3L548 989.7L549 990.2L550 990.7L551 993.3L552 991.8L553 988.7L554 985L555 987.2L556 986.6L557 991.1L558 987.5L559 988L560 986.4L561 988.7L562 987.6L563 985.3L564 986.1L565 984.1L566 989.1L567 989.1L568 988.6L569 988.5L570 990.4L571 991.8L572 990L573 989.7L574 988.4L575 988.8L576 985.1L577 986.2L578 988L579 988L580 981.8L581 989.9L582 989.2L583 989.1L584 990.5L585 989.8L586 990.3L587 991.1L588 991L589 992.6L590 992.5L591 991L592 991.8L593 992.6L594 991.3L595 991.1L596 985.2L597 984.9L598 985.5L599 975.9L600 973.4L601 980.2L602 988.2L603 990.2L604 991.9L605 991.7L606 988.4L607 989.8L608 991.2L609 986.9L610 986.7L611 989.9L612 990L613 990.2L614 991.4L615 991.2L616 988.5L617 990L618 989.1L619 985.9L620 981.1L621 972.7L622 977.2L623 980.7L624 984.3L625 990.5L626 988.6L627 987.2L628 985.6L629 987.7L630 986.6L631 987.4L632 988.7L633 985.5L634 988.4L635 987.1L636 989L637 991.7L638 992.3L639 992L640 990.3L641 986.8L642 988.3L643 987.1L644 988L645 990.8L646 989.4L647 989.5L648 990.4L649 989.9L650 990.7L651 989.1L652 987.4L653 987.6L654 986.4L655 988.9L656 991.3L657 990.7L658 989.8L659 991.2L660 991.9L661 992L662 991.9L663 991.9L664 992L665 992.8L666 990.5L667 991.9L668 990.7L669 988.1L670 988.5L671 991.3L672 992L673 988.8L674 988.3L675 983.4L676 985.1L677 983.2L678 986.2L679 988.2L680 990.4L681 990.3L682 992.9L683 991.8L684 990.1L685 988.1L686 989.3L687 988.5L688 990.1L689 991.2L690 990.7L691 990.9L692 989.7L693 988.9L694 992.8L695 989.2L696 988.4L697 988.9L698 987.7L699 983.2L700 984.2L701 985L702 988.4L703 988.7L704 984.4L705 990.8L706 987.7L707 988.3L708 989.2L709 989.2L710 988.7L711 990L712 988.8L713 986.9L714 986.2L715 990.3L716 990.1L717 990.6L718 990.3L719 989.9L720 989.1L721 988.6L722 988.2L723 992.3L724 991.9L725 991.4L726 990L727 987L728 991.7L729 990.9L730 988.2L731 991.3L732 987.5L733 986.2L734 981.6L735 984.4L736 980.8L737 978.2L738 978.8L739 987.4L740 988L741 987.2L742 989.7L743 987.7L744 986L745 987.5L746 987.8L747 990.6L748 991.1L749 989.2L750 989.9L751 990.1L752 991L753 992.3L754 992.6L755 990.3L756 989.5L757 989.4L758 988.2L759 986.4L760 989.7L761 989.3L762 987.7L763 988.7L764 984.9L765 983.5L766 982.4L767 978.5L768 980.8L769 982.2L770 982.3L771 987.7L772 990.5L773 991.7L774 991L775 989.3L776 987.6L777 985.8L778 987.8L779 983.9L780 985.2L781 987.7L782 988L783 986L784 982.7L785 982.1L786 986.9L787 980.9L788 985.3L789 988.8L790 986.2L791 986.2L792 989.3L793 986.8L794 983.2L795 991.2L796 992.5L797 991.3L798 990.6L799 992L800 991.9L801 991.4L802 993.6L803 993.3L804 992.4L805 989.6L806 984.2L807 986.1L808 989.2L809 985L810 989.3L811 985.8L812 986.4L813 979L814 964.2L815 964.8L816 975L817 985.9L818 985.7L819 982.3L820 981.9L821 986.6L822 989.6L823 989.7L824 984.9L825 975.5L826 983.5L827 983.7L828 983.4L829 980.6L830 987.4L831 985.6L832 989L833 987.8L834 988.1L835 983.5L836 986.2L837 990.2L838 989.9L839 986.2L840 982.3L841 985.3L842 985.9L843 983.6L844 981.4L845 976.8L846 950L847 929.7L848 933.7L849 909.7L850 910.9L851 933.8L852 925.3L853 924.8L854 909.7L855 934L856 937L857 942.4L858 947.6L859 946.4L860 958.6L861 947.9L862 933.5L863 934.2L864 950.2L865 959.8L866 962.7L867 954.9L868 952.2L869 952.3L870 948.3L871 946.8L872 950.4L873 933.6L874 924.8L875 904.7L876 919.9L877 942.3L878 940.4L879 948.9L880 926.3L881 937.5L882 949.5L883 954.6L884 952.9L885 946.8L886 950.2L887 958.8L888 952.6L889 944.4L890 951L891 959.3L892 966L893 960.4L894 958.2L895 947L896 935.5L897 921.2L898 919L899 911.7L900 914.7L901 930.8L902 927.6L903 934.3L904 928L905 940.9L906 944.3L907 944.1L908 938.3L909 933.1L910 941.6L911 932.7L912 934.6L913 941.7L914 941.4L915 950.2L916 948.8L917 956L918 963.9L919 975.9L920 967.2L921 962L922 964.4L923 966L924 962.6L925 957.7L926 958.4L927 956.1L928 948.3L929 945L930 955.8L931 965.5L932 968.3L933 962.7L934 969.3L935 969.9L936 958.7L937 947.1L938 961.5L939 955.6L940 936.6L941 948.6L942 950L943 951.8L944 927.6L945 935.7L946 914.2L947 927.6L948 934L949 925.9L950 923.7L951 915.4L952 909.4L953 928.2L954 961.5L955 960.2L956 955.2L957 954.5L958 962.5L959 957.4L960 959.8L961 967.1L962 958.4L963 954.8L964 965.5L965 967.3L966 977L967 971.9L968 961.3L969 964.2L970 961.9L971 970.5L972 973.8L973 972.1L974 971.8L975 971.7L976 975.6L977 973L978 967.8L979 967.5L980 968L981 961.7L982 958.7L983 965.9L984 965L985 978.2L986 969.3L987 970.4L988 968L989 967.3L990 966.3L991 974.4L992 967.7L993 970.1L994 961.4L995 969.4L996 970.1L997 968.6L998 968.6L999 963.3L1000 973.5L1001 974.9L1002 967.5L1003 952.6L1004 965.6L1005 971.6L1006 960.4L1007 961.4L1008 967L1009 974L1010 976.5L1011 970L1012 968L1013 968.9L1014 970.4L1015 959.7L1016 961.1L1017 972.7L1018 969L1019 962.5L1020 974L1021 979.9L1022 976L1023 976L1024 974.6L1025 974.8L1026 966.2L1027 965.7L1028 970.1L1029 968.3L1030 965.2L1031 962L1032 962.4L1033 955.6L1034 958L1035 955.7L1036 962.8L1037 955.8L1038 957.9L1039 964.3L1040 967.5L1041 971.3L1042 971.7L1043 974.8L1044 979L1045 977.2L1046 967.6L1047 968.9L1048 967.9L1049 959.2L1050 967.5L1051 967.5L1052 974.9L1053 976.9L1054 968.8L1055 970.6L1056 982.8L1057 979.6L1058 975.5L1059 976.9L1060 977.9L1061 977.8L1062 972.8L1063 965.4L1064 960.2L1065 971.6L1066 976.8L1067 961.6L1068 955.4L1069 960.2L1070 956.8L1071 960.4L1072 963L1073 963.6L1074 977L1075 979L1076 968.6L1077 967.3L1078 975.1L1079 973.4L1080 976.6L1081 976L1082 974.6L1083 971.3L1084 970.9L1085 961.8L1086 959.1L1087 951L1088 945.6L1089 957.2L1090 963.2L1091 971L1092 974.4L1093 977.6L1094 971L1095 970.2L1096 979.1L1097 979.9L1098 978.4L1099 976.4L1100 972.8L1101 977L1102 973.9L1103 966.2L1104 955.8L1105 956.2L1106 964L1107 961.1L1108 963.2L1109 961.1L1110 961.5L1111 954.7L1112 963.2L1113 962.1L1114 969.2L1115 955.2L1116 951.7L1117 957.3L1118 967.2L1119 967.6L1120 973.9L1121 969.9L1122 972.4L1123 965.6L1124 962.8L1125 966.4L1126 970.9L1127 970.7L1128 971.9L1129 972.9L1130 973.5L1131 968.7L1132 968L1133 971.5L1134 970L1135 964.8L1136 966.9L1137 967.8L1138 969.5L1139 975.5L1140 978.3L1141 979.9L1142 977.7L1143 972.3L1144 970.9L1145 974.9L1146 974L1147 977.2L1148 979.5L1149 974.8L1150 974.1L1151 974L1152 975.8L1153 975.6L1154 977.7L1155 973.8L1156 978L1157 977.1L1158 973.6L1159 967.4L1160 971.4L1161 979.7L1162 977.8L1163 979.9L1164 975.3L1165 978.1L1166 975.9L1167 974.1L1168 978.8L1169 978.3L1170 980.4L1171 974.9L1172 971.3L1173 966L1174 972.7L1175 977L1176 982.5L1177 977.6L1178 980.5L1179 974.8L1180 971.8L1181 968.2L1182 971.2L1183 975L1184 969.2L1185 971.3L1186 978.3L1187 969.5L1188 978L1189 981.3L1190 978.5L1191 979L1192 979.3L1193 975.6L1194 974.1L1195 976.4L1196 974.4L1197 979.3L1198 979.1L1199 981L1200 986L1201 993.1L1202 1000.7L1203 994L1204 994.4L1205 993.9L1206 987.4L1207 982.1L1208 985.3L1209 977.4L1210 972.6L1211 977.4L1212 979.7L1213 980.6L1214 972.7L1215 979.4L1216 972.7L1217 969.6L1218 970.8L1219 957.3L1220 963.4L1221 968.4L1222 974.9L1223 969.9L1224 971.1L1225 972.1L1226 971L1227 972.9L1228 975.4L1229 972.2L1230 974.4L1231 974.5L1232 975.5L1233 976.2L1234 975.5L1235 971.6L1236 967L1237 966.2L1238 968.2L1239 973L1240 971.7L1241 973.5L1242 979.2L1243 976.7L1244 975.1L1245 973.4L1246 968.2L1247 970.4L1248 969.9L1249 969.7L1250 972.4L1251 970L1252 972.4L1253 973.6L1254 976L1255 976L1256 974.2L1257 972.4L1258 963.9L1259 973L1260 972.8L1261 970.4L1262 969.6L1263 977.8L1264 977L1265 973.6L1266 976.7L1267 974L1268 972L1269 978L1270 975.5L1271 977.2L1272 973.1L1273 970.5L1274 969.2L1275 973.8L1276 970.2L1277 968.2L1278 977.4L1279 979.9L1280 981L1281 972.7L1282 974L1283 970.1L1284 976.9L1285 973.2L1286 970.1L1287 967.7L1288 961.7L1289 970L1290 975.4L1291 973.6L1292 971.9L1293 975.5L1294 970.6L1295 965.3L1296 958.4L1297 966.8L1298 961.2L1299 968.9L1300 969.7L1301 968.4L1302 962.9L1303 957L1304 962.5L1305 960.8L1306 966.4L1307 969.7L1308 966.4L1309 968.7L1310 970.5L1311 975.5L1312 978.5L1313 981.1L1314 975.3L1315 972.6L1316 977.7L1317 971.4L1318 967.7L1319 967.9L1320 968.1L1321 974.3L1322 973.4L1323 967L1324 949.4L1325 948L1326 940.6L1327 943.2L1328 959.4L1329 960.8L1330 963.1L1331 965.9L1332 967.1L1333 969.3L1334 970.2L1335 954.8L1336 975L1337 970.7L1338 967.1L1339 964.4L1340 965.9L1341 975L1342 972.5L1343 970.5L1344 969L1345 966.7L1346 964.2L1347 963.2L1348 966.9L1349 958.7L1350 966L1351 965.7L1352 956.6L1353 957.1L1354 962.1L1355 956.8L1356 954.4L1357 952.7L1358 932.1L1359 892.8L1360 914.7L1361 922L1362 935.2L1363 922.3L1364 956.9L1365 964.4L1366 965.7L1367 965.6L1368 970.3L1369 968.6L1370 966L1371 957.9L1372 948.4L1373 951.6L1374 953.7L1375 949.5L1376 942.6L1377 956.3L1378 952L1379 951.4L1380 958.1L1381 961.5L1382 960.6L1383 941.8L1384 938.7L1385 926.8L1386 941L1387 948.1L1388 943.7L1389 949.1L1390 941.5L1391 947.9L1392 952.1L1393 947.7L1394 949L1395 956.4L1396 950.4L1397 937.2L1398 946.1L1399 938.3L1400 928.8L1401 933.9L1402 920.5L1403 926.6L1404 916.4L1405 920.5L1406 917.3L1407 932.3L1408 925.2L1409 920.7L1410 915.4L1411 911.8L1412 919L1413 924.3L1414 930.1L1415 928.5L1416 944.3L1417 932.4L1418 931.7L1419 924.6L1420 927.2L1421 916.3L1422 931.3L1423 932.3L1424 941.2L1425 929.2L1426 905.9L1427 900.7L1428 920.8L1429 907L1430 904.8L1431 887.3L1432 884.7L1433 884.6L1434 898.1L1435 892.2L1436 888.9L1437 877.4L1438 881.8L1439 883.4L1440 887.2L1441 890.1L1442 877L1443 879.6L1444 864.9L1445 864.4L1446 900L1447 893.9L1448 904.8L1449 893.3L1450 908.5L1451 912.1L1452 907.3L1453 890.2L1454 873.9L1455 895L1456 921.2L1457 930.5L1458 926.7L1459 946.4L1460 944.5L1461 927.3L1462 908.3L1462 979.9L1461 983.4L1460 978.3L1459 982.2L1458 980.5L1457 986.3L1456 981.3L1455 968.6L1454 968.8L1453 978.5L1452 982.2L1451 975L1450 976.8L1449 966.9L1448 977.5L1447 975.9L1446 973.3L1445 964.6L1444 970.1L1443 978.1L1442 968.3L1441 976.7L1440 974.5L1439 968.3L1438 974.8L1437 970.3L1436 975.8L1435 981.8L1434 978.1L1433 979.4L1432 981.3L1431 974.2L1430 982.6L1429 976.7L1428 982.2L1427 973.1L1426 976L1425 978.3L1424 976.4L1423 974.9L1422 982.2L1421 976.4L1420 975.8L1419 980.1L1418 983.5L1417 978.9L1416 980.9L1415 981.8L1414 982.6L1413 981.9L1412 982.1L1411 977.5L1410 977.6L1409 981.3L1408 982.9L1407 983.1L1406 977L1405 978.9L1404 985.7L1403 980.9L1402 980.2L1401 979.8L1400 981.7L1399 981.9L1398 983L1397 985.9L1396 981.8L1395 982.1L1394 983.8L1393 987.6L1392 984.9L1391 983.7L1390 985.9L1389 986.5L1388 982.1L1387 984.2L1386 980.4L1385 986.9L1384 987.7L1383 988.1L1382 988.8L1381 990.4L1380 989.4L1379 987.3L1378 988.6L1377 989.3L1376 985.8L1375 986.4L1374 986.5L1373 986.5L1372 982.2L1371 988.5L1370 989.2L1369 989.2L1368 989.3L1367 987.8L1366 987.3L1365 986.3L1364 988.3L1363 985L1362 984L1361 979.2L1360 986.1L1359 980.8L1358 983L1357 986.9L1356 989.5L1355 986.9L1354 990.9L1353 985.8L1352 987.1L1351 989.8L1350 988.4L1349 991.6L1348 990L1347 987.6L1346 985.9L1345 989.5L1344 986.9L1343 988L1342 992.7L1341 991.5L1340 990.8L1339 990.8L1338 995.1L1337 994.3L1336 992.6L1335 994.6L1334 997.5L1333 997.4L1332 990.8L1331 993.1L1330 989.6L1329 991.9L1328 989.3L1327 986.6L1326 984.9L1325 987.7L1324 989.6L1323 989.3L1322 991.4L1321 991.8L1320 992L1319 990.8L1318 991.1L1317 991.1L1316 992.8L1315 992.3L1314 994.7L1313 993.1L1312 993L1311 994.2L1310 995.1L1309 991.5L1308 991.3L1307 992.1L1306 991.5L1305 992.2L1304 991.7L1303 990.7L1302 991.6L1301 991.4L1300 993.5L1299 993.5L1298 991.9L1297 992.3L1296 987.7L1295 990.3L1294 991.9L1293 991.8L1292 992.2L1291 992.8L1290 992.4L1289 992L1288 989.4L1287 991L1286 993.2L1285 993.2L1284 993L1283 991.9L1282 992L1281 991.3L1280 992.6L1279 994.4L1278 993.6L1277 992.8L1276 993.2L1275 994.5L1274 993.2L1273 994.2L1272 993.3L1271 994.9L1270 995.5L1269 996L1268 994.2L1267 995.5L1266 993.5L1265 994.6L1264 994.8L1263 995.7L1262 992.1L1261 992.3L1260 996.5L1259 996.5L1258 994.2L1257 993.6L1256 995.6L1255 995.4L1254 995.8L1253 994.4L1252 994.7L1251 995L1250 995.8L1249 994L1248 995.4L1247 996.3L1246 995.5L1245 993.3L1244 996.4L1243 993.2L1242 992.8L1241 994.6L1240 993.4L1239 993.6L1238 991.2L1237 991.7L1236 995L1235 991.6L1234 994.1L1233 994.6L1232 993.7L1231 992.9L1230 995.7L1229 994.1L1228 993.9L1227 992.7L1226 992.2L1225 991.7L1224 991.2L1223 991.3L1222 992.8L1221 993.3L1220 992L1219 993.2L1218 993.2L1217 992.7L1216 993.6L1215 992.6L1214 992.8L1213 1004.1L1212 1026.6L1211 1021L1210 1022.6L1209 1024.7L1208 1027.9L1207 1026.4L1206 1027.3L1205 1025.5L1204 1028.2L1203 1028.9L1202 1024.7L1201 1025L1200 1016.3L1199 999.5L1198 993.2L1197 994L1196 994.6L1195 994.5L1194 994L1193 993.1L1192 994.1L1191 993.1L1190 994.1L1189 994.1L1188 993.7L1187 994.1L1186 993.9L1185 993.7L1184 993.5L1183 992.1L1182 993.4L1181 992L1180 993.5L1179 993.4L1178 994L1177 994.1L1176 995.6L1175 994L1174 992.9L1173 994.9L1172 994.7L1171 995.1L1170 994.4L1169 995.9L1168 993.6L1167 994.3L1166 995.3L1165 994.7L1164 996L1163 995.5L1162 994.5L1161 995.1L1160 995L1159 993.6L1158 994.2L1157 993.2L1156 994.5L1155 991.1L1154 992.3L1153 992.7L1152 992L1151 992.1L1150 990.4L1149 990.7L1148 991.5L1147 990.8L1146 990.3L1145 990.6L1144 990L1143 990.3L1142 989.5L1141 991.6L1140 991.5L1139 989L1138 989.6L1137 991.8L1136 987.8L1135 990.7L1134 990.1L1133 990.1L1132 990.8L1131 992.3L1130 991.1L1129 990.6L1128 990.3L1127 989.1L1126 990.6L1125 991.4L1124 988.7L1123 989.6L1122 991L1121 989.6L1120 991.6L1119 991.1L1118 988.9L1117 989.2L1116 988.8L1115 987.5L1114 986.5L1113 988.2L1112 988.6L1111 988.3L1110 986.8L1109 987.5L1108 990.1L1107 988.4L1106 990.7L1105 989.3L1104 990.5L1103 989.8L1102 989.1L1101 993.9L1100 991.6L1099 992.5L1098 994.4L1097 995.6L1096 994.8L1095 992.4L1094 996.5L1093 995.4L1092 995.4L1091 994L1090 994.1L1089 993.5L1088 991.3L1087 992.1L1086 991.8L1085 989.3L1084 992.3L1083 993.6L1082 994L1081 994.2L1080 994.2L1079 994.9L1078 994L1077 994.1L1076 995.3L1075 995.1L1074 997.1L1073 995.8L1072 993.9L1071 993.9L1070 995.3L1069 996.9L1068 995L1067 994.2L1066 997.1L1065 993.6L1064 994.4L1063 994.8L1062 996.8L1061 996.4L1060 996.7L1059 997.2L1058 997.6L1057 994.7L1056 996.6L1055 995.8L1054 994.2L1053 997.4L1052 996.7L1051 995.1L1050 995.6L1049 993.2L1048 993.6L1047 996L1046 993.9L1045 995.9L1044 996L1043 995.1L1042 995.4L1041 996.4L1040 994.4L1039 993.5L1038 994.3L1037 995.3L1036 993.3L1035 993.9L1034 992.6L1033 990.5L1032 992.1L1031 990.3L1030 992.5L1029 993.8L1028 994.5L1027 993.8L1026 995.8L1025 993.3L1024 995L1023 996.2L1022 994.8L1021 994.6L1020 994L1019 993.8L1018 993.8L1017 992.4L1016 993.1L1015 994.6L1014 993.8L1013 994.5L1012 994.7L1011 995.1L1010 994.4L1009 995L1008 995.2L1007 995.4L1006 995.4L1005 993.9L1004 992.1L1003 989.8L1002 993.6L1001 994.7L1000 993L999 994.6L998 989.1L997 995.6L996 992.7L995 993.9L994 993.4L993 995.3L992 995.3L991 991.2L990 994.2L989 992.8L988 993.9L987 993.9L986 991.9L985 993.2L984 990.9L983 991.4L982 992.5L981 988.3L980 993.6L979 990.5L978 989.3L977 993.2L976 991.8L975 994.7L974 992.7L973 992.5L972 992.8L971 992.4L970 993.2L969 990.5L968 994.2L967 993.5L966 993.1L965 992.8L964 992.5L963 992.6L962 992.9L961 992.9L960 993.4L959 993.5L958 992.2L957 990.9L956 993.9L955 990.1L954 992.7L953 988.5L952 987.1L951 983.8L950 984.3L949 984.2L948 979.1L947 985.5L946 983.6L945 990.9L944 988.8L943 988.9L942 989L941 991.2L940 989.9L939 993.4L938 991.5L937 994L936 995.1L935 994.2L934 991.8L933 994.3L932 997.3L931 992.5L930 991.5L929 990.6L928 992.4L927 991.9L926 989.2L925 990.8L924 991.3L923 988.7L922 991.5L921 991.2L920 991.5L919 991.1L918 989.4L917 990.6L916 984.4L915 982.8L914 981.3L913 979.7L912 980.9L911 979.2L910 982.1L909 977.8L908 977.9L907 975.3L906 979.9L905 981.6L904 978.5L903 978.9L902 980L901 972.7L900 975.1L899 975.4L898 979.8L897 980.7L896 985.7L895 988.6L894 987.9L893 986.9L892 990L891 987.3L890 985.6L889 983.2L888 984.4L887 983.8L886 984.6L885 982.8L884 984.8L883 979.9L882 980.5L881 986L880 983.9L879 985.1L878 985.9L877 984.8L876 982.4L875 983.1L874 978.4L873 981.1L872 980.7L871 982.7L870 980.6L869 986.3L868 981.4L867 985.5L866 982.7L865 983.1L864 982L863 975.2L862 976.9L861 980L860 978.6L859 976.4L858 972.3L857 970.4L856 969.7L855 970.2L854 973.9L853 971.2L852 975.8L851 975.2L850 974.6L849 974.3L848 975L847 980.7L846 982.4L845 986.5L844 988.2L843 989.8L842 991.7L841 992.3L840 992.6L839 994.2L838 995.9L837 997L836 997.1L835 999.1L834 998.7L833 998.3L832 997.4L831 998.4L830 998.2L829 998.9L828 995.4L827 998.2L826 998.5L825 997.8L824 997.9L823 998.6L822 999.2L821 998.6L820 998.2L819 998.3L818 997.6L817 997.5L816 997.8L815 995.6L814 995.9L813 998.5L812 998L811 999.5L810 999L809 998.8L808 998.6L807 998.7L806 997.5L805 999.3L804 999.4L803 998.8L802 999.1L801 999.6L800 998.4L799 999.5L798 998.7L797 999.4L796 997.8L795 998.9L794 997.8L793 998.5L792 998L791 999L790 997.1L789 998.6L788 998.2L787 999.5L786 999L785 998.2L784 997.7L783 998.1L782 998.1L781 997.7L780 999L779 997.6L778 999.1L777 998.6L776 997.6L775 999L774 998.5L773 999.4L772 999.2L771 999.1L770 997.4L769 998.3L768 996.9L767 999.5L766 998.6L765 998.7L764 997.9L763 997.5L762 998.1L761 998.4L760 998.6L759 998.8L758 999L757 998.6L756 998.7L755 999.2L754 999.7L753 999.3L752 998.9L751 999.3L750 998.5L749 998L748 999.8L747 998.2L746 999.5L745 999.2L744 998.7L743 999.5L742 999.9L741 999.6L740 999.3L739 998L738 999.1L737 999.9L736 997.2L735 997.1L734 998.9L733 999L732 999.9L731 999.9L730 999.7L729 999.5L728 999.7L727 999.3L726 999.8L725 1000.2L724 999.7L723 1000.1L722 999.8L721 998.9L720 1000L719 999.6L718 998.8L717 999.6L716 998.4L715 999.7L714 999.9L713 999.1L712 998.4L711 998.5L710 999.3L709 998.6L708 998.9L707 999.5L706 998.5L705 998.9L704 998.6L703 998.3L702 998.3L701 997.6L700 999.9L699 999.2L698 999.3L697 998.5L696 998.7L695 998.9L694 999.1L693 998.9L692 998.8L691 998.8L690 998.5L689 998.5L688 998.9L687 997.7L686 998.3L685 999.1L684 998.8L683 998.9L682 998.7L681 999.4L680 998.4L679 999.2L678 998.7L677 998.6L676 998.3L675 998.7L674 998.3L673 998.9L672 999L671 998L670 998.1L669 999.3L668 999.5L667 999.8L666 999L665 999.2L664 999.6L663 999.4L662 999.4L661 998.9L660 999L659 998.8L658 998.9L657 999.7L656 999.2L655 999.1L654 998.5L653 999L652 998.6L651 999.6L650 999.5L649 998.9L648 999.2L647 998.4L646 998.1L645 999.1L644 999.6L643 999L642 998.3L641 998.9L640 999.1L639 999.6L638 999.5L637 999.9L636 999.3L635 998L634 999.2L633 1000L632 999.2L631 999.5L630 998.3L629 998.9L628 1000.5L627 1000.1L626 1000.2L625 999.1L624 998.5L623 997.5L622 997.2L621 997.5L620 996.5L619 999.1L618 998.8L617 999.3L616 999.3L615 999.4L614 999.4L613 999.3L612 999.3L611 999.6L610 998.9L609 999.4L608 999.5L607 998.8L606 998.7L605 998.7L604 999.4L603 999L602 999L601 997.9L600 996.7L599 997L598 997.4L597 998.5L596 998.7L595 998L594 999L593 999.6L592 998.7L591 999.7L590 999.6L589 998.7L588 999.2L587 998.6L586 998.9L585 998.8L584 998.1L583 998.6L582 997.8L581 998.9L580 997.7L579 998L578 998.3L577 999L576 998L575 999L574 999.2L573 998.5L572 997.4L571 998.7L570 998.3L569 999L568 998.7L567 999.1L566 997.9L565 999L564 997.6L563 998.8L562 998.6L561 998.9L560 998.1L559 999L558 999.2L557 997.9L556 998L555 999.1L554 998.5L553 998.1L552 998.5L551 998.9L550 998.9L549 997.9L548 998.3L547 998.3L546 999L545 998.1L544 997.9L543 999.1L542 998.4L541 998.6L540 998.7L539 998.7L538 998.4L537 998.4L536 998.5L535 998.9L534 998.1L533 998.5L532 997.3L531 997.2L530 996.8L529 998.5L528 997.6L527 997.5L526 996.9L525 997.4L524 994.6L523 993.8L522 997L521 996.6L520 995.4L519 996.7L518 998.7L517 997.2L516 997.9L515 998.1L514 998.1L513 998.4L512 999.4L511 998.8L510 997.7L509 998.3L508 998L507 998.9L506 998.3L505 999.3L504 999.2L503 998.5L502 998.8L501 999.2L500 999.7L499 999.6L498 1000.2L497 999.7L496 1000L495 999.4L494 1000L493 999.2L492 999.4L491 1000.4L490 999.6L489 999.9L488 998.8L487 999.6L486 999.9L485 999.8L484 999L483 999.2L482 998.3L481 998.3L480 998.2L479 999L478 998.9L477 998L476 997.8L475 997.3L474 997.9L473 998.4L472 997.5L471 996.8L470 998.3L469 997.9L468 997.7L467 997L466 997.1L465 996.3L464 994.8L463 997L462 997.5L461 996.2L460 995.8L459 996.2L458 997.7L457 997.8L456 998.4L455 998.4L454 998.7L453 998.6L452 999L451 998.8L450 998.7L449 998.1L448 997.8L447 998L446 998.1L445 999L444 997.9L443 998.7L442 998.1L441 998.1L440 998.3L439 999.6L438 999.2L437 998.3L436 997.7L435 997.9L434 997.8L433 999.3L432 999.5L431 999.7L430 998.9L429 999.1L428 1000.7L427 999.7L426 999.5L425 1000.7L424 999.1L423 1000L422 999.7L421 998.5L420 999L419 999L418 997.6L417 999L416 998.8L415 997.5L414 997.5L413 997.3L412 997.4L411 997.5L410 997L409 996.2L408 996.7L407 995.5L406 996.3L405 995.5L404 995.5L403 995.5L402 995.3L401 995.6L400 993.6L399 995L398 993.3L397 996.1L396 995.8L395 994.9L394 995.7L393 996.2L392 995.2L391 995.4L390 995.5L389 995.4L388 995.7L387 995.6L386 995.5L385 995L384 994.5L383 994.7L382 995.4L381 995.8L380 993.9L379 995.7L378 995L377 994.7L376 995.3L375 995.9L374 996.6L373 995.7L372 996.3L371 995.7L370 996.2L369 995.1L368 996.6L367 993.9L366 995.1L365 993.8L364 993.9L363 995.8L362 995.3L361 994.5L360 993.1L359 995.7L358 993.7L357 993.7L356 995.3L355 993.7L354 994.7L353 995.1L352 994.5L351 994.4L350 994.7L349 995.3L348 994.7L347 994.1L346 996.3L345 996.1L344 996.7L343 996.5L342 996L341 995.8L340 996.6L339 997L338 996.5L337 996.5L336 997.1L335 995.6L334 994.7L333 996.4L332 997L331 997.3L330 996.7L329 996.2L328 996.2L327 996.3L326 996.3L325 996.5L324 996L323 995.9L322 996.4L321 996.2L320 996.5L319 995.2L318 995.8L317 996L316 996.2L315 995.7L314 996.6L313 996.2L312 996.5L311 995.8L310 996.6L309 996.1L308 996.2L307 996.1L306 996L305 996.5L304 996L303 996L302 994.7L301 995.1L300 995.2L299 995.8L298 996L297 994.8L296 995.3L295 993L294 995.3L293 994.1L292 995.5L291 994.9L290 993.1L289 995L288 994.6L287 995.1L286 994.7L285 995.1L284 995.3L283 995.5L282 995.7L281 995.7L280 992.7L279 995.2L278 994.3L277 994.5L276 994L275 992.4L274 994.3L273 993L272 990L271 982.4L270 981.2L269 968.7L268 967.7L267 967L266 971.6L265 975.5L264 977L263 978.7L262 974.4L261 967.3L260 969.2L259 966.7L258 965.3L257 976.9L256 975.6L255 980.5L254 975.9L253 979.1L252 984.2L251 984L250 985.7L249 985.4L248 980.6L247 985.5L246 987.2L245 981.8L244 986.4L243 987.7L242 986.4L241 980.3L240 986L239 989.1L238 990.8L237 989.7L236 989.2L235 993.4L234 992.6L233 988.6L232 988.8L231 989.8L230 991.2L229 986.7L228 989.1L227 987.9L226 988.6L225 986.6L224 990.3L223 987.8L222 991.8L221 989.4L220 984.2L219 990.2L218 980L217 979.1L216 986.1L215 981.2L214 979.1L213 986.4L212 982.5L211 985.6L210 987.4L209 990.5L208 984.3L207 987.3L206 984.9L205 987.8L204 992.5L203 992.6L202 988.5L201 986.2L200 983.8L199 983.9L198 988L197 987.1L196 987.3L195 986.3L194 984.8L193 983.1L192 984.7L191 975.3L190 974.2L189 974.6L188 975.2L187 954.2L186 977L185 977.9L184 968.2L183 976.9L182 977.7L181 976.5L180 980.2L179 977.3L178 975.6L177 978.1L176 982.2L175 974.4L174 975.7L173 973.9L172 972.2L171 979.8L170 974L169 969.2L168 973.9L167 970.5L166 966.3L165 968.3L164 972.6L163 972.7L162 965.4L161 964.7L160 970.4L159 962L158 968.1L157 967.4L156 973.3L155 969.5L154 977.2L153 976.1L152 972.5L151 977.4L150 982L149 980.1L148 975.6L147 979.5L146 966L145 971.3L144 973.3L143 970.4L142 964.7L141 964.1L140 969.8L139 968.9L138 971.5L137 968.3L136 968.1L135 966.4L134 974.9L133 972.8L132 969.4L131 978.5L130 977.4L129 971L128 972.2L127 968.9L126 957.8L125 966.4L124 968.7L123 965.8L122 972.1L121 964.9L120 977.9L119 975.3L118 976.1L117 979.5Z" fill="#1f77b4" stroke="#1f77b4" stroke-width="5.7" stroke-linejoin="round"/>
<path d="M116.9 982.2h0m0.1-92.1h0m0.2 5.4h0m0.1-6h0m0.5 87.4h0m0.3-93.9h0m0.1 5.3h0m0-12.6h0m0.4 103.5h0m0.2-83.7h0m0.2-3.4h0m0.2 10.5h0m0.4 76.1h0m0.4-78.3h0m0.2-9h0m0.3-5.8h0m0.2 6.5h0m0.2 75h0m0.1-66.8h0m0.4-21.3h0m0.2 94.2h0m0.2-87h0m0-4.5h0m0.2-11.8h0m0.6 11.6h0m0-40h0m0.1 124.9h0m0.2-84.3h0m0.1-4.2h0m0-37.9h0m0-4.4h0m0.1 9.8h0m0.3-14.3h0m0 18.1h0m0.1 29.8h0m0 96.1h0m0.1-78.6h0m0.6 4.9h0m0.6 68h0m0-87.6h0m0.2-4.6h0m0.4-13.5h0m0.4 18.2h0m0.6-10.5h0m0.1 95.1h0m0-93.3h0m0.1-11.2h0m0.3 11.2h0m0.3 96.5h0m0.3-101.3h0m0.2 19h0m0.2-3.1h0m0.4 94.5h0m0-92.7h0m0.3 18h0m0.2 13.1h0m0.2 57h0m0.2-56.2h0m0.4-34.8h0m0.2 96.8h0m0.1-84h0m0.1 2.3h0m0.6 81.9h0m0.3-63.1h0m0.2 0.1h0m0.2-25.6h0m0.6 18.8h0m0.5-16.6h0m0 9.9h0m0.1 73.5h0m0.3-2.7h0m0.2-48.1h0m0.4-3.7h0m0.1 4.6h0m0.3-23.5h0m0 18.7h0m0.4-0.6h0m0.1 53.7h0m0.4-80.5h0m0 5.9h0m0.2 72.8h0m0.1-174.7h0m0.3 17.7h0m0.1 85.9h0m0.3-54.2h0m0.1 15.2h0m0.1 19.6h0m0.2 85.8h0m0.1-179.6h0m0 14.4h0m0.4 34.4h0m0.3 14.9h0m0-31.4h0m0.5 153.1h0m0.4-153.1h0m0 13.4h0m0.2 6h0m0.3 131.1h0m0.2-2.5h0m0.4-92.6h0m0.2 7.7h0m0.3-9.4h0m0.4 98h0m0.3-66.7h0m0.1-14.1h0m0.1 13.7h0m0.3-6.7h0m0.2-21h0m0.4 89.7h0m0.2-73.8h0m0.2-7.3h0m0.5-17.5h0m0.1 100.5h0m0.2-92.6h0m0.4 95.3h0m0.2-92.2h0m0.3-9h0m0.2 11.9h0m0.4 90.1h0m0.2-78.6h0m0-24.3h0m0.3 1.8h0m0.5 99.9h0m0.1-93.7h0m0.1 11.9h0m0.3 1.8h0m0.8-30.3h0m0.1 113.3h0m0-112.1h0m0.2 1.8h0m0 34.5h0m0-9.3h0m0.3 89.4h0m0.5-88.2h0m0.3 92h0m0.2-56.5h0m0.3-7.7h0m0.3-2.8h0m0.1-4.9h0m0.4 7.5h0m0.2 4.1h0m0.3 57.9h0m0.2-41.5h0m0-34.9h0m0.1 77.1h0m0.1-60.2h0m1-7.7h0m0 1.2h0m0 65.9h0m0.4-63.5h0m0.5 6.3h0m0.1-15.1h0m0.2 15.7h0m0.1 48.1h0m0.5-40.5h0m0.4-5.5h0m0.1 51.5h0m0.4-55.8h0m0 55.4h0m0.8-80.9h0m0 7.6h0m0 0.4h0m0.4 67.9h0m0.3-55.7h0m0.1-11.6h0m0.3-2.5h0m0.1 17.1h0m0.4 2.7h0m0.2-18.7h0m0.2 73.6h0m0.3-104h0m0.1 28.6h0m0.1 66.5h0m0.6-73h0m0.1-28.6h0m0.3-2h0m0.2-1.4h0m0 109.9h0m0.8-82.6h0m0.1-10.7h0m0.1-24h0m0.3 108.7h0m0.2-78.5h0m0.4 6.5h0m0.3 78.2h0m0.3-78.1h0m0.2-15.7h0m0.2-7.6h0m0.1 95.4h0m0.4-89.2h0m0.6-2.6h0m0.1 9.9h0m0.1 92.5h0m0.1-111.3h0m0.2 111.9h0m0.3-89h0m0.3-93.8h0m0.1 20.1h0m0-27.3h0m0 33.1h0m0 5.7h0m0-24.5h0m0.1 76.8h0m0.1 15.6h0m0.2-85h0m0 9.8h0m0-36h0m0 190.7h0m0.1-94h0m0.1-73.5h0m0-16.5h0m0.1 8.2h0m0.1 59.5h0m0.3 14.3h0m0.3-40h0m0.1 11.3h0m0.4 5.2h0m0.2 132.6h0m0.2-3.8h0m0.4-120.4h0m0.4-8.5h0m0 4.1h0m0.3 7.7h0m0-8.8h0m0.4 1.6h0m0.1 123.7h0m0.5-84.9h0m0.1-35.3h0m0.2 28.1h0m0.3 94.9h0m0.4-70.5h0m0.3-15.7h0m0.4 17.1h0m0.2 60.8h0m0.2-70.4h0m0.1-4h0m0.1-19.9h0m0.5 100h0m0.2-70.2h0m0.2-9.4h0m0.1-7.5h0m0 92h0m0.8-1.5h0m0-51h0m0.2-2.9h0m0 4h0m0.8 0.2h0m0.4-1.1h0m0.2-7.2h0m0.1 56.3h0m0.6-55.4h0m0.2 57.3h0m0.2-78.9h0m0 10.1h0m0.3 68.7h0m0.5-52.6h0m0-5.4h0m0.1-9.6h0m0.5 6.8h0m0.2 10.6h0m0.1 54.6h0m0.1-60.4h0m0.3 55.6h0m0.1-104.4h0m0.3 10.2h0m0-5.2h0m0.9 104.6h0m0-113.9h0m0.3-6.8h0m0.2 13.8h0m0.4 106.9h0m0.3-115.5h0m0 24.4h0m0.4-5.1h0m0.5 93.5h0m0.2-80.4h0m0.1 1.4h0m0.3-1h0m0 16h0m0.1-13h0m0.6 74.8h0m0.2-63.5h0m0.8-54.7h0m0 117.1h0m0.2-107.7h0m0.1 0.7h0m0.3 16.1h0m0.4-17h0m0.1 108.3h0m0.2-83.9h0m0 81.3h0m0-95.5h0m0.4-10.4h0m0.4 5.1h0m0.5-10.4h0m0.1-42.9h0m0-8.6h0m0.2 168.3h0m0.4-201.5h0m0.1 200.7h0m0.3-188.2h0m0 15h0m0.8 36.4h0m0.3 124.8h0m0.4-142.1h0m0-19.1h0m0.4 178.9h0m0.2-166.6h0m0.1 16.3h0m0.4-7.3h0m0.4 151.4h0m0.1-100.9h0m0.2-4.4h0m0 1.5h0m0.3 101.9h0m0.3-86.8h0m0.2-17.7h0m0.1 6.5h0m0.5-4.7h0m0.2-23.7h0m0 7.4h0m0.7 120.2h0m0.1-70.3h0m0.3-5.6h0m0.1 9.4h0m0.3 72.4h0m0.3-57.4h0m0.1 58.8h0m0.6-52.1h0m0.1-0.1h0m0.3 20.7h0m0-2.6h0m0.3 34.9h0m0.2-38h0m0.3 1.4h0m0.2-11h0m0.5 48.2h0m0.2-39.9h0m0.4-5.9h0m0.3 3.1h0m0.3 46.3h0m0.1-41.3h0m0.3 38.1h0m0.4-60.5h0m0.1 7.1h0m0.1 0.4h0m0.2-15.9h0m0 70.1h0m0.2-72.7h0m0.1 10.3h0m0.7 62h0m0.1-95.3h0m0.3 4.6h0m0.1-17.8h0m0.1 3.4h0m0-14.2h0m0.1 46.9h0m0-12.5h0m0.1-4.8h0m0-22h0m0.1 14.2h0m0.1-21.7h0m0 24.4h0m0.1-6h0m0 15.6h0m0.1 12.9h0m0.1-50h0m0 27.1h0m0-28.8h0m0-3.2h0m0.1 12.6h0m0 8h0m0.1 22h0m0 80.8h0m0.1-85.3h0m0.1 17.3h0m0.5 70.1h0m0.4-91.6h0m0.2 4.2h0m0.1 2.2h0m0.6 7h0m0.1 79.4h0m0.1-78.2h0m0.1 0.3h0m0.1 38h0m0.3-4h0m0.1 6.3h0m0.2 42.5h0m0.8 1.3h0m0.1-47.2h0m0.1 8.5h0m0-0.5h0m0.7 37.9h0m0.3-44.8h0m0.2-0.5h0m0.2-10.9h0m0.4 49.8h0m0.3-59h0m0.1 7.7h0m0.2-9.7h0m0.2 61.3h0m0.4-70.6h0m0.1-0.5h0m0.1 2h0m0.4 68.5h0m0.4-63.2h0m0.3-0.8h0m0 6.6h0m0.5 61.1h0m0.3-57.9h0m0 15.7h0m0.2-6.6h0m0.3 10.4h0m0.1 1.8h0m0.4 38.6h0m0.2-50.1h0m0.2 44.9h0m0.6-48.7h0m0.1 0h0m0.1-1.8h0m0.4 46.9h0m0.3-81.7h0m0.3-17.7h0m0.1-3.6h0m0.5-6.9h0m0.1-3.7h0m0.1 117.5h0m0.2-98.7h0m0.4 4h0m0-1.1h0m0.1-41h0m0.2 130.2h0m0.5-122.5h0m0.1-20.7h0m0.1 16h0m0.5 130.9h0m0.3-79.5h0m0.1-4.8h0m0 88.5h0m0.1-93.3h0m0.2-79.1h0m0.4-16h0m0 21.7h0m0.1-11.3h0m0-24.7h0m0.1 4.6h0m0.2 35.3h0m0.1-29.8h0m0.2 186.3h0m0-129.4h0m0.1 7.4h0m0-54.8h0m0.2 64.7h0m0.3 16.7h0m0.2-10.2h0m0.1 105.1h0m0-158.6h0m0.1-31.8h0m0.1 99.2h0m0.2-92.3h0m0.2 19.8h0m0.1 114.9h0m0-128.6h0m0.2 111.4h0m0.1-106.4h0m0-23.5h0m0.2 136.6h0m0.1 69.6h0m0.3-69h0m0.5 61.1h0m0.4-59.2h0m0 0.5h0m0.6 65.9h0m0-65.5h0m0.1 5.4h0m0-11.4h0m0.4 28h0m0.2 43.8h0m0.1-50.5h0m0.2 8.2h0m0.5 7.8h0m0 31.6h0m0.2-25.7h0m0.5 4.2h0m0.2-11h0m0.1 1.2h0m0.6-1.8h0m0.2 34.7h0m0.3-48.2h0m0.1 44.9h0m0-35.7h0m0.4-4.2h0m0.5 43h0m0.2-69.9h0m0.2-0.5h0m0.2-0.2h0m0.3 4h0m0.3-2.6h0m0.4 68.6h0m0.2-54.3h0m0-5.1h0m0.4-5.6h0m0.2 64.9h0m0-59.6h0m0.5 14.5h0m0 0.1h0m0.3-3.2h0m0.5 45.6h0m0.2-21.6h0m0.2-16.1h0m0 17.5h0m0 24.6h0m0.8-35.1h0m0.2 34h0m0.1-35.4h0m0 2.6h0m0.7-5.4h0m0.4 37h0m0.1-35.5h0m0.2 0.1h0m0.4-1.2h0m0.2 3.2h0m0.2-7.8h0m0.1 43.1h0m0.5-27.8h0m0.2 2h0m0.1 28.2h0m0.2-26.1h0m0.3 26.4h0m0.1-21.3h0m0.1 0.5h0m0.5 1h0m0.5-12.5h0m0.2 1.2h0m0.2 29.1h0m0.3-28.9h0m0.6-9.1h0m0.2 37h0m0-38h0m0.1 0.9h0m0.8-3.8h0m0.1-5.2h0m0.1 49.4h0m0.1-40.7h0m0.2-7.4h0m0.1-7.2h0m0.1 2.8h0m0.5 48.5h0m0.2-69.1h0m0-1.8h0m0.2-16h0m0.5 86.2h0m0.3-68.4h0m0.4 61.9h0m0.2-72.8h0m0.3 21.1h0m0.3-0.2h0m0.2 55.8h0m0.4-56.5h0m0.1-22.8h0m0.1 27.7h0m0.1 52.9h0m0.2-68.3h0m0 16.7h0m1.1-12.2h0m0 3.5h0m0.5-0.6h0m0 63.1h0m0.4-64.1h0m0.4 2.4h0m0-1.5h0m0.2 59.4h0m0.4 1h0m0.1-58.2h0m0.2-23.9h0m0.1 30.1h0m0.4-3.3h0m0.3 53.7h0m0-54.1h0m0.1-8.5h0m1-6.2h0m0.1 66.7h0m0.1-59.7h0m0.1 6.3h0m0.4 55.5h0m0.6-61.6h0m0.1 7.4h0m0.1-5.5h0m0.2 59.9h0m0.5-36.3h0m0.2 2h0m0 0.5h0m0.1 32.8h0m0.8-35.2h0m0 4.2h0m0.1-2.5h0m0.6-6.8h0m0.1-3.8h0m0.1 43h0m0.3-34.8h0m0.2 31.8h0m0.1-59.6h0m0.3 6.7h0m0.3 1.5h0m0.2-8.8h0m0 56.1h0m0.4-63h0m0.3 3.9h0m0.6 13.1h0m0.2 3.5h0m0-2.3h0m0.2 50.4h0m0.8-67.2h0m0.1-11.2h0m0.1 73h0m0.2-67.6h0m0 69.2h0m0.6-92.3h0m0.1 0h0m0.2-35.2h0m0.5 118.3h0m0.2-136.5h0m0.2 37.1h0m0 9.7h0m0.1-37.1h0m0 26.5h0m0-39.8h0m0.2-5.7h0m0.1 16.3h0m0.1 134.2h0m0-156.1h0m0.2 59.3h0m0.2 6.1h0m0.2-9.7h0m0.2 99.2h0m0.1-98.3h0m0.5-17.6h0m0.3 1h0m0 15.8h0m0.3 2h0m0.2 96.4h0m0.1-107.6h0m0.5 111.4h0m0.1-100.6h0m0.6 0.4h0m0.1-11.8h0m0.3 16.9h0m0 13h0m0.1-8.2h0m0.3 94h0m0.5-76.3h0m0.1-2.3h0m0-40h0m0.3 120.1h0m1-5.3h0m0-109.8h0m0.3-32.1h0m0.1 3.7h0m0.2 140.5h0m0.6-103.1h0m0.1 7h0m0.1-3.1h0m0.7-60.9h0m0.2 10.9h0m0 137.8h0m0.2-144.1h0m0.2 9.9h0m0.1-21.2h0m0.1 158h0m0.6-131.1h0m0.2-33.2h0m0 11.1h0m0.1-14.8h0m0.3-129h0m0 79.7h0m0 36.6h0m0.1-60.6h0m0.1 9.8h0m0-90.9h0m0 56.1h0m0 8.2h0m0 261h0m0-201.2h0m0.1 11.6h0m0 14h0m0 3h0m0.1-138.1h0m0-28.3h0m0.1 29.3h0m0 115.1h0m0-61.9h0m0 131.8h0m0.1-220.2h0m0 138.6h0m0-82.9h0m0.1 119.6h0m0-116h0m0 162.5h0m0.1-248.7h0m0 192.2h0m0.3 189.6h0m0.2-132.8h0m0.2 41.6h0m0.2-4h0m0.1 95.6h0m0-94.1h0m0.7 60.9h0m0.1 40.7h0m0.3-49h0m0.2 4.7h0m0.3 10.8h0m0.1 2.2h0m0.2 33.9h0m0.1-31h0m0.7 11.6h0m0.3 0.7h0m0.1 20.4h0m0.2-20.1h0m0.8-0.2h0m0.1-2.5h0m0.1 1.9h0m0.2 19.9h0m0.2-23.2h0m0.2 23.5h0m0.1-20.4h0m0.5-1.9h0m0.3 7.4h0m0.3-1h0m0.2-3.8h0m0.2 21.1h0m0.3-16.3h0m0.2-4.1h0m0 2.3h0m0.1 18.6h0m0.6-15.8h0m0.3-9.4h0m0.4 25.7h0m0-16.8h0m0.3-2.4h0m0.2 0.2h0m0-1.9h0m0.4 19.3h0m0.3-16.2h0m0.1-3.9h0m0.4 4.9h0m0.1 16.2h0m0.6-21.3h0m0 4.5h0m0.2 17.4h0m0-14h0m0.8-1.3h0m0.3 15.6h0m0-15.6h0m0.1 0.3h0m0.6 4.2h0m0.2 10.1h0m0.1-11.6h0m0.5 1.3h0m0-6.3h0m0.3 2.1h0m0-1.8h0m0.2 16h0m0.7-17.6h0m0.1 6.3h0m0 0h0m0 10.7h0m0.7-11.9h0m0.4 0.1h0m0 0h0m0.3 12.8h0m0.5-0.8h0m0.3-10.3h0m0.2-1.1h0m0.3 0.6h0m0.2 11.8h0m0.5-10.7h0m0.1-1.6h0m0.1-1.6h0m0.7 10.9h0m0.1-13.3h0m0.1 0.5h0m0.1-3.9h0m0.2 18.5h0m0.2-23.2h0m0.1 2h0m0.4 1.7h0m0.2 5.5h0m0.1-0.9h0m0.2-0.8h0m0.4 16.8h0m0.4-13.3h0m0.1-1.4h0m0.4-1.8h0m0.3 14.8h0m0.3 1.2h0m0.1-14.6h0m0.3-3.5h0m0 3.9h0m0.6-6.2h0m0.1 4.4h0m0.2-2.7h0m0.1 18.5h0m0.5-16.2h0m0.3 1.4h0m0.1 1.9h0m0.2 13.4h0m0.3-13.2h0m0.1 13.4h0m0.1-14.8h0m0-0.4h0m1-1.5h0m0.1-1.4h0m0.1 2.4h0m0.2 15.9h0m0.8-13h0m0.1 3.1h0m0-0.5h0m0.2 11h0m0.3-12.4h0m0.7 0.1h0m0-1.6h0m0.1 13.3h0m0.5-12.9h0m0.2 11.9h0m0.1-11.2h0m0.3-1.3h0m0.4 1.4h0m0.2-0.9h0m0.1 1.3h0m0 11.3h0m0.5-17.8h0m0.1 5.8h0m0.1-3.5h0m0.2 16.2h0m0.6-9.3h0m0.1 0h0m0.1-1h0m0.6 10.5h0m0.2-12h0m0.3 2.8h0m0.5 9.4h0m0.1-10.2h0m0.2-8.3h0m0-0.2h0m0.2 0.8h0m0.4 18.1h0m0.5-16.1h0m0.4 1.1h0m0.2 14.3h0m0.1-14.2h0m0 14.3h0m0.4-16.3h0m0.5 1h0m0 0.1h0m0.2 6.3h0m0.1-0.2h0m0.4 0.7h0m0.3 8.8h0m0.2-10.9h0m0.3 0.2h0m0.4 1h0m0.1 9.6h0m0.6-13.2h0m0.1 12.3h0m0.1-12h0m0.3 1.1h0m0.2-0.9h0m0.2 12.6h0m0.3-12.1h0m0 0.5h0m0.5 11.4h0m0.2-12.4h0m0.1-1.2h0m0.1 0.9h0m0.5 13.1h0m0.2-14.7h0m0.1 0h0m0 1.7h0m0.7-2.9h0m0 14.7h0m0.1-11h0m0.1 1.2h0m0.9-1.4h0m0 12.5h0m0.2-10.7h0m0.1-0.2h0m0.5 10.5h0m0.4-9.6h0m0.2 1.3h0m0.1-0.2h0m0.8 8h0m0.3-15.5h0m0-2h0m0.1-2.7h0m0.2 6.1h0m0.1 2.1h0m0.3 0.2h0m0.4 11.5h0m0.2-16.3h0m0.1 1.6h0m0.1 16.3h0m0.1-16.9h0m0.8-0.1h0m0.1 15.8h0m0-15.5h0m0.2 0.1h0m0.8 15.8h0m0.4-11.7h0m0.1-2.9h0m0.2-2.8h0m0.3 7h0m0.2-0.2h0m0.2-0.7h0m0 10.8h0m0.4-0.1h0m0.3-7.3h0m0.5 0.2h0m0.1-1.3h0m0.1 2.6h0m0.3 6.6h0m0.4-7.8h0m0.2-1.5h0m0.1 0.1h0m0.3 9.1h0m0.1-10h0m0-1.4h0m0.5-0.1h0m0.2-2h0m0.2 0.8h0m0.6 12.7h0m0.2-13.2h0m0.1 2.1h0m0 11.3h0m0-10h0m0.7-0.7h0m0.3 0.2h0m0.4-1.1h0m0.3 10.9h0m0.1-11.2h0m0.1 1.7h0m0.5 0.2h0m0 9.9h0m0.4 0.6h0m0-12.6h0m0.8 2.2h0m0.1-0.6h0m0.1 1h0m0.2 0.8h0m0-2.3h0m0.1 11.1h0m0.7-12.2h0m0.2-0.6h0m0.4 0.3h0m0.2 12.2h0m0.1-1.6h0m0.1-11.2h0m0.2 2.6h0m0.5-0.6h0m0.2-2.8h0m0.2-2.9h0m0.1-2.4h0m0.5 18h0m0.5-11h0m0 1.3h0m0.1-1.8h0m0 12.8h0m1.1-9.9h0m0 0.3h0m0.1 9.6h0m0.1-12.7h0m0.4 5.9h0m0.3 6.4h0m0.3-7.7h0m0.1 0.4h0m0.2 7.7h0m0.2-10.1h0m0.1 0.9h0m0.1-2.1h0m0.7 0.4h0m0.1-0.6h0m0.1 1h0m0.2 10.3h0m0.5-0.5h0m0.2-8.9h0m0.1 2.3h0m0-1.2h0m0.9-1.3h0m0.3-0.1h0m0.2 0.1h0m0.1 9h0m0.3 0.4h0m0.2-11.5h0m0.6 2.1h0m0 0.1h0m0.3 9.8h0m0.3-12.8h0m0.2 0.5h0m0.2 1.3h0m0.5 10.2h0m0.1-13.7h0m0.2-0.6h0m0.3-2.6h0m0.1 17.2h0m0.3-16.7h0m0.1-5h0m0.1 5.6h0m0.8 15.7h0m0.5-29.1h0m0-0.4h0m0.1 3.3h0m0.3 24.9h0m0.3-33h0m0.2-0.7h0m0.1-6.8h0m0.5 41h0m0.1-34.1h0m0.4-4.9h0m0.1 12.3h0m0.1-4.7h0m0.1-5.2h0m0.2 1.5h0m0.2 34.8h0m0.4-28.6h0m0.1-2.8h0m0.1 2.2h0m0.1 29.8h0m0.8-23.1h0m0.3-1.6h0m0.2-2.9h0m0.3 27.9h0m0.3-29h0m0-2.7h0m0 1.8h0m0.4 29.4h0m0.7-39.6h0m0 12.8h0m0.3-3.9h0m0 31.6h0m0.6-34.2h0m0.2 8.1h0m0.3 0.2h0m0.1 23.7h0m0.6 2.3h0m0.1-29.9h0m0.2 1.8h0m0.2-5.2h0m0.5 31.3h0m0.2-27.5h0m0.1-0.6h0m0.2 2.9h0m0.1 3.4h0m0.1-2.4h0m0.3 24h0m0.2-20.5h0m0.5-2.6h0m0.1 1.7h0m0.3-4h0m0.3 26.7h0m0.2-21.3h0m0.1-3.2h0m0.1 2.7h0m0.3 20.7h0m0.5 0.7h0m0.1-18.2h0m0-0.6h0m0.4 0.8h0m1 0.3h0m0.1 1.7h0m0.1-5.8h0m0.1 23.6h0m0.7-22.5h0m0.2 1.8h0m0-5.5h0m0.2 25.9h0m0.2-19.5h0m0 18.2h0m0.3-21.6h0m0.1 7.7h0m0.6-1.4h0m0 0.4h0m0.3-0.7h0m0.4 14.7h0m0.2-14.3h0m0.1 2.5h0m0.1-0.1h0m0.5 12.7h0m0.5-16.3h0m0-1.4h0m0.4 16.2h0m0.4-19.5h0m0.2 22.5h0m0-20.2h0m0.1 0.5h0m0.4-0.3h0m0.7 4.3h0m0.1-0.3h0m0.1-1.7h0m0.1 16.8h0m0.8 0.5h0m0-16.1h0m0.1 1.8h0m0.3 0.6h0m0.5 13.8h0m0.1-20h0m0.1 2.6h0m0.1-2h0m0.3 19.2h0m0.6-14.1h0m0-4.3h0m0.4 1.7h0m0 8h0m0.3-1h0m0.5 1h0m0 8h0m0.6-9.8h0m0 0.6h0m0.5 10.5h0m0.1-10.6h0m0.1-0.6h0m0.1 10.6h0m0.4-12.6h0m0.2 2.2h0m0.8-10.7h0m0.1 21.6h0m0-24.2h0m0.2 0.2h0m0.8 4.5h0m0.2 0.7h0m0-6h0m0.1 23.6h0m0.1 0.8h0m0.1-19h0m0.7 2.5h0m0.1-1h0m0.3 4.3h0m0.3-0.2h0m0.1 0h0m0.3 12.8h0m0.2-18.8h0m0.4 1h0m0.1 0.2h0m0.2 16.5h0m0.2-17.7h0m0.2 19.5h0m0.3-17.8h0m0.4 0.8h0m0.1 4.7h0m0.1-7.4h0m0.2 18.6h0m0.1-13.7h0m0.7 0.7h0m0.1 1.5h0m0.3 11.1h0m0.3-11.5h0m0.2 0.3h0m0.3-2.5h0m0.2 14.4h0m0.3-13.9h0m0.5 13.3h0m0-13h0m0 0.5h0m0.6-3h0m0.1 2.1h0m0.2 13.8h0m0.3-15.4h0m0.2 1.2h0m0.6 15.4h0m0.3-16.3h0m0.2-0.1h0m0.1 2.6h0m0.3 12.8h0m0.4-17.9h0m0.2 0.6h0m0 1.5h0m0.5-2h0m0.3 18.3h0m0.1-15h0m0.1-1.2h0m0.2 1.2h0m0.2-2.9h0m0.1 1.4h0m0 15.8h0m0.7-12.6h0m0.2 1.9h0m0.1 0.7h0m0.1 10h0m0.5-8.5h0m0.1-0.8h0m0.2 9.3h0m0.1-8.7h0m0.6-1.6h0m0.2 2.4h0m0 8.7h0m0.3-10.2h0m0.6 10.3h0m0.4-9.9h0m0.3-2.3h0m0.2 1.6h0m0.5-4.9h0m0.3 14.3h0m0.1-13.2h0m0.1-1.3h0m0.4 15.6h0m0.1-9.8h0m0.1-3.3h0m0.2 3.9h0m0.8-1.1h0m0.1 10h0m0.1-8.4h0m0.1-0.9h0m0.6 6.8h0m0.1-12.1h0m0.2 0.7h0m0.1 0.9h0m0.3 1.5h0m0.2 10.8h0m0.1-10.8h0m0.5-4.3h0m0.2 1.6h0m0.2-2.2h0m0.1 0.1h0m0.2 15.4h0m0.3-16.3h0m0 1.2h0m0.2-0.4h0m0.3 16.3h0m0.6-15.4h0m0.2 15h0m0.3-15h0m0.1-3.8h0m0.8 19.2h0m0.2-17.5h0m0-2.4h0m0.1 4.9h0m0.7 14.7h0m0.1-19.7h0m0.1 3.6h0m0.2 1.7h0m0.2 14.3h0m0.5-20.1h0m0.1 1.4h0m0.1 2h0m0.3 17.7h0m0.5-14h0m0.3-2.1h0m0 0.3h0m0.2 16.1h0m0.4-13.1h0m0.1 3.4h0m0.3-1.9h0m0.7 1.4h0m0-0.2h0m0.2-0.3h0m0.1 11.2h0m0.5-1h0m0.1-9.4h0m0.2 0.6h0m0.2-0.8h0m0.2-2.8h0m0.1 1.4h0m0.2-0.6h0m0.5 12.9h0m0.2-9.2h0m0.3-4.3h0m0.1 5h0m0.2 8.6h0m0.4-11.2h0m0.1-2.2h0m0.3 0h0m0.5 13.3h0m0.1-10.6h0m0.1-0.3h0m0.2-0.2h0m0.6 11h0m0.2-6.8h0m0.3 0.1h0m0-2.1h0m0.1 9.6h0m0.7-7.8h0m0.2 7.4h0m0.2-6.2h0m0.1 0.3h0m0.8-2.2h0m0 9h0m0-10.5h0m0.4 2.3h0m0.1 8.3h0m0.4-7.9h0m0.4-0.9h0m0.1-1.6h0m0.3 10.3h0m0.5-14.1h0m0-0.8h0m0.2-0.1h0m0.5-0.6h0m0.1 15.9h0m0.1-15.1h0m0.2 3.5h0m0.1 2.2h0m0.2-2.4h0m0.5 12.1h0m0.3-11h0m0 0.5h0m0.2 9.9h0m0.2-9.9h0m0-0.2h0m0.7 0.1h0m0.2-0.8h0m0.1 1.1h0m0.3 10.6h0m0.6 0.5h0m0.2-9.8h0m0.3-2.9h0m0.2 2.5h0m0.5-0.9h0m0.1 2h0m0.1 0.1h0m0.3 8h0m0-11.2h0m0.3 1.6h0m0.1-0.3h0m0.3 11.4h0m0.4-12.9h0m0.2 0.2h0m0.2-0.8h0m0.1 12.3h0m0.4-10.3h0m0.4 0h0m0.4 0.9h0m0.2 10.8h0m0.5-0.2h0m0.4-10.1h0m0-1.7h0m0.1 1.9h0m0.5 9.3h0m0.1-10.5h0m0 2.1h0m0.1 0.9h0m0.3 1h0m0.4-0.2h0m0.1 6.6h0m0.1-6.2h0m0.5-6h0m0 2.4h0m0.6 9.5h0m0.3-10.9h0m0 10.9h0m0.6-17h0m0.2 5.9h0m0.2-0.9h0m0.4 11.8h0m0.1-17h0m0.1 0.5h0m0.3-2h0m0.4 18.8h0m0.3-16h0m0.1-0.4h0m0.3 0.2h0m0 1h0m0.2-1.2h0m0.1 1.5h0m0.2 14.6h0m0.6-13.2h0m0.1-4.3h0m0.3 1.9h0m0.5 13.7h0m0-12.9h0m0.2-5.3h0m0.1 19h0m0.4-12.5h0m0.3 13.6h0m0.3-16.9h0m0.1 0.6h0m0.2 1h0m0.4 2.5h0m0.1 1.4h0m0.4-0.9h0m0.5 12.6h0m0.4-0.8h0m0.4-12.4h0m0.1 0.8h0m0-1.5h0m0.2 13.5h0m0.6-16.4h0m0.1-0.6h0m0.2 0h0m0 6.2h0m0.2 10.3h0m0.3-10.3h0m0.1-1.6h0m0.9 2.2h0m0-2.1h0m0.2 11.7h0m0.2-9.2h0m0.2 0.4h0m0.1-1.3h0m0.1 2.5h0m0.3 7.4h0m0.5-10.9h0m0.1 1.1h0m0.1-0.3h0m0.6 10.4h0m0.3-10.5h0m0.2 10.4h0m0-8.5h0m0.1 0h0m0.7-3.3h0m0-0.4h0m0.1 11.3h0m0.2-11.5h0m0.7 0.4h0m0.1 0.5h0m0 1.3h0m0.1 10h0m0.7-7.2h0m0.4-0.6h0m0 0.3h0m0.5 7.3h0m0-4.4h0m0.1-0.1h0m0.1 4.8h0m0.1-5.8h0m0.7 0.1h0m0.3-0.8h0m0.6 6.5h0m0.1-7.4h0m0.1-0.6h0m0.5 8.4h0m0-9h0m0.4 0.3h0m0 1.3h0m0 0h0m0.1 7.4h0m0.2-9.5h0m0.7-2h0m0.2 11.4h0m0-11h0m0.1-1h0m0.8 1.2h0m0 0.1h0m0.4-0.1h0m0.5 10.1h0m0.3 1h0m0.4-16.1h0m0 2h0m0 2h0m0.8 10.9h0m0.1-13.4h0m0-0.9h0m0.2 2.4h0m0.3-1h0m0.4-5.5h0m0 18h0m0.5-12.6h0m0.1-10.9h0m0.3-4.2h0m0.2 29.3h0m0.4-24.3h0m0.2 22h0m0.1-21.8h0m0.1 0.2h0m0.2-3.9h0m0.6 25.4h0m0.1-16.6h0m0.5-4.2h0m0.1 7h0m0.4-6h0m0 21.4h0m0.2-19.9h0m0.4-0.8h0m0.3 20.8h0m0.3-22.9h0m0.2-1.4h0m0.2 0h0m0.4 22.1h0m0.4-19.1h0m0.1 0.3h0m0.1-5h0m0.1 26.2h0m0.1-19h0m0.2 4.5h0m0.3-4.3h0m0.5 0.7h0m0 4.2h0m0.3 12.1h0m0.1-15.8h0m0.5 0.4h0m0.3 2.1h0m0.2 15.1h0m0.1-15.8h0m0.6 3.5h0m0.1 11.5h0m0.2-11.6h0m0.3 1h0m0.8-2.2h0m0.3 12.6h0m0.1-10.4h0m0 0.3h0m0.1-7.6h0m0.1 4.2h0m0.6 14h0m0.1-15.8h0m0.8 2.5h0m0 12.4h0m0.2-12.5h0m0.1-1.5h0m0.3 15.3h0m0.3-11.2h0m0.2-1.4h0m0.1-0.7h0m0.2 13h0m0.2-10h0m0.2 0.6h0m0.2-1.5h0m0.3 0h0m0.3 11.2h0m0.3-11.1h0m0.4 0.1h0m0 9.9h0m0.1-15.4h0m0.5 1.5h0m0 0h0m0.7 0.4h0m0.2-1.3h0m0.2 1.5h0m0.1 13.7h0m0.5-10.1h0m0.1 0h0m0.3 0.6h0m0.1 10.2h0m0.4-8.5h0m0.1 0h0m0.3 9.3h0m0.3-11h0m0.2 10.6h0m0.6-10.6h0m0.1-0.8h0m0.1 2.2h0m0.4 8.8h0m0.2-10.9h0m0.1-0.3h0m0.3-0.6h0m0.5-1.2h0m0.2 13.4h0m0.1-17.7h0m0.3 0.2h0m0.6-2.1h0m0.1-0.3h0m0.1 0h0m0.1 19.4h0m0.2-13.6h0m0.1 2.3h0m0.5 12.7h0m0.2-14.1h0m0.4 1.7h0m0.1 2.1h0m0.2 1.2h0m0.1 8h0m0.4-6h0m0-0.3h0m0.2-0.6h0m0.1 7.8h0m0.7-5.9h0m0.2 0.2h0m0-0.5h0m0.6 6.3h0m0.1-13.4h0m0.2 13.4h0m0.2-10.7h0m0-0.9h0m0.6 0.5h0m0.3-0.2h0m0 0.3h0m0.4 11.5h0m0.7-12.1h0m0.1-0.5h0m0.1 12.1h0m0.4-13.3h0m0.4 13.9h0m0.2-19.8h0m0.2 2.9h0m0.1 0.6h0m0.3 16.1h0m0.5-17.8h0m0.2-2.3h0m0.1 0.1h0m0.6 5.5h0m0.1 2.5h0m0.1-6.5h0m0 17.7h0m0.3 0.5h0m0.1-12.6h0m0 2.3h0m0.4 0.9h0m0.6-2.9h0m0.5 12.7h0m0.1-11.6h0m0-1.8h0m0.7 3.8h0m0.1 9.7h0m0.2-11.3h0m0.2 2.3h0m0.4-1.2h0m0.1 9.6h0m0.1-11.5h0m0 1.5h0m0.5 10h0m0.1-11.6h0m0-0.3h0m0.1 0.7h0m0.7 2.3h0m0.1-0.6h0m0.2-0.2h0m0.3 10.2h0m0.5-7.7h0m0 0.3h0m0.3 0.4h0m0.1 6.3h0m0.7-12.8h0m0.1 0.2h0m0.2-0.1h0m0.3 12.8h0m0.3-12.8h0m0 2.8h0m0.3-3.5h0m0.3 12.9h0m0.4-11.9h0m0.1 11.8h0m0-10.6h0m0.5-0.3h0m0.4 2.8h0m0.4-0.8h0m0.4-0.1h0m0 9.3h0m0.7-7.2h0m0-1.7h0m0.3-0.4h0m0.1 9.2h0m0.1-8.6h0m0.5-0.2h0m0.2 8.7h0m0-8.5h0m0.4-0.7h0m0.3 8.7h0m0.2-10.1h0m0.2 1.5h0m0.6-2.5h0m0.4 1.7h0m0 10h0m0-9.8h0m0.5-3h0m0 1.1h0m0.1-1.5h0m0.1 11.9h0m0.5-10.6h0m0.3 12.2h0m0.2-13.3h0m0.3 0.9h0m0.4 0h0m0 0h0m0.3-0.9h0m0.2 11.5h0m0.5-9h0m0.1-0.8h0m0.4 1.8h0m0.2 9.6h0m0.5-12.8h0m0.2 2.3h0m0.1 10.5h0m0.1-13h0m0.5 12.7h0m0.2-14.5h0m0.3 4.4h0m0-3.8h0m0.3 1.1h0m0.3 1.5h0m0.1 11.1h0m0.2-11.3h0m0.2 11h0m0.5-13.6h0m0.1 0.6h0m0.2-1.6h0m0.4 14.4h0m0.2-16.2h0m0.3 1.3h0m0.1-3.3h0m0.6 17.7h0m0.2-23.5h0m0.1-2.9h0m0.1-3.2h0m0.6 30.4h0m0.3-21.7h0m0.3 5.1h0m0-9.5h0m0.1 3.4h0m0.5-4.2h0m0 4.4h0m0.3 21.2h0m0.2-26.6h0m0 0.2h0m0.1 25.9h0m0.2-26.4h0m0.6-4.6h0m0 32.8h0m0.8-31.4h0m0.1-0.2h0m0.3-12.5h0m0.1-0.9h0m0 8.6h0m0.4 35h0m0.5-39.1h0m0.1 37.1h0m0.2-28.2h0m0.2 0.4h0m0.3-17.3h0m0.2 7.1h0m0.1-0.2h0m0.2 41.4h0m0.6-46.5h0m0.1 0.1h0m0.1 0.8h0m0.3 45.6h0m0.6-35.4h0m0.1 0.7h0m0 0.3h0m0.6 33.6h0m0.6-14.5h0m0.3-1.5h0m0.1 0.1h0m0.1 15.9h0m0.1 1.4h0m0.4-22.8h0m0.1 5.7h0m0.2-0.8h0m0.9-6.2h0m0.1-2h0m0.1 25.7h0m0.1-21.8h0m0 20.1h0m0.5-25h0m0.1 5.5h0m0.1-5.1h0m0.4 6.5h0m0.4-3.7h0m0.1 4.9h0m0.1 18.8h0m0.3-1.2h0m0.3-12.9h0m0.3-3.1h0m0.4 2.7h0m0.2 14.1h0m0.2-10.2h0m0.5-0.8h0m0.1 2h0m0.1-2.9h0m0.1 2.3h0m0.5 9.5h0m0.2-10h0m0.1-1.4h0m0.2 2h0m0.5 0.5h0m0.2 9.5h0m0.2-7.6h0m0.4 0h0m0.3 7.3h0m0.1-9.1h0m0.4 9.5h0m0.3-7.6h0m0.1-2.5h0m0.1 1.3h0m0.7-4h0m0.2 2.9h0m0.1 9.4h0m0-7.9h0m0.2 8.3h0m0.3-10h0m0.2 1.9h0m0.2-1h0m0.3 0.3h0m0.1 0.9h0m0.2 7.8h0m0.4-7.8h0m0.4 7.4h0m0.1-7.1h0m0-1.6h0m0.1 1.8h0m1-0.6h0m0 0.3h0m0.1-0.8h0m0.5 8.4h0m0.4 0.4h0m0.4-8.7h0m0.1-0.1h0m0-0.3h0m0.7 9.1h0m0.1-9.5h0m0.2-1.3h0m0.1 0.4h0m0.3 10h0m0.3-8.6h0m0.4-0.3h0m0.1 0h0m0.5 8.9h0m0-10.2h0m0.2-3.6h0m0.3 4.1h0m0 10.1h0m0.6-12.2h0m0.2 0.7h0m0.2-3h0m0.2 14.1h0m0.4-11.4h0m0.1 1.5h0m0.3-1.4h0m0 10.4h0m0.4-10.8h0m0.2 2.6h0m0-1.3h0m0.5 1h0m0.4-0.1h0m0.3-0.4h0m0.1 10h0m0.7-0.2h0m0.1-6.2h0m0-0.5h0m0.3 0.5h0m0.4-1.1h0m0.2 0.1h0m0.2-1.1h0m0 8h0m0.2-11.5h0m0.2 0.1h0m0.2-2.7h0m0.2 14.5h0m0.4-15.6h0m0.5-6.6h0m0 8h0m0.3 14.1h0m0.5-12.2h0m0.1-1.4h0m0 0.1h0m0.3 13.9h0m0.3-15h0m0.4 1.2h0m0.1 13.2h0m0.4-12.6h0m0.5 3.4h0m0.3-0.4h0m0.2 9.8h0m0-10.3h0m0.5 10.8h0m0.1-12h0m0.2-0.2h0m0 0.2h0m0.7 11.8h0m0.3-13.3h0m0.1 1h0m0-1h0m0.3 0.4h0m0.1 12.4h0m0.5-13.1h0m0.3-0.8h0m0.2-0.5h0m0.1 14.6h0m0.1-10.3h0m0.1-1.1h0m0.6-1.5h0m0.1 1h0m0.6 12.2h0m0.2-13.8h0m0.2 14.2h0m0.5-20.5h0m0.2 5.5h0m0.1-1.3h0m0.4 15.7h0m0.3-16.7h0m0.1 0.1h0m0 1h0m0.5-0.9h0m0 16.9h0m0.2-16.5h0m0.3-2.1h0m0.3 7.8h0m0.1-0.2h0m0.1 10.6h0m0.3-13.2h0m0.6 13.5h0m0.2-11.3h0m0.1 1h0m0.1-1.2h0m0.5-1.8h0m0.3 2.5h0m0.2-2.7h0m0.2 13.5h0m0.5 0.1h0m0.1-11.7h0m0.3-0.7h0m0.3-1h0m0.4 2.4h0m0.1 1.5h0m0-1h0m0.4 10h0m0.4-9.8h0m0.2 0.9h0m0.1 0.6h0m0.3 8.3h0m0.2-10.2h0m0.1-0.6h0m0.1 1h0m0.6 8.7h0m0.2-8.2h0m0.2-6h0m0 2.9h0m0.2 12h0m0.7-12h0m0 1.7h0m0.1 11.2h0m0.1-11.7h0m0.9-0.5h0m0.1 12.2h0m0.1-12.9h0m0.1-0.9h0m0.4 12.7h0m0.2-13.8h0m0.2-1.7h0m0.4 2.2h0m0.2-2h0m0.1 16.2h0m0.7-17.3h0m0.1 3.8h0m0.2 1.3h0m0 0.4h0m0.3-1.1h0m0.6 12.1h0m0.2-18.4h0m0 18.4h0m0.1-15.6h0m0.1 3h0m0.8-6.2h0m0.1 0h0m0.1 0h0m0.4 19.7h0m0.5-16.5h0m0.1 6.5h0m0.2 9.9h0m0.1-10.3h0m0.5-2.9h0m0 2.3h0m0.2-0.9h0m0.6 11.6h0m0.2-10.3h0m0.4-3.1h0m0.1 13.3h0m0.2-10.4h0m0.1 0.7h0m0.1 9.8h0m0-8.6h0m0.1-0.8h0m0.8-4.1h0m0.1 3.3h0m0.3-2.4h0m0.5 12.9h0m0.3-9.5h0m0.1 10.1h0m0.4-11.5h0m0.2 1.1h0m0.3 1.6h0m0.1-0.2h0m0.6-0.7h0m0 9.3h0m0.2 0.3h0m0.1-11.2h0m0 1.1h0m0.5 0.7h0m0.3 1.7h0m0.2-2.4h0m0 9.4h0m0.5-7.9h0m0.6-2h0m0 2.5h0m0.1-0.7h0m0.5 8.6h0m0.2-9.7h0m0.2 0.9h0m0-2.3h0m0.7 11.2h0m0-8.3h0m0 7.8h0m0.3-9.7h0m0.5-0.3h0m0.3 10.6h0m0.8-10.5h0m0 1.1h0m0.1-1h0m0.5 10h0m0.2-11.8h0m0.1 1h0m0.2 2.2h0m0.7-0.5h0m0-0.1h0m0.2-1h0m0.1 9.5h0m0.5-15.4h0m0.2 16.1h0m0.2-17.4h0m0-0.4h0m0.2 0.8h0m0.4 2.4h0m0.1-0.8h0m0.1 15h0m0.7-1.5h0m0.2-15.2h0m0.1-1.6h0m0.2 2.3h0m0.3 14.5h0m0.4-22.3h0m0.1-1.2h0m0.1 0h0m0.4 24.5h0m0.5-25.3h0m0.1-0.1h0m0.1-0.1h0m0.5 4.4h0m0-1h0m0.1 3.7h0m0.3 18.1h0m0.9-13.8h0m0.1 14.8h0m0.1-11.6h0m0 0h0m0.2 11.9h0m0.3-9.5h0m0.3-2.6h0m0 0.4h0m0.5 2.3h0m0.6 1.1h0m0.1-1.1h0m0 9.4h0m0.3-9.1h0m0 0.4h0m0.1-0.5h0m0.4 8.5h0m0.4-12h0m0 0.8h0m0.1 0.5h0m0.6 10.7h0m0.8-10.1h0m0 0h0m0.1 1h0m0.1 9.4h0m0.7-9.7h0m0.1 10.6h0m0.1-12.7h0m0.2 2.9h0m0.2-4.9h0m0.4 1h0m0.1 13.4h0m0.3-12.9h0m0.2-1.7h0m0.1 0.1h0m0.4 14.1h0m0.2-15.2h0m0.4 4.4h0m0 0.6h0m0.1 10.9h0m0.5-14.2h0m0.3 3.6h0m0.2-1.1h0m0.1 1.2h0m0.3 10.5h0m0.9-0.6h0m0.2-10.6h0m0.1 0.2h0m0.1 0.6h0m0.6 10.5h0m0.3-13h0m0 4h0m0.1-1.2h0m0.3 0h0m0.3 10h0m0.1-10h0m0.3-3.7h0m0.2 0.6h0m0.1 12.8h0m0.2-13h0m0.2 0.3h0m0.6-0.3h0m0.1 13.2h0m0.2-10h0m0.2-0.7h0m0.8-1.1h0m0.1 11.3h0m0.1-11.6h0m0.1-0.2h0m0.3-4.6h0m0.1 16.6h0m0.2-15.8h0m0.2 0.1h0m0.5-3.7h0m0.2 0.7h0m0.3 19.3h0m0.1-19.4h0m0.3-12.7h0m0 7h0m0.2-8.5h0m0 4.2h0m0.1 1.1h0m0.2 25.9h0m0.3-26.3h0m0.3 3h0m0.1 0.3h0m0 2.3h0m0.1 20.8h0m1.2-18.1h0m0.1-3.5h0m0 21.8h0m0.3-19.7h0m0.6 5.3h0m0 0h0m0.1 15.2h0m0.1-15.9h0m0.2 16.4h0m0.7-11.1h0m0.1 1.6h0m0.1-0.6h0m0.2 11.1h0m0.5-17.5h0m0.1 3h0m0.1 2.2h0m0.4 12.4h0m0.3-18.5h0m0.1 4.6h0m0.1 0.1h0m0.5 14h0m0.4-15.1h0m0.3-3.1h0m0.1 3.1h0m0.1 1.9h0m0.3-1.8h0m0.2 13.5h0m0.3-12.9h0m0.7 12.7h0m0.1-13.2h0m0 0.8h0m0.2-3.2h0m0.6 16.6h0m0-14.9h0m0.3 0.5h0m0.2-2.7h0m0.2 17h0m0.4-16h0m0.3 3.7h0m0.1-1.6h0m0-1.1h0m0-0.4h0m0.4-1h0m0.4 16.6h0m0.4-0.4h0m0.1-14.4h0m0 0.4h0m0.6 1.2h0m0.4-3.6h0m0.1 0.7h0m0 0.4h0m0.3 14.4h0m0.4-15.4h0m0 3.1h0m0.5 1.7h0m0.3 11.9h0m0.4-9.3h0m0.1 9.6h0m0.2-11h0m0-1.7h0m1 0.3h0m0.1 3.8h0m0.1-1.4h0m0.1 9.7h0m0.2 0.4h0m0.1-9.5h0m0.1 1.1h0m0.3 0h0m1.1-2.7h0m0.1 10.8h0m0.1-10.2h0m0.1 0.1h0m0.1-3.3h0m0.1-0.6h0m0.4-2.9h0m0.4 16.6h0m0.5-0.2h0m0-13h0m0.3-2.4h0m0 3.8h0m0.6 11.4h0m0.1-14.3h0m0.2 0.2h0m0.2-0.8h0m0.6 15.5h0m0.1-13.3h0m0.1 0.3h0m0.1 0h0m0.2 12.5h0m0.1-10.8h0m0.2 0h0m0.2 0.9h0m0.6-2.3h0m0 1.5h0m0.1 11h0m0.7-10.9h0m0.4 10h0m0-11.5h0m0 0.8h0m0.1-1.2h0m0.9 2.8h0m0-0.2h0m0.3 9.7h0m0.2-9h0m0.3-0.8h0m0.3-0.9h0m0.1 0.8h0m0.5 10.8h0m0.2-9.8h0m0.1-0.9h0m0.1-1.1h0m0.1 11.2h0m0.6-10.6h0m0.4-2.8h0m0 2.3h0m0.3 11.9h0m0.3-0.5h0m0.1-13.4h0m0 0.7h0m0.3-0.1h0m0.6-0.3h0m0.1 12.5h0m0.2-15.8h0m0.3 1h0m0.4 1.6h0m0.5-2.3h0m0.1 16.2h0m0.2-14.9h0m0.3 14.1h0m0-10.8h0m0.4-2.1h0m0.4-0.8h0m0.1 5.1h0m0.3 8.6h0m0.3-8.7h0m0.1 0.8h0m0.5-3.3h0m0.2 12.1h0m0.1-9.6h0m0.3-2.2h0m0.3 0h0m0.4 0.2h0m0 0.5h0m0.2 11.2h0m0.2-12.6h0m0.3 2.1h0m0.4 1.2h0m0.3 8.3h0m0.1-8.8h0m0 9h0m0-7.7h0m0.6 0.2h0m0.7 7.9h0m0.2-8.6h0m0-2.2h0m0.3 0.8h0m0.1 10h0m0.3-8.5h0m0-0.2h0m0.5 0.4h0m0.4 0.2h0m0.2-0.3h0m0.2 0.1h0m0.4 8.1h0m0-8.1h0m0.1-1.1h0m0 9.4h0m0.1-9.3h0m1 0.2h0m0.1 0.5h0m0.2-2.4h0m0.2 10.7h0m0.6-10.5h0m0.1-0.2h0m0 1.6h0m0.4 8.8h0m0.4-7.9h0m0.3-1.5h0m0.3 10.3h0m0-9.1h0m0.4-1h0m0.3 0h0m0.1-0.5h0m0.3 10.5h0m0.1-12.3h0m0.1-1h0m0.1 0.3h0m0.1 12.6h0m1.1-15.1h0m0.1 3.2h0m0.1 11.4h0m0.1-11.3h0m0.3 2.7h0m0.1 0.4h0m0.4-0.4h0m0.1 7.6h0m0.5-7.2h0m0.3-2h0m0.1 0.3h0m0.4 9.8h0m0.3-10.2h0m0.3-0.7h0m0.2 0.1h0m0.1 10.9h0m0.3-12h0m0.1 11.8h0m0.5-13.7h0m0.3-2h0m0.4 15.8h0m0.2-17.7h0m0.1 1.9h0m0.2-1.2h0m0.3 16.8h0m0.5-20.4h0m0.1 5.3h0m0.1-3.3h0m0.2 19h0m0.7-17h0m0 0.3h0m0-3h0m0.2 6.5h0m0.1-2.1h0m0.1-0.4h0m0.3 15h0m0.6-13.6h0m0 2.6h0m0.4 0h0m0.4 11.7h0m0.4-0.9h0m0.2-8.9h0m0.2-0.3h0m0.1-0.7h0m0.8 1.3h0m0.1-0.5h0m0.1 10.2h0m0.1-12.8h0m0.2 6h0m0.1 6.1h0m0.3-6.1h0m0.2-2.4h0m0.3 0.8h0m0.1-1.1h0m0.1 0.9h0m0.7 7.9h0m0.1-12.5h0m0.4 2.8h0m0.1 0.8h0m0.2 9.6h0m0.4-12.7h0m0-0.6h0m0.3 13.3h0m0-12.8h0m0.6 1.3h0m0.1 0.7h0m0.1 11h0m0.1-12.2h0m0.8-1.8h0m0.2 2.2h0m0.1-3.2h0m0 13.8h0m0.9-10.7h0m0.2 11.7h0m0.2-11.9h0m0.3 1.8h0m0.3 9.5h0m0.1-8.7h0m0.4 0.6h0m0.2-1.1h0m0-0.6h0m0.9 10.2h0m0.1-9.6h0m0 0h0m0.1 9.3h0m0.5-9.9h0m0.2 1.4h0m0.1-1.2h0m0.6 9.6h0m0.1-14.1h0m0.2 3.9h0m0 0.8h0m0.5-1.2h0m0.5 0.4h0m0-0.3h0m0.1 11h0m0.6-9.1h0m0 8.9h0m0-7.1h0m0.3-5h0m0.3-0.3h0m0.5 2h0m0.2 10.7h0m0-11.7h0m0.5-1.6h0m0.1 1.2h0m0 0.4h0m0.4 11.2h0m0.3-11.9h0m0.1 11.5h0m0.2-10.2h0m0.2-0.5h0m0.4-1.5h0m0.1-3.1h0m0.2 3.2h0m0.6 13h0m0.1 0.3h0m0.1-18.7h0m0 0.4h0m0.2-2.8h0m1 0h0m0.1 4.7h0m0-4.7h0m0.2 21.3h0m0.4-18.3h0m0.1 1.6h0m0.2-4.6h0m0.5 19h0m0.6-9.7h0m0.1 0h0m0.1-0.9h0m0.4 13.1h0m0-14.9h0m0.1 0.2h0m0 13h0m0.3-12.3h0m0.8-2h0m0.1-2.6h0m0.1 0.8h0m0.1 16.8h0m0.6-10.5h0m0.1-3.3h0m0.3-0.1h0m0.3 14.1h0m0.2-13.4h0m0.1-1.4h0m0.3 0.8h0m0 13.1h0m0.6-11.1h0m0 0.3h0m0.1-5.2h0m0 17.6h0m1.4-1.2h0m0.1-12.4h0m0.1 2.3h0m0.3 0h0m0.1 11.2h0m0.5-10.9h0m0.1-1.6h0m0.2-1.6h0m0.6 2.3h0m0.2-2.1h0m0.1-0.4h0m0.1 13.6h0m0.4-9.5h0m0-0.1h0m0.3-1.9h0m0.1 12h0m0.3-15.3h0m0.1-1.3h0m0.3 3.7h0m0.2 11.9h0m0.4-14.2h0m0.1 0.3h0m0.2 14.8h0m0.2-18.9h0m0.3-16.5h0m0.3 11h0m0 10.4h0m0.1-0.6h0m0-12.9h0m0 13.9h0m0.2-16.3h0m0.3 30.5h0m0.2-32.6h0m0.4 21.4h0m0-1.1h0m0.4 12h0m0.2-10h0m0.4-0.1h0m0.1-2.3h0m0.2 11.8h0m0.1-9.4h0m0.8-1h0m0.2-3.2h0m0.1 14.2h0m0-11.7h0m0.3 1.8h0m0.2-2.1h0m0.4 1.9h0m0.1 9.4h0m0.3 0.5h0m0.5-13.7h0m0.2 1.4h0m0.1 0h0m0.1 1.2h0m0.2-0.2h0m0.3 11.4h0m0.2-11.9h0m0.6 12.4h0m0.2-12.9h0m0.1-1.2h0m0.2-0.1h0m0.7 14.4h0m0-14.8h0m0.5-2.2h0m0 2.5h0m0.2 6h0m0.1-0.1h0m0.4-1.3h0m0.1 9.5h0m0.4-8.5h0m0.1-0.6h0m0.2 8.6h0m0.1-8h0m0.5-2.2h0m0 10.7h0m0.1-11.4h0m0 1.6h0m1 9.9h0m0.5-13.6h0m0.2 2.3h0m0.1-1.2h0m0.2 12.5h0m0.5-14.5h0m0.1-0.7h0m0.2 0.6h0m0.4 14h0m0.1-11.6h0m0.2 3.5h0m0-2.3h0m0.6-3.1h0m0.2 1h0m0.1 12.4h0m0-9.6h0m0.6-2.8h0m0.1 0.7h0m0.2-0.3h0m0.3 12.6h0m0.5-13.8h0m0.1 1.4h0m0.1 2.7h0m0 9.4h0m0.5-14.3h0m0.2-0.2h0m0.3 1.3h0m0.1 13.4h0m0.4-14.6h0m0.1 13.7h0m0.1-13.2h0m0.2-2.3h0m0.6-3.1h0m0.2-1.8h0m0.2-0.4h0m0.2 22.1h0m0.7-16.5h0m0.1 0h0m0.3-1.3h0m0.1 16.9h0m0.2-21.1h0m0.5 0h0m0.1 21h0m0-21h0m0.8 21.4h0m0.2-21.9h0m0.1 0h0m0.1 0.1h0m0.3 21.9h0m0.4-21.8h0m0.2 0h0m0.3 0.1h0m0.2 8.8h0m0.3-3.8h0m0.1 0.1h0m0.3 15.3h0m0.2-16.1h0m0.2 17h0m0.3-13h0m0.3 0.6h0m0.6-1h0m0.1-0.1h0m0.2-1.2h0m0.1 15.2h0m0.6-11.4h0m0.3 11.1h0m0.1-15.1h0m0.1 1.2h0m0.6 0.5h0m0.2-1.2h0m0 2.4h0m0 12h0m0.3-13.9h0m0.1-1.5h0m0.7 1.2h0m0 14.7h0m0.7-13h0m0.3 12.1h0m0-12.7h0m0 0h0m0.7-1.1h0m0.1 14.3h0m0.2-13h0m0.1 0.5h0m0.2 2.4h0m0.3-0.3h0m0 8.9h0m0.4-10.6h0m0.3 0.1h0m0.5 12.2h0m0-10.6h0m0.2 1.4h0m0.7 7.3h0m0.1-10.5h0m0.2 1.5h0m0-1.1h0m0.1 1.2h0m0-0.6h0m0.9-1h0m0 11.1h0m0.3 1h0m0.1-9.7h0m0.2-1.9h0m0.4-0.8h0m0.1 2.5h0m0.3 1h0m0.2 8.2h0m0.3-9.2h0m0.2 1.1h0m0.1 0.9h0m0.4-1.2h0m0.3 9.4h0m0.6-8.1h0m0.1 7.9h0m0-8.5h0m0.4 1.1h0m0.7-7.1h0m0.1 2.6h0m0.1 1.3h0m0 10.3h0m0.7 0.1h0m0.2-11.8h0m0.2 0.7h0m0 0.7h0m0.3 0.2h0m0.1 9.4h0m0.4-11.6h0m0.1 1.6h0m0.6 10.2h0m0.3-14.6h0m0.2-1.9h0m0 4h0m0.7-4.8h0m0.1-1.7h0m0.1 4.2h0m0.1 15.2h0m0.2-10.3h0m0.2 9.6h0m0.4-9.6h0m0.2-1.5h0m0.3 11.1h0m0.3-12.1h0m0.5-1h0m0 3.1h0m0.5 10.1h0m0-13.4h0m0.1-5.5h0m0.1 6.8h0m0.5 1.7h0m0.3 0.1h0m0.2 9.8h0m0.3-10.7h0m0.2-5.1h0m0.1 1.2h0m0.2 0.5h0m0.1 13.9h0m0.4-16.4h0m0.3-3.8h0m0.2 2.2h0m0.4 19.5h0m0.2-17.9h0m0.1-3.5h0m0.2 4.1h0m0.4 16.6h0m0.6-20.5h0m0-0.4h0m0.2 21.6h0m0.3-22.5h0m0.2 0.8h0m0.2 20.2h0m0.4-21.2h0m0.2-0.1h0m0.3 5h0m0-2h0m0.4 18.7h0m0.1-18.3h0m0.5 1.8h0m0.1-4.1h0m0.5 20.8h0m0.1-20.5h0m0.2 8.9h0m0.2-6.7h0m0.1 19.2h0m0.1-13h0m0.6 0.7h0m0.1 1.6h0m0.1-3.6h0m0.3 14.3h0m0.5-9.6h0m0.1 1.4h0m0.1-0.6h0m0.5 8.7h0m0.3-9.5h0m0.5-0.7h0m0.2-3.3h0m0.1 12.8h0m0.6-9.7h0m0 10.2h0m0.3-10.1h0m0.1-2.3h0m0.4 0.5h0m0.1-1.7h0m0.1 13.2h0m0.4-12.3h0m0.2-5.7h0m0 2.9h0m0.1 1.8h0m0.7 13.2h0m0.2-14.4h0m0 1.9h0m0.1-4.9h0m0.7 18.1h0m0.5-1.8h0m0-17.1h0m0.3 2h0m0.3 1.1h0m0.1-2.4h0m0.2 2h0m0.1 16.2h0m0.5-15.5h0m0.3 2.6h0m0.2 11.5h0m0.1-14.4h0m0.1 3h0m0.4 1h0m0.2-0.5h0m0.2-3.4h0m0.6 15.3h0m0.3-15.1h0m0.1-0.4h0m0 15h0m0.3-15.1h0m0.9 14.7h0m0.2-16.1h0m0.1 0.3h0m0.1-6.6h0m0.4 22.9h0m0.1-16.7h0m0.3-5.9h0m0.1 1.8h0m0.3 21.2h0m0.4-12.8h0m0.2-1.5h0m0.1-0.8h0m0.2 15.7h0m0.5-20.4h0m0.1 1.1h0m0-2.1h0m0.3 20.7h0m0.5-16.6h0m0.3-0.5h0m0.1 2.6h0m0.2 2h0m0.3 1.6h0m0.3-0.6h0m0.3 11.7h0m0-13.4h0m0.4-4.8h0m0 3.5h0m0.5 12.7h0m0.3-14.7h0m0.2 3.2h0m0-1.4h0m0.5 15h0m0.4-14.3h0m0.2 4.3h0m0.1 9.9h0m0.3-10.1h0m0.3-4.7h0m0.2 1.2h0m0.3 0.9h0m0.1 12.3h0m0.4-16.2h0m0.1-1.8h0m0.1 0.4h0m0.3 18.1h0m0.4-10.7h0m0.2 10.4h0m0-8.7h0m0.4-2.5h0m0.7 10h0m0.2-8.8h0m0.4 3.4h0m0-4.2h0m0.8 2.5h0m0.1-0.7h0m0 9.8h0m0.1-11.5h0m0.1 2.2h0m0.1-0.4h0m0.1-1.7h0m0.1 10.5h0m0.9-7.7h0m0-1.6h0m0.1 9.9h0m0.2-7.6h0m0.8-1h0m0 8.5h0m0.3-7.7h0m0.1-2.4h0m0.6 10.4h0m0.4-9.6h0m0 0.6h0m0.1 0.5h0m0.2 8.5h0m0.4-6.6h0m0.2-1.5h0m0.3 0.6h0m0 0.5h0m0.4-0.6h0m0.3 0.4h0m0 6.8h0m0.3-7.2h0m0.1 7.4h0m0.1-8.7h0m0.1 1h0m1.2 7.8h0m0.1-12.3h0m0.2-0.4h0m0 1.1h0m0.4 9.8h0m0.4-17.2h0m0.1 3.3h0m0.3-1.1h0m0.3 16.1h0m0.3-17.3h0m0.3 1.7h0m0-4.2h0m0.4 20.3h0m0.3-14.5h0m0.1 1.7h0m0.2 0.7h0m0.6-3.9h0m0.1 1.4h0m0.3-0.8h0m0.1 15h0m0.3 0.2h0m0.5-13.2h0m0-5.3h0m0.2 5.6h0m0.6-1.3h0m0.2 14.6h0m0.1-14.4h0m0-0.8h0m0.1 1.6h0m0.1 12.6h0m0.1-13.3h0m0.5-2.1h0m0.8-11.3h0m0.1 27.7h0m0.1-25h0m0.2 1.2h0m0.2 20.7h0m0.7-35.5h0m0.1-0.6h0m0-1.2h0m0.1 2.1h0m0 10.6h0m0.1-8.3h0m0.2 0.6h0m0.3-4.7h0m0 36.3h0m0.2-36.1h0m0.2 38.4h0m0.1-23.6h0m0.2 0.3h0m0.1-2.9h0m0.6 13.7h0m0.1-4.2h0m0.1 17.4h0m0.1-19.2h0m0.8 3.7h0m0.2 14.5h0m0.2-15.3h0m0.4 3.2h0m0.1-9.2h0m0.3-0.8h0m0.2 24h0m0-18.7h0m0.7 0.8h0m0.1-5.8h0m0.2 5.7h0m0.1 17.3h0m0.7-14h0m0.2 14.5h0m0.2-13h0m0.3-2.3h0m0.3 3.5h0m0 0.9h0m0.1 10.9h0m0.1-11.8h0m0.8-2.1h0m0.1-1.7h0m0.1 3h0m0.4 12.2h0m0.4-23.4h0m0.1 0h0m0 8.5h0m0.2 13.9h0m0.7 1.4h0m0-24.2h0m0.1 0h0m0 0h0m0.6 1.1h0m0.2 5h0m0.1-6.5h0m0.5 23.6h0m0.3-17.1h0m0.2-2.6h0m0.1 2.6h0m0 16.9h0m0.7-15.3h0m0.1-3.9h0m0.5 16.6h0m0.2-12.5h0m0.5 15.9h0m0.2-21.2h0m0.2 1.5h0m0.2-3.7h0m0.6 2.3h0m0 20.8h0m0.3-11.6h0m0.1-0.5h0m0.2-3.1h0m0.5 15.1h0m0-13.4h0m0.2 0h0m0.2 2.4h0m0.1 9.8h0m0.6-9.4h0m0.2 0.7h0m0.1-3.9h0m0.1 2.4h0m0.2-1.9h0m0.3 13.2h0m0.5-11.4h0m0.1-0.9h0m0.3 12.5h0m0.1-13.5h0m0.4-2h0m0.2-0.7h0m0.4-0.9h0m0.1 17.6h0m0.5-14.6h0m0 13.4h0m0.1-14.6h0m0.2 2.1h0m0.4 3.8h0m0.2-3.8h0m0.2 4h0m0.5 7.6h0m0.2-7.7h0m0 0.3h0m0.1 6.7h0m0.6-6.9h0m0.3-4h0m0.2 9.5h0m0.1-9.7h0m0.1-2h0m0.7 10h0m0.6-13h0m0.1 1.8h0m0.1-1.8h0m0.1 11.9h0m0.7-7.7h0m0.1-0.1h0m0 0.4h0m0.2-0.2h0m0.1 0.4h0m0.1-0.2h0m0.1 6.9h0m0.6-1.8h0m0.2-6.8h0m0.2 0.3h0m0.2 0h0m0.6-3.5h0m0 9.2h0m0.6-8.6h0m0.2-2.7h0m0.1 9.2h0m0.5-12.3h0m0.4-0.5h0m0-10.5h0m0.4 19.5h0m0.1-41.7h0m0.2 2.9h0m0.1-9.2h0m0.3 47.5h0m0.4-55.1h0m0.3-12.1h0m0.1-1.1h0m0.2 61.9h0m0.1-122.1h0m0.2 79.2h0m0-56.5h0m0.1-27.6h0m0-10.4h0m0 28.4h0m0.1-43.2h0m0 105.4h0m0-16.5h0m0-67.5h0m0.2-15.3h0m0.2 31.6h0m0.1 43.3h0m0 77.6h0m0-110.7h0m0.1 12.7h0m0-1.9h0m0 24.9h0m0.2-71.9h0m0.5 73.2h0m0.4-2.7h0m0-12.7h0m0.1 13.7h0m0.6 70.9h0m0.2-3.1h0m0.2-55.5h0m0.1 0.8h0m0.2-9.6h0m0.5 3.7h0m0.3 63.7h0m0.1-55.5h0m0.2-9.7h0m0.5 62.5h0m0-71.4h0m0.2 15.7h0m0.5 4.8h0m0.1 49.8h0m0.1-76.9h0m0.1 11.3h0m0.2-9.2h0m0.5 26.9h0m0.1-3.1h0m0 48.6h0m0.4-43.4h0m0.9 6.2h0m0.3 0.9h0m0.1 39.5h0m0-59.1h0m0.2 56.8h0m0.2-30.8h0m0.1-7.8h0m0.6 6.5h0m0.1-0.3h0m0.4 3h0m0.2 2.4h0m0.4 26.5h0m0.2 4.9h0m0.3-37.1h0m0.3-4.8h0m0.1 4.5h0m0.4 39.4h0m0.2-24.2h0m0.3-1h0m0 3.4h0m0.6-11.2h0m0.1 0.3h0m0.2 33.4h0m0.2-32.7h0m0.3 30.3h0m0.4-51.8h0m0.3 0.3h0m0.1 0.1h0m0.5 54.1h0m0.1-51.1h0m0.1 3.3h0m0.2-5.3h0m0.4 17.6h0m0.3-1.9h0m0.1 39.6h0m0.1-33.8h0m0.2 8.5h0m0.3 0.3h0m0.3 25.8h0m0.1-23.7h0m0.6 1.4h0m0-2.6h0m0.1-1.9h0m0.2 26.7h0m0.6-30h0m0-2.8h0m0.2-1.1h0m0.3 37.4h0m0.6-3.1h0m0.1-32.1h0m0.2-1.3h0m0.2 1.4h0m0.8-6.4h0m0-4.1h0m0.1 47.5h0m0.2-48.2h0m0.1 3.3h0m0.1 39.8h0m0.7-36.8h0m0.2 0.1h0m0.2 38.8h0m0.2-42.8h0m0-5.3h0m0.5 8.8h0m0.3-2.5h0m0 2.7h0m0.2 1.3h0m0.1 33.3h0m0.5 0h0m0.1-48.6h0m0.2 0.7h0m0.1-29.8h0m0.6-3.4h0m0.3 3.3h0m0.1 8h0m0.2 69.2h0m0.6-80.4h0m0.1-3.8h0m0.2 4.2h0m0.4 83.8h0m0.3 3.3h0m0.4-78.4h0m0.1 10h0m0.2 0.5h0m0.1 66.1h0m0.6-55.4h0m0.2 10.2h0m0.1-1.6h0m0.2 47.3h0m0.6-46.6h0m0.1-1.3h0m0.1-2.2h0m0.3 2.1h0m0.3-4.9h0m0 54.6h0m0.4-41.8h0m0.4-35.9h0m0 14.5h0m0-6.4h0m0.7 67.1h0m0.1-56.7h0m0.1-1.5h0m0.2 59.1h0m0-51h0m0.8 11.9h0m0-0.4h0m0.6 34.5h0m0.2-33.4h0m0.1 3.1h0m0.6 3.4h0m0-1.8h0m0.2 31.2h0m0.2-41.9h0m0.2-2.6h0m0.3 46.6h0m0.1-35.1h0m0.3-6.6h0m0.1 1.2h0m0.4-1.6h0m0.5 40.8h0m0-35.2h0m0.3-1.4h0m0.4-1.5h0m0.2 40.5h0m0.4-28.8h0m0.2-5.8h0m0.2 32.7h0m0.3-29.9h0m0.4-3.5h0m0.1-7h0m0.4 0.3h0m0.1 40.6h0m0.1 1.6h0m0.1-56.5h0m0.1 13.1h0m0.5-1.6h0m0.3 7h0m0.3-7.6h0m0 47.2h0m0.1-45.9h0m0.7 45.8h0m0.3-33.9h0m0-1.8h0m0.1 3.5h0m0.9 33.4h0m0.3-31.1h0m0.1-0.6h0m0.1 2.7h0m0.5-2.5h0m0.3 33h0m0.1-36.5h0m0 4.1h0m0.2-2.4h0m0-15.2h0m0.3 2.4h0m0.6 48.6h0m0.6-54.1h0m0 4.4h0m0.3 45.8h0m0.1-49.4h0m0.2 47.8h0m0.4-58h0m0.1 2.1h0m0.2-8.7h0m0.2-7h0m0.7-3.6h0m0 7.8h0m0.2 64.3h0m0.2-78h0m0.1 12.8h0m0.2-9.1h0m0.1 73.5h0m0.5-72h0m0.2-4.7h0m0 0.9h0m0.3 72.8h0m0.2-85.3h0m0 8.6h0m0.2-5.9h0m0 9.6h0m0.2 73.6h0m0.1-80.7h0m0-14.3h0m0 23h0m0-19h0m0 1.9h0m0.1 21.8h0m0-28.5h0m0.1 11.5h0m0.1-3.7h0m0-4.4h0m0 11.1h0m0-23.1h0m0.1 22.6h0m0 1.8h0m0.1 1h0m0-19.9h0m0.4 23.9h0m0.1-12.1h0m0.1-5.5h0m0 0h0m0 16.6h0m0.1-25.4h0m0 50.9h0m0.1-21.8h0m0 9h0m0.1 10.1h0m0.3 47.8h0m0-77.6h0m0 2.4h0m0.1 81.4h0m0.1-68.5h0m0.1-21.1h0m0.2 35.5h0m0.4-6.1h0m0.6 4.4h0m0 54.7h0m0.1-65.3h0m0.1 16.7h0m0.3 48.4h0m0.6-52.6h0m0.1-11.3h0m0.2-1.8h0m0.6 68.8h0m0-48.3h0m0.2-11.1h0m0.1 16.6h0m0.7-4.5h0m0.1 45.6h0m0.2-46.3h0m0 1.9h0m0.3 41.1h0m0.2-34.6h0m0.2-1h0m0.3-5.8h0m0.4 0.1h0m0.1 41.4h0m0-43.6h0m0.2 0.7h0m0.5-8.6h0m0.1 2.2h0m0.3 49.6h0m0.1-52h0m0.6-1h0m0.2 58.5h0m0.2-63.7h0m0.2 18.7h0m0.4-14.8h0m0.3-5.6h0m0 10.9h0m0 50.8h0m0.7-48.6h0m0.1-1.4h0m0.1-0.9h0m0.6 54.1h0m0.2-42.6h0m0.4 44.5h0m0.3-44.2h0m0-19.1h0m0.2 15.4h0m0-4.8h0m0.2-1.2h0m0.7 49.8h0m0.2-54.4h0m0.1 18.9h0m0 1.5h0m0.1 37.6h0m0.9-41.4h0m0 3.7h0m0.1 39.1h0m0.6-48.5h0m0.1 9.5h0m0.1 5.7h0m0.4 38h0m0.4-47.3h0m0.1 17.5h0m0-0.2h0m0.3 2.5h0m0.6 25.9h0m0.3-21.7h0m0 7.6h0m0.2 16.5h0m0.2-23.8h0m0.4-12.4h0m0.1 7.4h0m0.5 0.8h0m0.4 27.7h0m0.2-33.1h0m0.1 1.8h0m0.1 30.8h0m0.5-34.6h0m0.4-1.9h0m0.1 37.4h0m0.3-30.1h0m0.2 1.9h0m0.4-23.6h0m0.1 19.8h0m0.1 3.8h0m0.1-7.1h0m0.3 35.3h0m0.1-0.8h0m0.7-39.6h0m0 0.8h0m0.2 4.6h0m0.3 34.3h0m0.3-37.5h0m0.1-11.9h0m0.2 14.4h0m0.2 0.8h0m0.2 32.4h0m0.3-32.7h0m0.2-7.6h0m1.1-3.8h0m0 5.7h0m0-3h0m0.1 43.7h0m0.4-44.9h0m0.3-1.7h0m0 0.6h0m0 49.1h0m0.5-52.5h0m0.3 50.9h0m0-51h0m0.1 1.5h0m0.5 2.4h0m0.1 7.5h0m0.3 41.7h0m0.1-48.4h0m0.6 46.9h0m0.2-35.4h0m0.4-2.5h0m0.1 6.7h0m0.4-2.8h0m0 4.8h0m0.4 2.9h0m0.2 30.1h0m0.4-37.6h0m0.1-6.6h0m0.1-5.5h0m0.2 47.6h0m0.5-35.8h0m0.4 8.4h0m0.4 0.7h0m0.1 26.8h0m0.4-0.6h0m0.1-28.3h0m0.1-5.2h0m0.1 2.7h0m0.3-6.2h0m0.3-4.2h0m0 3h0m0.7 38.1h0m0.1-50.8h0m0.1 0.2h0m0.2 0.2h0m0.5 51.9h0m0.5-40.5h0m0-1h0m0.1 2.5h0m0 36.7h0m1-45.8h0m0.3 45.4h0m0.1-39.4h0m0-0.9h0m0.4 36.7h0m0.4-55h0m0.2-1.8h0m0.1 1.5h0m0.1 57.2h0m0.7-55.8h0m0.1 9.3h0m0 1.8h0m0.6 1.6h0m0-2.5h0m0.1 43.6h0m0.4-45.1h0m0.3 3h0m0.3-2h0m0.1-5.9h0m0.2 50.8h0m0.2-66.1h0m0-6.7h0m0.2 5.5h0m0.7 69.3h0m0.1-1.9h0m0.6-61.6h0m0.2-4.6h0m0.1 10.4h0m0-25.5h0m0.4 77.8h0m0.3-89.8h0m0.1 15.3h0m0.9-29.2h0m0 35.9h0m0.1-40.5h0m0 114.1h0m0-73.6h0m0.2-6h0m0.2 14.2h0m0.2-42h0m0-9.7h0m0.1 112.9h0m0.3-90.4h0m0.2 29.6h0m0.1-31.3h0m0.4 19.5h0m0.2 74.2h0m0.2-80h0m0.4 8.2h0m0.1 65.3h0m0.2-78.6h0m0.1 16.4h0m0.3-12.5h0m0.4 2.5h0m0-9h0m0.1 83h0m0.6-81.1h0m0.1 2.3h0m0.2-7.3h0m0.2-12.4h0m0.3 106.1h0m0-114.6h0m0.3 47h0m0.2-18.5h0m0.1 19.3h0m0.1-57h0m0.3 123.2h0m0.2 0.7h0m0.1-33.1h0m0.1-0.6h0m0.3-3.6h0m0.5 33.9h0m0.7-32h0m0.1-6h0m0.1 3.1h0m0.7-9.6h0m0 9.1h0m0.2-2h0m0 40.8h0m0.5-0.6h0m0.2-40.7h0m0.2 1.5h0m0.1-5.3h0m0.1 13.5h0m0.2-2h0m0.3 1.7h0m0.5 31.2h0m0.6 0.6h0m0.1-44.8h0m0.2 4h0m0-4.1h0m0.7 5.2h0m0.1-0.5h0m0.2 39.9h0m0-48.2h0m0.1 11.5h0m0.1 1.7h0m0.6 35.2h0m0.1-35h0m0.5-0.7h0m0.1 36.7h0m0.4-40.2h0m0.1 3.4h0m0.6-6.7h0m0.1 43.6h0m0.3-41.4h0m0 0.5h0m0.3 39h0m0.4-30.7h0m0.1-5.2h0m0.2 5.3h0m0.1-2.1h0m0.3 4.4h0m0.5 28.7h0m0.2-30.4h0m0.3 12h0m0.1 1.2h0m0.3 17.3h0m0.3-18.2h0m0.2-11.2h0m0 5.2h0m0.5 2.6h0m0.2 22.8h0m0.2-33.8h0m0.2-5.4h0m0 5.6h0m0.6 33.3h0m0.2-34.7h0m0.2 0.4h0m0.2 3.8h0m0.4 29.7h0m0.4-32.2h0m0.1-0.8h0m0.1 1.1h0m0.1 31.6h0m0.6-33.2h0m0.2-5.5h0m0.1 5.6h0m0.4 34.5h0m0.2-21.6h0m0.4 20.7h0m0.3-22.1h0m0.2-6.4h0m0.4 27.3h0m0.1-21h0m0.1-6.5h0m0.2 0.1h0m0.3 2.6h0m0.3-2.4h0m0.4 6h0m0.1 23h0m0.1-26.9h0m0.4 2.5h0m0.1-2.7h0m0.2 27.6h0m0.4-2.8h0m0.1-21.7h0m0.3 3.1h0m0.2 1.8h0m0.8-5.2h0m0 0.3h0m0.2 23.1h0m0.2-21.7h0m0.2-4.5h0m0-4.4h0m0.2 3.7h0m0 25.1h0m0.9-29.3h0m0.2-1.1h0m0.1 31.1h0m0.1-28.2h0m1.1-7.5h0m0.1 37.7h0m0-26.3h0m0.2-7.2h0m0.1-5.2h0m0.2 33.4h0m0.1-30.7h0m0.3-0.7h0m0.3 35.6h0m0-35.7h0m0.3-1.1h0m0.6-1.5h0m0.2 7.4h0m0.3 31.8h0m0.3-41.2h0m0.1 12.3h0m0.3-6.7h0m0 34.4h0m0.3-31.8h0m0.2-24.9h0m0.3 4.4h0m0 22.6h0m0.1 31.1h0m0.2-25.3h0m0.3-26.4h0m0.1 35.1h0m0.4-5h0m0.1 20.9h0m0-31.5h0m0.1 3.6h0m0.1 2.4h0m0.8 0.5h0m0.1-3.8h0m0.1 2.8h0m0.5 27.7h0m0.4-33.7h0m0.2 2.7h0m0.2 29.6h0m0.4-29.8h0m0.1 30.6h0m0.1-28.6h0m0.2-8.9h0m0.4 0.5h0m0.3 36.6h0m0.5-28.3h0m0.1-3.6h0m0.1 1.3h0m0.5 10.5h0m0.3-5.1h0m0.1 23.5h0m0.1-26h0m0.6 29.5h0m0.5-29h0m0-3h0m0-1.4h0m0.7 7.2h0m0-1.8h0m0.3 0.5h0m0 27.2h0m0.3 0.6h0m0.3-41.2h0m0.1 5.1h0m0.2-2.2h0m0.2 36.6h0m0.7-26.4h0m0.2-6h0m0.1-4.7h0m0.6 2.8h0m0.2 8.9h0m0-0.3h0m0.2 26.4h0m0-31h0m0.3 3.8h0m0.2-0.4h0m0.2 28.5h0m0-62.1h0m0.1 5.2h0m0.2-8.6h0m0.1 62.8h0m0-27.3h0m0.4-22.3h0m0.2 16.6h0m0.1 6.8h0m0.3-6.9h0m0.3 0.3h0m0.2 34.5h0m0.2-40.6h0m0.4 16.9h0m0.2-0.7h0m0.1 1.2h0m0.4 21.2h0m0.1 3h0m0.1-21.7h0m0-4.3h0m0.4 3.4h0m1-13.9h0m0.2 0.5h0m0.2 0.2h0m0.1 34.1h0m0.4 0.5h0m0.3-45.5h0m0 1.1h0m0.1-0.9h0m0.3 14.8h0m0.1-1.9h0m0.7-3h0m0 34.5h0m0.1-26.7h0m0.1-3.5h0m0.1 2.6h0m0.6 28.3h0m0.4-43.1h0m0.2 5h0m0.1 1.3h0m0.2 38.4h0m0.4-38.1h0m0.1-1.2h0m0.1-3.2h0m0.4 42.4h0m0.4-31.4h0m0.1-0.4h0m0.1-3.2h0m0.4 34.9h0m0.3-28.9h0m0.1 5.7h0m0.3-5.9h0m0.3 29.2h0m0.7-1.9h0m0.3-21.3h0m0.1 2.2h0m0 0.6h0m0.3-7.1h0m0.2 27.2h0m0-28.8h0m0.7 1.3h0m0.4-3.1h0m0 1.3h0m0.1 28.5h0m0.1-28.1h0m0.5 0.1h0m0.3-8.1h0m0.5 4.9h0m0.1 33.2h0m0.3-41.2h0m0 13.4h0m0.5 27.2h0m0.2-33.4h0m0.6 33.1h0m0-41.5h0m0.2-0.3h0m0.1 4.7h0m0.1 35.8h0m0.5-35.3h0m0.1 0.6h0m0.1-4.2h0m0.4 15.6h0m0.2-0.9h0m0.2-0.6h0m0.4 23.3h0m0.2-39.7h0m0.3 7.5h0m0 2.4h0m0.4 32.2h0m0.2-47.2h0m0.2 10.5h0m0.2 0.3h0m0.6 34.3h0m0-27.5h0m0.1 30h0m0.2-29.5h0m0.2 0.8h0m0.7 7.7h0m0.1 3.2h0m0.3-1.8h0m0.1 19.8h0m0.5-21.9h0m0.1-0.7h0m0 20.9h0m0.5-23.6h0m0.2 4h0m0.7-2.7h0m0.1 24h0m0.1-25.9h0m0.4 24.6h0m0.3-26.9h0m0 3.5h0m0.3 0.6h0m0.4-3.4h0m0.3 2.6h0m0.1 0.4h0m0.2 22.8h0m0.2 2.1h0m0.3-35.7h0m0.2 2.7h0m0.2 0h0m0.3 0.3h0m0.4 0.4h0m0.3-5.1h0m0.1 36h0m0.3-36h0m0.1 9.7h0m0.1-1.4h0m0.1 27.2h0m0.6-29.5h0m0.1-2.7h0m0.1 0h0m0.6 32.8h0m0.4-31.1h0m0.2 32.1h0m0.3-39h0m0.2 6.3h0m0.5-3.7h0m0.1-2.8h0m0.2 35.7h0m0.1-38.5h0m0.1 6.5h0m0.1-22.9h0m0 11.1h0m0.1-7.6h0m0.1 2h0m0.4 16.4h0m0.2 32.1h0m0.1-46.3h0m0.3 6.7h0m0.2 1.9h0m0 36.6h0m0.6-35.7h0m0.3-11.4h0m0.1 0h0m0.2 49.8h0m0.4-43.5h0m0.1 4.2h0m0.1-6.8h0m0.2 46.2h0m0.5-34h0m0.2-0.3h0m0.1 36.3h0m0.4-34.6h0m0.3-7.5h0m0.4 42.2h0m0.2-43.1h0m0 1.4h0m0.6 3h0m0 0.5h0m0.1-11.1h0m0.4 48.2h0m0.5-38.2h0m0.1 4.9h0m0-1.9h0m0.1 36h0m0.7-29.7h0m0.1-13.7h0m0.1-1h0m0.5 43.3h0m0.5-28.5h0m0.1 4.3h0m0-7.8h0m0.4 34.1h0m0.4-0.7h0m0.5-24.4h0m0.1-0.3h0m0.1-3.3h0m1 4.3h0m0 1.4h0m0.1 22.3h0m0-29.1h0m0.3 6.5h0m0.1 23h0m0.2-20.9h0m0.2-2.4h0m0.4 3.6h0m0.3 19.4h0m0.1-22.9h0m0.1-3.7h0m1.1-13.6h0m0.1 38.4h0m0-29.1h0m0.1 1.9h0m0.3 29.3h0m0.4-32.7h0m0.1-1.2h0m0.1-8.2h0m0.4 39.6h0m0.3-27.2h0m0-2.8h0m0-8.3h0m0.4 38.9h0m0.5-35.4h0m0.2-5.1h0m0.2 3.7h0m0.2 38.6h0m0-30.3h0m0.1-11.7h0m0.2 0.1h0m0.6 12.2h0m0.2 0.5h0m0.1-5h0m0.5 35.3h0m0.3-23.2h0m0.1 23.7h0m0.1-25.1h0m0.2-0.1h0m0.7 24.8h0m0.3-26.4h0m0.3 5.6h0m0.2-0.4h0m0.1-12h0m0.1 3h0m0.2-6.7h0m0.3 34.4h0m0.7-31.3h0m0.2 5.8h0m0.3 27.2h0m0.1-27.2h0m0 27.4h0m0.1-16h0m0.4-4.2h0m0 3.5h0m0.6-3.4h0m0.1 20.1h0m0.3-20h0m0.3-7.4h0m0.6 28.9h0m0.1-23h0m0.1-2h0m0.2-2.3h0m0.4 27.1h0m0.2-21.7h0m0.1-2.5h0m0.2-0.9h0m0.6 0.1h0m0.2 3.1h0m0.1 21.3h0m0.4-24h0m0.5 3h0m0-2.7h0m0.1-1h0m0.3 25.4h0m0.4-29.4h0m0 28.4h0m0.2-25.7h0m0.2-1.2h0m0.6-5.6h0m0.2-3.1h0m0.1 34.3h0m0.2-32.6h0m0.7 34.2h0m0.2-49.5h0m0.2 8.3h0m0.1 1.5h0m0.4 38.7h0m0.2-26.2h0m0.4-4.2h0m0-7.5h0m0.2 13.4h0m0 25.2h0m0.3-21.2h0m0.3-0.6h0m0.2-17.4h0m0.1 0.1h0m0.4-5.4h0m0.1 41.9h0m0.4-41.6h0m0.1 43.4h0m0.1-46.8h0m0.3-4.2h0m0.8 13.7h0m0.2 0.6h0m0.1 37.8h0m0.3-44.3h0m0.2-0.5h0m0.2 1.6h0m0.3 1.1h0m0.2 41.2h0m0.6-1.7h0m0.3-42.4h0m0.2 0.9h0m0.1 5h0m0.1 3.8h0m0.3 33.2h0m0.4-32.7h0m0.1-0.7h0m0.3-1.5h0m0.1 2.3h0m0.4 34.4h0m0.1-34.1h0m0.2 13.6h0m0.1-13.8h0m0.1 13.2h0m0.3 21h0m0.7-21.1h0m0.1-0.5h0m0.2 0.2h0m0.5 19.4h0m0.4-31.3h0m0 31.3h0m0.1-28.2h0m0.4 0.6h0m0.3-5.4h0m0.2 4h0m0-2.5h0m0.2 31h0m0.4 1.1h0m0.1-21.2h0m0.2-2.2h0m0.1-4.6h0m0.7-3.7h0m0.1 4.1h0m0.2 1h0m0.5 27h0m0.2-23.5h0m0-3.5h0m0.3-3.9h0m0.4 29.5h0m0.3-20h0m0.1 19.6h0m0.4-25.2h0m0 2.5h0m0.4 2.6h0m0.3-1.9h0m0.1 21.6h0m0.2-20.1h0m0.5-4.2h0m0 24.5h0m0.4-24.3h0m0.2-0.9h0m0.8 23.9h0m0.1-30.3h0m0 0.4h0m0.1-1.2h0m0.4 31h0m0.5-44.1h0m0.1 8.9h0m0.2-6.7h0m0.3 2.6h0m0.2 5.1h0m0.1-5.8h0m0.3 42.7h0m0.4-59.7h0m0.3 57.4h0m0.1-46.6h0m0.1 1.9h0m0.5-9.5h0m0 4.9h0m0.2-3.5h0m0.5 53.2h0m0.4-40.1h0m0.6-0.4h0m0 42.1h0m0-40h0m0.2 6h0m0.1-2.2h0m0.6 2.7h0m0.1 32.6h0m0.1-40.8h0m0.5 16.5h0m0.1-0.5h0m0.3 24.8h0m0.5-22.9h0m0-2.3h0m0.2 4.8h0m0.3 21.5h0m0.2-22.6h0m0 23.1h0m0.5-21.8h0m0.3-0.7h0m0.1-2.9h0m0.6-6.7h0m0 33.5h0m0.1-26.6h0m0.4-0.8h0m0-1.6h0m0.3-1.5h0m0.5 27h0m0.2-21.4h0m0.1 2.1h0m0.4 21h0m0-21.4h0m0.5 4.4h0m0.1-2.4h0m0 19.6h0m0.2-17.1h0m1.1-6.8h0m0.1 6.2h0m0.2-1.3h0m0.1 17.8h0m0.2-19.2h0m0.7-1.2h0m0.1 1.2h0m0 18.3h0m0.2-26.4h0m0 5.1h0m0.2-4.8h0m0.4 25.1h0m0.4-22.3h0m0.1 23.9h0m0.2-21.3h0m0.3 2.9h0m0.5-6.3h0m0.2 1.5h0m0.2 2.2h0m0.4 17.5h0m0.4 0.2h0m0.1-35h0m0.2 9.5h0m0.1-5.3h0m0.3-6.6h0m0.3-1.2h0m0.4 38.6h0m0.2-38.3h0m0-2.4h0m0.3 4.6h0m0 34.9h0m0.2-38.5h0m0.5 7.3h0m0.1 32.8h0m0.3-31.8h0m0.1 2.6h0m0.8-4.9h0m0 33.6h0m0-44.7h0m0.4 14h0m0.7 30.5h0m0.2-27.9h0m0.3-1.4h0m0-0.1h0m0.5 27.7h0m0.2-33.3h0m0.1 2.3h0m0.3 2.6h0m0.1-6h0m0.2 36.4h0m0.2-34.6h0m0.4-0.1h0m0.3 32.1h0m0-45.3h0m0.2 9.8h0m0.1-2.3h0m0.6 38.2h0m0.7-38.3h0m0 10h0m0.1-8.1h0m0.4 36.8h0m0.5-27.5h0m0.1-3.3h0m0.1 3.3h0m0.2 26.8h0m0.1-21.5h0m0.4-3h0m0.1-5.6h0m0.4-8.1h0m0-1.9h0m0.3 2.8h0m0.1 37.9h0m0.4-37.8h0m0.1 40.1h0m0.1-44.9h0m0.1 0.5h0m0.8 8.8h0m0.5-5.1h0m0.1 39.6h0m0.3-38.5h0m0.5 11.3h0m0.2 27.4h0m0.1-24.2h0m0.1-5.8h0m0.6 31.5h0m0.2-26.6h0m0-4.8h0m0.1 0.6h0m0.3 9.4h0m0.4-7.6h0m0.1 10.5h0m0.1 18.3h0m1-24.3h0m0.1-1.4h0m0.1 24.6h0m0-24.7h0m0.4 25.5h0m0.2-23.9h0m0.1 3.9h0m0.3-4h0m0.3 23.4h0m0.5-33.1h0m0 7.3h0m0.1 0.1h0m0.3 24.5h0m0.4-31.9h0m0.2-1.9h0m0.1 3.6h0m0.6 4h0m0.3-0.5h0m0-1.6h0m0.1 30.6h0m0.4-22.1h0m0.1-2.2h0m0.1-1.4h0m0.4 24.5h0m0.4-27.9h0m0 5.5h0m0.1-1.4h0m0.2 24.1h0m0.6-26.5h0m0-3.4h0m0.3 8.3h0m0.3 22.5h0m0.4-19.3h0m0 18h0m0.1-22.4h0m0.2-0.3h0m0.7 5.1h0m0-5.2h0m0.3 24.8h0m0.3-22.6h0m0.4-3.2h0m0.4-1.7h0m0.2 27.4h0m0.2-25.6h0m0.2 0h0m0.3-2.5h0m0.1 3.2h0m0.5 23.2h0m0.5-28.3h0m0.2 5.3h0m0.1 24.1h0m0.1-23.6h0m0.7 1.1h0m0.1-1.3h0m0.2 1.1h0m0.1 21.8h0m0 1.4h0m0.7-29.3h0m0.1-0.4h0m0.1-6.5h0m0.7 5.7h0m0.2-0.6h0m0.1-4.7h0m0.1 32.5h0m0 3.1h0m0.5-33h0m0.2 8.2h0m0.3-1.3h0m0.5 2.1h0m0.1 23.7h0m0.1-26.5h0m0 1.5h0m0.4-4.9h0m0.1 10.3h0m0.1 2.2h0m0.4 16.2h0m0.5-13.1h0m0.1 14.7h0m0.1-17.4h0m0.4 1.5h0m0.5 1.9h0m0.1-1.1h0m0.1 1.9h0m0.2 13h0m0.4-1.2h0m0.2-13.5h0m0.1-1.8h0m0.2 2h0m0.7 13.4h0m0.3-23.5h0m0.3-1.7h0m0 4.8h0m0.2 19.4h0m0.5-22.3h0m0.1-5.1h0m0.3-0.4h0m0.2 10.7h0m0.2 1.6h0m0.2 16.3h0m0.1-18.1h0m0.5-4.8h0m0.1 23h0m0.1-23.4h0m0.1 3.6h0m0.5 5.2h0m0.2-1.6h0m0.2-2.1h0m0.4 18.5h0m0.3-16.3h0m0.5 17.9h0m0.1-17h0m0.2 1.9h0m0.2-3.8h0m0-5.1h0m0.1 5.7h0m0.4 16.3h0m0.4-18.3h0m0.1 0.9h0m0.2-4.6h0m0.3 23.6h0m0.4-23.8h0m0.1 24.2h0m0.4-21.9h0m0.5 2.5h0m0.2 1.8h0m0.1-0.7h0m0.1-1.4h0m0.6 19.1h0m0.4-16.7h0m0-0.2h0m0.1-2.1h0m0.1 20.6h0m0.5-17h0m0.7 0.3h0m0.1-8h0m0 23.9h0m0.3 0.1h0m0.3-23.4h0m0 3.6h0m0.3-1.1h0m0.3 4.9h0m0.1-4.9h0m0.4 22.6h0m0.1-16.9h0m0.7-3h0m0.2 19.2h0m0.3-17.1h0m0.1-3.4h0m0.2-7.5h0m0.1 3.8h0m0.2 2.9h0m0 22.7h0m0.7-28.2h0m0.1-5.3h0m0.2 5.2h0m0.3 27.7h0m0.2-26h0m0.4-5.6h0m0.1 4.4h0m0.1 28.2h0m0.5-18.7h0m0.2 1.6h0m0-0.1h0m0.5 16.5h0m0.3-19.1h0m0.2 18.7h0m0-17h0m0.1-2h0m1 2.5h0m0.1 17.2h0m0-15.7h0m0.3-1h0m0.2 18.2h0m0.3-21.9h0m0.4-1.5h0m0.1-1.1h0m0.7 4.1h0m0.1-1.5h0m0 21h0m0.1-19.1h0m0.3-4.2h0m0.1 23.4h0m0-20.7h0m0.4-8.3h0m0.5-7.1h0m0.2 7.7h0m0.7 28.6h0m0.1-24.1h0m0 5.7h0m0.2 0.7h0m0-6.4h0m0.5 23h0m0.3-19.2h0m0.3-2.3h0m0.4 2.5h0m0.2 19.9h0m0.3-19.4h0m0.1 2.9h0m0.1-6.7h0m0.5 23h0m0.3-21.9h0m0.2-1.6h0m0.1 1.4h0m0.3 21.9h0m0.2-28.8h0m0-0.6h0m0.1 2.6h0m0.6 26.6h0m0.6-30.6h0m0.1 31.2h0m0.1-30.2h0m0-2.1h0m0.5 8.4h0m0.3-4.2h0m0-2.7h0m0.6 28h0m0.4 2.1h0m0.2-18.9h0m0.3-0.5h0m0.1 0.6h0m0.5 2.8h0m0.1 0.5h0m0.1-4.8h0m0.1 21.2h0m0.4-19.4h0m0.4 0.2h0m0 18.3h0m0.5-19.1h0m0.1-2.4h0m0.1 21.8h0m0-17.1h0m0.2-3.6h0m0.8-3.3h0m0.2 0.8h0m0.3 22.3h0m0.1-21.3h0m0.7 20h0m0.1-26.8h0m0.2 0.5h0m0.2 3.2h0m0.5-7.6h0m0.1 2.5h0m0.1 28.8h0m0.2-29h0m0.3 2.8h0m0.1 2h0m0.1 0.4h0m0.4 24.3h0m0.4-24.5h0m0.3 3.7h0m0.4 0.1h0m0 18.2h0m0.5 1.8h0m0.2-29.6h0m0 1.5h0m0.2-1.2h0m0.3 29h0m0.7-24h0m0.1-1.8h0m0-0.8h0m0.5 27.2h0m0.4-16.4h0m0-1.1h0m0.1-8.2h0m0.6 25.7h0m0.2-25.2h0m0.2-4.4h0m0.1 3.8h0m0.4 26.1h0m0.2-21.4h0m0.1 1.6h0m0.2-1.3h0m0.5 21.2h0m0.1-14.1h0m0.1-5.4h0m0.2 3.5h0m0.7-1.2h0m0.2 0.6h0m0.1-5.3h0m0.1 21.3h0m0.2-16.1h0m0.4-0.8h0m0.3-2.1h0m0 18.6h0m0.6-15.9h0m0-4.3h0m0-2.6h0m0.5 23.8h0m0.1-19.5h0m0.2-2.9h0m0.1 2.4h0m0.7 18.6h0m0.3 0.8h0m0.4-20.6h0m0.1-1.2h0m0.1 1.1h0m0.7-6.8h0m0 8.1h0m0.2-2h0m0 22.1h0m0.3 0.1h0m0.5-22.6h0m0.1-0.5h0m0.3-1.4h0m0.2 24.1h0m0.7-16.3h0m0.1-2.7h0m0 2.2h0m0.2 15.5h0m0.1-14.8h0m0.6-1.8h0m0 1h0m0.4 3.1h0m0.3-0.5h0m0.1 0.7h0m0.2 19.2h0m0.1-15.1h0m0-0.4h0m0.2-4.1h0m0.7 36.7h0m0.3-37.4h0m0.3 5.9h0m0.2 39.4h0m0.1-34.3h0m0.2 35.8h0m0.7-28.3h0m0.1-9.8h0m0.1 6.8h0m0.5 34h0m0.4-38.6h0m0.1 0h0m0.1 2.1h0m0 35.6h0m0.5-34.3h0m0-3.4h0m0.4 0.3h0m0.3-0.5h0m0.1-7.2h0m0.3 45.5h0m0.3-38.8h0m0.2 38.4h0m0.3-45.4h0m0.2-9.6h0m0 9.8h0m0.6 45.5h0m0.4-50.1h0m0-0.8h0m0.4-4.5h0m0.3 10.5h0m0.4-17.8h0m0 63.7h0m0.1-48.5h0m0.5 47.3h0m0-60.4h0m0.1-3.4h0m0.1 10.5h0m0.9-12.1h0m0 5.8h0m0-6h0m0.5 60.8h0m0.3-1.8h0m0.1-60.4h0m0.1-0.3h0m0.1-0.1h0m0.7 67.6h0m0.3-52.9h0m0.1-2h0m0.1 0.2h0m0.6 34.3h0m0.1-31.1h0m0.2 1.5h0m0.3 1.9h0m0.2 12.4h0m0.1-27h0m0.1 6.3h0m0-1.8h0m0.8 5.7h0m0.2 1h0m0 16h0m0.7-20.3h0m0.1 21.7h0m0.1-23.6h0m0.1-4.3h0m0.1-7.8h0m0.6 6.1h0m0.2 28.7h0m0.1-33.1h0m0 4.1h0m0.7 0.1h0m0.7 0h0m0.1 28.6h0m0.2-36.8h0m0.3 37.6h0m0.3-37.7h0m0.1-0.1h0m0.3-4.8h0m0.2 40.8h0m0.5-37.4h0m0 6.1h0m0.1-8.4h0m0.2 15.2h0m0.1-3.7h0m0.3 29.9h0m0.3-27.9h0m0.3 7.2h0m0.3-3.5h0m0.2 24.3h0m0.4-22.6h0m0.5-2.1h0m0.2 24h0m0.3-27.3h0m0.1-0.5h0m0.1 26h0m0.1-23.3h0m0-3h0m0.3 4h0m0.7-2.5h0m0.1 27h0m0.3-32.9h0m0.3 9.6h0m0.2-4.3h0m0.3 4.2h0m0.2 22.1h0m0.1-22.3h0m0.4-0.7h0m0.1 1.1h0m0.2 22.8h0m0.6-23.9h0m0.3 24.5h0m0.1-19.3h0m0-1.3h0m0.5-3.3h0m0.5-0.4h0m0 25h0m0.1-28.3h0m0.1 5h0m0.5-1.9h0m0.1-3h0m0.3 0.7h0m0 28.4h0m1-0.8h0m0.2-21.5h0m0.1-6.9h0m0.1 7.5h0m0.7-3.4h0m0.1 0h0m0.1 24.3h0m0.2-25.3h0m0.4 6.3h0m0-1h0m0.1-3.3h0m0.3 23.8h0m0.2-20h0m0 19.2h0m0.1-21.1h0m0-1.2h0m0.9-9.3h0m0.5 2.7h0m0.2 29.2h0m0.2-26.6h0m0.2-2.6h0m0.1 0.2h0m0 29.3h0m0.4-37.3h0m0.2-4.7h0m0.3 5.8h0m0 6.6h0m0.3 26.7h0m0.3-28.4h0m0.7 29.1h0m0.2-35.4h0m0.1 5.2h0m0.2-0.3h0m0.7 31.5h0m0-23.5h0m0.1-3.4h0m0.1 2.9h0m0.6-7.4h0m0.2 31.6h0m0.1-28.3h0m0.2 2.7h0m0.1 0.5h0m0.3 3.5h0m0.1-0.8h0m0.1 24.3h0m0.5-18.2h0m0.1-0.8h0m0.4-7.2h0m0.3 24.2h0m0.4 1.1h0m0-28h0m0.2 8.6h0m0.1-3.9h0m0.7 3h0m0.5 22h0m0.2-23.5h0m0.1 0.9h0m0.1-5.3h0m0 26.6h0m0.2-26.9h0m0.1 1.2h0m0.6 27.4h0m0.2-33h0m0.3-2.4h0m0.4 2.5h0m0.2-12.6h0m0.2 9.6h0m0.1 7.3h0m0.1-20.8h0m0.2 48.4h0m0.1-28h0m0.4-5.3h0m0.2 6.2h0m0 26.3h0m0.1-30.4h0m0.5 2.3h0m0.5-2.5h0m0-5.2h0m0.4 36.2h0m0.7-27.6h0m0 29.7h0m0.2-39.6h0m0.1 9.2h0m0.5 30.1h0m0.1-34.3h0m0.2 2h0m0 3.4h0m0.6 1h0m0.1 27.7h0m0.1-31.5h0m0.2 5.2h0m0.4 24.9h0m0.4-22.5h0m0.1-7.4h0m0 3.1h0m0.5 26.6h0m0.6-24.7h0m0.1 2.6h0m0.2-8.1h0m0 9.2h0m0.6-0.7h0m0.1 23.3h0m0.2-24.3h0m0.2 1h0m0.3-6.8h0m0.1 28.3h0m0.4-27.3h0m0.2 28.1h0m0.1-25.3h0m0.4 0.6h0m0.1-2.6h0m0.3-5.4h0m0.1 30.6h0m0-32.6h0m0.7-6h0m0.3 11.7h0m0.3 2.4h0m0.3 1.5h0m0.3 26.3h0m0.1 0.4h0m0.6-36h0m0.1 6.8h0m0.2-3.4h0m0.3 30.1h0m0.2-29.6h0m0.2 0.8h0m0.3 2.3h0m0.1 0.3h0m0.2 0.2h0m0.1-4.8h0m0.5 28.7h0m0.2-15.7h0m0-7.4h0m0.2 26.1h0m0.2-20.3h0m0.7-3.3h0m0 3.3h0m0.3 19.6h0m0.3-20.7h0m0.4-5.8h0m0 3.9h0m0.3-0.7h0m0.1 22.5h0m0.7-1h0m0.2-28.7h0m0.1 4.4h0m0 6.7h0m0.4 19.5h0m0.3-25.1h0m0.1 3.2h0m0-8.2h0m0.8-0.1h0m0 1.9h0m0.1 4.4h0m0.7 22.3h0m0.1-19h0m0.1 21.1h0m0-21.5h0m0.3 0.2h0m0.8 21.2h0m0.4-21.7h0m0.2-0.2h0m0.1-0.3h0m0.4 1.4h0m0.1-4.2h0m0.4-0.9h0m0.1 24.6h0m0-1.2h0m0.1-23.8h0m0.3-5.4h0m0.1 6.6h0m0.5-3.1h0m0.1 2.1h0m0.1 24.5h0m0.6-31.2h0m0.4 30.5h0m0.3-27.5h0m0.2-2.6h0m0.3 4.9h0m0.2 4.9h0m0 21.7h0m0.3-26.6h0m0.5 0.6h0m0 0.3h0m0.3-0.7h0m0-1.9h0m0.4 28h0m0.5-30.2h0m0.2 28.7h0m0.3-28.5h0m0.1-5.6h0m0.7 35h0m0.1-17.1h0m0.1-0.5h0m0-2.9h0m0.4 20.9h0m0.4-15h0m0.1-2.7h0m0.3-3.7h0m0.2 6.3h0m0.2-2h0m0.1 2h0m0.2 14.4h0m0.4-1.3h0m0.6-24h0m0.1-0.3h0m0.2-5h0m0.4 9.2h0m0 20.2h0m0.3-28.4h0m0.2 3.1h0m0.4 25.4h0m0.6-31.5h0m0.1 6.6h0m0.1 1.6h0m0.3 4.4h0m0.1 2.2h0m0.1 17.8h0m0.1-20.1h0m0.7-4.5h0m0.2 0h0m0.2 24.5h0m0-21.5h0m0.4-4.5h0m0 0.7h0m0.2-4.1h0m0.4 29.8h0m0.6-29.1h0m0-10.5h0m0.1 5.7h0m0.3 31.8h0m0.3-38.3h0m0.2-2.1h0m0.1 4.4h0m0.2 36.8h0m0.6-25.6h0m0.4-0.6h0m0 25.9h0m0.2-23.5h0m0.6 23.8h0m0.2-27.5h0m0.1-5.8h0m0.1 14.9h0m0.5 19.5h0m0.5-22.2h0m0.2 0.9h0m0.1-3.1h0m0 2h0m0.1-1.1h0m0.1 0h0m0.6 22.4h0m0.6-25.1h0m0.2 7h0m0.1 18.5h0m0.1-22h0m0.3-1.3h0m0.2-0.2h0m0.1-1.6h0m0.2 25.3h0m0.4-3h0m0.4-30.8h0m0.5 3.4h0m0.1 1h0m0-10.7h0m0.4 3.8h0m0.1 30.5h0m0.3-33.4h0m0.5 9.4h0m0 1.3h0m0.1-8.5h0m0.4 36.2h0m0.2-39.5h0m0.2-1h0m0.2 1.9h0m0.1 38.3h0m0.5-26.6h0m0-12h0m0.3 2.3h0m0.3 37.1h0m0.7-25.8h0m0-2.6h0m0.1 0.1h0m0-18.2h0m0-7.4h0m0.4 55.1h0m0.3-63.9h0m0 29.2h0m0.2-25.4h0m0.3 28.6h0m0.2 30.6h0m0.1-25.6h0m0.3 24.9h0m0.4-36.7h0m0.1 4.3h0m0.1-11.4h0m0.3 2.7h0m0.2-1.6h0m0.2 42.7h0m0.2-38h0m0.5 0.1h0m0-2.6h0m0.3-2.1h0m0 41.5h0m0.6-42.7h0m0.3 0.5h0m0.1 10.4h0m0.1 33.1h0m0.5-1.1h0m0.1-27.1h0m0.2-5.1h0m0.1 4.3h0m0.6 29.5h0m0.2-26.9h0m0.4 0.1h0m0.2-9.5h0m0.1 7.9h0m0.5-3.3h0m0.1 30.3h0m0-30.5h0m0.8 29.7h0m0.1-25.8h0m0.1 2.5h0m0.2-3.8h0m0.4 5.1h0m0.5-3.1h0m0.2 3.5h0m0.1 25.2h0m0.2-23.9h0m0.1 2.3h0m0.2 20.9h0m0.4-20.1h0m0.3 3.2h0m0.1-0.4h0m0.1 17.5h0m0.6-18.1h0m0.1-1h0m0.4 4.2h0m0.2-3.1h0m0.3 17.5h0m0.4-20.1h0m0.4-3.4h0m0.1 1.4h0m0.1 23h0m0.4-25.4h0m0.1 23.3h0m0.1-22.8h0m0.3 1.9h0m0.1-3.2h0m0.1 24.2h0m0.4-21.2h0m0.5 2.5h0m0.1-3.4h0m0.1-3.1h0m0.6 1h0m0.1 22.7h0m0.1-34h0m0.1 7.1h0m0.4 0.3h0m0.3 26.9h0m0.3-37.3h0m0.1 8.5h0m0.1 1.9h0m0.2 26.4h0m0.6-24.7h0m0.1-9.1h0m0 2.6h0m0.3 32.1h0m0.8-22.6h0m0 23.6h0m0.1-19.2h0m0.5-3h0m0.1 20.9h0m0.7-20.9h0m0.1-0.5h0m0-1.4h0m1-16.5h0m0.1 12.5h0m0-3.5h0m0.1 27.7h0m0.8-45h0m0-5.4h0m0.1 52.1h0m0.1-41.8h0m0.7-29.6h0m0 22.7h0m0.1 46.7h0m0-76.7h0m0.1 26.2h0m0-8h0m0.1 7h0m0 50.1h0m0.2-80.2h0m0.2 21.4h0m0-6.4h0m0.1-6.4h0m0.1-12.6h0m0 5.8h0m0.1 21.4h0m0-4.3h0m0 10.4h0m0-8.6h0m0.1-11.3h0m0-7.4h0m0 14h0m0.2-3.6h0m0.2 5.5h0m0.1 63.8h0m0-76.8h0m0.2 25.8h0m0.2-3.5h0m0.3 57.3h0m0.2-36.9h0m0 4h0m0.2-6h0m0.7 7.6h0m0.4-2.6h0m0 33.9h0m0.1-32.1h0m0.5 0.9h0m0.1 1.2h0m0.1 30.9h0m0.7-32.1h0m0 1h0m0.1 0.4h0m0 2.5h0m0.9 29.2h0m0-33h0m0.2 3.6h0m0.1-2.8h0m0.1 31.6h0m0.6-28.8h0m0.1-3.8h0m0.1 5.7h0m0.7 32h0m0.2-34h0m0.1 33.1h0m0-39.3h0m0.3 11.6h0m0.6-21.2h0m0.1 3.7h0m0.1-0.5h0m0.3 43.6h0m0.6 0.3h0m0.2-22.3h0m0 1.4h0m0.4-7.1h0m0.4 27.1h0m0.3-32.7h0m0.3 7.5h0m0.1-4.4h0m0.7-16.4h0m0.2 46.6h0m0-38.9h0m0.2-2.4h0m0.3 40.2h0m0.3-43h0m0.2 12h0m0.1-0.2h0m0.1 28.1h0m0.1-26.7h0m0.4-28.4h0m0.1 29.5h0m0.2-1h0m0-21.1h0m0.2-12.5h0m0 36.1h0m0.1 4.1h0m0.5 3.6h0m0.2 17.8h0m0.2-24.4h0m0.5 0.2h0m0.1 24.4h0m0.4-20.7h0m0.1-2.4h0m0.3 0.5h0m0.2-4.8h0m0.1 24.8h0m0.8 0.7h0m0.3-25.3h0m0-5.3h0m0.1 4.4h0m0.1 1.8h0m0.3-9h0m0.4 32.1h0m0.2-26.5h0m0.2-2.9h0m0.1-2.3h0m0.1 1.3h0m0.5 26.7h0m0.2-29.8h0m0.4 6.9h0m0.1-0.1h0m0.3 25.4h0m0.5-27.1h0m0 4.7h0m0.2-0.9h0m0.1 26.1h0m0.5-35.9h0m0.3 2.7h0m0.1-2.3h0m0.4 36.3h0m0.3-35.5h0m0 4.3h0m0.3-2.8h0m0.3 31.2h0m0.2-23.6h0m0.1-5.8h0m0.1 2.1h0m0.5 29.1h0m0.6-35.2h0m0.1-10.1h0m0.1 10.1h0m0.4 32.1h0m0.1 0.1h0m0.1-35.2h0m0.1 1.3h0m0.2 2.1h0m0.6-9.1h0m0.1 6.1h0m0.6 6.6h0m0 31.5h0m0.3-1.1h0m0.1-33.8h0m0.3-0.8h0m0.1-9.6h0m0.5-1.1h0m0.1 45h0m0.1-46.5h0m0.2-5.2h0m0.7 49h0m0.2-38.6h0m0.1 3.4h0m0.5 0.7h0m0.5-21.4h0m0.1-9.7h0m0.1 66.6h0m0.3-72.9h0m0.1 67h0m0.1-100.6h0m0.3 8.9h0m0-5.3h0m0.6-5.9h0m0.4 2.5h0m0-5.1h0m0.6 111h0m0.2-76.1h0m0-9.8h0m0.1 3.2h0m0.4 80.5h0m0.4-71.4h0m0.1 15h0m0.1-4.3h0m0.6 64.4h0m0.2-69.9h0m0.1 1.8h0m0.1-4.8h0m0.6 69.5h0m0.4-37.1h0m0.1 7.9h0m0 32.2h0m0.1-35.1h0m0.9 33.1h0m0.2-22.6h0m0.2-0.4h0m0-1.3h0m0.3 0.6h0m0.2 1h0m0.3 23.7h0m0.1-22.2h0m0.3 22.9h0m0.1-24.6h0m0.1-5.5h0m0.2 2.2h0m1.2 29h0m0.1-23.1h0m0.2 0.5h0m0-10.8h0m0.6 8.1h0m0 25.3h0m0.3-26.1h0m0.1 4.7h0m0.4 22.2h0m0.5-32.2h0m0 4.4h0m0.2-1.9h0m0.3 28h0m0.3-41h0m0 6h0m0.2-1.2h0m0.3-9.4h0m0 40.9h0m0.6-40.7h0m0.1 2.7h0m0.3-1.6h0m0.2 46.5h0m0.2-41.5h0m0.4-4.1h0m0.7 1.4h0m0.2-0.1h0m0.1 42.4h0m0-48.4h0m0.1 3.6h0m0.3 46.3h0m0.1-53.2h0m0.2 6.4h0m0.6-10.8h0m0.1 8.6h0m0 0.3h0m0.3 45.1h0m0.4-32.9h0m0.2 36.1h0m0.3-40.5h0m0.2 6.2h0m0.9-4.6h0m0-0.5h0m0-7.8h0m0.1 49.8h0m0.3-2.6h0m0.5-45h0m0 2.8h0m0.2-5.3h0m0.3 6.7h0m0.1 8.2h0m0 34.6h0m0.3-36.4h0m0.7 5.7h0m0.2 29.5h0m0.1-34h0m0.4 0.8h0m0.3-2.5h0m0.4-4.3h0m0.2 1.1h0m0 37.1h0m0.4 0h0m0.6-59.8h0m0.1 10.3h0m0.1-6.3h0m0.4 2.4h0m0.1 0h0m0.5-7h0m0 61h0m0.2-1h0m0.1-65.7h0m0.1 3.5h0m0.3-7.1h0m0.5 17.2h0m0.5 52.3h0m0.2-53.4h0m0.1-4.9h0m0.1 55.7h0m0.1-49.5h0m0.1 9.5h0m0.2-2.9h0m0.6-2h0m0.2-1.2h0m0.1-2.5h0m0.5 46h0m0.3-40.9h0m0.1-5.1h0m0.1-12.7h0m0.4 62.3h0m0.4-48.3h0m0.3-1h0m0.1 0.6h0m0.2 49.8h0m0.4-52h0m0 7.4h0m0.2-1h0m0.1 42h0m1-38.4h0m0-18.2h0m0.3 23.8h0m0.3 35.8h0m0.2-52.1h0m0.1 9.2h0m0.3 43.4h0m0.3-44.2h0m0.2 42.4h0m0.7-40.9h0m0-8.8h0m0.1 11.5h0m0.1-5.3h0m0.2 41.5h0m0-46.4h0m0.3 16.1h0m0.6 31.3h0m0.2-41.4h0m0.2 6.2h0m0.4-8h0m0.3 45.2h0m0.3-50.9h0m0.2-10.4h0m0.3-2.1h0m0.3 19h0m0.3 2.4h0m0.1 39.4h0m0.2-48.6h0m0.6-12.5h0m0.1 5.3h0m0.2-3h0m0 56h0m0.9-66.3h0m0.2 1h0m0 66.3h0m0.1-74.7h0m0.1 72.5h0m0.6-74.3h0m0.1 23.6h0m0.1-8.2h0m0.2-3.4h0m0.1-8.8h0m0.1 6.2h0m0.4 67.9h0m0.3-117.4h0m0.1 39.2h0m0.2 15.4h0m0.1 61.8h0m0-108.3h0m0.5 40.3h0m0-45.1h0m0.1 117.6h0m0.2-78.6h0m0.3-25.8h0m0.2 9.9h0m0.6 26.1h0m0.2-10.6h0m0.1 9.8h0m0.3 60.8h0m0.1-63.3h0m0.2-7h0m0.2 1.9h0m0.4 70.2h0m0.6-62.3h0m0.2 65h0m0.1-58.9h0m0.2-0.7h0m0.2 60.1h0m0.3-73.7h0m0.3 12.4h0m0.1-10.7h0m0.2-10.9h0m0.3 12.1h0m0.4 70.9h0m0.1-84h0m0.2 81.6h0m0.4-72.7h0m0.1 2.8h0m0.4-10.3h0m0.4 78.3h0m0.3-80.6h0m0.1-5.4h0m0.1-14.6h0m0.4 38.8h0m0.7 0.9h0m0 65.5h0m0.1-73.9h0m0 8.4h0m0.4 3.1h0m0.1 0.1h0m0.1-48.4h0m0.1 4.5h0m0 105.8h0m0.8-54.9h0m0.1 53.8h0m0.3-57h0m0-14.4h0m0.2 16.6h0m0.3-29.1h0m0.5 85.3h0m0.1-66.1h0m0 15.5h0m0.1-11.4h0m0.5 59h0m0.2-41.6h0m0.2-9.1h0m0.2-2.7h0m0.2-0.4h0m0 54.7h0m0.8-53.5h0m0.2-10.7h0m0.3 66.9h0m0.1-55.2h0m0.3-17.3h0m0.2 68.2h0m0-69.2h0m0.4 6.9h0m0.3 3h0m0.3 59h0m0.1-73h0m0.4 19.4h0m0.3-12.3h0m0.2-16.7h0m0.1 18h0m0.4 61.5h0m0.2-61.4h0m0.1 4h0m0.1-2.4h0m0.4 68.4h0m0.6-61.6h0m0.3 1.3h0m0.1-6h0m0 63h0m0.7-42.1h0m0.2 39h0m0.1-41.5h0m0.4-6.6h0m0.2 51.5h0m0.4-59h0m0 4.8h0m0.1-10.5h0m0.4-28.7h0m0.2 89.8h0m0.1-86.9h0m0.5 6.8h0m0.1-38.6h0m0.1 120.6h0m0.1-91.6h0m0.2-1.4h0m0.1-0.1h0m0.6-21.1h0m0.1 51.7h0m0.2-9.7h0m0.2 11.1h0m0.2 65.6h0m0.3-93.8h0m0.1 6.9h0m0.3 7.3h0m0.4 78.2h0m0.5-0.1h0m0.1-106.6h0m0.1 3.7h0m0.4 1h0m0.8-18h0m0 4.7h0m0.1 109.8h0m0-110.7h0m0.7 15.1h0m0.1 100h0m0.1-101.8h0m0.2-9.8h0m0.1 115.3h0m0.1-103.8h0m0.6-1.7h0m0 2.7h0m0.2 7.6h0m0.3-2.1h0m0 91.3h0m0.2-98.4h0m0.6-3h0m0.2 8.8h0m0.1-13h0m0.2 109.3h0m0.5-119.2h0m0.1 4.7h0m0-4.4h0m0.1 114.7h0m1.4-110.1h0m0.2 0.4h0m0 101.4h0m0-101.2h0m0.3 0.9h0m0.1 7.3h0m0.1-6.9h0m0 103.7h0m0.6-104h0m0.1-0.1h0m0.1 103.4h0m0.2-106.4h0m0.9 15.7h0m0.1-2.8h0m0.1-6.5h0m0.5 101.9h0m0.1 1.3h0m0.1-95.9h0m0.1 4.7h0m0.1-1.5h0m0.6-17.2h0m0.1 7.4h0m0.4-4.2h0m0 105.3h0m0.8-105h0m0.1-10h0m0.2-16.3h0m0.1 135.4h0m0.1-160.5h0m0-6.6h0m0.1 59.8h0m0.1-46.3h0m0 36.1h0m0.1 109.3h0m0.1-128h0m0.1-10.4h0m0.1 13.8h0m0.7-0.6h0m0 2.2h0m0.4 122.1h0m0-109.4h0m0.6 7.8h0m0 104.4h0m0.1-91.3h0m0.5 15.5h0m0.6-11h0m0.2-2.9h0m0.3 95.2h0m0.2-90.6h0m0.2-6.1h0m0.1 101.1h0m0.3-92.5h0m0.1-17.1h0m0.9 12.6h0m0.1 81.8h0m0.1-84h0m0.2 4.8h0m0.2 86.9h0m0.5-89.4h0m0-5.1h0m0.3 16.9h0m0.4 76.6h0m0.1-75h0m0.2-3.3h0m0.2-2.4h0m0.3-2.5h0m0.4-1.9h0m0.2 3.2h0m0 90.3h0m0.3-103.3h0m0.1-3.9h0m0.1-3.2h0m0.1 104.7h0m1.2-118.4h0m0.1 3.1h0m0.1-4h0m0.2 118.8h0m0.6-0.6h0m0.2-95.5h0m0.1 9.7h0m0.1-10.3h0m0 28.7h0m0.7 9.2h0m0.1-11.2h0m0 74.2h0m0.3-74.1h0m0.2 15.4h0m0.1-12.1h0m0.2 75.9h0m0.7-72.8h0m0.1-5.1h0m0.1 16.6h0m0 57.3h0m0.9-50.6h0m0-6.2h0m0.1 10.3h0m0.4 46.2h0m0.5-3.5h0m0.1-43h0m0.2-1.7h0m0 7h0m0.5-14.8h0m0.3-8.1h0m0.2-12.8h0m0 80.8h0m0.6-4.7h0m0.3-80.4h0m0 0h0m0.2 0h0" fill="none" stroke="#1f77b4" stroke-width="5.7" stroke-linecap="round"/>
<path d="M116.5 955.4L117.5 951.8L118.5 941.1L119.5 935.8L120.5 928.6L121.5 923.8L122.5 921L123.5 920.6L124.5 919.6L125.5 925.4L126.5 934.5L127.5 944.3L128.5 950.9L129.5 947.8L130.5 944.2L131.5 940.4L132.5 934.2L133.5 929.4L134.5 923.3L135.5 921.5L136.5 919.7L137.5 914.8L138.5 910L139.5 909.6L140.5 916.6L141.5 923L142.5 927.9L143.5 932.1L144.5 935.8L145.5 941.3L146.5 945.3L147.5 949.1L148.5 953.7L149.5 956.4L150.5 958.8L151.5 960.6L152.5 962.8L153.5 959.6L154.5 953L155.5 949.9L156.5 944L157.5 939.3L158.5 933.5L159.5 943.6L160.5 958L161.5 943.4L162.5 919.4L163.5 904.4L164.5 922.1L165.5 936.1L166.5 936.3L167.5 937.3L168.5 940.6L169.5 943.6L170.5 948.4L171.5 954.6L172.5 955.5L173.5 952.2L174.5 948.8L175.5 948.7L176.5 958.4L177.5 959.8L178.5 951.8L179.5 943.9L180.5 941L181.5 934.1L182.5 924.5L183.5 917.2L184.5 911.8L185.5 902L186.5 894.3L187.5 890.3L188.5 901L189.5 914.9L190.5 944.9L191.5 964.5L192.5 970.7L193.5 976.3L194.5 977.8L195.5 974.5L196.5 969L197.5 957.9L198.5 944.5L199.5 934.4L200.5 944.8L201.5 960.3L202.5 970.4L203.5 979.2L204.5 988.5L205.5 984.8L206.5 977.9L207.5 968.2L208.5 956.5L209.5 946.7L210.5 957.6L211.5 971.4L212.5 981.4L213.5 958.7L214.5 934.6L215.5 922.6L216.5 925.5L217.5 929.6L218.5 952.3L219.5 979.3L220.5 985.6L221.5 983.6L222.5 977.6L223.5 968.9L224.5 958.8L225.5 956.9L226.5 972L227.5 984L228.5 982.9L229.5 979.7L230.5 976.9L231.5 976.4L232.5 978.8L233.5 979.5L234.5 981.5L235.5 981.9L236.5 972.6L237.5 958.2L238.5 947.3L239.5 937.8L240.5 940.6L241.5 962.1L242.5 983.5L243.5 973.4L244.5 959.2L245.5 945.8L246.5 954.9L247.5 964.8L248.5 957.5L249.5 951.8L250.5 959L251.5 966.8L252.5 952.7L253.5 940.2L254.5 935L255.5 927.6L256.5 916.7L257.5 905.4L258.5 891.3L259.5 914.7L260.5 943.8L261.5 931.8L262.5 900.8L263.5 900.4L264.5 921.7L265.5 922.9L266.5 901.5L267.5 878.6L268.5 854.5L269.5 888.4L270.5 955.6L271.5 983.3L272.5 987.1L273.5 988.6L274.5 989.6L275.5 990.1L276.5 989.5L277.5 989.8L278.5 990.7L279.5 989.5L280.5 990.8L281.5 991.5L282.5 989.9L283.5 988.2L284.5 989.2L285.5 990.8L286.5 991.3L287.5 990.6L288.5 990.3L289.5 989.1L290.5 989L291.5 988.4L292.5 988.7L293.5 989.4L294.5 988.4L295.5 989.2L296.5 989.3L297.5 989.3L298.5 989.1L299.5 989.3L300.5 989.8L301.5 988.9L302.5 988.2L303.5 989.6L304.5 989.5L305.5 990.1L306.5 989.9L307.5 990.3L308.5 990.6L309.5 989.3L310.5 990.2L311.5 989.9L312.5 989.8L313.5 989.9L314.5 990.1L315.5 990.2L316.5 989.4L317.5 989.6L318.5 988.7L319.5 989.5L320.5 989.3L321.5 989.5L322.5 989.2L323.5 989.4L324.5 989.7L325.5 990L326.5 989.2L327.5 989L328.5 989.3L329.5 989.3L330.5 989.5L331.5 988.7L332.5 988.7L333.5 989.1L334.5 988.7L335.5 988.9L336.5 989.1L337.5 989.3L338.5 989.2L339.5 989.1L340.5 989L341.5 989.2L342.5 989.9L343.5 989.4L344.5 990L345.5 988.8L346.5 989.4L347.5 985.5L348.5 981.2L349.5 977.9L350.5 983.5L351.5 990.3L352.5 989.1L353.5 982.5L354.5 981.2L355.5 987L356.5 989.1L357.5 984.4L358.5 982.5L359.5 988L360.5 990.9L361.5 989.5L362.5 991.2L363.5 990L364.5 990.6L365.5 989.9L366.5 990.5L367.5 989.7L368.5 989.5L369.5 989.3L370.5 990.7L371.5 990.6L372.5 990L373.5 989.5L374.5 989.2L375.5 989L376.5 989.9L377.5 990.3L378.5 988.7L379.5 989.7L380.5 989.1L381.5 990.6L382.5 989.1L383.5 990L384.5 990.1L385.5 989.8L386.5 990.6L387.5 990.5L388.5 990.6L389.5 990.1L390.5 990.5L391.5 990L392.5 990.4L393.5 990.1L394.5 990.1L395.5 990.5L396.5 990.3L397.5 990.4L398.5 990.2L399.5 990.2L400.5 989.8L401.5 989.9L402.5 989.9L403.5 990L404.5 988.8L405.5 989.1L406.5 989.5L407.5 989.6L408.5 988.8L409.5 990.4L410.5 990.4L411.5 990.7L412.5 991L413.5 991.7L414.5 992.4L415.5 992.5L416.5 992.7L417.5 993.3L418.5 993.8L419.5 993.3L420.5 993.9L421.5 993.8L422.5 993.9L423.5 994.1L424.5 995L425.5 995L426.5 994.6L427.5 994.9L428.5 994.8L429.5 994L430.5 994.8L431.5 994.8L432.5 995.3L433.5 994.7L434.5 994.1L435.5 992.7L436.5 993.1L437.5 992.7L438.5 993L439.5 992.5L440.5 993.6L441.5 993.6L442.5 992.8L443.5 993.5L444.5 993.2L445.5 993.2L446.5 992.7L447.5 993.2L448.5 993.6L449.5 993.8L450.5 993.7L451.5 994.4L452.5 994.1L453.5 994L454.5 993.2L455.5 993L456.5 992.1L457.5 991.9L458.5 991L459.5 990.7L460.5 990.1L461.5 991.8L462.5 991.6L463.5 993.4L464.5 991.5L465.5 990.7L466.5 990.2L467.5 990.4L468.5 991.1L469.5 992.3L470.5 992.8L471.5 993.8L472.5 993.7L473.5 993.6L474.5 994.5L475.5 994.7L476.5 994.8L477.5 995.6L478.5 994.8L479.5 995.2L480.5 994.6L481.5 994.9L482.5 994.6L483.5 994.6L484.5 994.5L485.5 994.3L486.5 994.2L487.5 994.4L488.5 994.3L489.5 994.6L490.5 993.8L491.5 993.6L492.5 993.7L493.5 993.4L494.5 993.5L495.5 993.4L496.5 993.8L497.5 993.9L498.5 994.5L499.5 993.9L500.5 994L501.5 993.4L502.5 994.3L503.5 994.1L504.5 994.2L505.5 994.2L506.5 993.9L507.5 994.5L508.5 995.5L509.5 993.7L510.5 993.3L511.5 994.7L512.5 994.3L513.5 995L514.5 995L515.5 994.5L516.5 995L517.5 995L518.5 984.2L519.5 972.2L520.5 970.2L521.5 968.2L522.5 979.8L523.5 992.6L524.5 993.3L525.5 992.1L526.5 992.2L527.5 991.7L528.5 988L529.5 987.6L530.5 988L531.5 990.9L532.5 993L533.5 994.5L534.5 994.3L535.5 994.3L536.5 993.8L537.5 994.2L538.5 994.2L539.5 994.1L540.5 994.3L541.5 994L542.5 994.1L543.5 994L544.5 994.2L545.5 994L546.5 994.3L547.5 993.9L548.5 993.7L549.5 993.6L550.5 993.3L551.5 992.8L552.5 992.9L553.5 992.1L554.5 992.5L555.5 992.5L556.5 992.4L557.5 992.3L558.5 992.7L559.5 992.5L560.5 993.4L561.5 992.6L562.5 993L563.5 993.4L564.5 992.5L565.5 993.7L566.5 993.4L567.5 993.1L568.5 993.6L569.5 993.5L570.5 994.3L571.5 993.5L572.5 993.7L573.5 993.9L574.5 993.8L575.5 994.1L576.5 993.3L577.5 993.3L578.5 993.2L579.5 992.9L580.5 993.3L581.5 992.9L582.5 993.3L583.5 993.5L584.5 992.6L585.5 993.8L586.5 994.2L587.5 994.2L588.5 994.5L589.5 994.5L590.5 994.2L591.5 994L592.5 994.1L593.5 993.9L594.5 994.1L595.5 994.3L596.5 994L597.5 993.9L598.5 994.1L599.5 994.2L600.5 993.8L601.5 994.4L602.5 994.2L603.5 993.9L604.5 994.5L605.5 994.2L606.5 993.8L607.5 994.4L608.5 993.4L609.5 994.5L610.5 994L611.5 994.2L612.5 993.1L613.5 993.7L614.5 992.9L615.5 992.3L616.5 992.4L617.5 991.4L618.5 991.9L619.5 991L620.5 991L621.5 990.6L622.5 993.5L623.5 994.3L624.5 994.6L625.5 994.3L626.5 994.2L627.5 994.8L628.5 995.2L629.5 995.4L630.5 996.2L631.5 995.4L632.5 995.8L633.5 995.6L634.5 995.8L635.5 995.2L636.5 995.2L637.5 995.3L638.5 994.3L639.5 994.6L640.5 994.8L641.5 995.4L642.5 993.9L643.5 994.5L644.5 994.5L645.5 994.2L646.5 994.3L647.5 993.9L648.5 994.4L649.5 994.5L650.5 993.9L651.5 993.9L652.5 993.6L653.5 994.6L654.5 993.6L655.5 993.9L656.5 994.6L657.5 994.9L658.5 994.2L659.5 993.9L660.5 993.6L661.5 993.9L662.5 994.2L663.5 994.7L664.5 994.6L665.5 993.9L666.5 994L667.5 994.5L668.5 994.6L669.5 994.3L670.5 994.1L671.5 994.1L672.5 994.4L673.5 994.9L674.5 994.5L675.5 994.1L676.5 994.6L677.5 994.6L678.5 994L679.5 994.2L680.5 994.4L681.5 994.1L682.5 994.6L683.5 994.2L684.5 994.4L685.5 994L686.5 994.1L687.5 994.4L688.5 994.3L689.5 994.5L690.5 994.5L691.5 993.8L692.5 994.7L693.5 994.6L694.5 994.6L695.5 992.9L696.5 992.8L697.5 991.9L698.5 991.5L699.5 991.7L700.5 991.7L701.5 992.4L702.5 993.5L703.5 993.3L704.5 993.6L705.5 993.8L706.5 995.1L707.5 994.7L708.5 994.6L709.5 994.9L710.5 994.2L711.5 994.7L712.5 993.6L713.5 993.1L714.5 992.2L715.5 993.1L716.5 992.5L717.5 993L718.5 994.2L719.5 994.1L720.5 995L721.5 995.5L722.5 995.6L723.5 994.9L724.5 995L725.5 995.4L726.5 994.2L727.5 994.2L728.5 994L729.5 993.5L730.5 992.9L731.5 994.3L732.5 993L733.5 993L734.5 992.8L735.5 993.4L736.5 992.5L737.5 993.6L738.5 993.5L739.5 992.8L740.5 992.6L741.5 993.8L742.5 993.3L743.5 993.6L744.5 993.7L745.5 993.5L746.5 993.9L747.5 992.6L748.5 993.2L749.5 993.4L750.5 993.1L751.5 994.1L752.5 994.1L753.5 993.6L754.5 993.2L755.5 992.8L756.5 993.1L757.5 992.6L758.5 992.9L759.5 992.6L760.5 992.1L761.5 991.8L762.5 991.3L763.5 990.9L764.5 990.8L765.5 990.8L766.5 991L767.5 990.7L768.5 991.6L769.5 992.5L770.5 993.2L771.5 992.8L772.5 993.4L773.5 993.7L774.5 993.9L775.5 994.7L776.5 994.8L777.5 994.3L778.5 993.2L779.5 993.3L780.5 993.9L781.5 993.3L782.5 992.7L783.5 992.4L784.5 991.6L785.5 992.8L786.5 992.5L787.5 992.4L788.5 992.4L789.5 992.8L790.5 993.3L791.5 993.2L792.5 992.7L793.5 994.1L794.5 993.2L795.5 993.9L796.5 993.4L797.5 993.4L798.5 994L799.5 993.4L800.5 993L801.5 993.5L802.5 993.8L803.5 993.1L804.5 993.3L805.5 993.1L806.5 992.8L807.5 993.3L808.5 993L809.5 992.1L810.5 993L811.5 993.3L812.5 992.2L813.5 992.1L814.5 991.5L815.5 990.2L816.5 989.5L817.5 991.7L818.5 992.5L819.5 994L820.5 993.8L821.5 993.1L822.5 991.8L823.5 990.7L824.5 989.8L825.5 990.4L826.5 991L827.5 990.7L828.5 990.8L829.5 991.7L830.5 991.7L831.5 992.7L832.5 992.4L833.5 992.6L834.5 991.7L835.5 990.7L836.5 990.6L837.5 990.6L838.5 991.6L839.5 992.1L840.5 992.4L841.5 992.9L842.5 993.2L843.5 992.9L844.5 993.3L845.5 994L846.5 994.6L847.5 966.3L848.5 937.5L849.5 952.4L850.5 949.9L851.5 938.1L852.5 925.6L853.5 932.1L854.5 944.4L855.5 956.6L856.5 953.7L857.5 948.5L858.5 952.6L859.5 959.6L860.5 968.8L861.5 956.5L862.5 955.4L863.5 964.2L864.5 967.6L865.5 961.7L866.5 958.2L867.5 962.9L868.5 968.3L869.5 966.9L870.5 958.2L871.5 950.5L872.5 941.5L873.5 933.4L874.5 924.2L875.5 929.2L876.5 940.4L877.5 952.4L878.5 966.4L879.5 979.3L880.5 967.4L881.5 954.1L882.5 945L883.5 951.4L884.5 958.8L885.5 970.5L886.5 969.3L887.5 962.9L888.5 967.7L889.5 974.2L890.5 972.6L891.5 969.9L892.5 977.4L893.5 982.9L894.5 989.9L895.5 973.5L896.5 950.6L897.5 943.3L898.5 936.2L899.5 919.1L900.5 937.1L901.5 966.7L902.5 972.7L903.5 973.6L904.5 964L905.5 955L906.5 952.3L907.5 962.1L908.5 971.1L909.5 960.2L910.5 948.9L911.5 955.3L912.5 961.9L913.5 959.6L914.5 963.2L915.5 969.9L916.5 975.5L917.5 981.3L918.5 977.9L919.5 976.3L920.5 973L921.5 974.5L922.5 977.5L923.5 978.7L924.5 978.2L925.5 975.1L926.5 974.6L927.5 974.4L928.5 976.1L929.5 978.3L930.5 977.4L931.5 979.6L932.5 978.1L933.5 976.4L934.5 975.7L935.5 976.2L936.5 978.2L937.5 979.4L938.5 982L939.5 984.1L940.5 979.5L941.5 972.6L942.5 963.9L943.5 963.3L944.5 972.7L945.5 961.5L946.5 941.4L947.5 947.7L948.5 956L949.5 955.6L950.5 956.9L951.5 966.5L952.5 971.6L953.5 973.8L954.5 975.9L955.5 976.4L956.5 975L957.5 974L958.5 970.6L959.5 972.9L960.5 974.4L961.5 977.6L962.5 976.5L963.5 975.4L964.5 975.5L965.5 975L966.5 980.5L967.5 984.7L968.5 982.8L969.5 979.3L970.5 977.2L971.5 977.2L972.5 976.7L973.5 978.3L974.5 979.7L975.5 979.5L976.5 981.5L977.5 981.3L978.5 981.6L979.5 980.8L980.5 978.5L981.5 977.5L982.5 976.9L983.5 975.9L984.5 974.9L985.5 975.7L986.5 981.5L987.5 980.4L988.5 979L989.5 977.8L990.5 975.8L991.5 978.8L992.5 980.7L993.5 983.2L994.5 983.5L995.5 985.6L996.5 981.7L997.5 977.5L998.5 978.5L999.5 978.7L1000.5 981.5L1001.5 981.1L1002.5 980.6L1003.5 982.7L1004.5 984.4L1005.5 988.1L1006.5 987.1L1007.5 983.6L1008.5 982.6L1009.5 984.7L1010.5 987.7L1011.5 987.2L1012.5 983.1L1013.5 981.8L1014.5 982.8L1015.5 985.1L1016.5 984.9L1017.5 985.3L1018.5 985.6L1019.5 986.8L1020.5 986.8L1021.5 986L1022.5 987.6L1023.5 987.2L1024.5 986.8L1025.5 983.4L1026.5 982.2L1027.5 978.8L1028.5 977.9L1029.5 980.8L1030.5 984.6L1031.5 985.5L1032.5 982.8L1033.5 980.9L1034.5 980.9L1035.5 981.5L1036.5 982.8L1037.5 982.6L1038.5 981.6L1039.5 981.5L1040.5 982.2L1041.5 985.4L1042.5 989.1L1043.5 986.4L1044.5 984.4L1045.5 981.9L1046.5 982.2L1047.5 982.7L1048.5 983.4L1049.5 984.6L1050.5 985.9L1051.5 986.7L1052.5 987.5L1053.5 989.3L1054.5 987.7L1055.5 986.3L1056.5 986.4L1057.5 987.2L1058.5 987.2L1059.5 986.7L1060.5 985.7L1061.5 983.2L1062.5 981.4L1063.5 981.9L1064.5 981.6L1065.5 983.6L1066.5 982.4L1067.5 981L1068.5 981.7L1069.5 982.2L1070.5 983.5L1071.5 983.1L1072.5 982.6L1073.5 980.8L1074.5 979.1L1075.5 978L1076.5 983.1L1077.5 986.5L1078.5 989.4L1079.5 988.2L1080.5 987L1081.5 985L1082.5 983.3L1083.5 984L1084.5 983.5L1085.5 979.5L1086.5 972L1087.5 966.7L1088.5 971.3L1089.5 982.7L1090.5 984.6L1091.5 985.4L1092.5 985.7L1093.5 986.6L1094.5 987L1095.5 987.6L1096.5 988.2L1097.5 987L1098.5 986.6L1099.5 985L1100.5 983.8L1101.5 982.6L1102.5 981L1103.5 980.7L1104.5 979.6L1105.5 977.3L1106.5 979.7L1107.5 983.2L1108.5 981.5L1109.5 980.1L1110.5 978.9L1111.5 977.8L1112.5 979.4L1113.5 980.1L1114.5 979.9L1115.5 982.6L1116.5 982L1117.5 981.3L1118.5 982.2L1119.5 981.3L1120.5 982.4L1121.5 980.5L1122.5 979.3L1123.5 978.1L1124.5 977.6L1125.5 979.7L1126.5 983.3L1127.5 983.8L1128.5 985L1129.5 984.7L1130.5 985.3L1131.5 984.5L1132.5 983.3L1133.5 980.6L1134.5 979.9L1135.5 977.9L1136.5 981L1137.5 982.3L1138.5 981.8L1139.5 984.7L1140.5 984.3L1141.5 984.1L1142.5 982.7L1143.5 981.5L1144.5 980.7L1145.5 980.1L1146.5 982.3L1147.5 986.1L1148.5 986.5L1149.5 985.2L1150.5 983.8L1151.5 981.9L1152.5 983.3L1153.5 983.6L1154.5 984.2L1155.5 983.1L1156.5 982.1L1157.5 982.3L1158.5 981L1159.5 980L1160.5 981.4L1161.5 983L1162.5 984.6L1163.5 985.1L1164.5 984.9L1165.5 984L1166.5 983.9L1167.5 983.9L1168.5 983.3L1169.5 984.3L1170.5 985.2L1171.5 984.4L1172.5 984.1L1173.5 984.5L1174.5 986.2L1175.5 988.7L1176.5 986.7L1177.5 986.7L1178.5 986.3L1179.5 984.3L1180.5 983.4L1181.5 981.2L1182.5 980.2L1183.5 981.9L1184.5 985.4L1185.5 987.9L1186.5 988.4L1187.5 988L1188.5 988.2L1189.5 988.6L1190.5 988.5L1191.5 988L1192.5 987.2L1193.5 986.2L1194.5 985.4L1195.5 984.8L1196.5 984.5L1197.5 985.6L1198.5 983.9L1199.5 984.3L1200.5 984.6L1201.5 988.6L1202.5 990.9L1203.5 993.7L1204.5 990.3L1205.5 992L1206.5 999.2L1207.5 1003.4L1208.5 995.7L1209.5 989.4L1210.5 985.8L1211.5 985.4L1212.5 987L1213.5 985.8L1214.5 985.8L1215.5 986.2L1216.5 986L1217.5 983.9L1218.5 982.1L1219.5 980.6L1220.5 978.3L1221.5 977.3L1222.5 975L1223.5 977.5L1224.5 980.9L1225.5 983.2L1226.5 982.5L1227.5 981.2L1228.5 978.8L1229.5 976.7L1230.5 975.2L1231.5 979.8L1232.5 982.1L1233.5 984.6L1234.5 985L1235.5 985.7L1236.5 983.9L1237.5 984.8L1238.5 984.8L1239.5 985.2L1240.5 984L1241.5 983.4L1242.5 983.7L1243.5 983.3L1244.5 983.9L1245.5 986.4L1246.5 986.6L1247.5 988.8L1248.5 989.2L1249.5 987.9L1250.5 987L1251.5 985.3L1252.5 984L1253.5 982.3L1254.5 983.2L1255.5 983.1L1256.5 982.8L1257.5 984.9L1258.5 984.3L1259.5 985.9L1260.5 985.2L1261.5 984.6L1262.5 985.2L1263.5 983.5L1264.5 982.4L1265.5 983.2L1266.5 984.3L1267.5 985.3L1268.5 985.8L1269.5 986.8L1270.5 986.7L1271.5 985.3L1272.5 985.5L1273.5 984.5L1274.5 984.2L1275.5 982.5L1276.5 981.8L1277.5 981.7L1278.5 979.5L1279.5 978.7L1280.5 978.1L1281.5 980.2L1282.5 979.2L1283.5 981.5L1284.5 983.1L1285.5 984.5L1286.5 984.2L1287.5 982.6L1288.5 982.7L1289.5 980.7L1290.5 981.3L1291.5 982.1L1292.5 982.6L1293.5 982.9L1294.5 981.4L1295.5 979.6L1296.5 977.6L1297.5 977.3L1298.5 978.3L1299.5 980.4L1300.5 982.8L1301.5 982.2L1302.5 981.5L1303.5 979.3L1304.5 977.9L1305.5 978.6L1306.5 979.5L1307.5 981.3L1308.5 983L1309.5 985.3L1310.5 987.2L1311.5 988.2L1312.5 986.7L1313.5 986.6L1314.5 984.7L1315.5 984.7L1316.5 982.4L1317.5 981L1318.5 979.2L1319.5 980.8L1320.5 983.7L1321.5 981.3L1322.5 976.3L1323.5 972.1L1324.5 967.6L1325.5 963.4L1326.5 962.7L1327.5 966.9L1328.5 971.3L1329.5 975.9L1330.5 978.6L1331.5 981.1L1332.5 984.1L1333.5 984.8L1334.5 983.9L1335.5 982L1336.5 980.3L1337.5 978.5L1338.5 977L1339.5 976.9L1340.5 979.1L1341.5 980.5L1342.5 981.9L1343.5 984.1L1344.5 984.4L1345.5 981.1L1346.5 982L1347.5 980.2L1348.5 979.9L1349.5 976.8L1350.5 973L1351.5 971.6L1352.5 970.2L1353.5 972.5L1354.5 974.6L1355.5 971L1356.5 966.3L1357.5 961.5L1358.5 957.2L1359.5 952.6L1360.5 956.2L1361.5 970.9L1362.5 986.3L1363.5 986.1L1364.5 983.5L1365.5 983L1366.5 979.6L1367.5 980.2L1368.5 979.6L1369.5 978.5L1370.5 977.6L1371.5 974.8L1372.5 970.8L1373.5 967.8L1374.5 964.1L1375.5 965.7L1376.5 967.2L1377.5 972.9L1378.5 975.1L1379.5 974.4L1380.5 975.2L1381.5 973.4L1382.5 971.7L1383.5 969.8L1384.5 965.2L1385.5 961.8L1386.5 957.5L1387.5 958.9L1388.5 963L1389.5 967.9L1390.5 964.2L1391.5 962.3L1392.5 964.7L1393.5 968.9L1394.5 972.3L1395.5 976.3L1396.5 974L1397.5 974L1398.5 971.8L1399.5 972.1L1400.5 968.2L1401.5 957.7L1402.5 951.8L1403.5 942.1L1404.5 947.9L1405.5 956.1L1406.5 963.4L1407.5 959.7L1408.5 957.5L1409.5 952.5L1410.5 954.6L1411.5 959.5L1412.5 958.5L1413.5 952.9L1414.5 955L1415.5 961.7L1416.5 961.3L1417.5 953.8L1418.5 946.4L1419.5 955.6L1420.5 963.1L1421.5 973.2L1422.5 957.7L1423.5 940L1424.5 943L1425.5 946.9L1426.5 945.7L1427.5 943.2L1428.5 944L1429.5 948.1L1430.5 951.7L1431.5 951.5L1432.5 945.9L1433.5 937.3L1434.5 937.2L1435.5 943.6L1436.5 949.2L1437.5 954.2L1438.5 957.2L1439.5 961L1440.5 954.5L1441.5 946.4L1442.5 938L1443.5 932.1L1444.5 924.2L1445.5 934.4L1446.5 945.2L1447.5 952.3L1448.5 950.1L1449.5 948.4L1450.5 946.7L1451.5 948L1452.5 949.5L1453.5 943.2L1454.5 934.6L1455.5 935.5L1456.5 943.5L1457.5 952.2L1458.5 957.9L1459.5 965.3L1460.5 966.8L1461.5 968.7L1462.5 968.3" fill="none" stroke="#ff7f0e" stroke-width="2.1" stroke-linejoin="round" stroke-linecap="butt"/>
</g>
<path d="M116.5 1054.3v4.9M284.8 1054.3v4.9M453 1054.3v4.9M621.3 1054.3v4.9M789.6 1054.3v4.9M957.9 1054.3v4.9M1126.1 1054.3v4.9M1294.4 1054.3v4.9M116.5 1036.5h-4.9M116.5 983.4h-4.9M116.5 930.2h-4.9M116.5 877.1h-4.9M116.5 824h-4.9M116.5 770.9h-4.9M116.5 717.8h-4.9M116.5 664.6h-4.9M116.5 611.5h-4.9" stroke="#000" stroke-width="1.1" fill="none"/>
<rect x="116.5" y="578.3" width="1346" height="476" fill="none" stroke="#000" stroke-width="1.1"/>
<rect x="1047.5" y="588.5" width="406.5" height="79.6" rx="3.5" fill="#fff" fill-opacity="0.8" stroke="#ccc" stroke-opacity="0.8" stroke-width="1.1"/>
<circle cx="1073.5" cy="603.4" r="2.85" fill="#1f77b4"/>
<path d="M1052.9 641.8H1092" stroke="#ff7f0e" stroke-width="2.1"/>
<text x="1105.8" y="609.1" font-size="19" text-anchor="start" textLength="98.8" lengthAdjust="spacingAndGlyphs" stroke="#000" stroke-width="0.5" stroke-linejoin="round" >Raw Data</text>
<text x="1105.8" y="635.7" font-size="19" text-anchor="start" textLength="269.8" lengthAdjust="spacingAndGlyphs" stroke="#000" stroke-width="0.5" stroke-linejoin="round" >Butterworth Filtered Data</text>
<text x="1105.8" y="656.6" font-size="19" text-anchor="start" textLength="338.6" lengthAdjust="spacingAndGlyphs" stroke="#000" stroke-width="0.5" stroke-linejoin="round" >(N=6, Tc=3.3333 min, Type: low)</text>
<text x="784.8" y="30.2" font-size="28.6" text-anchor="middle" textLength="300.2" lengthAdjust="spacingAndGlyphs" stroke="#000" stroke-width="0.5" stroke-linejoin="round" >10.0 MHz N0000047</text>
<text x="115.6" y="29.6" font-size="26.5" text-anchor="start" textLength="41.5" lengthAdjust="spacingAndGlyphs" stroke="#000" stroke-width="0.5" stroke-linejoin="round" >(a)</text>
<text x="115.6" y="569.5" font-size="26.5" text-anchor="start" textLength="42.8" lengthAdjust="spacingAndGlyphs" stroke="#000" stroke-width="0.5" stroke-linejoin="round" >(b)</text>
<text x="105.6" y="522.3" font-size="22" text-anchor="end" textLength="31.8" lengthAdjust="spacingAndGlyphs" stroke="#000" stroke-width="0.5" stroke-linejoin="round" >−3</text>
<text x="105.6" y="455" font-size="22" text-anchor="end" textLength="31.8" lengthAdjust="spacingAndGlyphs" stroke="#000" stroke-width="0.5" stroke-linejoin="round" >−2</text>
<text x="105.6" y="387.8" font-size="22" text-anchor="end" textLength="31.8" lengthAdjust="spacingAndGlyphs" stroke="#000" stroke-width="0.5" stroke-linejoin="round" >−1</text>
<text x="105.6" y="320.5" font-size="22" text-anchor="end" textLength="14.4" lengthAdjust="spacingAndGlyphs" stroke="#000" stroke-width="0.5" stroke-linejoin="round" >0</text>
<text x="105.6" y="253.2" font-size="22" text-anchor="end" textLength="14.4" lengthAdjust="spacingAndGlyphs" stroke="#000" stroke-width="0.5" stroke-linejoin="round" >1</text>
<text x="105.6" y="186" font-size="22" text-anchor="end" textLength="14.4" lengthAdjust="spacingAndGlyphs" stroke="#000" stroke-width="0.5" stroke-linejoin="round" >2</text>
<text x="105.6" y="118.7" font-size="22" text-anchor="end" textLength="14.4" lengthAdjust="spacingAndGlyphs" stroke="#000" stroke-width="0.5" stroke-linejoin="round" >3</text>
<text x="105.6" y="51.4" font-size="22" text-anchor="end" textLength="14.4" lengthAdjust="spacingAndGlyphs" stroke="#000" stroke-width="0.5" stroke-linejoin="round" >4</text>
<text x="105" y="1044.4" font-size="22" text-anchor="end" textLength="54.8" lengthAdjust="spacingAndGlyphs" stroke="#000" stroke-width="0.5" stroke-linejoin="round" >0.00</text>
<text x="105" y="991.3" font-size="22" text-anchor="end" textLength="54.8" lengthAdjust="spacingAndGlyphs" stroke="#000" stroke-width="0.5" stroke-linejoin="round" >0.01</text>
<text x="105" y="938.1" font-size="22" text-anchor="end" textLength="54.8" lengthAdjust="spacingAndGlyphs" stroke="#000" stroke-width="0.5" stroke-linejoin="round" >0.02</text>
<text x="105" y="885" font-size="22" text-anchor="end" textLength="54.8" lengthAdjust="spacingAndGlyphs" stroke="#000" stroke-width="0.5" stroke-linejoin="round" >0.03</text>
<text x="105" y="831.9" font-size="22" text-anchor="end" textLength="54.8" lengthAdjust="spacingAndGlyphs" stroke="#000" stroke-width="0.5" stroke-linejoin="round" >0.04</text>
<text x="105" y="778.8" font-size="22" text-anchor="end" textLength="54.8" lengthAdjust="spacingAndGlyphs" stroke="#000" stroke-width="0.5" stroke-linejoin="round" >0.05</text>
<text x="105" y="725.6" font-size="22" text-anchor="end" textLength="54.8" lengthAdjust="spacingAndGlyphs" stroke="#000" stroke-width="0.5" stroke-linejoin="round" >0.06</text>
<text x="105" y="672.5" font-size="22" text-anchor="end" textLength="54.8" lengthAdjust="spacingAndGlyphs" stroke="#000" stroke-width="0.5" stroke-linejoin="round" >0.07</text>
<text x="105" y="619.4" font-size="22" text-anchor="end" textLength="54.8" lengthAdjust="spacingAndGlyphs" stroke="#000" stroke-width="0.5" stroke-linejoin="round" >0.08</text>
<g transform="translate(113.8 1076.3) rotate(-30)">
<text x="0" y="0" font-size="22" text-anchor="end" textLength="112" lengthAdjust="spacingAndGlyphs" stroke="#000" stroke-width="0.5" stroke-linejoin="round" >11-02 00</text>
</g>
<g transform="translate(282.1 1076.3) rotate(-30)">
<text x="0" y="0" font-size="22" text-anchor="end" textLength="112" lengthAdjust="spacingAndGlyphs" stroke="#000" stroke-width="0.5" stroke-linejoin="round" >11-02 03</text>
</g>
<g transform="translate(450.3 1076.3) rotate(-30)">
<text x="0" y="0" font-size="22" text-anchor="end" textLength="112" lengthAdjust="spacingAndGlyphs" stroke="#000" stroke-width="0.5" stroke-linejoin="round" >11-02 06</text>
</g>
<g transform="translate(618.6 1076.3) rotate(-30)">
<text x="0" y="0" font-size="22" text-anchor="end" textLength="112" lengthAdjust="spacingAndGlyphs" stroke="#000" stroke-width="0.5" stroke-linejoin="round" >11-02 09</text>
</g>
<g transform="translate(786.9 1076.3) rotate(-30)">
<text x="0" y="0" font-size="22" text-anchor="end" textLength="112" lengthAdjust="spacingAndGlyphs" stroke="#000" stroke-width="0.5" stroke-linejoin="round" >11-02 12</text>
</g>
<g transform="translate(955.1 1076.3) rotate(-30)">
<text x="0" y="0" font-size="22" text-anchor="end" textLength="112" lengthAdjust="spacingAndGlyphs" stroke="#000" stroke-width="0.5" stroke-linejoin="round" >11-02 15</text>
</g>
<g transform="translate(1123.4 1076.3) rotate(-30)">
<text x="0" y="0" font-size="22" text-anchor="end" textLength="112" lengthAdjust="spacingAndGlyphs" stroke="#000" stroke-width="0.5" stroke-linejoin="round" >11-02 18</text>
</g>
<g transform="translate(1291.7 1076.3) rotate(-30)">
<text x="0" y="0" font-size="22" text-anchor="end" textLength="112" lengthAdjust="spacingAndGlyphs" stroke="#000" stroke-width="0.5" stroke-linejoin="round" >11-02 21</text>
</g>
<text x="789" y="1157.6" font-size="23.5" text-anchor="middle" textLength="50" lengthAdjust="spacingAndGlyphs" stroke="#000" stroke-width="0.5" stroke-linejoin="round" >UTC</text>
<g transform="translate(61.6 276.4) rotate(-90)">
<text x="0" y="0" font-size="23.5" text-anchor="middle" textLength="224" lengthAdjust="spacingAndGlyphs" stroke="#000" stroke-width="0.5" stroke-linejoin="round" >Doppler Shift [Hz]</text>
</g>
<g transform="translate(40.2 817.1) rotate(-90)">
<text x="0" y="0" font-size="23.5" text-anchor="middle" textLength="207" lengthAdjust="spacingAndGlyphs" stroke="#000" stroke-width="0.5" stroke-linejoin="round" >Peak Voltage [V]</text>
</g>
</svg>
</body></html>
